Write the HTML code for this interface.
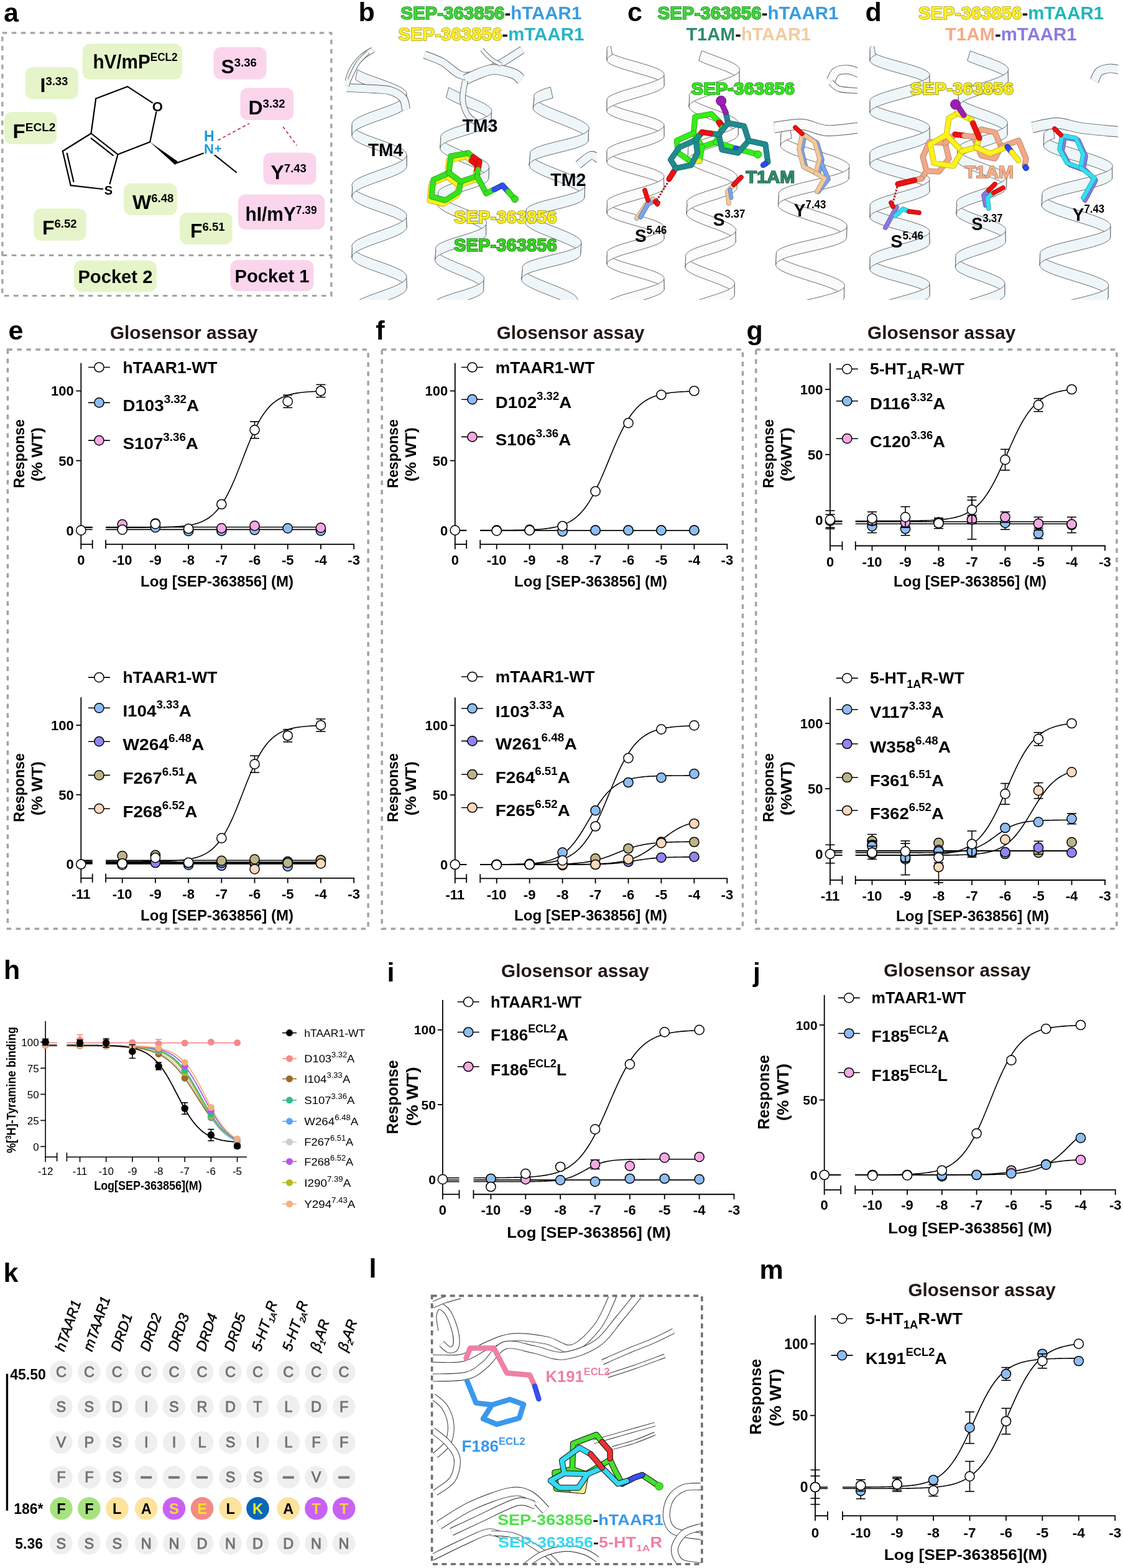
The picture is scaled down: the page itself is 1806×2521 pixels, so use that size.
<!DOCTYPE html>
<html><head><meta charset="utf-8"><title>Figure</title>
<style>html,body{margin:0;padding:0;background:#fff;} svg{display:block;} text{font-family:"Liberation Sans",Arial,Helvetica,sans-serif;}</style>
</head><body>
<svg width="1806" height="2521" viewBox="0 0 1806 2521">
<rect x="0" y="0" width="1806" height="2521" fill="#fff"/>
<defs><clipPath id="cb"><rect x="555" y="74" width="405" height="408"/></clipPath><clipPath id="cc"><rect x="975" y="74" width="404" height="408"/></clipPath><clipPath id="cd"><rect x="1393" y="74" width="405" height="408"/></clipPath><clipPath id="cl"><rect x="696" y="2085" width="431" height="428"/></clipPath></defs>
<path d="M857.3,174.4 L857.9,176.4 L859.4,178.4 L861.5,180.4 L864.4,182.5 L867.9,184.7 L872.0,186.9 L876.6,189.1 L881.6,191.3 L887.0,193.6 L892.6,195.9 L898.4,198.2 L904.2,200.5 L910.0,202.8 L915.6,205.1 L921.1,207.3 L926.1,209.6 L930.8,211.8 L934.9,214.0 L938.5,216.1 L941.5,218.2 L943.7,220.3 L945.2,222.3 L946.0,224.3 L946.0,226.2 L946.6,209.0 L947.3,207.2 L947.2,205.3 L946.4,203.3 L944.8,201.3 L942.5,199.2 L939.5,197.1 L935.9,195.0 L931.7,192.8 L927.0,190.5 L921.9,188.3 L916.4,186.0 L910.8,183.7 L905.0,181.4 L899.1,179.1 L893.4,176.8 L887.7,174.5 L882.4,172.3 L877.4,170.0 L872.9,167.8 L868.8,165.6 L865.4,163.5 L862.6,161.4 L860.5,159.4 L859.1,157.4Z" fill="#eef6fa" stroke="#5a5a5a" stroke-width="0.9" stroke-linejoin="round" clip-path="url(#cb)"/>
<path d="M851.0,265.5 L851.4,267.4 L852.5,269.4 L854.4,271.5 L857.0,273.5 L860.3,275.7 L864.2,277.8 L868.6,280.0 L873.4,282.3 L878.7,284.5 L884.2,286.8 L890.0,289.1 L895.8,291.4 L901.6,293.7 L907.3,296.0 L912.9,298.3 L918.1,300.5 L922.9,302.8 L927.2,305.0 L931.0,307.1 L934.2,309.2 L936.7,311.3 L938.5,313.3 L939.6,315.3 L939.9,317.3 L940.7,300.1 L941.2,298.2 L940.8,296.3 L939.7,294.3 L937.8,292.3 L935.2,290.2 L932.0,288.1 L928.2,285.9 L923.8,283.7 L918.9,281.5 L913.7,279.2 L908.1,276.9 L902.4,274.7 L896.6,272.4 L890.7,270.1 L885.0,267.8 L879.5,265.5 L874.3,263.2 L869.4,261.0 L865.1,258.8 L861.3,256.6 L858.0,254.5 L855.5,252.4 L853.7,250.4 L852.6,248.4Z" fill="#eef6fa" stroke="#5a5a5a" stroke-width="0.9" stroke-linejoin="round" clip-path="url(#cb)"/>
<path d="M844.9,356.6 L845.0,358.5 L845.8,360.5 L847.4,362.5 L849.8,364.5 L852.8,366.6 L856.4,368.8 L860.6,371.0 L865.4,373.2 L870.5,375.5 L875.9,377.7 L881.6,380.0 L887.4,382.3 L893.2,384.6 L899.0,386.9 L904.6,389.2 L909.9,391.5 L914.9,393.7 L919.5,395.9 L923.5,398.1 L926.9,400.2 L929.7,402.3 L931.8,404.4 L933.1,406.4 L933.7,408.3 L934.8,391.2 L934.9,389.3 L934.3,387.4 L932.9,385.4 L930.7,383.3 L927.9,381.2 L924.4,379.1 L920.4,376.9 L915.8,374.7 L910.8,372.4 L905.4,370.2 L899.8,367.9 L894.0,365.6 L888.2,363.3 L882.4,361.0 L876.7,358.7 L871.3,356.4 L866.2,354.2 L861.5,352.0 L857.4,349.8 L853.8,347.6 L850.8,345.5 L848.5,343.4 L847.0,341.4 L846.2,339.5Z" fill="#eef6fa" stroke="#5a5a5a" stroke-width="0.9" stroke-linejoin="round" clip-path="url(#cb)"/>
<path d="M838.6,449.6 L839.2,451.5 L840.5,453.5 L842.6,455.5 L845.4,457.6 L848.8,459.8 L852.8,462.0 L857.3,464.2 L862.3,466.4 L867.6,468.7 L873.2,471.0 L879.0,473.3 L884.8,475.6 L890.6,477.9 L896.3,480.1 L901.8,482.4 L906.9,484.7 L911.6,486.9 L915.8,489.1 L919.5,491.2 L922.5,493.3 L924.9,495.4 L926.5,497.4 L927.3,499.4 L927.4,501.3 L928.1,484.2 L928.7,482.3 L928.6,480.4 L927.6,478.4 L926.0,476.4 L923.5,474.3 L920.5,472.2 L916.8,470.0 L912.5,467.9 L907.7,465.6 L902.6,463.4 L897.1,461.1 L891.4,458.8 L885.6,456.5 L879.8,454.2 L874.0,451.9 L868.4,449.6 L863.1,447.4 L858.2,445.1 L853.7,442.9 L849.7,440.7 L846.4,438.6 L843.7,436.5 L841.7,434.5 L840.4,432.5Z" fill="#eef6fa" stroke="#5a5a5a" stroke-width="0.9" stroke-linejoin="round" clip-path="url(#cb)"/>
<path d="M889.1,157.5 L883.4,159.0 L878.2,160.6 L873.4,162.2 L869.1,163.8 L865.3,165.4 L862.3,167.1 L859.9,168.9 L858.3,170.7 L857.4,172.5 L857.3,174.4 L859.1,157.4 L858.5,155.4 L858.7,153.5 L859.6,151.7 L861.3,149.9 L863.8,148.2 L866.9,146.5 L870.7,144.8 L875.0,143.2 L879.9,141.6 L885.2,140.1Z" fill="#eef6fa" stroke="#5a5a5a" stroke-width="0.9" stroke-linejoin="round" clip-path="url(#cb)"/>
<path d="M946.0,226.2 L945.2,228.0 L943.7,229.8 L941.4,231.6 L938.4,233.3 L934.8,234.9 L930.5,236.6 L925.8,238.1 L920.6,239.7 L915.0,241.2 L909.2,242.7 L903.1,244.2 L897.0,245.7 L891.0,247.2 L885.0,248.7 L879.3,250.3 L873.9,251.8 L868.9,253.4 L864.4,255.0 L860.5,256.6 L857.1,258.3 L854.5,260.0 L852.6,261.8 L851.4,263.6 L851.0,265.5 L852.6,248.4 L852.3,246.5 L852.8,244.6 L854.0,242.8 L856.0,241.0 L858.7,239.3 L862.1,237.6 L866.1,236.0 L870.6,234.4 L875.6,232.8 L881.1,231.3 L886.8,229.8 L892.8,228.3 L898.9,226.8 L904.9,225.3 L910.9,223.8 L916.8,222.3 L922.3,220.7 L927.5,219.2 L932.2,217.6 L936.4,216.0 L940.0,214.3 L942.9,212.6 L945.1,210.8 L946.6,209.0Z" fill="#eef6fa" stroke="#5a5a5a" stroke-width="0.9" stroke-linejoin="round" clip-path="url(#cb)"/>
<path d="M939.9,317.3 L939.4,319.1 L938.1,320.9 L936.1,322.7 L933.4,324.4 L930.0,326.1 L926.0,327.8 L921.4,329.3 L916.4,330.9 L910.9,332.5 L905.2,334.0 L899.2,335.5 L893.1,337.0 L887.1,338.5 L881.1,340.0 L875.2,341.5 L869.7,343.0 L864.5,344.6 L859.8,346.2 L855.7,347.8 L852.1,349.4 L849.2,351.2 L847.0,352.9 L845.6,354.7 L844.9,356.6 L846.2,339.5 L846.2,337.6 L846.9,335.7 L848.5,333.9 L850.7,332.2 L853.7,330.5 L857.3,328.8 L861.5,327.2 L866.3,325.6 L871.4,324.0 L877.0,322.5 L882.8,321.0 L888.9,319.5 L894.9,318.0 L901.0,316.5 L907.0,315.0 L912.7,313.5 L918.1,311.9 L923.1,310.4 L927.6,308.8 L931.6,307.1 L934.9,305.4 L937.6,303.7 L939.6,301.9 L940.7,300.1Z" fill="#eef6fa" stroke="#5a5a5a" stroke-width="0.9" stroke-linejoin="round" clip-path="url(#cb)"/>
<path d="M933.7,408.3 L933.5,410.2 L932.5,412.1 L930.8,413.8 L928.3,415.6 L925.2,417.3 L921.4,418.9 L917.0,420.5 L912.1,422.1 L906.8,423.7 L901.2,425.2 L895.3,426.7 L889.2,428.2 L883.1,429.7 L877.1,431.2 L871.2,432.7 L865.5,434.2 L860.2,435.8 L855.4,437.3 L851.0,439.0 L847.2,440.6 L844.0,442.3 L841.6,444.0 L839.8,445.8 L838.8,447.7 L838.6,449.6 L840.4,432.5 L839.9,430.5 L840.2,428.7 L841.2,426.8 L843.0,425.0 L845.5,423.3 L848.8,421.6 L852.6,420.0 L857.0,418.4 L862.0,416.8 L867.3,415.2 L873.0,413.7 L878.9,412.2 L884.9,410.7 L891.0,409.2 L897.1,407.7 L902.9,406.2 L908.6,404.7 L913.8,403.1 L918.7,401.6 L923.0,399.9 L926.7,398.3 L929.8,396.6 L932.2,394.8 L933.9,393.1 L934.8,391.2Z" fill="#eef6fa" stroke="#5a5a5a" stroke-width="0.9" stroke-linejoin="round" clip-path="url(#cb)"/>
<path d="M927.4,501.3 L926.8,503.2 L925.3,505.0 L923.1,506.7 L920.2,508.4 L916.7,510.1 L912.5,511.7 L907.8,513.3 L902.7,514.9 L897.1,516.4 L891.3,517.9 L885.3,519.4 L879.2,520.9 L873.2,522.4 L867.2,523.9 L861.4,525.4 L856.0,527.0 L852.6,509.6 L857.7,508.0 L863.2,506.5 L869.0,504.9 L875.0,503.4 L881.0,501.9 L887.1,500.4 L893.1,498.9 L898.9,497.4 L904.4,495.9 L909.5,494.3 L914.2,492.7 L918.3,491.1 L921.8,489.4 L924.6,487.7 L926.7,486.0 L928.1,484.2Z" fill="#eef6fa" stroke="#5a5a5a" stroke-width="0.9" stroke-linejoin="round" clip-path="url(#cb)"/>
<path d="M717.6,156.4 L720.6,158.4 L724.1,160.5 L728.0,162.5 L732.3,164.6 L737.0,166.6 L741.9,168.7 L746.9,170.8 L752.0,172.9 L757.1,175.0 L762.1,177.1 L766.9,179.2 L771.4,181.3 L775.6,183.3 L779.3,185.4 L782.6,187.4 L785.3,189.4 L787.5,191.3 L789.0,193.2 L789.8,195.1 L790.0,197.0 L790.2,181.0 L790.8,179.2 L790.7,177.3 L789.9,175.4 L788.5,173.5 L786.4,171.5 L783.7,169.5 L780.5,167.5 L776.8,165.5 L772.7,163.4 L768.2,161.4 L763.4,159.3 L758.4,157.2 L753.4,155.1 L748.2,153.0 L743.2,150.9 L738.3,148.8 L733.6,146.7 L729.2,144.7 L725.3,142.6 L721.7,140.6Z" fill="#eef6fa" stroke="#5a5a5a" stroke-width="0.9" stroke-linejoin="round" clip-path="url(#cb)"/>
<path d="M707.8,238.0 L708.0,239.8 L708.9,241.7 L710.4,243.7 L712.6,245.6 L715.4,247.6 L718.6,249.6 L722.4,251.7 L726.6,253.7 L731.2,255.8 L736.0,257.9 L741.0,260.0 L746.1,262.1 L751.2,264.2 L756.2,266.3 L761.1,268.4 L765.7,270.4 L770.0,272.5 L773.9,274.5 L777.4,276.6 L780.3,278.6 L782.6,280.5 L784.4,282.5 L785.5,284.4 L785.9,286.3 L786.4,270.3 L786.7,268.4 L786.4,266.5 L785.3,264.6 L783.7,262.7 L781.4,260.7 L778.5,258.7 L775.1,256.7 L771.3,254.7 L767.0,252.6 L762.4,250.5 L757.5,248.4 L752.5,246.4 L747.4,244.3 L742.3,242.2 L737.3,240.1 L732.5,238.0 L727.9,235.9 L723.7,233.8 L719.8,231.8 L716.5,229.8 L713.7,227.8 L711.5,225.8 L709.9,223.9 L708.9,222.0Z" fill="#eef6fa" stroke="#5a5a5a" stroke-width="0.9" stroke-linejoin="round" clip-path="url(#cb)"/>
<path d="M703.8,327.2 L703.7,329.1 L704.4,331.0 L705.7,332.9 L707.6,334.8 L710.2,336.8 L713.3,338.8 L716.9,340.9 L721.0,342.9 L725.4,345.0 L730.1,347.1 L735.0,349.1 L740.1,351.2 L745.2,353.3 L750.3,355.4 L755.3,357.5 L760.0,359.6 L764.4,361.7 L768.5,363.7 L772.1,365.8 L775.2,367.8 L777.7,369.7 L779.7,371.7 L781.0,373.6 L781.7,375.5 L781.6,377.4 L781.7,361.3 L782.4,359.5 L782.5,357.7 L781.9,355.8 L780.7,353.9 L778.8,351.9 L776.3,349.9 L773.3,347.9 L769.7,345.9 L765.7,343.8 L761.3,341.8 L756.6,339.7 L751.6,337.6 L746.6,335.5 L741.5,333.4 L736.4,331.3 L731.4,329.2 L726.7,327.1 L722.2,325.1 L718.1,323.0 L714.5,321.0 L711.3,319.0 L708.7,317.0 L706.7,315.1 L705.3,313.1 L704.6,311.2Z" fill="#eef6fa" stroke="#5a5a5a" stroke-width="0.9" stroke-linejoin="round" clip-path="url(#cb)"/>
<path d="M699.5,418.3 L700.0,420.2 L701.0,422.1 L702.7,424.1 L705.1,426.0 L708.0,428.0 L711.4,430.0 L715.3,432.1 L719.6,434.1 L724.3,436.2 L729.1,438.3 L734.2,440.4 L739.3,442.5 L744.4,444.6 L749.4,446.7 L754.2,448.8 L758.7,450.8 L762.9,452.9 L766.7,454.9 L770.0,457.0 L772.8,458.9 L774.9,460.9 L776.5,462.8 L777.4,464.7 L777.6,466.6 L777.9,450.6 L778.4,448.8 L778.3,446.9 L777.4,445.0 L776.0,443.1 L773.9,441.1 L771.2,439.1 L767.9,437.1 L764.2,435.1 L760.0,433.0 L755.5,430.9 L750.7,428.9 L745.7,426.8 L740.6,424.7 L735.5,422.6 L730.5,420.5 L725.6,418.4 L720.9,416.3 L716.6,414.3 L712.6,412.2 L709.1,410.2 L706.2,408.2 L703.8,406.2 L702.0,404.3 L700.9,402.4Z" fill="#eef6fa" stroke="#5a5a5a" stroke-width="0.9" stroke-linejoin="round" clip-path="url(#cb)"/>
<path d="M695.4,507.6 L695.6,509.4 L696.4,511.3 L697.9,513.3 L700.1,515.2 L702.8,517.2 L706.0,519.2 L709.8,521.3 L713.9,523.3 L718.5,525.4 L723.3,527.5 L729.6,511.7 L724.6,509.6 L719.8,507.6 L715.2,505.5 L711.0,503.4 L707.2,501.4 L703.9,499.4 L701.1,497.4 L698.9,495.4 L697.4,493.5 L696.5,491.6Z" fill="#eef6fa" stroke="#5a5a5a" stroke-width="0.9" stroke-linejoin="round" clip-path="url(#cb)"/>
<path d="M790.0,197.0 L789.5,198.9 L788.3,200.7 L786.5,202.4 L784.1,204.2 L781.0,205.9 L777.5,207.6 L773.5,209.3 L769.0,211.0 L764.3,212.6 L759.2,214.2 L754.0,215.9 L748.8,217.5 L743.5,219.1 L738.3,220.7 L733.3,222.4 L728.5,224.0 L724.1,225.7 L720.1,227.3 L716.6,229.0 L713.6,230.8 L711.2,232.5 L709.4,234.3 L708.3,236.1 L707.8,238.0 L708.9,222.0 L708.6,220.1 L709.0,218.3 L710.1,216.5 L711.8,214.7 L714.2,212.9 L717.1,211.2 L720.6,209.5 L724.5,207.8 L728.9,206.1 L733.6,204.5 L738.6,202.9 L743.8,201.2 L749.1,199.6 L754.3,198.0 L759.5,196.4 L764.6,194.7 L769.4,193.1 L773.9,191.4 L777.9,189.8 L781.5,188.1 L784.6,186.3 L787.1,184.6 L789.0,182.8 L790.2,181.0Z" fill="#eef6fa" stroke="#5a5a5a" stroke-width="0.9" stroke-linejoin="round" clip-path="url(#cb)"/>
<path d="M785.9,286.3 L785.6,288.1 L784.7,289.9 L783.1,291.7 L780.9,293.5 L778.0,295.2 L774.7,296.9 L770.8,298.6 L766.5,300.3 L761.8,301.9 L756.9,303.6 L751.8,305.2 L746.5,306.8 L741.2,308.4 L736.0,310.1 L730.9,311.7 L726.1,313.3 L721.5,315.0 L717.4,316.7 L713.7,318.3 L710.5,320.1 L707.9,321.8 L705.8,323.6 L704.5,325.4 L703.8,327.2 L704.6,311.2 L704.6,309.4 L705.2,307.5 L706.5,305.7 L708.5,304.0 L711.0,302.2 L714.1,300.5 L717.8,298.8 L721.9,297.1 L726.4,295.5 L731.2,293.8 L736.3,292.2 L741.5,290.6 L746.8,288.9 L752.1,287.3 L757.2,285.7 L762.2,284.1 L766.9,282.4 L771.2,280.8 L775.1,279.1 L778.5,277.4 L781.4,275.6 L783.7,273.9 L785.4,272.1 L786.4,270.3Z" fill="#eef6fa" stroke="#5a5a5a" stroke-width="0.9" stroke-linejoin="round" clip-path="url(#cb)"/>
<path d="M781.6,377.4 L780.9,379.2 L779.6,381.0 L777.6,382.8 L775.0,384.5 L771.8,386.2 L768.1,387.9 L763.9,389.6 L759.4,391.3 L754.6,392.9 L749.5,394.5 L744.2,396.1 L739.0,397.8 L733.7,399.4 L728.6,401.0 L723.6,402.7 L719.0,404.3 L714.7,406.0 L710.8,407.7 L707.4,409.4 L704.6,411.1 L702.4,412.9 L700.8,414.6 L699.8,416.5 L699.5,418.3 L700.9,402.4 L700.4,400.5 L700.6,398.6 L701.5,396.8 L703.0,395.0 L705.2,393.2 L707.9,391.5 L711.3,389.8 L715.1,388.1 L719.3,386.4 L724.0,384.8 L728.9,383.1 L734.0,381.5 L739.3,379.9 L744.5,378.3 L749.8,376.7 L754.9,375.0 L759.8,373.4 L764.3,371.7 L768.5,370.1 L772.3,368.4 L775.5,366.7 L778.2,364.9 L780.2,363.1 L781.7,361.3Z" fill="#eef6fa" stroke="#5a5a5a" stroke-width="0.9" stroke-linejoin="round" clip-path="url(#cb)"/>
<path d="M777.6,466.6 L777.1,468.5 L776.0,470.3 L774.2,472.1 L771.8,473.8 L768.8,475.5 L765.3,477.2 L761.3,478.9 L756.9,480.6 L752.2,482.2 L747.2,483.9 L742.0,485.5 L736.7,487.1 L731.4,488.7 L726.2,490.3 L721.2,492.0 L716.4,493.6 L712.0,495.3 L708.0,497.0 L704.4,498.7 L701.4,500.4 L698.9,502.1 L697.1,503.9 L695.9,505.7 L695.4,507.6 L696.5,491.6 L696.2,489.7 L696.7,487.9 L697.8,486.1 L699.6,484.3 L701.9,482.5 L704.9,480.8 L708.4,479.1 L712.4,477.4 L716.8,475.8 L721.5,474.1 L726.5,472.5 L731.7,470.8 L737.0,469.2 L742.3,467.6 L747.5,466.0 L752.5,464.3 L757.3,462.7 L761.7,461.0 L765.8,459.4 L769.3,457.7 L772.4,455.9 L774.8,454.2 L776.7,452.4 L777.9,450.6Z" fill="#eef6fa" stroke="#5a5a5a" stroke-width="0.9" stroke-linejoin="round" clip-path="url(#cb)"/>
<path d="M571.6,128.0 L574.8,130.0 L578.5,132.1 L582.8,134.1 L587.5,136.1 L592.6,138.2 L598.0,140.2 L603.6,142.2 L609.4,144.3 L615.1,146.3 L620.7,148.3 L626.2,150.3 L631.4,152.4 L636.2,154.4 L640.6,156.4 L644.4,158.5 L647.7,160.5 L650.4,162.5 L652.3,164.6 L653.6,166.6 L654.1,168.6 L653.8,152.6 L654.1,150.6 L653.6,148.5 L652.3,146.5 L650.3,144.5 L647.7,142.4 L644.4,140.4 L640.5,138.4 L636.2,136.4 L631.3,134.3 L626.1,132.3 L620.7,130.3 L615.0,128.2 L609.3,126.2 L603.6,124.2 L598.0,122.1 L592.6,120.1 L587.5,118.1 L582.7,116.0 L578.5,114.0 L574.7,112.0Z" fill="#eef6fa" stroke="#5a5a5a" stroke-width="0.9" stroke-linejoin="round" clip-path="url(#cb)"/>
<path d="M565.9,217.4 L566.1,219.4 L567.0,221.4 L568.6,223.4 L570.9,225.5 L573.9,227.5 L577.5,229.5 L581.6,231.6 L586.2,233.6 L591.2,235.6 L596.6,237.7 L602.1,239.7 L607.8,241.7 L613.6,243.7 L619.2,245.8 L624.8,247.8 L630.0,249.8 L635.0,251.9 L639.5,253.9 L643.5,255.9 L646.9,258.0 L649.7,260.0 L651.9,262.0 L653.3,264.1 L654.0,266.1 L654.0,250.1 L654.0,248.0 L653.3,246.0 L651.9,244.0 L649.7,241.9 L646.9,239.9 L643.4,237.9 L639.4,235.8 L634.9,233.8 L630.0,231.8 L624.7,229.8 L619.2,227.7 L613.5,225.7 L607.8,223.7 L602.1,221.6 L596.5,219.6 L591.2,217.6 L586.2,215.5 L581.6,213.5 L577.4,211.5 L573.8,209.5 L570.9,207.4 L568.6,205.4 L567.0,203.4 L566.1,201.3Z" fill="#eef6fa" stroke="#5a5a5a" stroke-width="0.9" stroke-linejoin="round" clip-path="url(#cb)"/>
<path d="M566.0,316.8 L566.7,318.9 L568.1,320.9 L570.2,322.9 L573.0,325.0 L576.5,327.0 L580.4,329.0 L584.9,331.1 L589.9,333.1 L595.1,335.1 L600.6,337.1 L606.3,339.2 L612.1,341.2 L617.8,343.2 L623.3,345.3 L628.7,347.3 L633.7,349.3 L638.3,351.4 L642.5,353.4 L646.1,355.4 L649.1,357.5 L651.4,359.5 L653.0,361.5 L653.9,363.5 L654.1,365.6 L653.5,349.6 L654.1,347.5 L653.9,345.5 L653.0,343.5 L651.4,341.4 L649.0,339.4 L646.0,337.4 L642.4,335.3 L638.3,333.3 L633.6,331.3 L628.6,329.2 L623.3,327.2 L617.7,325.2 L612.0,323.2 L606.3,321.1 L600.6,319.1 L595.1,317.1 L589.8,315.0 L584.9,313.0 L580.4,311.0 L576.4,308.9 L573.0,306.9 L570.2,304.9 L568.1,302.9 L566.7,300.8Z" fill="#eef6fa" stroke="#5a5a5a" stroke-width="0.9" stroke-linejoin="round" clip-path="url(#cb)"/>
<path d="M565.9,414.3 L566.4,416.3 L567.6,418.4 L569.6,420.4 L572.2,422.4 L575.5,424.5 L579.3,426.5 L583.7,428.5 L588.5,430.5 L593.7,432.6 L599.2,434.6 L604.8,436.6 L610.5,438.7 L616.3,440.7 L621.9,442.7 L627.3,444.8 L632.4,446.8 L637.1,448.8 L641.4,450.9 L645.2,452.9 L648.3,454.9 L650.8,456.9 L652.6,459.0 L653.7,461.0 L654.1,463.0 L653.7,447.0 L654.1,445.0 L653.7,443.0 L652.6,440.9 L650.8,438.9 L648.3,436.9 L645.1,434.8 L641.4,432.8 L637.1,430.8 L632.3,428.7 L627.2,426.7 L621.8,424.7 L616.2,422.6 L610.5,420.6 L604.7,418.6 L599.1,416.6 L593.7,414.5 L588.5,412.5 L583.7,410.5 L579.3,408.4 L575.4,406.4 L572.2,404.4 L569.6,402.3 L567.6,400.3 L566.4,398.3Z" fill="#eef6fa" stroke="#5a5a5a" stroke-width="0.9" stroke-linejoin="round" clip-path="url(#cb)"/>
<path d="M565.9,511.8 L566.2,513.8 L567.2,515.8 L569.0,517.9 L571.5,519.9 L574.6,521.9 L578.3,524.0 L582.5,526.0 L587.2,528.0 L592.3,512.0 L587.2,510.0 L582.5,507.9 L578.2,505.9 L574.5,503.9 L571.4,501.8 L569.0,499.8 L567.2,497.8 L566.2,495.7Z" fill="#eef6fa" stroke="#5a5a5a" stroke-width="0.9" stroke-linejoin="round" clip-path="url(#cb)"/>
<path d="M654.1,168.6 L653.8,170.7 L652.9,172.7 L651.2,174.7 L648.7,176.7 L645.7,178.8 L642.0,180.8 L637.8,182.8 L633.1,184.9 L628.1,186.9 L622.7,188.9 L617.1,191.0 L611.4,193.0 L605.7,195.0 L600.0,197.0 L594.5,199.1 L589.3,201.1 L584.4,203.1 L580.0,205.2 L576.0,207.2 L572.7,209.2 L569.9,211.3 L567.9,213.3 L566.5,215.3 L565.9,217.4 L566.1,201.3 L565.9,199.3 L566.6,197.3 L567.9,195.2 L570.0,193.2 L572.7,191.2 L576.1,189.1 L580.0,187.1 L584.5,185.1 L589.3,183.1 L594.6,181.0 L600.1,179.0 L605.7,177.0 L611.5,174.9 L617.2,172.9 L622.8,170.9 L628.1,168.8 L633.2,166.8 L637.9,164.8 L642.1,162.7 L645.7,160.7 L648.8,158.7 L651.2,156.7 L652.9,154.6 L653.8,152.6Z" fill="#eef6fa" stroke="#5a5a5a" stroke-width="0.9" stroke-linejoin="round" clip-path="url(#cb)"/>
<path d="M654.0,266.1 L654.0,268.1 L653.2,270.1 L651.7,272.2 L649.4,274.2 L646.6,276.2 L643.1,278.3 L639.0,280.3 L634.4,282.3 L629.5,284.4 L624.2,286.4 L618.6,288.4 L612.9,290.4 L607.2,292.5 L601.5,294.5 L596.0,296.5 L590.6,298.6 L585.7,300.6 L581.1,302.6 L577.0,304.7 L573.5,306.7 L570.6,308.7 L568.4,310.8 L566.8,312.8 L566.0,314.8 L566.0,316.8 L566.7,300.8 L566.0,298.8 L566.0,296.8 L566.8,294.7 L568.4,292.7 L570.6,290.7 L573.5,288.6 L577.1,286.6 L581.1,284.6 L585.7,282.5 L590.7,280.5 L596.0,278.5 L601.6,276.5 L607.2,274.4 L613.0,272.4 L618.7,270.4 L624.2,268.3 L629.5,266.3 L634.5,264.3 L639.0,262.2 L643.1,260.2 L646.6,258.2 L649.5,256.2 L651.7,254.1 L653.2,252.1 L654.0,250.1Z" fill="#eef6fa" stroke="#5a5a5a" stroke-width="0.9" stroke-linejoin="round" clip-path="url(#cb)"/>
<path d="M654.1,365.6 L653.5,367.6 L652.1,369.6 L650.1,371.7 L647.4,373.7 L644.0,375.7 L640.1,377.8 L635.7,379.8 L630.8,381.8 L625.6,383.8 L620.1,385.9 L614.4,387.9 L608.7,389.9 L603.0,392.0 L597.4,394.0 L592.0,396.0 L587.0,398.1 L582.3,400.1 L578.1,402.1 L574.4,404.2 L571.3,406.2 L568.9,408.2 L567.2,410.2 L566.2,412.3 L565.9,414.3 L566.4,398.3 L565.9,396.3 L566.2,394.2 L567.2,392.2 L568.9,390.2 L571.3,388.1 L574.4,386.1 L578.1,384.1 L582.3,382.0 L587.0,380.0 L592.1,378.0 L597.5,375.9 L603.1,373.9 L608.8,371.9 L614.5,369.9 L620.2,367.8 L625.6,365.8 L630.9,363.8 L635.7,361.7 L640.2,359.7 L644.1,357.7 L647.4,355.6 L650.1,353.6 L652.2,351.6 L653.5,349.6Z" fill="#eef6fa" stroke="#5a5a5a" stroke-width="0.9" stroke-linejoin="round" clip-path="url(#cb)"/>
<path d="M654.1,463.0 L653.7,465.1 L652.6,467.1 L650.7,469.1 L648.2,471.2 L645.0,473.2 L641.2,475.2 L636.9,477.3 L632.1,479.3 L627.0,481.3 L621.6,483.3 L615.9,485.4 L610.2,487.4 L604.5,489.4 L598.9,491.5 L593.4,493.5 L588.3,495.5 L583.5,497.6 L579.1,499.6 L575.3,501.6 L572.1,503.6 L569.5,505.7 L567.6,507.7 L566.4,509.7 L565.9,511.8 L566.2,495.7 L565.9,493.7 L566.4,491.7 L567.6,489.7 L569.5,487.6 L572.1,485.6 L575.3,483.6 L579.2,481.5 L583.5,479.5 L588.3,477.5 L593.5,475.4 L598.9,473.4 L604.6,471.4 L610.3,469.3 L616.0,467.3 L621.6,465.3 L627.0,463.3 L632.2,461.2 L636.9,459.2 L641.2,457.2 L645.0,455.1 L648.2,453.1 L650.7,451.1 L652.6,449.0 L653.7,447.0Z" fill="#eef6fa" stroke="#5a5a5a" stroke-width="0.9" stroke-linejoin="round" clip-path="url(#cb)"/>
<path d="M558.0,141.0 C565.0,141.3 588.3,142.2 600.0,143.0 C611.7,143.8 620.0,143.5 628.0,146.0 C636.0,148.5 643.8,153.0 648.0,158.0 C652.2,163.0 652.2,173.0 653.0,176.0" fill="none" stroke="#5a5a5a" stroke-width="13.8" stroke-linecap="butt" stroke-linejoin="round" clip-path="url(#cb)"/>
<path d="M558.0,141.0 C565.0,141.3 588.3,142.2 600.0,143.0 C611.7,143.8 620.0,143.5 628.0,146.0 C636.0,148.5 643.8,153.0 648.0,158.0 C652.2,163.0 652.2,173.0 653.0,176.0" fill="none" stroke="#eef6fa" stroke-width="12.0" stroke-linecap="butt" stroke-linejoin="round" clip-path="url(#cb)"/>
<path d="M557.0,138.0 C558.5,133.7 561.8,119.7 566.0,112.0 C570.2,104.3 576.3,97.3 582.0,92.0 C587.7,86.7 597.0,82.0 600.0,80.0" fill="none" stroke="#5a5a5a" stroke-width="9.8" stroke-linecap="butt" stroke-linejoin="round" clip-path="url(#cb)"/>
<path d="M557.0,138.0 C558.5,133.7 561.8,119.7 566.0,112.0 C570.2,104.3 576.3,97.3 582.0,92.0 C587.7,86.7 597.0,82.0 600.0,80.0" fill="none" stroke="#eef6fa" stroke-width="8.0" stroke-linecap="butt" stroke-linejoin="round" clip-path="url(#cb)"/>
<path d="M562.0,128.0 C564.2,123.7 570.0,109.3 575.0,102.0 C580.0,94.7 589.2,87.0 592.0,84.0" fill="none" stroke="#5a5a5a" stroke-width="6.8" stroke-linecap="butt" stroke-linejoin="round" clip-path="url(#cb)"/>
<path d="M562.0,128.0 C564.2,123.7 570.0,109.3 575.0,102.0 C580.0,94.7 589.2,87.0 592.0,84.0" fill="none" stroke="#eef6fa" stroke-width="5.0" stroke-linecap="butt" stroke-linejoin="round" clip-path="url(#cb)"/>
<path d="M683.0,88.0 C687.8,90.0 701.5,94.3 712.0,100.0 C722.5,105.7 733.0,120.3 746.0,122.0 C759.0,123.7 774.3,117.0 790.0,110.0 C805.7,103.0 831.7,85.0 840.0,80.0" fill="none" stroke="#5a5a5a" stroke-width="12.8" stroke-linecap="butt" stroke-linejoin="round" clip-path="url(#cb)"/>
<path d="M683.0,88.0 C687.8,90.0 701.5,94.3 712.0,100.0 C722.5,105.7 733.0,120.3 746.0,122.0 C759.0,123.7 774.3,117.0 790.0,110.0 C805.7,103.0 831.7,85.0 840.0,80.0" fill="none" stroke="#eef6fa" stroke-width="11.0" stroke-linecap="butt" stroke-linejoin="round" clip-path="url(#cb)"/>
<path d="M748.0,128.0 C755.0,125.3 777.2,113.7 790.0,112.0 C802.8,110.3 817.0,115.3 825.0,118.0 C833.0,120.7 835.8,126.3 838.0,128.0" fill="none" stroke="#5a5a5a" stroke-width="16.8" stroke-linecap="butt" stroke-linejoin="round" clip-path="url(#cb)"/>
<path d="M748.0,128.0 C755.0,125.3 777.2,113.7 790.0,112.0 C802.8,110.3 817.0,115.3 825.0,118.0 C833.0,120.7 835.8,126.3 838.0,128.0" fill="none" stroke="#eef6fa" stroke-width="15.0" stroke-linecap="butt" stroke-linejoin="round" clip-path="url(#cb)"/>
<path d="M775.0,80.0 C777.5,82.5 784.8,91.0 790.0,95.0 C795.2,99.0 803.3,102.5 806.0,104.0" fill="none" stroke="#5a5a5a" stroke-width="6.8" stroke-linecap="butt" stroke-linejoin="round" clip-path="url(#cb)"/>
<path d="M775.0,80.0 C777.5,82.5 784.8,91.0 790.0,95.0 C795.2,99.0 803.3,102.5 806.0,104.0" fill="none" stroke="#eef6fa" stroke-width="5.0" stroke-linecap="butt" stroke-linejoin="round" clip-path="url(#cb)"/>
<path d="M748.0,130.0 C747.3,135.0 743.3,150.8 744.0,160.0 C744.7,169.2 748.5,179.0 752.0,185.0 C755.5,191.0 762.8,194.2 765.0,196.0" fill="none" stroke="#5a5a5a" stroke-width="9.8" stroke-linecap="butt" stroke-linejoin="round" clip-path="url(#cb)"/>
<path d="M748.0,130.0 C747.3,135.0 743.3,150.8 744.0,160.0 C744.7,169.2 748.5,179.0 752.0,185.0 C755.5,191.0 762.8,194.2 765.0,196.0" fill="none" stroke="#eef6fa" stroke-width="8.0" stroke-linecap="butt" stroke-linejoin="round" clip-path="url(#cb)"/>
<path d="M930.0,265.0 C933.3,262.5 944.7,251.7 950.0,250.0 C955.3,248.3 960.0,254.2 962.0,255.0" fill="none" stroke="#5a5a5a" stroke-width="13.8" stroke-linecap="butt" stroke-linejoin="round" clip-path="url(#cb)"/>
<path d="M930.0,265.0 C933.3,262.5 944.7,251.7 950.0,250.0 C955.3,248.3 960.0,254.2 962.0,255.0" fill="none" stroke="#eef6fa" stroke-width="12.0" stroke-linecap="butt" stroke-linejoin="round" clip-path="url(#cb)"/>
<text x="592.00" y="250.70" font-size="29" fill="#000" font-weight="bold" textLength="56.0" lengthAdjust="spacingAndGlyphs" >TM4</text>
<text x="743.40" y="211.90" font-size="29" fill="#000" font-weight="bold" textLength="57.0" lengthAdjust="spacingAndGlyphs" >TM3</text>
<text x="885.30" y="298.60" font-size="29" fill="#000" font-weight="bold" textLength="57.0" lengthAdjust="spacingAndGlyphs" >TM2</text>
<path d="M719.0,284.0 L694.0,295.0 L691.0,322.0 L713.0,328.0 L735.0,314.0 L738.0,298.0" fill="none" stroke="#b7ac15" stroke-width="9.1" stroke-linecap="round" stroke-linejoin="round"/>
<path d="M719.0,284.0 L694.0,295.0 L691.0,322.0 L713.0,328.0 L735.0,314.0 L738.0,298.0" fill="none" stroke="#fff01e" stroke-width="7.5" stroke-linecap="round" stroke-linejoin="round"/>
<path d="M719.0,284.0 L722.0,257.0 L750.0,252.0" fill="none" stroke="#b7ac15" stroke-width="9.1" stroke-linecap="round" stroke-linejoin="round"/>
<path d="M719.0,284.0 L722.0,257.0 L750.0,252.0" fill="none" stroke="#fff01e" stroke-width="7.5" stroke-linecap="round" stroke-linejoin="round"/>
<path d="M764.0,289.0 L738.0,298.0 L719.0,284.0" fill="none" stroke="#b7ac15" stroke-width="9.1" stroke-linecap="round" stroke-linejoin="round"/>
<path d="M764.0,289.0 L738.0,298.0 L719.0,284.0" fill="none" stroke="#fff01e" stroke-width="7.5" stroke-linecap="round" stroke-linejoin="round"/>
<path d="M750.0,252.0 L758.1,258.3" fill="none" stroke="#b7ac15" stroke-width="9.1" stroke-linecap="round" stroke-linejoin="round"/>
<path d="M750.0,252.0 L758.1,258.3" fill="none" stroke="#fff01e" stroke-width="7.5" stroke-linecap="round" stroke-linejoin="round"/>
<path d="M758.1,258.3 L768.0,266.0" fill="none" stroke="#ac0b0b" stroke-width="9.1" stroke-linecap="round" stroke-linejoin="round"/>
<path d="M758.1,258.3 L768.0,266.0" fill="none" stroke="#f01010" stroke-width="7.5" stroke-linecap="round" stroke-linejoin="round"/>
<path d="M768.0,266.0 L765.8,278.6" fill="none" stroke="#ac0b0b" stroke-width="9.1" stroke-linecap="round" stroke-linejoin="round"/>
<path d="M768.0,266.0 L765.8,278.6" fill="none" stroke="#f01010" stroke-width="7.5" stroke-linecap="round" stroke-linejoin="round"/>
<path d="M765.8,278.6 L764.0,289.0" fill="none" stroke="#b7ac15" stroke-width="9.1" stroke-linecap="round" stroke-linejoin="round"/>
<path d="M765.8,278.6 L764.0,289.0" fill="none" stroke="#fff01e" stroke-width="7.5" stroke-linecap="round" stroke-linejoin="round"/>
<path d="M722.0,278.0 L697.0,289.0 L694.0,316.0 L716.0,322.0 L738.0,308.0 L741.0,292.0" fill="none" stroke="#26a214" stroke-width="9.1" stroke-linecap="round" stroke-linejoin="round"/>
<path d="M722.0,278.0 L697.0,289.0 L694.0,316.0 L716.0,322.0 L738.0,308.0 L741.0,292.0" fill="none" stroke="#35e21c" stroke-width="7.5" stroke-linecap="round" stroke-linejoin="round"/>
<path d="M722.0,278.0 L725.0,251.0 L753.0,246.0" fill="none" stroke="#26a214" stroke-width="9.1" stroke-linecap="round" stroke-linejoin="round"/>
<path d="M722.0,278.0 L725.0,251.0 L753.0,246.0" fill="none" stroke="#35e21c" stroke-width="7.5" stroke-linecap="round" stroke-linejoin="round"/>
<path d="M767.0,283.0 L741.0,292.0 L722.0,278.0" fill="none" stroke="#26a214" stroke-width="9.1" stroke-linecap="round" stroke-linejoin="round"/>
<path d="M767.0,283.0 L741.0,292.0 L722.0,278.0" fill="none" stroke="#35e21c" stroke-width="7.5" stroke-linecap="round" stroke-linejoin="round"/>
<path d="M753.0,246.0 L761.1,252.3" fill="none" stroke="#26a214" stroke-width="9.1" stroke-linecap="round" stroke-linejoin="round"/>
<path d="M753.0,246.0 L761.1,252.3" fill="none" stroke="#35e21c" stroke-width="7.5" stroke-linecap="round" stroke-linejoin="round"/>
<path d="M761.1,252.3 L771.0,260.0" fill="none" stroke="#ac0b0b" stroke-width="9.1" stroke-linecap="round" stroke-linejoin="round"/>
<path d="M761.1,252.3 L771.0,260.0" fill="none" stroke="#f01010" stroke-width="7.5" stroke-linecap="round" stroke-linejoin="round"/>
<path d="M771.0,260.0 L768.8,272.6" fill="none" stroke="#ac0b0b" stroke-width="9.1" stroke-linecap="round" stroke-linejoin="round"/>
<path d="M771.0,260.0 L768.8,272.6" fill="none" stroke="#f01010" stroke-width="7.5" stroke-linecap="round" stroke-linejoin="round"/>
<path d="M768.8,272.6 L767.0,283.0" fill="none" stroke="#26a214" stroke-width="9.1" stroke-linecap="round" stroke-linejoin="round"/>
<path d="M768.8,272.6 L767.0,283.0" fill="none" stroke="#35e21c" stroke-width="7.5" stroke-linecap="round" stroke-linejoin="round"/>
<path d="M767.0,283.0 L782.0,311.0" fill="none" stroke="#26a214" stroke-width="9.1" stroke-linecap="round" stroke-linejoin="round"/>
<path d="M767.0,283.0 L782.0,311.0" fill="none" stroke="#35e21c" stroke-width="7.5" stroke-linecap="round" stroke-linejoin="round"/>
<path d="M782.0,311.0 L795.0,304.5" fill="none" stroke="#26a214" stroke-width="9.1" stroke-linecap="round" stroke-linejoin="round"/>
<path d="M782.0,311.0 L795.0,304.5" fill="none" stroke="#35e21c" stroke-width="7.5" stroke-linecap="round" stroke-linejoin="round"/>
<path d="M795.0,304.5 L808.0,298.0" fill="none" stroke="#2239ac" stroke-width="9.1" stroke-linecap="round" stroke-linejoin="round"/>
<path d="M795.0,304.5 L808.0,298.0" fill="none" stroke="#3050f0" stroke-width="7.5" stroke-linecap="round" stroke-linejoin="round"/>
<path d="M808.0,298.0 L817.0,307.9" fill="none" stroke="#2239ac" stroke-width="9.1" stroke-linecap="round" stroke-linejoin="round"/>
<path d="M808.0,298.0 L817.0,307.9" fill="none" stroke="#3050f0" stroke-width="7.5" stroke-linecap="round" stroke-linejoin="round"/>
<path d="M817.0,307.9 L828.0,320.0" fill="none" stroke="#26a214" stroke-width="9.1" stroke-linecap="round" stroke-linejoin="round"/>
<path d="M817.0,307.9 L828.0,320.0" fill="none" stroke="#35e21c" stroke-width="7.5" stroke-linecap="round" stroke-linejoin="round"/>
<circle cx="828.0" cy="320.0" r="5.5" fill="#35e21c" stroke="#26a214" stroke-width="1"/>
<text x="812.9" y="359.0" font-size="30" font-weight="bold" fill="#fff11a" stroke="#8f8a10" stroke-width="1.7" paint-order="stroke" text-anchor="middle" textLength="166" lengthAdjust="spacingAndGlyphs">SEP-363856</text>
<text x="812.9" y="404.0" font-size="30" font-weight="bold" fill="#33d61c" stroke="#187a12" stroke-width="1.7" paint-order="stroke" text-anchor="middle" textLength="166" lengthAdjust="spacingAndGlyphs">SEP-363856</text>
<path d="M1255.2,233.4 L1255.4,235.3 L1256.4,237.4 L1258.4,239.4 L1261.3,241.5 L1265.0,243.7 L1269.5,245.8 L1274.7,248.0 L1280.5,250.2 L1286.7,252.4 L1293.4,254.7 L1300.4,257.0 L1307.5,259.2 L1314.7,261.5 L1321.8,263.7 L1328.7,266.0 L1335.3,268.2 L1341.5,270.5 L1347.1,272.7 L1352.1,274.9 L1356.4,277.0 L1359.9,279.1 L1362.6,281.2 L1364.4,283.3 L1365.2,285.3 L1365.1,287.3 L1365.3,269.9 L1366.0,267.9 L1365.8,265.9 L1364.6,263.9 L1362.5,261.9 L1359.5,259.8 L1355.7,257.6 L1351.2,255.5 L1346.0,253.3 L1340.1,251.1 L1333.8,248.8 L1327.1,246.6 L1320.1,244.3 L1312.9,242.1 L1305.8,239.8 L1298.7,237.5 L1291.8,235.3 L1285.2,233.0 L1279.1,230.8 L1273.5,228.6 L1268.6,226.4 L1264.4,224.3 L1260.9,222.2 L1258.4,220.1 L1256.7,218.0 L1255.9,216.0Z" fill="#fbfbfb" stroke="#5a5a5a" stroke-width="0.9" stroke-linejoin="round" clip-path="url(#cc)"/>
<path d="M1251.4,330.4 L1252.1,332.4 L1253.7,334.5 L1256.2,336.5 L1259.5,338.7 L1263.7,340.8 L1268.6,343.0 L1274.1,345.2 L1280.2,347.4 L1286.7,349.6 L1293.6,351.9 L1300.6,354.2 L1307.8,356.4 L1315.0,358.7 L1322.0,360.9 L1328.7,363.2 L1335.1,365.4 L1341.0,367.6 L1346.3,369.8 L1350.9,372.0 L1354.7,374.1 L1357.8,376.2 L1359.9,378.3 L1361.2,380.3 L1361.5,382.3 L1361.9,365.0 L1362.2,363.0 L1361.6,361.0 L1360.0,359.0 L1357.5,356.9 L1354.2,354.8 L1350.1,352.6 L1345.2,350.4 L1339.7,348.2 L1333.7,346.0 L1327.1,343.8 L1320.3,341.5 L1313.2,339.3 L1306.0,337.0 L1298.9,334.7 L1291.9,332.5 L1285.1,330.2 L1278.7,328.0 L1272.8,325.8 L1267.5,323.6 L1262.9,321.4 L1259.0,319.3 L1255.9,317.2 L1253.8,315.1 L1252.5,313.1Z" fill="#fbfbfb" stroke="#5a5a5a" stroke-width="0.9" stroke-linejoin="round" clip-path="url(#cc)"/>
<path d="M1247.6,425.5 L1247.9,427.5 L1249.1,429.5 L1251.2,431.6 L1254.2,433.7 L1258.0,435.8 L1262.6,438.0 L1267.8,440.1 L1273.7,442.4 L1280.0,444.6 L1286.8,446.8 L1293.8,449.1 L1300.9,451.4 L1308.1,453.6 L1315.2,455.9 L1322.1,458.1 L1328.6,460.4 L1334.7,462.6 L1340.3,464.8 L1345.2,467.0 L1349.4,469.1 L1352.8,471.3 L1355.3,473.3 L1357.0,475.4 L1357.7,477.4 L1357.5,479.4 L1357.6,462.0 L1358.4,460.1 L1358.3,458.1 L1357.2,456.0 L1355.3,454.0 L1352.4,451.9 L1348.7,449.8 L1344.3,447.6 L1339.1,445.4 L1333.4,443.2 L1327.1,441.0 L1320.4,438.7 L1313.5,436.5 L1306.3,434.2 L1299.1,431.9 L1292.0,429.7 L1285.1,427.4 L1278.5,425.2 L1272.3,422.9 L1266.7,420.7 L1261.7,418.6 L1257.3,416.4 L1253.8,414.3 L1251.1,412.2 L1249.3,410.1 L1248.4,408.1Z" fill="#fbfbfb" stroke="#5a5a5a" stroke-width="0.9" stroke-linejoin="round" clip-path="url(#cc)"/>
<path d="M1243.9,522.5 L1244.7,524.5 L1246.4,526.6 L1248.7,509.3 L1246.4,507.2 L1245.0,505.2Z" fill="#fbfbfb" stroke="#5a5a5a" stroke-width="0.9" stroke-linejoin="round" clip-path="url(#cc)"/>
<path d="M1273.2,222.2 L1268.1,223.9 L1263.9,225.8 L1260.4,227.6 L1257.7,229.5 L1256.0,231.4 L1255.2,233.4 L1255.9,216.0 L1256.1,214.0 L1257.2,212.1 L1259.3,210.2 L1262.2,208.3 L1266.0,206.5 L1270.6,204.7Z" fill="#fbfbfb" stroke="#5a5a5a" stroke-width="0.9" stroke-linejoin="round" clip-path="url(#cc)"/>
<path d="M1365.1,287.3 L1364.1,289.2 L1362.1,291.1 L1359.3,293.0 L1355.6,294.8 L1351.1,296.6 L1345.9,298.4 L1340.1,300.2 L1333.8,301.9 L1327.0,303.6 L1320.0,305.3 L1312.7,307.0 L1305.4,308.7 L1298.1,310.4 L1291.0,312.1 L1284.1,313.8 L1277.7,315.6 L1271.8,317.3 L1266.5,319.1 L1261.9,320.9 L1258.0,322.7 L1255.0,324.6 L1252.9,326.5 L1251.7,328.4 L1251.4,330.4 L1252.5,313.1 L1252.1,311.1 L1252.7,309.1 L1254.3,307.2 L1256.7,305.3 L1260.0,303.4 L1264.1,301.6 L1269.0,299.8 L1274.5,298.1 L1280.6,296.3 L1287.2,294.6 L1294.1,292.9 L1301.3,291.2 L1308.6,289.5 L1316.0,287.8 L1323.2,286.1 L1330.2,284.4 L1336.8,282.7 L1343.0,280.9 L1348.6,279.2 L1353.5,277.4 L1357.7,275.6 L1361.1,273.7 L1363.7,271.8 L1365.3,269.9Z" fill="#fbfbfb" stroke="#5a5a5a" stroke-width="0.9" stroke-linejoin="round" clip-path="url(#cc)"/>
<path d="M1361.5,382.3 L1360.9,384.3 L1359.3,386.2 L1356.9,388.1 L1353.5,390.0 L1349.4,391.8 L1344.5,393.6 L1339.0,395.3 L1332.8,397.1 L1326.2,398.8 L1319.3,400.5 L1312.1,402.2 L1304.8,403.9 L1297.4,405.6 L1290.2,407.3 L1283.3,409.0 L1276.7,410.7 L1270.5,412.5 L1264.9,414.2 L1260.0,416.0 L1255.8,417.9 L1252.4,419.7 L1249.9,421.6 L1248.3,423.5 L1247.6,425.5 L1248.4,408.1 L1248.5,406.1 L1249.5,404.2 L1251.4,402.3 L1254.2,400.4 L1257.9,398.6 L1262.4,396.8 L1267.5,395.0 L1273.3,393.2 L1279.6,391.5 L1286.4,389.8 L1293.5,388.1 L1300.7,386.4 L1308.1,384.7 L1315.4,383.0 L1322.5,381.3 L1329.3,379.6 L1335.8,377.8 L1341.7,376.1 L1347.0,374.3 L1351.7,372.5 L1355.5,370.7 L1358.6,368.8 L1360.7,366.9 L1361.9,365.0Z" fill="#fbfbfb" stroke="#5a5a5a" stroke-width="0.9" stroke-linejoin="round" clip-path="url(#cc)"/>
<path d="M1357.5,479.4 L1356.3,481.3 L1354.3,483.2 L1351.3,485.1 L1347.5,486.9 L1342.9,488.7 L1337.7,490.5 L1331.8,492.3 L1325.4,494.0 L1318.6,495.7 L1311.5,497.4 L1304.2,499.1 L1296.9,500.8 L1289.6,502.5 L1282.5,504.2 L1275.7,505.9 L1269.3,507.6 L1263.5,509.4 L1258.3,511.2 L1253.8,513.0 L1250.0,514.8 L1247.1,516.7 L1245.1,518.6 L1244.0,520.5 L1243.9,522.5 L1245.0,505.2 L1244.6,503.2 L1245.0,501.2 L1246.5,499.3 L1248.8,497.4 L1252.0,495.5 L1256.0,493.7 L1260.8,491.9 L1266.2,490.1 L1272.2,488.4 L1278.8,486.7 L1285.7,485.0 L1292.8,483.3 L1300.1,481.6 L1307.5,479.9 L1314.7,478.2 L1321.7,476.5 L1328.4,474.7 L1334.6,473.0 L1340.3,471.2 L1345.3,469.5 L1349.7,467.6 L1353.2,465.8 L1355.8,463.9 L1357.6,462.0Z" fill="#fbfbfb" stroke="#5a5a5a" stroke-width="0.9" stroke-linejoin="round" clip-path="url(#cc)"/>
<path d="M1336.0,130.0 C1337.5,127.5 1340.2,118.0 1345.0,115.0 C1349.8,112.0 1358.8,111.5 1365.0,112.0 C1371.2,112.5 1379.2,117.0 1382.0,118.0" fill="none" stroke="#5a5a5a" stroke-width="14.8" stroke-linecap="butt" stroke-linejoin="round" clip-path="url(#cc)"/>
<path d="M1336.0,130.0 C1337.5,127.5 1340.2,118.0 1345.0,115.0 C1349.8,112.0 1358.8,111.5 1365.0,112.0 C1371.2,112.5 1379.2,117.0 1382.0,118.0" fill="none" stroke="#fbfbfb" stroke-width="13.0" stroke-linecap="butt" stroke-linejoin="round" clip-path="url(#cc)"/>
<path d="M1336.0,132.0 C1338.3,133.8 1342.3,140.7 1350.0,143.0 C1357.7,145.3 1376.7,145.5 1382.0,146.0" fill="none" stroke="#5a5a5a" stroke-width="9.8" stroke-linecap="butt" stroke-linejoin="round" clip-path="url(#cc)"/>
<path d="M1336.0,132.0 C1338.3,133.8 1342.3,140.7 1350.0,143.0 C1357.7,145.3 1376.7,145.5 1382.0,146.0" fill="none" stroke="#fbfbfb" stroke-width="8.0" stroke-linecap="butt" stroke-linejoin="round" clip-path="url(#cc)"/>
<path d="M1123.7,97.4 L1127.8,99.3 L1132.3,101.2 L1137.1,103.1 L1142.0,105.0 L1147.2,106.9 L1152.3,108.8 L1157.4,110.7 L1162.4,112.6 L1167.2,114.4 L1171.6,116.3 L1175.7,118.2 L1179.4,120.1 L1182.5,121.9 L1185.1,123.8 L1187.1,125.6 L1188.4,127.4 L1189.1,129.2 L1189.1,131.0 L1188.8,114.9 L1189.5,113.1 L1189.5,111.3 L1188.9,109.5 L1187.6,107.7 L1185.6,105.9 L1183.1,104.1 L1180.0,102.2 L1176.4,100.3 L1172.3,98.5 L1167.9,96.6 L1163.1,94.7 L1158.1,92.8 L1153.0,90.9 L1147.9,89.0 L1142.8,87.1 L1137.8,85.2 L1133.0,83.3 L1128.5,81.5Z" fill="#fbfbfb" stroke="#5a5a5a" stroke-width="0.9" stroke-linejoin="round" clip-path="url(#cc)"/>
<path d="M1108.0,171.7 L1108.5,173.5 L1109.6,175.3 L1111.4,177.1 L1113.8,179.0 L1116.7,180.8 L1120.2,182.7 L1124.2,184.6 L1128.5,186.4 L1133.2,188.3 L1138.1,190.2 L1143.2,192.1 L1148.3,194.0 L1153.5,195.9 L1158.5,197.8 L1163.4,199.7 L1168.0,201.6 L1172.2,203.5 L1176.0,205.3 L1179.4,207.2 L1182.2,209.0 L1184.4,210.8 L1186.0,212.7 L1186.9,214.5 L1187.2,216.2 L1187.1,200.2 L1187.6,198.4 L1187.4,196.6 L1186.5,194.8 L1184.9,193.0 L1182.7,191.2 L1180.0,189.3 L1176.6,187.5 L1172.9,185.6 L1168.6,183.7 L1164.1,181.8 L1159.2,180.0 L1154.2,178.1 L1149.0,176.2 L1143.9,174.3 L1138.8,172.4 L1133.9,170.5 L1129.2,168.6 L1124.8,166.7 L1120.8,164.8 L1117.3,163.0 L1114.3,161.1 L1111.9,159.3 L1110.1,157.5 L1108.9,155.7Z" fill="#fbfbfb" stroke="#5a5a5a" stroke-width="0.9" stroke-linejoin="round" clip-path="url(#cc)"/>
<path d="M1106.0,257.0 L1106.2,258.8 L1107.1,260.6 L1108.6,262.4 L1110.8,264.2 L1113.5,266.1 L1116.8,267.9 L1120.6,269.8 L1124.8,271.7 L1129.3,273.6 L1134.2,275.5 L1139.2,277.4 L1144.3,279.3 L1149.5,281.1 L1154.6,283.0 L1159.5,284.9 L1164.2,286.8 L1168.6,288.7 L1172.6,290.6 L1176.1,292.4 L1179.2,294.3 L1181.6,296.1 L1183.4,297.9 L1184.6,299.7 L1185.1,301.5 L1185.4,285.5 L1185.6,283.7 L1185.1,281.9 L1183.9,280.1 L1182.1,278.3 L1179.7,276.4 L1176.7,274.6 L1173.2,272.7 L1169.3,270.9 L1164.9,269.0 L1160.2,267.1 L1155.3,265.2 L1150.2,263.3 L1145.0,261.4 L1139.9,259.5 L1134.9,257.6 L1130.0,255.7 L1125.4,253.8 L1121.2,252.0 L1117.4,250.1 L1114.1,248.2 L1111.3,246.4 L1109.1,244.6 L1107.6,242.8 L1106.7,241.0Z" fill="#fbfbfb" stroke="#5a5a5a" stroke-width="0.9" stroke-linejoin="round" clip-path="url(#cc)"/>
<path d="M1104.1,344.1 L1104.7,345.9 L1105.9,347.7 L1107.9,349.5 L1110.4,351.4 L1113.5,353.2 L1117.1,355.1 L1121.1,356.9 L1125.5,358.8 L1130.3,360.7 L1135.2,362.6 L1140.3,364.5 L1145.5,366.4 L1150.6,368.3 L1155.6,370.2 L1160.4,372.1 L1164.9,374.0 L1169.1,375.8 L1172.8,377.7 L1176.0,379.5 L1178.7,381.4 L1180.8,383.2 L1182.2,385.0 L1183.0,386.8 L1183.1,388.6 L1182.9,372.5 L1183.5,370.7 L1183.5,369.0 L1182.7,367.2 L1181.3,365.4 L1179.3,363.5 L1176.6,361.7 L1173.4,359.8 L1169.8,358.0 L1165.6,356.1 L1161.1,354.2 L1156.3,352.3 L1151.3,350.4 L1146.2,348.5 L1141.1,346.6 L1135.9,344.7 L1131.0,342.9 L1126.2,341.0 L1121.8,339.1 L1117.7,337.2 L1114.1,335.3 L1111.0,333.5 L1108.4,331.7 L1106.5,329.8 L1105.1,328.0Z" fill="#fbfbfb" stroke="#5a5a5a" stroke-width="0.9" stroke-linejoin="round" clip-path="url(#cc)"/>
<path d="M1102.0,429.4 L1102.4,431.2 L1103.4,433.0 L1105.0,434.8 L1107.3,436.6 L1110.2,438.5 L1113.6,440.3 L1117.5,442.2 L1121.8,444.1 L1126.4,445.9 L1131.3,447.8 L1136.4,449.7 L1141.5,451.6 L1146.6,453.5 L1151.7,455.4 L1156.6,457.3 L1161.2,459.2 L1165.5,461.1 L1169.4,462.9 L1172.9,464.8 L1175.8,466.7 L1178.1,468.5 L1179.8,470.3 L1180.8,472.1 L1181.2,473.9 L1181.3,457.8 L1181.6,456.0 L1181.3,454.2 L1180.3,452.4 L1178.6,450.6 L1176.3,448.8 L1173.5,447.0 L1170.1,445.1 L1166.2,443.2 L1161.9,441.4 L1157.3,439.5 L1152.4,437.6 L1147.4,435.7 L1142.2,433.8 L1137.1,431.9 L1132.0,430.0 L1127.1,428.1 L1122.5,426.2 L1118.1,424.3 L1114.2,422.5 L1110.8,420.6 L1107.9,418.8 L1105.6,416.9 L1103.9,415.1 L1102.8,413.3Z" fill="#fbfbfb" stroke="#5a5a5a" stroke-width="0.9" stroke-linejoin="round" clip-path="url(#cc)"/>
<path d="M1100.1,514.7 L1100.1,516.5 L1100.9,518.2 L1102.3,520.1 L1104.4,521.9 L1107.0,523.7 L1110.2,525.6 L1113.9,527.4 L1118.7,511.5 L1114.6,509.6 L1110.9,507.7 L1107.6,505.9 L1104.9,504.0 L1102.8,502.2 L1101.4,500.4 L1100.6,498.6Z" fill="#fbfbfb" stroke="#5a5a5a" stroke-width="0.9" stroke-linejoin="round" clip-path="url(#cc)"/>
<path d="M1189.1,131.0 L1188.4,132.7 L1187.1,134.5 L1185.1,136.2 L1182.5,137.9 L1179.4,139.6 L1175.7,141.3 L1171.6,143.0 L1167.1,144.7 L1162.3,146.3 L1157.2,148.0 L1152.1,149.6 L1146.8,151.3 L1141.6,153.0 L1136.5,154.6 L1131.6,156.3 L1127.0,158.0 L1122.8,159.6 L1118.9,161.3 L1115.6,163.0 L1112.8,164.7 L1110.7,166.5 L1109.1,168.2 L1108.2,170.0 L1108.0,171.7 L1108.9,155.7 L1108.4,153.9 L1108.6,152.1 L1109.5,150.3 L1111.0,148.6 L1113.1,146.9 L1115.9,145.2 L1119.2,143.5 L1122.9,141.8 L1127.2,140.1 L1131.8,138.4 L1136.6,136.8 L1141.7,135.1 L1146.9,133.4 L1152.2,131.8 L1157.4,130.1 L1162.4,128.5 L1167.2,126.8 L1171.8,125.1 L1175.9,123.4 L1179.6,121.8 L1182.8,120.1 L1185.4,118.3 L1187.4,116.6 L1188.8,114.9Z" fill="#fbfbfb" stroke="#5a5a5a" stroke-width="0.9" stroke-linejoin="round" clip-path="url(#cc)"/>
<path d="M1187.2,216.2 L1186.8,218.0 L1185.7,219.8 L1183.9,221.5 L1181.6,223.2 L1178.7,224.9 L1175.2,226.6 L1171.2,228.3 L1166.9,230.0 L1162.2,231.7 L1157.2,233.3 L1152.1,235.0 L1146.9,236.6 L1141.6,238.3 L1136.5,240.0 L1131.5,241.6 L1126.8,243.3 L1122.4,245.0 L1118.4,246.6 L1114.8,248.3 L1111.8,250.0 L1109.4,251.8 L1107.6,253.5 L1106.5,255.3 L1106.0,257.0 L1106.7,241.0 L1106.4,239.2 L1106.9,237.4 L1108.0,235.6 L1109.7,233.9 L1112.1,232.2 L1115.1,230.5 L1118.6,228.8 L1122.5,227.1 L1126.9,225.4 L1131.6,223.8 L1136.6,222.1 L1141.7,220.4 L1147.0,218.8 L1152.2,217.1 L1157.3,215.5 L1162.3,213.8 L1167.0,212.1 L1171.4,210.5 L1175.4,208.8 L1178.9,207.1 L1181.9,205.4 L1184.2,203.6 L1186.0,201.9 L1187.1,200.2Z" fill="#fbfbfb" stroke="#5a5a5a" stroke-width="0.9" stroke-linejoin="round" clip-path="url(#cc)"/>
<path d="M1185.1,301.5 L1185.0,303.3 L1184.2,305.1 L1182.7,306.8 L1180.6,308.5 L1177.9,310.3 L1174.6,312.0 L1170.8,313.6 L1166.6,315.3 L1162.0,317.0 L1157.2,318.7 L1152.1,320.3 L1146.9,322.0 L1141.6,323.6 L1136.4,325.3 L1131.4,327.0 L1126.6,328.6 L1122.0,330.3 L1117.9,332.0 L1114.1,333.7 L1110.9,335.4 L1108.3,337.1 L1106.3,338.8 L1104.9,340.6 L1104.1,342.3 L1104.1,344.1 L1105.1,328.0 L1104.5,326.2 L1104.5,324.5 L1105.2,322.7 L1106.6,321.0 L1108.6,319.2 L1111.2,317.5 L1114.4,315.8 L1118.0,314.1 L1122.2,312.4 L1126.7,310.8 L1131.5,309.1 L1136.6,307.4 L1141.8,305.8 L1147.0,304.1 L1152.2,302.5 L1157.3,300.8 L1162.2,299.1 L1166.8,297.5 L1171.0,295.8 L1174.8,294.1 L1178.1,292.4 L1180.9,290.7 L1183.0,289.0 L1184.5,287.2 L1185.4,285.5Z" fill="#fbfbfb" stroke="#5a5a5a" stroke-width="0.9" stroke-linejoin="round" clip-path="url(#cc)"/>
<path d="M1183.1,388.6 L1182.6,390.4 L1181.3,392.1 L1179.5,393.8 L1177.0,395.6 L1173.9,397.3 L1170.3,399.0 L1166.3,400.7 L1161.8,402.3 L1157.1,404.0 L1152.1,405.7 L1146.9,407.3 L1141.7,409.0 L1136.4,410.6 L1131.3,412.3 L1126.4,413.9 L1121.7,415.6 L1117.4,417.3 L1113.5,419.0 L1110.1,420.7 L1107.3,422.4 L1105.0,424.1 L1103.3,425.9 L1102.3,427.6 L1102.0,429.4 L1102.8,413.3 L1102.4,411.5 L1102.7,409.8 L1103.7,408.0 L1105.3,406.3 L1107.5,404.5 L1110.4,402.8 L1113.7,401.1 L1117.6,399.4 L1121.9,397.8 L1126.5,396.1 L1131.4,394.4 L1136.6,392.8 L1141.8,391.1 L1147.0,389.4 L1152.2,387.8 L1157.2,386.1 L1162.0,384.5 L1166.5,382.8 L1170.5,381.1 L1174.1,379.4 L1177.2,377.7 L1179.8,376.0 L1181.7,374.3 L1182.9,372.5Z" fill="#fbfbfb" stroke="#5a5a5a" stroke-width="0.9" stroke-linejoin="round" clip-path="url(#cc)"/>
<path d="M1181.2,473.9 L1180.9,475.7 L1179.9,477.4 L1178.3,479.2 L1176.0,480.9 L1173.2,482.6 L1169.8,484.3 L1165.9,486.0 L1161.6,487.7 L1157.0,489.3 L1152.0,491.0 L1146.9,492.6 L1141.7,494.3 L1136.5,496.0 L1131.3,497.6 L1126.3,499.3 L1121.5,500.9 L1117.0,502.6 L1113.0,504.3 L1109.4,506.0 L1106.3,507.7 L1103.8,509.4 L1101.9,511.2 L1100.6,512.9 L1100.1,514.7 L1100.6,498.6 L1100.5,496.8 L1101.0,495.0 L1102.2,493.3 L1104.1,491.6 L1106.5,489.8 L1109.6,488.1 L1113.2,486.4 L1117.2,484.8 L1121.6,483.1 L1126.4,481.4 L1131.4,479.8 L1136.6,478.1 L1141.8,476.4 L1147.0,474.8 L1152.2,473.1 L1157.1,471.5 L1161.8,469.8 L1166.1,468.1 L1170.0,466.4 L1173.4,464.7 L1176.3,463.0 L1178.6,461.3 L1180.2,459.6 L1181.3,457.8Z" fill="#fbfbfb" stroke="#5a5a5a" stroke-width="0.9" stroke-linejoin="round" clip-path="url(#cc)"/>
<path d="M976.0,96.7 L976.5,98.4 L977.9,100.1 L979.9,101.8 L982.7,103.5 L986.2,105.2 L990.3,106.9 L994.9,108.6 L999.9,110.3 L1005.4,112.0 L1011.1,113.7 L1017.0,115.4 L1023.0,117.1 L1028.9,118.8 L1034.8,120.5 L1040.4,122.2 L1045.7,123.9 L1050.7,125.6 L1055.1,127.3 L1059.0,128.9 L1062.2,130.6 L1064.8,132.3 L1066.6,134.0 L1067.7,135.7 L1068.1,137.4 L1067.8,121.1 L1068.1,119.4 L1067.6,117.7 L1066.3,116.0 L1064.3,114.3 L1061.6,112.6 L1058.2,110.9 L1054.1,109.2 L1049.6,107.5 L1044.6,105.8 L1039.2,104.1 L1033.5,102.4 L1027.6,100.7 L1021.6,99.0 L1015.6,97.3 L1009.8,95.6 L1004.1,93.9 L998.8,92.2 L993.8,90.5 L989.3,88.8 L985.4,87.1 L982.1,85.4 L979.4,83.7 L977.5,82.0 L976.3,80.3Z" fill="#fbfbfb" stroke="#5a5a5a" stroke-width="0.9" stroke-linejoin="round" clip-path="url(#cc)"/>
<path d="M975.9,178.2 L976.3,179.9 L977.4,181.6 L979.3,183.3 L981.9,185.0 L985.2,186.7 L989.1,188.4 L993.6,190.1 L998.5,191.8 L1003.9,193.5 L1009.5,195.2 L1015.4,196.9 L1021.4,198.6 L1027.3,200.3 L1033.2,202.0 L1038.9,203.7 L1044.4,205.4 L1049.4,207.1 L1054.0,208.8 L1058.0,210.5 L1061.4,212.2 L1064.2,213.9 L1066.2,215.6 L1067.5,217.3 L1068.0,219.0 L1067.9,202.6 L1068.0,200.9 L1067.3,199.2 L1065.8,197.5 L1063.6,195.8 L1060.7,194.1 L1057.1,192.4 L1053.0,190.7 L1048.3,189.0 L1043.2,187.3 L1037.7,185.6 L1031.9,183.9 L1026.0,182.2 L1020.0,180.5 L1014.0,178.8 L1008.2,177.2 L1002.6,175.5 L997.4,173.8 L992.5,172.1 L988.2,170.4 L984.4,168.7 L981.3,167.0 L978.8,165.3 L977.1,163.6 L976.2,161.9Z" fill="#fbfbfb" stroke="#5a5a5a" stroke-width="0.9" stroke-linejoin="round" clip-path="url(#cc)"/>
<path d="M976.0,259.8 L976.1,261.5 L977.1,263.2 L978.7,264.9 L981.2,266.6 L984.3,268.3 L988.0,270.0 L992.3,271.7 L997.2,273.4 L1002.4,275.0 L1008.0,276.7 L1013.8,278.4 L1019.7,280.1 L1025.7,281.8 L1031.7,283.5 L1037.4,285.2 L1042.9,286.9 L1048.1,288.6 L1052.8,290.3 L1057.0,292.0 L1060.6,293.7 L1063.5,295.4 L1065.8,297.1 L1067.2,298.8 L1068.0,300.5 L1067.9,302.2 L1067.4,285.9 L1068.0,284.2 L1067.9,282.5 L1067.0,280.8 L1065.3,279.1 L1062.9,277.4 L1059.8,275.7 L1056.1,274.0 L1051.8,272.3 L1047.0,270.6 L1041.7,268.9 L1036.1,267.2 L1030.3,265.5 L1024.4,263.8 L1018.4,262.1 L1012.5,260.4 L1006.7,258.7 L1001.2,257.0 L996.0,255.3 L991.3,253.6 L987.1,251.9 L983.5,250.2 L980.5,248.5 L978.3,246.8 L976.8,245.1 L976.0,243.4Z" fill="#fbfbfb" stroke="#5a5a5a" stroke-width="0.9" stroke-linejoin="round" clip-path="url(#cc)"/>
<path d="M976.0,343.0 L976.7,344.7 L978.2,346.4 L980.4,348.1 L983.4,349.8 L987.0,351.5 L991.1,353.2 L995.8,354.9 L1001.0,356.6 L1006.5,358.3 L1012.2,360.0 L1018.1,361.7 L1024.1,363.4 L1030.1,365.1 L1035.9,366.8 L1041.5,368.5 L1046.7,370.2 L1051.6,371.9 L1055.9,373.6 L1059.7,375.3 L1062.8,377.0 L1065.2,378.7 L1066.9,380.4 L1067.9,382.1 L1068.0,383.8 L1067.6,367.4 L1068.1,365.7 L1067.7,364.0 L1066.6,362.3 L1064.7,360.6 L1062.1,358.9 L1058.9,357.2 L1055.0,355.5 L1050.5,353.8 L1045.6,352.1 L1040.3,350.4 L1034.6,348.7 L1028.8,347.0 L1022.8,345.3 L1016.8,343.6 L1010.9,341.9 L1005.2,340.2 L999.8,338.5 L994.7,336.8 L990.1,335.1 L986.1,333.4 L982.6,331.7 L979.9,330.0 L977.8,328.3 L976.5,326.6Z" fill="#fbfbfb" stroke="#5a5a5a" stroke-width="0.9" stroke-linejoin="round" clip-path="url(#cc)"/>
<path d="M976.0,424.5 L976.5,426.2 L977.7,427.9 L979.8,429.6 L982.5,431.3 L985.9,433.0 L990.0,434.7 L994.5,436.4 L999.5,438.1 L1005.0,439.8 L1010.7,441.5 L1016.5,443.2 L1022.5,444.9 L1028.5,446.6 L1034.4,448.3 L1040.0,450.0 L1045.4,451.7 L1050.3,453.4 L1054.8,455.1 L1058.7,456.8 L1062.0,458.5 L1064.6,460.2 L1066.5,461.9 L1067.7,463.6 L1068.1,465.3 L1067.8,449.0 L1068.0,447.3 L1067.5,445.6 L1066.2,443.9 L1064.1,442.2 L1061.3,440.5 L1057.9,438.8 L1053.8,437.1 L1049.2,435.4 L1044.2,433.7 L1038.8,432.0 L1033.1,430.3 L1027.2,428.6 L1021.2,426.9 L1015.2,425.2 L1009.3,423.5 L1003.7,421.8 L998.4,420.1 L993.4,418.4 L989.0,416.7 L985.1,415.0 L981.8,413.3 L979.2,411.6 L977.4,409.9 L976.3,408.2Z" fill="#fbfbfb" stroke="#5a5a5a" stroke-width="0.9" stroke-linejoin="round" clip-path="url(#cc)"/>
<path d="M975.9,506.1 L976.2,507.8 L977.3,509.5 L979.2,511.2 L981.7,512.9 L985.0,514.6 L988.8,516.3 L993.2,518.0 L998.2,519.7 L1003.5,521.4 L1009.1,523.1 L1015.0,524.8 L1020.9,526.5 L1026.9,528.2 L1031.5,511.8 L1025.6,510.1 L1019.6,508.4 L1013.6,506.7 L1007.8,505.0 L1002.2,503.3 L997.0,501.6 L992.2,499.9 L987.9,498.2 L984.2,496.5 L981.1,494.8 L978.7,493.1 L977.0,491.4 L976.1,489.7Z" fill="#fbfbfb" stroke="#5a5a5a" stroke-width="0.9" stroke-linejoin="round" clip-path="url(#cc)"/>
<path d="M984.5,88.2 L981.4,89.9 L978.9,91.6 L977.2,93.3 L976.2,95.0 L976.0,96.7 L976.3,80.3 L975.9,78.6 L976.3,76.9 L977.5,75.2 L979.4,73.5 L982.0,71.8Z" fill="#fbfbfb" stroke="#5a5a5a" stroke-width="0.9" stroke-linejoin="round" clip-path="url(#cc)"/>
<path d="M1068.1,137.4 L1067.6,139.1 L1066.4,140.8 L1064.4,142.5 L1061.7,144.2 L1058.3,145.9 L1054.3,147.6 L1049.8,149.3 L1044.8,151.0 L1039.4,152.7 L1033.7,154.4 L1027.8,156.1 L1021.8,157.8 L1015.9,159.5 L1010.0,161.2 L1004.3,162.9 L998.9,164.6 L994.0,166.3 L989.5,168.0 L985.5,169.7 L982.2,171.4 L979.5,173.1 L977.6,174.8 L976.4,176.5 L975.9,178.2 L976.2,161.9 L976.0,160.2 L976.6,158.5 L977.9,156.8 L980.0,155.1 L982.9,153.4 L986.3,151.7 L990.4,150.0 L995.1,148.3 L1000.1,146.6 L1005.6,144.9 L1011.3,143.2 L1017.2,141.5 L1023.2,139.8 L1029.2,138.1 L1035.0,136.4 L1040.6,134.7 L1045.9,133.0 L1050.8,131.3 L1055.3,129.6 L1059.1,127.9 L1062.3,126.2 L1064.9,124.5 L1066.7,122.8 L1067.8,121.1Z" fill="#fbfbfb" stroke="#5a5a5a" stroke-width="0.9" stroke-linejoin="round" clip-path="url(#cc)"/>
<path d="M1068.0,219.0 L1067.8,220.7 L1066.8,222.4 L1065.0,224.1 L1062.5,225.8 L1059.3,227.5 L1055.4,229.2 L1051.0,230.9 L1046.2,232.6 L1040.9,234.3 L1035.2,236.0 L1029.4,237.7 L1023.4,239.4 L1017.5,241.1 L1011.5,242.8 L1005.8,244.5 L1000.4,246.2 L995.3,247.9 L990.6,249.6 L986.5,251.3 L983.0,253.0 L980.1,254.7 L978.0,256.4 L976.6,258.1 L976.0,259.8 L976.0,243.4 L976.1,241.7 L976.9,240.0 L978.4,238.3 L980.7,236.6 L983.7,234.9 L987.4,233.2 L991.6,231.5 L996.4,229.8 L1001.6,228.1 L1007.1,226.4 L1012.9,224.7 L1018.8,223.0 L1024.8,221.3 L1030.7,219.6 L1036.5,217.9 L1042.1,216.2 L1047.3,214.5 L1052.1,212.8 L1056.4,211.1 L1060.0,209.4 L1063.1,207.7 L1065.4,206.0 L1067.1,204.3 L1067.9,202.6Z" fill="#fbfbfb" stroke="#5a5a5a" stroke-width="0.9" stroke-linejoin="round" clip-path="url(#cc)"/>
<path d="M1067.9,302.2 L1067.1,303.9 L1065.5,305.6 L1063.2,307.3 L1060.2,309.0 L1056.5,310.7 L1052.3,312.4 L1047.5,314.1 L1042.3,315.8 L1036.8,317.5 L1031.0,319.2 L1025.1,320.9 L1019.1,322.6 L1013.1,324.3 L1007.3,326.0 L1001.8,327.7 L996.6,329.4 L991.8,331.1 L987.6,332.8 L983.9,334.5 L980.8,336.2 L978.5,337.9 L976.9,339.6 L976.1,341.3 L976.0,343.0 L976.5,326.6 L976.0,325.0 L976.2,323.3 L977.2,321.6 L979.0,319.9 L981.5,318.2 L984.7,316.5 L988.5,314.8 L992.8,313.1 L997.7,311.4 L1003.0,309.7 L1008.6,308.0 L1014.5,306.3 L1020.4,304.6 L1026.4,302.9 L1032.3,301.2 L1038.1,299.5 L1043.5,297.8 L1048.6,296.1 L1053.3,294.4 L1057.4,292.7 L1060.9,291.0 L1063.8,289.3 L1066.0,287.6 L1067.4,285.9Z" fill="#fbfbfb" stroke="#5a5a5a" stroke-width="0.9" stroke-linejoin="round" clip-path="url(#cc)"/>
<path d="M1068.0,383.8 L1067.4,385.5 L1066.0,387.2 L1063.9,388.9 L1061.1,390.6 L1057.6,392.3 L1053.5,394.0 L1048.8,395.7 L1043.7,397.4 L1038.3,399.1 L1032.6,400.8 L1026.7,402.5 L1020.7,404.2 L1014.7,405.9 L1008.9,407.6 L1003.2,409.3 L997.9,411.0 L993.0,412.7 L988.6,414.4 L984.8,416.1 L981.6,417.8 L979.1,419.5 L977.3,421.2 L976.2,422.8 L976.0,424.5 L976.3,408.2 L975.9,406.5 L976.4,404.8 L977.6,403.1 L979.6,401.4 L982.3,399.7 L985.6,398.0 L989.6,396.3 L994.1,394.6 L999.1,392.9 L1004.5,391.2 L1010.2,389.5 L1016.0,387.8 L1022.0,386.1 L1028.0,384.4 L1033.9,382.7 L1039.6,381.0 L1044.9,379.3 L1049.9,377.6 L1054.4,375.9 L1058.4,374.2 L1061.8,372.5 L1064.4,370.8 L1066.4,369.1 L1067.6,367.4Z" fill="#fbfbfb" stroke="#5a5a5a" stroke-width="0.9" stroke-linejoin="round" clip-path="url(#cc)"/>
<path d="M1068.1,465.3 L1067.7,467.0 L1066.5,468.7 L1064.5,470.4 L1061.9,472.1 L1058.6,473.8 L1054.6,475.5 L1050.1,477.2 L1045.2,478.9 L1039.8,480.6 L1034.1,482.3 L1028.3,484.0 L1022.3,485.7 L1016.3,487.4 L1010.4,489.1 L1004.7,490.8 L999.3,492.5 L994.3,494.2 L989.8,495.9 L985.8,497.6 L982.4,499.3 L979.7,501.0 L977.7,502.7 L976.4,504.4 L975.9,506.1 L976.1,489.7 L976.0,488.0 L976.6,486.3 L978.1,484.6 L980.2,482.9 L983.1,481.2 L986.6,479.5 L990.8,477.8 L995.4,476.1 L1000.5,474.4 L1006.0,472.7 L1011.7,471.1 L1017.6,469.4 L1023.6,467.7 L1029.6,466.0 L1035.4,464.3 L1041.0,462.6 L1046.3,460.9 L1051.2,459.2 L1055.6,457.5 L1059.4,455.8 L1062.6,454.1 L1065.0,452.4 L1066.8,450.7 L1067.8,449.0Z" fill="#fbfbfb" stroke="#5a5a5a" stroke-width="0.9" stroke-linejoin="round" clip-path="url(#cc)"/>
<path d="M1245.0,205.0 C1252.5,204.2 1275.8,199.2 1290.0,200.0 C1304.2,200.8 1314.2,209.2 1330.0,210.0 C1345.8,210.8 1375.8,205.8 1385.0,205.0" fill="none" stroke="#5a5a5a" stroke-width="17.8" stroke-linecap="butt" stroke-linejoin="round" clip-path="url(#cc)"/>
<path d="M1245.0,205.0 C1252.5,204.2 1275.8,199.2 1290.0,200.0 C1304.2,200.8 1314.2,209.2 1330.0,210.0 C1345.8,210.8 1375.8,205.8 1385.0,205.0" fill="none" stroke="#fbfbfb" stroke-width="16.0" stroke-linecap="butt" stroke-linejoin="round" clip-path="url(#cc)"/>
<path d="M1024.0,351.0 L1038.0,330.0 L1050.0,320.0" fill="none" stroke="#ae9070" stroke-width="7.6" stroke-linecap="round" stroke-linejoin="round"/>
<path d="M1024.0,351.0 L1038.0,330.0 L1050.0,320.0" fill="none" stroke="#f2c89c" stroke-width="6" stroke-linecap="round" stroke-linejoin="round"/>
<path d="M1030.0,349.0 L1042.0,328.0 L1055.0,322.0" fill="none" stroke="#5876ab" stroke-width="7.6" stroke-linecap="round" stroke-linejoin="round"/>
<path d="M1030.0,349.0 L1042.0,328.0 L1055.0,322.0" fill="none" stroke="#7ba4ee" stroke-width="6" stroke-linecap="round" stroke-linejoin="round"/>
<path d="M1050.0,320.0 L1053.5,324.0" fill="none" stroke="#ae9070" stroke-width="7.6" stroke-linecap="round" stroke-linejoin="round"/>
<path d="M1050.0,320.0 L1053.5,324.0" fill="none" stroke="#f2c89c" stroke-width="6" stroke-linecap="round" stroke-linejoin="round"/>
<path d="M1053.5,324.0 L1057.0,328.0" fill="none" stroke="#ac0b0b" stroke-width="7.6" stroke-linecap="round" stroke-linejoin="round"/>
<path d="M1053.5,324.0 L1057.0,328.0" fill="none" stroke="#f01010" stroke-width="6" stroke-linecap="round" stroke-linejoin="round"/>
<path d="M1057.0,328.0 L1058.0,326.0" fill="none" stroke="#ac0b0b" stroke-width="7.6" stroke-linecap="round" stroke-linejoin="round"/>
<path d="M1057.0,328.0 L1058.0,326.0" fill="none" stroke="#f01010" stroke-width="6" stroke-linecap="round" stroke-linejoin="round"/>
<path d="M1042.0,322.0 L1037.0,306.0" fill="none" stroke="#ac0b0b" stroke-width="7.6" stroke-linecap="round" stroke-linejoin="round"/>
<path d="M1042.0,322.0 L1037.0,306.0" fill="none" stroke="#f01010" stroke-width="6" stroke-linecap="round" stroke-linejoin="round"/>
<path d="M1172.0,327.0 L1170.0,308.0 L1180.0,297.0" fill="none" stroke="#ae9070" stroke-width="7.6" stroke-linecap="round" stroke-linejoin="round"/>
<path d="M1172.0,327.0 L1170.0,308.0 L1180.0,297.0" fill="none" stroke="#f2c89c" stroke-width="6" stroke-linecap="round" stroke-linejoin="round"/>
<path d="M1176.0,318.0 L1174.0,305.0" fill="none" stroke="#5876ab" stroke-width="6.6" stroke-linecap="round" stroke-linejoin="round"/>
<path d="M1176.0,318.0 L1174.0,305.0" fill="none" stroke="#7ba4ee" stroke-width="5" stroke-linecap="round" stroke-linejoin="round"/>
<path d="M1180.0,297.0 L1192.0,285.0" fill="none" stroke="#ac0b0b" stroke-width="7.6" stroke-linecap="round" stroke-linejoin="round"/>
<path d="M1180.0,297.0 L1192.0,285.0" fill="none" stroke="#f01010" stroke-width="6" stroke-linecap="round" stroke-linejoin="round"/>
<path d="M1294.0,217.0 L1314.0,230.0 L1322.0,257.0 L1316.0,280.0 L1296.0,270.0 L1289.0,242.0 L1294.0,217.0" fill="none" stroke="#5876ab" stroke-width="7.6" stroke-linecap="round" stroke-linejoin="round"/>
<path d="M1294.0,217.0 L1314.0,230.0 L1322.0,257.0 L1316.0,280.0 L1296.0,270.0 L1289.0,242.0 L1294.0,217.0" fill="none" stroke="#7ba4ee" stroke-width="6" stroke-linecap="round" stroke-linejoin="round"/>
<path d="M1320.0,260.0 L1332.0,288.0 L1316.0,308.0" fill="none" stroke="#5876ab" stroke-width="7.6" stroke-linecap="round" stroke-linejoin="round"/>
<path d="M1320.0,260.0 L1332.0,288.0 L1316.0,308.0" fill="none" stroke="#7ba4ee" stroke-width="6" stroke-linecap="round" stroke-linejoin="round"/>
<path d="M1290.0,215.0 L1310.0,228.0 L1318.0,255.0 L1312.0,278.0 L1292.0,268.0 L1285.0,240.0 L1290.0,215.0" fill="none" stroke="#ae9070" stroke-width="7.6" stroke-linecap="round" stroke-linejoin="round"/>
<path d="M1290.0,215.0 L1310.0,228.0 L1318.0,255.0 L1312.0,278.0 L1292.0,268.0 L1285.0,240.0 L1290.0,215.0" fill="none" stroke="#f2c89c" stroke-width="6" stroke-linecap="round" stroke-linejoin="round"/>
<path d="M1312.0,278.0 L1326.0,287.0 L1314.0,308.0" fill="none" stroke="#ae9070" stroke-width="7.6" stroke-linecap="round" stroke-linejoin="round"/>
<path d="M1312.0,278.0 L1326.0,287.0 L1314.0,308.0" fill="none" stroke="#f2c89c" stroke-width="6" stroke-linecap="round" stroke-linejoin="round"/>
<path d="M1279.0,205.0 L1290.0,215.0" fill="none" stroke="#ac0b0b" stroke-width="7.6" stroke-linecap="round" stroke-linejoin="round"/>
<path d="M1279.0,205.0 L1290.0,215.0" fill="none" stroke="#f01010" stroke-width="6" stroke-linecap="round" stroke-linejoin="round"/>
<path d="M1129.0,236.0 L1115.4,213.8 L1117.8,188.0 L1143.7,183.1 L1156.0,195.0" fill="none" stroke="#26ab11" stroke-width="9.1" stroke-linecap="round" stroke-linejoin="round"/>
<path d="M1129.0,236.0 L1115.4,213.8 L1117.8,188.0 L1143.7,183.1 L1156.0,195.0" fill="none" stroke="#35ee18" stroke-width="7.5" stroke-linecap="round" stroke-linejoin="round"/>
<path d="M1115.4,213.8 L1088.3,226.2 L1090.8,245.8 L1110.0,259.0" fill="none" stroke="#26ab11" stroke-width="9.1" stroke-linecap="round" stroke-linejoin="round"/>
<path d="M1115.4,213.8 L1088.3,226.2 L1090.8,245.8 L1110.0,259.0" fill="none" stroke="#35ee18" stroke-width="7.5" stroke-linecap="round" stroke-linejoin="round"/>
<path d="M1151.0,228.6 L1129.0,236.0" fill="none" stroke="#26ab11" stroke-width="9.1" stroke-linecap="round" stroke-linejoin="round"/>
<path d="M1151.0,228.6 L1129.0,236.0" fill="none" stroke="#35ee18" stroke-width="7.5" stroke-linecap="round" stroke-linejoin="round"/>
<path d="M1125.0,259.0 L1129.0,236.0" fill="none" stroke="#26ab11" stroke-width="9.1" stroke-linecap="round" stroke-linejoin="round"/>
<path d="M1125.0,259.0 L1129.0,236.0" fill="none" stroke="#35ee18" stroke-width="7.5" stroke-linecap="round" stroke-linejoin="round"/>
<path d="M1156.0,195.0 L1158.0,197.5" fill="none" stroke="#26ab11" stroke-width="9.1" stroke-linecap="round" stroke-linejoin="round"/>
<path d="M1156.0,195.0 L1158.0,197.5" fill="none" stroke="#35ee18" stroke-width="7.5" stroke-linecap="round" stroke-linejoin="round"/>
<path d="M1158.0,197.5 L1160.0,200.0" fill="none" stroke="#ac0b0b" stroke-width="9.1" stroke-linecap="round" stroke-linejoin="round"/>
<path d="M1158.0,197.5 L1160.0,200.0" fill="none" stroke="#f01010" stroke-width="7.5" stroke-linecap="round" stroke-linejoin="round"/>
<path d="M1156.0,197.0 L1162.0,205.0" fill="none" stroke="#ac0b0b" stroke-width="9.1" stroke-linecap="round" stroke-linejoin="round"/>
<path d="M1156.0,197.0 L1162.0,205.0" fill="none" stroke="#f01010" stroke-width="7.5" stroke-linecap="round" stroke-linejoin="round"/>
<path d="M1162.0,205.0 L1151.0,228.6" fill="none" stroke="#26ab11" stroke-width="9.1" stroke-linecap="round" stroke-linejoin="round"/>
<path d="M1162.0,205.0 L1151.0,228.6" fill="none" stroke="#35ee18" stroke-width="7.5" stroke-linecap="round" stroke-linejoin="round"/>
<path d="M1110.0,259.0 L1114.5,259.0" fill="none" stroke="#26ab11" stroke-width="9.1" stroke-linecap="round" stroke-linejoin="round"/>
<path d="M1110.0,259.0 L1114.5,259.0" fill="none" stroke="#35ee18" stroke-width="7.5" stroke-linecap="round" stroke-linejoin="round"/>
<path d="M1114.5,259.0 L1125.0,259.0" fill="none" stroke="#aeab17" stroke-width="9.1" stroke-linecap="round" stroke-linejoin="round"/>
<path d="M1114.5,259.0 L1125.0,259.0" fill="none" stroke="#f2ee20" stroke-width="7.5" stroke-linecap="round" stroke-linejoin="round"/>
<path d="M1151.0,228.6 L1183.0,238.5" fill="none" stroke="#26ab11" stroke-width="9.1" stroke-linecap="round" stroke-linejoin="round"/>
<path d="M1151.0,228.6 L1183.0,238.5" fill="none" stroke="#35ee18" stroke-width="7.5" stroke-linecap="round" stroke-linejoin="round"/>
<path d="M1183.0,238.5 L1195.5,241.9" fill="none" stroke="#1e35ac" stroke-width="9.1" stroke-linecap="round" stroke-linejoin="round"/>
<path d="M1183.0,238.5 L1195.5,241.9" fill="none" stroke="#2a4af0" stroke-width="7.5" stroke-linecap="round" stroke-linejoin="round"/>
<path d="M1195.5,241.9 L1218.8,248.3" fill="none" stroke="#26ab11" stroke-width="9.1" stroke-linecap="round" stroke-linejoin="round"/>
<path d="M1195.5,241.9 L1218.8,248.3" fill="none" stroke="#35ee18" stroke-width="7.5" stroke-linecap="round" stroke-linejoin="round"/>
<circle cx="1218.8" cy="248.3" r="6" fill="#35ee18" stroke="#26ab11" stroke-width="1"/>
<path d="M1167.0,180.6 L1170.8,197.8" fill="none" stroke="#166466" stroke-width="9.1" stroke-linecap="round" stroke-linejoin="round"/>
<path d="M1167.0,180.6 L1170.8,197.8" fill="none" stroke="#1f8b8f" stroke-width="7.5" stroke-linecap="round" stroke-linejoin="round"/>
<path d="M1170.8,197.8 L1196.6,202.8 L1204.0,226.2 L1186.8,245.8 L1161.0,240.9 L1156.0,216.3 L1170.8,197.8" fill="none" stroke="#166466" stroke-width="9.1" stroke-linecap="round" stroke-linejoin="round"/>
<path d="M1170.8,197.8 L1196.6,202.8 L1204.0,226.2 L1186.8,245.8 L1161.0,240.9 L1156.0,216.3 L1170.8,197.8" fill="none" stroke="#1f8b8f" stroke-width="7.5" stroke-linecap="round" stroke-linejoin="round"/>
<path d="M1119.0,225.0 L1092.0,237.2 L1078.5,256.9 L1087.0,270.5 L1111.7,265.5 L1121.5,245.8 L1119.0,225.0" fill="none" stroke="#166466" stroke-width="9.1" stroke-linecap="round" stroke-linejoin="round"/>
<path d="M1119.0,225.0 L1092.0,237.2 L1078.5,256.9 L1087.0,270.5 L1111.7,265.5 L1121.5,245.8 L1119.0,225.0" fill="none" stroke="#1f8b8f" stroke-width="7.5" stroke-linecap="round" stroke-linejoin="round"/>
<path d="M1204.0,226.2 L1231.0,232.3 L1234.8,260.6" fill="none" stroke="#166466" stroke-width="9.1" stroke-linecap="round" stroke-linejoin="round"/>
<path d="M1204.0,226.2 L1231.0,232.3 L1234.8,260.6" fill="none" stroke="#1f8b8f" stroke-width="7.5" stroke-linecap="round" stroke-linejoin="round"/>
<path d="M1160.0,165.0 L1167.0,180.6" fill="none" stroke="#6f1680" stroke-width="9.1" stroke-linecap="round" stroke-linejoin="round"/>
<path d="M1160.0,165.0 L1167.0,180.6" fill="none" stroke="#9b1fb2" stroke-width="7.5" stroke-linecap="round" stroke-linejoin="round"/>
<path d="M1156.0,216.3 L1142.5,214.4" fill="none" stroke="#166466" stroke-width="9.1" stroke-linecap="round" stroke-linejoin="round"/>
<path d="M1156.0,216.3 L1142.5,214.4" fill="none" stroke="#1f8b8f" stroke-width="7.5" stroke-linecap="round" stroke-linejoin="round"/>
<path d="M1142.5,214.4 L1129.0,212.6" fill="none" stroke="#ac0b0b" stroke-width="9.1" stroke-linecap="round" stroke-linejoin="round"/>
<path d="M1142.5,214.4 L1129.0,212.6" fill="none" stroke="#f01010" stroke-width="7.5" stroke-linecap="round" stroke-linejoin="round"/>
<path d="M1129.0,212.6 L1124.0,218.8" fill="none" stroke="#ac0b0b" stroke-width="9.1" stroke-linecap="round" stroke-linejoin="round"/>
<path d="M1129.0,212.6 L1124.0,218.8" fill="none" stroke="#f01010" stroke-width="7.5" stroke-linecap="round" stroke-linejoin="round"/>
<path d="M1124.0,218.8 L1119.0,225.0" fill="none" stroke="#166466" stroke-width="9.1" stroke-linecap="round" stroke-linejoin="round"/>
<path d="M1124.0,218.8 L1119.0,225.0" fill="none" stroke="#1f8b8f" stroke-width="7.5" stroke-linecap="round" stroke-linejoin="round"/>
<path d="M1087.0,270.5 L1082.6,277.4" fill="none" stroke="#166466" stroke-width="9.1" stroke-linecap="round" stroke-linejoin="round"/>
<path d="M1087.0,270.5 L1082.6,277.4" fill="none" stroke="#1f8b8f" stroke-width="7.5" stroke-linecap="round" stroke-linejoin="round"/>
<path d="M1082.6,277.4 L1076.0,287.7" fill="none" stroke="#ac0b0b" stroke-width="9.1" stroke-linecap="round" stroke-linejoin="round"/>
<path d="M1082.6,277.4 L1076.0,287.7" fill="none" stroke="#f01010" stroke-width="7.5" stroke-linecap="round" stroke-linejoin="round"/>
<path d="M1234.8,260.6 L1231.1,263.1" fill="none" stroke="#166466" stroke-width="9.1" stroke-linecap="round" stroke-linejoin="round"/>
<path d="M1234.8,260.6 L1231.1,263.1" fill="none" stroke="#1f8b8f" stroke-width="7.5" stroke-linecap="round" stroke-linejoin="round"/>
<path d="M1231.1,263.1 L1227.4,265.5" fill="none" stroke="#1e35ac" stroke-width="9.1" stroke-linecap="round" stroke-linejoin="round"/>
<path d="M1231.1,263.1 L1227.4,265.5" fill="none" stroke="#2a4af0" stroke-width="7.5" stroke-linecap="round" stroke-linejoin="round"/>
<circle cx="1159.7" cy="162.2" r="8" fill="#9b1fb2" stroke="#6f1680" stroke-width="1"/>
<line x1="1076" y1="290" x2="1055" y2="324" stroke="#b02020" stroke-width="3" stroke-dasharray="3 2"/>
<text x="1194.9" y="151.6" font-size="28" font-weight="bold" fill="#33ec1a" stroke="#199012" stroke-width="1.7" paint-order="stroke" text-anchor="middle" textLength="166.6" lengthAdjust="spacingAndGlyphs">SEP-363856</text>
<text x="1238.9" y="293.8" font-size="28" font-weight="bold" fill="#2e8b6b" stroke="#1d5f47" stroke-width="1.7" paint-order="stroke" text-anchor="middle" textLength="78.6" lengthAdjust="spacingAndGlyphs">T1AM</text>
<text x="1021.00" y="388.60" font-size="30" fill="#000" font-weight="bold" textLength="51.4" lengthAdjust="spacingAndGlyphs" >S<tspan font-size="18" dy="-13">5.46</tspan></text>
<text x="1146.80" y="362.80" font-size="30" fill="#000" font-weight="bold" textLength="51.5" lengthAdjust="spacingAndGlyphs" >S<tspan font-size="18" dy="-13">3.37</tspan></text>
<text x="1276.80" y="348.00" font-size="30" fill="#000" font-weight="bold" textLength="51.5" lengthAdjust="spacingAndGlyphs" >Y<tspan font-size="18" dy="-13">7.43</tspan></text>
<path d="M1678.3,233.7 L1678.5,235.7 L1679.6,237.7 L1681.6,239.8 L1684.5,241.9 L1688.2,244.0 L1692.7,246.1 L1697.9,248.2 L1703.7,250.4 L1710.0,252.6 L1716.7,254.8 L1723.6,257.0 L1730.8,259.2 L1738.0,261.5 L1745.1,263.7 L1752.0,265.9 L1758.6,268.1 L1764.8,270.3 L1770.5,272.4 L1775.5,274.6 L1779.8,276.7 L1783.3,278.8 L1786.0,280.9 L1787.8,282.9 L1788.7,284.9 L1788.6,286.9 L1788.7,269.5 L1789.3,267.6 L1789.1,265.6 L1787.9,263.6 L1785.8,261.5 L1782.8,259.4 L1779.0,257.3 L1774.4,255.2 L1769.2,253.0 L1763.3,250.9 L1757.0,248.7 L1750.3,246.5 L1743.2,244.3 L1736.1,242.0 L1728.9,239.8 L1721.8,237.6 L1714.9,235.4 L1708.3,233.2 L1702.2,231.0 L1696.6,228.8 L1691.7,226.7 L1687.4,224.6 L1684.0,222.5 L1681.4,220.4 L1679.7,218.4 L1678.9,216.4Z" fill="#eef6fa" stroke="#5a5a5a" stroke-width="0.9" stroke-linejoin="round" clip-path="url(#cd)"/>
<path d="M1675.2,330.8 L1675.8,332.8 L1677.4,334.8 L1679.9,336.9 L1683.3,339.0 L1687.5,341.1 L1692.3,343.2 L1697.9,345.4 L1703.9,347.6 L1710.5,349.8 L1717.3,352.0 L1724.4,354.2 L1731.6,356.4 L1738.8,358.6 L1745.8,360.8 L1752.6,363.0 L1759.0,365.2 L1764.9,367.4 L1770.2,369.6 L1774.8,371.7 L1778.7,373.8 L1781.8,375.9 L1784.0,378.0 L1785.3,380.0 L1785.6,382.0 L1785.9,364.6 L1786.2,362.6 L1785.5,360.6 L1783.9,358.6 L1781.4,356.5 L1778.1,354.4 L1773.9,352.3 L1769.0,350.2 L1763.5,348.0 L1757.4,345.8 L1750.9,343.6 L1744.0,341.4 L1736.9,339.2 L1729.7,337.0 L1722.6,334.8 L1715.5,332.6 L1708.8,330.4 L1702.4,328.2 L1696.5,326.0 L1691.2,323.8 L1686.5,321.7 L1682.6,319.6 L1679.6,317.5 L1677.4,315.5 L1676.1,313.4Z" fill="#eef6fa" stroke="#5a5a5a" stroke-width="0.9" stroke-linejoin="round" clip-path="url(#cd)"/>
<path d="M1672.0,425.8 L1672.3,427.8 L1673.5,429.8 L1675.6,431.9 L1678.5,434.0 L1682.4,436.1 L1686.9,438.2 L1692.2,440.4 L1698.0,442.5 L1704.4,444.7 L1711.1,446.9 L1718.1,449.2 L1725.3,451.4 L1732.5,453.6 L1739.6,455.8 L1746.5,458.0 L1753.0,460.2 L1759.2,462.4 L1764.7,464.6 L1769.7,466.7 L1773.9,468.8 L1777.4,470.9 L1780.0,473.0 L1781.7,475.0 L1782.4,477.0 L1782.2,479.0 L1782.2,461.6 L1783.0,459.7 L1782.9,457.7 L1781.8,455.7 L1779.8,453.6 L1776.9,451.6 L1773.2,449.4 L1768.7,447.3 L1763.5,445.2 L1757.7,443.0 L1751.4,440.8 L1744.7,438.6 L1737.7,436.4 L1730.6,434.2 L1723.4,432.0 L1716.3,429.7 L1709.3,427.5 L1702.7,425.3 L1696.5,423.1 L1690.9,421.0 L1685.9,418.8 L1681.6,416.7 L1678.0,414.6 L1675.3,412.5 L1673.6,410.5 L1672.7,408.5Z" fill="#eef6fa" stroke="#5a5a5a" stroke-width="0.9" stroke-linejoin="round" clip-path="url(#cd)"/>
<path d="M1668.9,522.9 L1669.7,524.9 L1671.4,526.9 L1673.6,509.6 L1671.3,507.6 L1669.9,505.5Z" fill="#eef6fa" stroke="#5a5a5a" stroke-width="0.9" stroke-linejoin="round" clip-path="url(#cd)"/>
<path d="M1696.2,222.4 L1691.2,224.2 L1686.9,226.1 L1683.5,227.9 L1680.8,229.8 L1679.1,231.8 L1678.3,233.7 L1678.9,216.4 L1679.1,214.4 L1680.2,212.4 L1682.3,210.5 L1685.2,208.6 L1688.9,206.8 L1693.5,205.0Z" fill="#eef6fa" stroke="#5a5a5a" stroke-width="0.9" stroke-linejoin="round" clip-path="url(#cd)"/>
<path d="M1788.6,286.9 L1787.6,288.9 L1785.7,290.8 L1782.8,292.7 L1779.2,294.5 L1774.7,296.4 L1769.5,298.2 L1763.7,300.0 L1757.4,301.7 L1750.7,303.5 L1743.6,305.3 L1736.4,307.0 L1729.0,308.7 L1721.8,310.5 L1714.7,312.2 L1707.8,314.0 L1701.4,315.8 L1695.5,317.6 L1690.2,319.4 L1685.6,321.2 L1681.8,323.1 L1678.8,324.9 L1676.6,326.9 L1675.4,328.8 L1675.2,330.8 L1676.1,313.4 L1675.8,311.4 L1676.4,309.5 L1677.9,307.5 L1680.3,305.6 L1683.6,303.8 L1687.7,301.9 L1692.6,300.1 L1698.1,298.3 L1704.2,296.5 L1710.8,294.7 L1717.7,293.0 L1724.9,291.2 L1732.2,289.5 L1739.5,287.7 L1746.7,286.0 L1753.7,284.2 L1760.3,282.5 L1766.4,280.7 L1772.0,278.9 L1776.9,277.1 L1781.1,275.2 L1784.5,273.4 L1787.0,271.5 L1788.7,269.5Z" fill="#eef6fa" stroke="#5a5a5a" stroke-width="0.9" stroke-linejoin="round" clip-path="url(#cd)"/>
<path d="M1785.6,382.0 L1785.0,383.9 L1783.5,385.9 L1781.1,387.8 L1777.8,389.6 L1773.6,391.5 L1768.8,393.3 L1763.3,395.1 L1757.2,396.9 L1750.6,398.7 L1743.7,400.4 L1736.5,402.2 L1729.2,403.9 L1721.9,405.7 L1714.7,407.4 L1707.7,409.2 L1701.1,410.9 L1694.9,412.7 L1689.4,414.5 L1684.4,416.3 L1680.2,418.2 L1676.8,420.0 L1674.3,421.9 L1672.7,423.9 L1672.0,425.8 L1672.7,408.5 L1672.8,406.5 L1673.8,404.6 L1675.7,402.6 L1678.5,400.7 L1682.2,398.9 L1686.7,397.0 L1691.8,395.2 L1697.6,393.4 L1704.0,391.7 L1710.7,389.9 L1717.8,388.2 L1725.0,386.4 L1732.3,384.7 L1739.6,382.9 L1746.7,381.2 L1753.5,379.4 L1759.9,377.6 L1765.9,375.8 L1771.2,374.0 L1775.8,372.2 L1779.6,370.4 L1782.6,368.5 L1784.7,366.6 L1785.9,364.6Z" fill="#eef6fa" stroke="#5a5a5a" stroke-width="0.9" stroke-linejoin="round" clip-path="url(#cd)"/>
<path d="M1782.2,479.0 L1781.1,481.0 L1779.1,482.9 L1776.2,484.8 L1772.4,486.6 L1767.9,488.5 L1762.6,490.3 L1756.8,492.1 L1750.4,493.8 L1743.6,495.6 L1736.6,497.3 L1729.3,499.1 L1722.0,500.8 L1714.7,502.6 L1707.6,504.3 L1700.8,506.1 L1694.5,507.9 L1688.6,509.7 L1683.4,511.5 L1678.9,513.3 L1675.1,515.2 L1672.2,517.0 L1670.2,519.0 L1669.1,520.9 L1668.9,522.9 L1669.9,505.5 L1669.5,503.5 L1670.0,501.6 L1671.4,499.6 L1673.7,497.7 L1676.9,495.9 L1681.0,494.0 L1685.7,492.2 L1691.2,490.4 L1697.2,488.6 L1703.8,486.8 L1710.7,485.1 L1717.8,483.3 L1725.1,481.6 L1732.4,479.8 L1739.7,478.1 L1746.7,476.3 L1753.3,474.6 L1759.5,472.8 L1765.2,471.0 L1770.2,469.2 L1774.4,467.3 L1777.9,465.5 L1780.5,463.6 L1782.2,461.6Z" fill="#eef6fa" stroke="#5a5a5a" stroke-width="0.9" stroke-linejoin="round" clip-path="url(#cd)"/>
<path d="M1760.0,130.0 C1761.3,127.5 1763.8,118.3 1768.0,115.0 C1772.2,111.7 1779.7,110.5 1785.0,110.0 C1790.3,109.5 1797.5,111.7 1800.0,112.0" fill="none" stroke="#5a5a5a" stroke-width="14.8" stroke-linecap="butt" stroke-linejoin="round" clip-path="url(#cd)"/>
<path d="M1760.0,130.0 C1761.3,127.5 1763.8,118.3 1768.0,115.0 C1772.2,111.7 1779.7,110.5 1785.0,110.0 C1790.3,109.5 1797.5,111.7 1800.0,112.0" fill="none" stroke="#eef6fa" stroke-width="13.0" stroke-linecap="butt" stroke-linejoin="round" clip-path="url(#cd)"/>
<path d="M1555.7,97.6 L1559.9,99.5 L1564.4,101.3 L1569.1,103.2 L1574.1,105.0 L1579.3,106.9 L1584.4,108.7 L1589.6,110.6 L1594.6,112.5 L1599.3,114.3 L1603.8,116.2 L1607.9,118.0 L1611.6,119.9 L1614.7,121.7 L1617.3,123.5 L1619.3,125.3 L1620.7,127.1 L1621.4,128.9 L1621.4,130.7 L1621.0,114.6 L1621.6,112.8 L1621.7,111.0 L1621.0,109.3 L1619.7,107.5 L1617.8,105.6 L1615.2,103.8 L1612.1,102.0 L1608.4,100.2 L1604.4,98.3 L1599.9,96.5 L1595.1,94.6 L1590.2,92.8 L1585.0,90.9 L1579.9,89.0 L1574.7,87.2 L1569.7,85.3 L1564.9,83.5 L1560.4,81.6Z" fill="#eef6fa" stroke="#5a5a5a" stroke-width="0.9" stroke-linejoin="round" clip-path="url(#cd)"/>
<path d="M1540.6,172.0 L1541.0,173.8 L1542.2,175.6 L1544.0,177.4 L1546.4,179.2 L1549.3,181.0 L1552.8,182.9 L1556.8,184.7 L1561.1,186.6 L1565.8,188.4 L1570.8,190.3 L1575.8,192.1 L1581.0,194.0 L1586.2,195.9 L1591.2,197.7 L1596.1,199.6 L1600.7,201.4 L1605.0,203.3 L1608.8,205.1 L1612.2,207.0 L1615.0,208.8 L1617.2,210.6 L1618.8,212.4 L1619.8,214.2 L1620.0,216.0 L1619.9,199.9 L1620.3,198.1 L1620.1,196.3 L1619.2,194.5 L1617.6,192.7 L1615.4,190.9 L1612.6,189.1 L1609.3,187.3 L1605.5,185.4 L1601.2,183.6 L1596.7,181.7 L1591.8,179.9 L1586.8,178.0 L1581.6,176.1 L1576.4,174.3 L1571.3,172.4 L1566.4,170.6 L1561.7,168.7 L1557.3,166.9 L1553.3,165.0 L1549.8,163.2 L1546.8,161.4 L1544.4,159.5 L1542.6,157.7 L1541.4,155.9Z" fill="#eef6fa" stroke="#5a5a5a" stroke-width="0.9" stroke-linejoin="round" clip-path="url(#cd)"/>
<path d="M1539.2,257.3 L1539.4,259.1 L1540.3,260.9 L1541.8,262.7 L1543.9,264.5 L1546.7,266.3 L1550.0,268.1 L1553.8,270.0 L1558.0,271.8 L1562.5,273.7 L1567.4,275.5 L1572.4,277.4 L1577.6,279.3 L1582.7,281.1 L1587.9,283.0 L1592.8,284.8 L1597.5,286.7 L1601.9,288.5 L1605.9,290.4 L1609.5,292.2 L1612.5,294.0 L1615.0,295.9 L1616.9,297.7 L1618.1,299.5 L1618.6,301.3 L1618.8,285.2 L1618.9,283.4 L1618.4,281.6 L1617.2,279.8 L1615.4,278.0 L1613.0,276.2 L1610.0,274.4 L1606.5,272.5 L1602.5,270.7 L1598.1,268.8 L1593.4,267.0 L1588.4,265.1 L1583.3,263.3 L1578.2,261.4 L1573.0,259.5 L1568.0,257.7 L1563.1,255.8 L1558.5,254.0 L1554.3,252.1 L1550.5,250.3 L1547.2,248.5 L1544.4,246.6 L1542.2,244.8 L1540.6,243.0 L1539.7,241.2Z" fill="#eef6fa" stroke="#5a5a5a" stroke-width="0.9" stroke-linejoin="round" clip-path="url(#cd)"/>
<path d="M1537.8,344.4 L1538.4,346.2 L1539.7,348.0 L1541.6,349.8 L1544.1,351.6 L1547.2,353.4 L1550.8,355.2 L1554.9,357.1 L1559.3,358.9 L1564.1,360.8 L1569.0,362.7 L1574.1,364.5 L1579.3,366.4 L1584.5,368.2 L1589.5,370.1 L1594.3,372.0 L1598.8,373.8 L1603.0,375.6 L1606.8,377.5 L1610.0,379.3 L1612.7,381.1 L1614.8,383.0 L1616.3,384.8 L1617.1,386.5 L1617.2,388.3 L1616.9,372.2 L1617.5,370.5 L1617.4,368.7 L1616.6,366.9 L1615.2,365.1 L1613.1,363.3 L1610.5,361.5 L1607.3,359.6 L1603.5,357.8 L1599.4,355.9 L1594.9,354.1 L1590.1,352.2 L1585.0,350.4 L1579.9,348.5 L1574.7,346.7 L1569.6,344.8 L1564.6,342.9 L1559.9,341.1 L1555.4,339.2 L1551.3,337.4 L1547.7,335.6 L1544.6,333.7 L1542.0,331.9 L1540.1,330.1 L1538.8,328.3Z" fill="#eef6fa" stroke="#5a5a5a" stroke-width="0.9" stroke-linejoin="round" clip-path="url(#cd)"/>
<path d="M1536.4,429.7 L1536.7,431.4 L1537.7,433.2 L1539.4,435.0 L1541.7,436.9 L1544.5,438.7 L1548.0,440.5 L1551.8,442.4 L1556.1,444.2 L1560.8,446.1 L1565.7,447.9 L1570.7,449.8 L1575.9,451.6 L1581.0,453.5 L1586.1,455.4 L1591.0,457.2 L1595.7,459.1 L1600.0,460.9 L1603.9,462.8 L1607.4,464.6 L1610.3,466.4 L1612.6,468.2 L1614.4,470.0 L1615.4,471.8 L1615.8,473.6 L1615.8,457.5 L1616.1,455.8 L1615.8,454.0 L1614.7,452.2 L1613.1,450.4 L1610.8,448.6 L1607.9,446.7 L1604.4,444.9 L1600.5,443.1 L1596.2,441.2 L1591.6,439.4 L1586.7,437.5 L1581.6,435.6 L1576.5,433.8 L1571.3,431.9 L1566.2,430.1 L1561.3,428.2 L1556.7,426.3 L1552.4,424.5 L1548.5,422.7 L1545.0,420.8 L1542.1,419.0 L1539.8,417.2 L1538.1,415.4 L1537.0,413.6Z" fill="#eef6fa" stroke="#5a5a5a" stroke-width="0.9" stroke-linejoin="round" clip-path="url(#cd)"/>
<path d="M1535.0,515.0 L1535.1,516.7 L1535.9,518.5 L1537.3,520.3 L1539.3,522.1 L1542.0,524.0 L1545.2,525.8 L1548.9,527.6 L1553.5,511.6 L1549.4,509.8 L1545.6,507.9 L1542.4,506.1 L1539.7,504.3 L1537.7,502.5 L1536.2,500.7 L1535.4,498.9Z" fill="#eef6fa" stroke="#5a5a5a" stroke-width="0.9" stroke-linejoin="round" clip-path="url(#cd)"/>
<path d="M1621.4,130.7 L1620.7,132.4 L1619.4,134.2 L1617.4,135.9 L1614.9,137.7 L1611.7,139.4 L1608.1,141.1 L1604.0,142.8 L1599.5,144.5 L1594.7,146.2 L1589.7,147.9 L1584.5,149.6 L1579.3,151.3 L1574.1,153.0 L1569.0,154.7 L1564.1,156.4 L1559.5,158.1 L1555.3,159.8 L1551.5,161.5 L1548.1,163.3 L1545.4,165.0 L1543.2,166.7 L1541.7,168.5 L1540.8,170.2 L1540.6,172.0 L1541.4,155.9 L1540.9,154.2 L1541.1,152.4 L1541.9,150.6 L1543.4,148.9 L1545.5,147.1 L1548.3,145.4 L1551.5,143.7 L1555.3,142.0 L1559.5,140.2 L1564.1,138.5 L1569.0,136.8 L1574.1,135.1 L1579.3,133.5 L1584.5,131.8 L1589.7,130.1 L1594.7,128.4 L1599.5,126.7 L1604.0,125.0 L1608.1,123.3 L1611.8,121.5 L1615.0,119.8 L1617.6,118.1 L1619.6,116.3 L1621.0,114.6Z" fill="#eef6fa" stroke="#5a5a5a" stroke-width="0.9" stroke-linejoin="round" clip-path="url(#cd)"/>
<path d="M1620.0,216.0 L1619.7,217.7 L1618.6,219.5 L1616.9,221.2 L1614.6,223.0 L1611.6,224.7 L1608.2,226.4 L1604.2,228.2 L1599.9,229.9 L1595.2,231.6 L1590.3,233.3 L1585.1,234.9 L1579.9,236.6 L1574.7,238.3 L1569.6,240.0 L1564.6,241.7 L1559.9,243.4 L1555.5,245.1 L1551.5,246.8 L1548.0,248.6 L1545.0,250.3 L1542.6,252.0 L1540.8,253.8 L1539.7,255.5 L1539.2,257.3 L1539.7,241.2 L1539.5,239.4 L1539.9,237.7 L1541.0,235.9 L1542.8,234.2 L1545.1,232.4 L1548.1,230.7 L1551.6,229.0 L1555.5,227.3 L1559.9,225.6 L1564.6,223.9 L1569.6,222.2 L1574.7,220.5 L1579.9,218.8 L1585.1,217.1 L1590.3,215.4 L1595.2,213.7 L1599.9,212.0 L1604.3,210.3 L1608.3,208.6 L1611.7,206.9 L1614.7,205.1 L1617.1,203.4 L1618.8,201.6 L1619.9,199.9Z" fill="#eef6fa" stroke="#5a5a5a" stroke-width="0.9" stroke-linejoin="round" clip-path="url(#cd)"/>
<path d="M1618.6,301.3 L1618.5,303.0 L1617.7,304.8 L1616.2,306.5 L1614.1,308.3 L1611.4,310.0 L1608.2,311.7 L1604.4,313.5 L1600.3,315.2 L1595.7,316.9 L1590.8,318.6 L1585.8,320.3 L1580.6,322.0 L1575.4,323.7 L1570.2,325.3 L1565.1,327.0 L1560.3,328.7 L1555.8,330.4 L1551.6,332.2 L1547.9,333.9 L1544.7,335.6 L1542.1,337.3 L1540.0,339.1 L1538.6,340.8 L1537.9,342.6 L1537.8,344.4 L1538.8,328.3 L1538.1,326.5 L1538.2,324.7 L1538.9,323.0 L1540.2,321.2 L1542.2,319.5 L1544.8,317.7 L1548.0,316.0 L1551.7,314.3 L1555.8,312.6 L1560.3,310.9 L1565.1,309.2 L1570.2,307.5 L1575.3,305.8 L1580.6,304.1 L1585.8,302.4 L1590.8,300.7 L1595.7,299.0 L1600.3,297.3 L1604.5,295.6 L1608.3,293.9 L1611.6,292.2 L1614.3,290.4 L1616.4,288.7 L1617.9,286.9 L1618.8,285.2Z" fill="#eef6fa" stroke="#5a5a5a" stroke-width="0.9" stroke-linejoin="round" clip-path="url(#cd)"/>
<path d="M1617.2,388.3 L1616.7,390.1 L1615.5,391.8 L1613.6,393.6 L1611.2,395.3 L1608.1,397.1 L1604.6,398.8 L1600.6,400.5 L1596.1,402.2 L1591.4,403.9 L1586.4,405.6 L1581.2,407.3 L1576.0,409.0 L1570.8,410.7 L1565.7,412.4 L1560.8,414.1 L1556.1,415.8 L1551.8,417.5 L1547.9,419.2 L1544.5,420.9 L1541.6,422.6 L1539.4,424.4 L1537.7,426.1 L1536.7,427.9 L1536.4,429.7 L1537.0,413.6 L1536.7,411.8 L1537.0,410.0 L1537.9,408.3 L1539.5,406.5 L1541.8,404.8 L1544.6,403.0 L1548.0,401.3 L1551.9,399.6 L1556.1,397.9 L1560.8,396.2 L1565.7,394.5 L1570.8,392.8 L1576.0,391.1 L1581.2,389.4 L1586.4,387.7 L1591.4,386.0 L1596.2,384.3 L1600.6,382.6 L1604.6,380.9 L1608.2,379.2 L1611.3,377.5 L1613.8,375.7 L1615.7,374.0 L1616.9,372.2Z" fill="#eef6fa" stroke="#5a5a5a" stroke-width="0.9" stroke-linejoin="round" clip-path="url(#cd)"/>
<path d="M1615.8,473.6 L1615.6,475.4 L1614.6,477.1 L1613.0,478.9 L1610.8,480.6 L1608.0,482.4 L1604.6,484.1 L1600.8,485.8 L1596.5,487.5 L1591.9,489.2 L1587.0,490.9 L1581.9,492.6 L1576.7,494.3 L1571.4,496.0 L1566.3,497.7 L1561.3,499.4 L1556.5,501.1 L1552.1,502.8 L1548.0,504.5 L1544.4,506.2 L1541.3,507.9 L1538.8,509.7 L1536.9,511.4 L1535.6,513.2 L1535.0,515.0 L1535.4,498.9 L1535.3,497.1 L1535.9,495.3 L1537.1,493.6 L1538.9,491.8 L1541.4,490.1 L1544.5,488.4 L1548.1,486.6 L1552.1,484.9 L1556.5,483.2 L1561.3,481.5 L1566.3,479.8 L1571.4,478.1 L1576.7,476.4 L1581.9,474.7 L1587.0,473.1 L1591.9,471.4 L1596.5,469.7 L1600.8,467.9 L1604.7,466.2 L1608.1,464.5 L1611.0,462.8 L1613.2,461.0 L1614.9,459.3 L1615.8,457.5Z" fill="#eef6fa" stroke="#5a5a5a" stroke-width="0.9" stroke-linejoin="round" clip-path="url(#cd)"/>
<path d="M1399.0,97.4 L1399.5,99.1 L1400.9,100.8 L1403.1,102.6 L1406.0,104.3 L1409.6,106.1 L1413.9,107.8 L1418.7,109.5 L1423.9,111.3 L1429.6,113.0 L1435.5,114.8 L1441.7,116.5 L1447.9,118.2 L1454.2,120.0 L1460.3,121.7 L1466.2,123.5 L1471.7,125.2 L1476.8,126.9 L1481.5,128.7 L1485.5,130.4 L1488.9,132.1 L1491.6,133.9 L1493.6,135.6 L1494.7,137.4 L1495.1,139.1 L1494.8,121.8 L1495.1,120.0 L1494.5,118.3 L1493.2,116.5 L1491.1,114.8 L1488.2,113.1 L1484.7,111.3 L1480.5,109.6 L1475.7,107.9 L1470.5,106.1 L1464.8,104.4 L1458.9,102.6 L1452.8,100.9 L1446.5,99.2 L1440.3,97.4 L1434.2,95.7 L1428.3,93.9 L1422.7,92.2 L1417.5,90.5 L1412.8,88.7 L1408.7,87.0 L1405.3,85.2 L1402.5,83.5 L1400.6,81.8 L1399.3,80.0Z" fill="#eef6fa" stroke="#5a5a5a" stroke-width="0.9" stroke-linejoin="round" clip-path="url(#cd)"/>
<path d="M1398.9,180.8 L1399.3,182.6 L1400.4,184.3 L1402.4,186.1 L1405.1,187.8 L1408.5,189.5 L1412.5,191.3 L1417.2,193.0 L1422.3,194.8 L1427.9,196.5 L1433.7,198.2 L1439.8,200.0 L1446.1,201.7 L1452.3,203.5 L1458.5,205.2 L1464.4,206.9 L1470.1,208.7 L1475.4,210.4 L1480.1,212.1 L1484.4,213.9 L1488.0,215.6 L1490.9,217.4 L1493.1,219.1 L1494.5,220.8 L1495.0,222.6 L1494.9,205.2 L1495.0,203.5 L1494.2,201.8 L1492.6,200.0 L1490.3,198.3 L1487.2,196.5 L1483.5,194.8 L1479.1,193.1 L1474.2,191.3 L1468.8,189.6 L1463.1,187.9 L1457.1,186.1 L1450.9,184.4 L1444.6,182.6 L1438.4,180.9 L1432.4,179.2 L1426.6,177.4 L1421.1,175.7 L1416.1,173.9 L1411.6,172.2 L1407.6,170.5 L1404.4,168.7 L1401.9,167.0 L1400.1,165.2 L1399.1,163.5Z" fill="#eef6fa" stroke="#5a5a5a" stroke-width="0.9" stroke-linejoin="round" clip-path="url(#cd)"/>
<path d="M1399.0,264.3 L1399.1,266.1 L1400.0,267.8 L1401.7,269.5 L1404.2,271.3 L1407.4,273.0 L1411.2,274.8 L1415.7,276.5 L1420.7,278.2 L1426.2,280.0 L1431.9,281.7 L1438.0,283.5 L1444.2,285.2 L1450.4,286.9 L1456.6,288.7 L1462.7,290.4 L1468.4,292.1 L1473.8,293.9 L1478.8,295.6 L1483.2,297.4 L1487.0,299.1 L1490.1,300.8 L1492.5,302.6 L1494.1,304.3 L1494.9,306.1 L1495.0,307.8 L1494.4,290.5 L1495.0,288.7 L1494.8,287.0 L1493.8,285.2 L1492.0,283.5 L1489.5,281.8 L1486.2,280.0 L1482.2,278.3 L1477.7,276.5 L1472.6,274.8 L1467.1,273.1 L1461.3,271.3 L1455.2,269.6 L1449.0,267.9 L1442.8,266.1 L1436.6,264.4 L1430.6,262.6 L1424.9,260.9 L1419.5,259.2 L1414.6,257.4 L1410.3,255.7 L1406.6,253.9 L1403.6,252.2 L1401.3,250.5 L1399.7,248.7 L1399.0,247.0Z" fill="#eef6fa" stroke="#5a5a5a" stroke-width="0.9" stroke-linejoin="round" clip-path="url(#cd)"/>
<path d="M1399.0,349.5 L1399.7,351.3 L1401.1,353.0 L1403.4,354.8 L1406.4,356.5 L1410.0,358.2 L1414.3,360.0 L1419.2,361.7 L1424.5,363.5 L1430.2,365.2 L1436.2,366.9 L1442.3,368.7 L1448.6,370.4 L1454.8,372.1 L1460.9,373.9 L1466.7,375.6 L1472.2,377.4 L1477.3,379.1 L1481.9,380.8 L1485.9,382.6 L1489.2,384.3 L1491.9,386.1 L1493.7,387.8 L1494.8,389.5 L1495.0,391.3 L1494.7,373.9 L1495.1,372.2 L1494.6,370.5 L1493.4,368.7 L1491.3,367.0 L1488.5,365.2 L1485.1,363.5 L1480.9,361.8 L1476.2,360.0 L1471.0,358.3 L1465.4,356.5 L1459.5,354.8 L1453.4,353.1 L1447.1,351.3 L1440.9,349.6 L1434.8,347.9 L1428.9,346.1 L1423.2,344.4 L1418.0,342.6 L1413.3,340.9 L1409.1,339.2 L1405.6,337.4 L1402.8,335.7 L1400.7,333.9 L1399.4,332.2Z" fill="#eef6fa" stroke="#5a5a5a" stroke-width="0.9" stroke-linejoin="round" clip-path="url(#cd)"/>
<path d="M1398.9,433.0 L1399.4,434.8 L1400.6,436.5 L1402.6,438.2 L1405.4,440.0 L1408.9,441.7 L1413.0,443.5 L1417.7,445.2 L1422.8,446.9 L1428.4,448.7 L1434.3,450.4 L1440.5,452.1 L1446.7,453.9 L1452.9,455.6 L1459.1,457.4 L1465.0,459.1 L1470.6,460.8 L1475.9,462.6 L1480.6,464.3 L1484.8,466.1 L1488.3,467.8 L1491.1,469.5 L1493.2,471.3 L1494.5,473.0 L1495.1,474.8 L1494.9,457.4 L1495.0,455.7 L1494.3,453.9 L1492.8,452.2 L1490.6,450.5 L1487.6,448.7 L1483.9,447.0 L1479.6,445.2 L1474.7,443.5 L1469.4,441.8 L1463.7,440.0 L1457.7,438.3 L1451.5,436.5 L1445.3,434.8 L1439.1,433.1 L1433.0,431.3 L1427.1,429.6 L1421.6,427.9 L1416.5,426.1 L1412.0,424.4 L1408.0,422.6 L1404.7,420.9 L1402.1,419.2 L1400.2,417.4 L1399.2,415.7Z" fill="#eef6fa" stroke="#5a5a5a" stroke-width="0.9" stroke-linejoin="round" clip-path="url(#cd)"/>
<path d="M1399.0,516.5 L1399.2,518.2 L1400.1,520.0 L1401.9,521.7 L1404.5,523.5 L1407.7,525.2 L1411.7,526.9 L1416.2,528.7 L1420.0,511.3 L1415.1,509.6 L1410.7,507.9 L1406.9,506.1 L1403.8,504.4 L1401.5,502.6 L1399.8,500.9 L1399.0,499.2Z" fill="#eef6fa" stroke="#5a5a5a" stroke-width="0.9" stroke-linejoin="round" clip-path="url(#cd)"/>
<path d="M1407.9,88.7 L1404.6,90.4 L1402.0,92.1 L1400.2,93.9 L1399.2,95.6 L1399.0,97.4 L1399.3,80.0 L1398.9,78.3 L1399.3,76.5 L1400.6,74.8 L1402.6,73.1 L1405.3,71.3Z" fill="#eef6fa" stroke="#5a5a5a" stroke-width="0.9" stroke-linejoin="round" clip-path="url(#cd)"/>
<path d="M1495.1,139.1 L1494.6,140.8 L1493.3,142.6 L1491.3,144.3 L1488.5,146.1 L1485.0,147.8 L1480.8,149.5 L1476.1,151.3 L1470.9,153.0 L1465.3,154.8 L1459.4,156.5 L1453.2,158.2 L1447.0,160.0 L1440.8,161.7 L1434.6,163.5 L1428.7,165.2 L1423.1,166.9 L1417.9,168.7 L1413.2,170.4 L1409.0,172.1 L1405.5,173.9 L1402.7,175.6 L1400.7,177.4 L1399.4,179.1 L1398.9,180.8 L1399.1,163.5 L1399.0,161.8 L1399.6,160.0 L1401.1,158.3 L1403.3,156.5 L1406.3,154.8 L1409.9,153.1 L1414.2,151.3 L1419.0,149.6 L1424.3,147.9 L1430.0,146.1 L1436.0,144.4 L1442.2,142.6 L1448.4,140.9 L1454.6,139.2 L1460.7,137.4 L1466.6,135.7 L1472.1,133.9 L1477.2,132.2 L1481.8,130.5 L1485.8,128.7 L1489.2,127.0 L1491.8,125.2 L1493.7,123.5 L1494.8,121.8Z" fill="#eef6fa" stroke="#5a5a5a" stroke-width="0.9" stroke-linejoin="round" clip-path="url(#cd)"/>
<path d="M1495.0,222.6 L1494.8,224.3 L1493.8,226.1 L1492.0,227.8 L1489.4,229.5 L1486.1,231.3 L1482.1,233.0 L1477.6,234.8 L1472.5,236.5 L1467.0,238.2 L1461.2,240.0 L1455.1,241.7 L1448.9,243.5 L1442.6,245.2 L1436.5,246.9 L1430.5,248.7 L1424.7,250.4 L1419.4,252.1 L1414.5,253.9 L1410.2,255.6 L1406.5,257.4 L1403.5,259.1 L1401.2,260.8 L1399.7,262.6 L1399.0,264.3 L1399.0,247.0 L1399.1,245.2 L1400.0,243.5 L1401.7,241.8 L1404.1,240.0 L1407.3,238.3 L1411.1,236.5 L1415.6,234.8 L1420.6,233.1 L1426.0,231.3 L1431.8,229.6 L1437.8,227.9 L1444.0,226.1 L1450.3,224.4 L1456.5,222.6 L1462.5,220.9 L1468.3,219.2 L1473.7,217.4 L1478.7,215.7 L1483.1,213.9 L1486.9,212.2 L1490.0,210.5 L1492.4,208.7 L1494.1,207.0 L1494.9,205.2Z" fill="#eef6fa" stroke="#5a5a5a" stroke-width="0.9" stroke-linejoin="round" clip-path="url(#cd)"/>
<path d="M1495.0,307.8 L1494.2,309.5 L1492.6,311.3 L1490.2,313.0 L1487.1,314.8 L1483.4,316.5 L1479.0,318.2 L1474.1,320.0 L1468.7,321.7 L1462.9,323.5 L1456.9,325.2 L1450.7,326.9 L1444.5,328.7 L1438.3,330.4 L1432.2,332.1 L1426.4,333.9 L1421.0,335.6 L1415.9,337.4 L1411.4,339.1 L1407.6,340.8 L1404.3,342.6 L1401.8,344.3 L1400.1,346.1 L1399.1,347.8 L1399.0,349.5 L1399.4,332.2 L1398.9,330.5 L1399.3,328.7 L1400.4,327.0 L1402.3,325.2 L1405.0,323.5 L1408.4,321.8 L1412.4,320.0 L1417.0,318.3 L1422.2,316.5 L1427.7,314.8 L1433.6,313.1 L1439.7,311.3 L1445.9,309.6 L1452.2,307.9 L1458.3,306.1 L1464.3,304.4 L1469.9,302.6 L1475.2,300.9 L1480.0,299.2 L1484.3,297.4 L1487.9,295.7 L1490.8,293.9 L1493.0,292.2 L1494.4,290.5Z" fill="#eef6fa" stroke="#5a5a5a" stroke-width="0.9" stroke-linejoin="round" clip-path="url(#cd)"/>
<path d="M1495.0,391.3 L1494.5,393.0 L1493.1,394.8 L1491.0,396.5 L1488.1,398.2 L1484.6,400.0 L1480.4,401.7 L1475.6,403.5 L1470.3,405.2 L1464.7,406.9 L1458.8,408.7 L1452.6,410.4 L1446.4,412.1 L1440.1,413.9 L1434.0,415.6 L1428.1,417.4 L1422.6,419.1 L1417.4,420.8 L1412.7,422.6 L1408.7,424.3 L1405.2,426.1 L1402.5,427.8 L1400.5,429.5 L1399.3,431.3 L1398.9,433.0 L1399.2,415.7 L1399.0,413.9 L1399.5,412.2 L1400.9,410.5 L1403.0,408.7 L1405.9,407.0 L1409.5,405.2 L1413.7,403.5 L1418.5,401.8 L1423.8,400.0 L1429.4,398.3 L1435.4,396.5 L1441.6,394.8 L1447.8,393.1 L1454.0,391.3 L1460.1,389.6 L1466.0,387.9 L1471.6,386.1 L1476.7,384.4 L1481.4,382.6 L1485.4,380.9 L1488.9,379.2 L1491.6,377.4 L1493.5,375.7 L1494.7,373.9Z" fill="#eef6fa" stroke="#5a5a5a" stroke-width="0.9" stroke-linejoin="round" clip-path="url(#cd)"/>
<path d="M1495.1,474.8 L1494.7,476.5 L1493.6,478.2 L1491.7,480.0 L1489.1,481.7 L1485.7,483.5 L1481.7,485.2 L1477.1,486.9 L1472.0,488.7 L1466.4,490.4 L1460.6,492.1 L1454.5,493.9 L1448.2,495.6 L1442.0,497.4 L1435.8,499.1 L1429.9,500.8 L1424.2,502.6 L1418.9,504.3 L1414.1,506.1 L1409.8,507.8 L1406.2,509.5 L1403.2,511.3 L1401.0,513.0 L1399.6,514.8 L1399.0,516.5 L1399.0,499.2 L1399.0,497.4 L1399.9,495.7 L1401.5,493.9 L1403.8,492.2 L1406.9,490.5 L1410.7,488.7 L1415.1,487.0 L1420.1,485.2 L1425.5,483.5 L1431.2,481.8 L1437.2,480.0 L1443.4,478.3 L1449.7,476.5 L1455.9,474.8 L1461.9,473.1 L1467.7,471.3 L1473.2,469.6 L1478.2,467.9 L1482.7,466.1 L1486.5,464.4 L1489.7,462.6 L1492.2,460.9 L1494.0,459.2 L1494.9,457.4Z" fill="#eef6fa" stroke="#5a5a5a" stroke-width="0.9" stroke-linejoin="round" clip-path="url(#cd)"/>
<path d="M1660.0,205.0 C1666.7,203.8 1686.7,197.8 1700.0,198.0 C1713.3,198.2 1723.3,203.7 1740.0,206.0 C1756.7,208.3 1790.0,211.0 1800.0,212.0" fill="none" stroke="#5a5a5a" stroke-width="17.8" stroke-linecap="butt" stroke-linejoin="round" clip-path="url(#cd)"/>
<path d="M1660.0,205.0 C1666.7,203.8 1686.7,197.8 1700.0,198.0 C1713.3,198.2 1723.3,203.7 1740.0,206.0 C1756.7,208.3 1790.0,211.0 1800.0,212.0" fill="none" stroke="#eef6fa" stroke-width="16.0" stroke-linecap="butt" stroke-linejoin="round" clip-path="url(#cd)"/>
<path d="M1424.0,366.0 L1438.0,340.0 L1442.0,333.0" fill="none" stroke="#6356a1" stroke-width="7.6" stroke-linecap="round" stroke-linejoin="round"/>
<path d="M1424.0,366.0 L1438.0,340.0 L1442.0,333.0" fill="none" stroke="#8a78e0" stroke-width="6" stroke-linecap="round" stroke-linejoin="round"/>
<path d="M1440.0,347.0 L1452.0,336.0 L1462.0,340.0" fill="none" stroke="#24a0ac" stroke-width="7.6" stroke-linecap="round" stroke-linejoin="round"/>
<path d="M1440.0,347.0 L1452.0,336.0 L1462.0,340.0" fill="none" stroke="#33dff0" stroke-width="6" stroke-linecap="round" stroke-linejoin="round"/>
<path d="M1462.0,340.0 L1478.0,342.0" fill="none" stroke="#ac0b0b" stroke-width="7.6" stroke-linecap="round" stroke-linejoin="round"/>
<path d="M1462.0,340.0 L1478.0,342.0" fill="none" stroke="#f01010" stroke-width="6" stroke-linecap="round" stroke-linejoin="round"/>
<path d="M1436.0,332.0 L1433.0,326.0" fill="none" stroke="#ac0b0b" stroke-width="7.6" stroke-linecap="round" stroke-linejoin="round"/>
<path d="M1436.0,332.0 L1433.0,326.0" fill="none" stroke="#f01010" stroke-width="6" stroke-linecap="round" stroke-linejoin="round"/>
<path d="M1585.0,330.0 L1582.0,314.0 L1590.0,306.0" fill="none" stroke="#6356a1" stroke-width="7.6" stroke-linecap="round" stroke-linejoin="round"/>
<path d="M1585.0,330.0 L1582.0,314.0 L1590.0,306.0" fill="none" stroke="#8a78e0" stroke-width="6" stroke-linecap="round" stroke-linejoin="round"/>
<path d="M1590.0,335.0 L1588.0,318.0 L1598.0,310.0" fill="none" stroke="#24a0ac" stroke-width="7.6" stroke-linecap="round" stroke-linejoin="round"/>
<path d="M1590.0,335.0 L1588.0,318.0 L1598.0,310.0" fill="none" stroke="#33dff0" stroke-width="6" stroke-linecap="round" stroke-linejoin="round"/>
<path d="M1590.0,306.0 L1600.0,296.0" fill="none" stroke="#ac0b0b" stroke-width="7.6" stroke-linecap="round" stroke-linejoin="round"/>
<path d="M1590.0,306.0 L1600.0,296.0" fill="none" stroke="#f01010" stroke-width="6" stroke-linecap="round" stroke-linejoin="round"/>
<path d="M1598.0,310.0 L1613.0,302.0" fill="none" stroke="#ac0b0b" stroke-width="7.6" stroke-linecap="round" stroke-linejoin="round"/>
<path d="M1598.0,310.0 L1613.0,302.0" fill="none" stroke="#f01010" stroke-width="6" stroke-linecap="round" stroke-linejoin="round"/>
<path d="M1712.0,221.0 L1734.0,225.0 L1746.0,251.0 L1742.0,273.0 L1720.0,265.0 L1708.0,243.0 L1712.0,221.0" fill="none" stroke="#6356a1" stroke-width="7.6" stroke-linecap="round" stroke-linejoin="round"/>
<path d="M1712.0,221.0 L1734.0,225.0 L1746.0,251.0 L1742.0,273.0 L1720.0,265.0 L1708.0,243.0 L1712.0,221.0" fill="none" stroke="#8a78e0" stroke-width="6" stroke-linecap="round" stroke-linejoin="round"/>
<path d="M1746.0,274.0 L1762.0,290.0 L1745.0,322.0" fill="none" stroke="#6356a1" stroke-width="7.6" stroke-linecap="round" stroke-linejoin="round"/>
<path d="M1746.0,274.0 L1762.0,290.0 L1745.0,322.0" fill="none" stroke="#8a78e0" stroke-width="6" stroke-linecap="round" stroke-linejoin="round"/>
<path d="M1708.0,218.0 L1730.0,222.0 L1742.0,248.0 L1738.0,270.0 L1716.0,262.0 L1704.0,240.0 L1708.0,218.0" fill="none" stroke="#24a0ac" stroke-width="7.6" stroke-linecap="round" stroke-linejoin="round"/>
<path d="M1708.0,218.0 L1730.0,222.0 L1742.0,248.0 L1738.0,270.0 L1716.0,262.0 L1704.0,240.0 L1708.0,218.0" fill="none" stroke="#33dff0" stroke-width="6" stroke-linecap="round" stroke-linejoin="round"/>
<path d="M1738.0,270.0 L1760.0,286.0 L1742.0,318.0" fill="none" stroke="#24a0ac" stroke-width="7.6" stroke-linecap="round" stroke-linejoin="round"/>
<path d="M1738.0,270.0 L1760.0,286.0 L1742.0,318.0" fill="none" stroke="#33dff0" stroke-width="6" stroke-linecap="round" stroke-linejoin="round"/>
<path d="M1696.0,207.0 L1706.0,217.0" fill="none" stroke="#ac0b0b" stroke-width="7.6" stroke-linecap="round" stroke-linejoin="round"/>
<path d="M1696.0,207.0 L1706.0,217.0" fill="none" stroke="#f01010" stroke-width="6" stroke-linecap="round" stroke-linejoin="round"/>
<path d="M1482.0,287.0 L1490.0,275.0 L1484.0,252.0 L1495.0,228.0 L1520.0,230.0 L1526.0,255.0 L1510.0,276.0 L1490.0,275.0" fill="none" stroke="#ae7860" stroke-width="9.1" stroke-linecap="round" stroke-linejoin="round"/>
<path d="M1482.0,287.0 L1490.0,275.0 L1484.0,252.0 L1495.0,228.0 L1520.0,230.0 L1526.0,255.0 L1510.0,276.0 L1490.0,275.0" fill="none" stroke="#f2a886" stroke-width="7.5" stroke-linecap="round" stroke-linejoin="round"/>
<path d="M1520.0,230.0 L1536.0,216.0" fill="none" stroke="#ae7860" stroke-width="9.1" stroke-linecap="round" stroke-linejoin="round"/>
<path d="M1520.0,230.0 L1536.0,216.0" fill="none" stroke="#f2a886" stroke-width="7.5" stroke-linecap="round" stroke-linejoin="round"/>
<path d="M1566.0,220.0 L1578.0,208.0 L1600.0,213.0 L1610.0,236.0 L1600.0,255.0 L1578.0,250.0 L1566.0,220.0" fill="none" stroke="#ae7860" stroke-width="9.1" stroke-linecap="round" stroke-linejoin="round"/>
<path d="M1566.0,220.0 L1578.0,208.0 L1600.0,213.0 L1610.0,236.0 L1600.0,255.0 L1578.0,250.0 L1566.0,220.0" fill="none" stroke="#f2a886" stroke-width="7.5" stroke-linecap="round" stroke-linejoin="round"/>
<path d="M1610.0,236.0 L1638.0,226.0 L1650.0,255.0 L1648.0,267.0" fill="none" stroke="#ae7860" stroke-width="9.1" stroke-linecap="round" stroke-linejoin="round"/>
<path d="M1610.0,236.0 L1638.0,226.0 L1650.0,255.0 L1648.0,267.0" fill="none" stroke="#f2a886" stroke-width="7.5" stroke-linecap="round" stroke-linejoin="round"/>
<path d="M1536.0,216.0 L1551.0,218.0" fill="none" stroke="#ac0b0b" stroke-width="9.1" stroke-linecap="round" stroke-linejoin="round"/>
<path d="M1536.0,216.0 L1551.0,218.0" fill="none" stroke="#f01010" stroke-width="7.5" stroke-linecap="round" stroke-linejoin="round"/>
<path d="M1551.0,218.0 L1566.0,220.0" fill="none" stroke="#ae7860" stroke-width="9.1" stroke-linecap="round" stroke-linejoin="round"/>
<path d="M1551.0,218.0 L1566.0,220.0" fill="none" stroke="#f2a886" stroke-width="7.5" stroke-linecap="round" stroke-linejoin="round"/>
<path d="M1482.0,287.0 L1470.6,289.7" fill="none" stroke="#ae7860" stroke-width="9.1" stroke-linecap="round" stroke-linejoin="round"/>
<path d="M1482.0,287.0 L1470.6,289.7" fill="none" stroke="#f2a886" stroke-width="7.5" stroke-linecap="round" stroke-linejoin="round"/>
<path d="M1470.6,289.7 L1444.0,296.0" fill="none" stroke="#ac0b0b" stroke-width="9.1" stroke-linecap="round" stroke-linejoin="round"/>
<path d="M1470.6,289.7 L1444.0,296.0" fill="none" stroke="#f01010" stroke-width="7.5" stroke-linecap="round" stroke-linejoin="round"/>
<path d="M1648.0,267.0 L1649.0,268.5" fill="none" stroke="#ae7860" stroke-width="9.1" stroke-linecap="round" stroke-linejoin="round"/>
<path d="M1648.0,267.0 L1649.0,268.5" fill="none" stroke="#f2a886" stroke-width="7.5" stroke-linecap="round" stroke-linejoin="round"/>
<path d="M1649.0,268.5 L1650.0,270.0" fill="none" stroke="#1e35ac" stroke-width="9.1" stroke-linecap="round" stroke-linejoin="round"/>
<path d="M1649.0,268.5 L1650.0,270.0" fill="none" stroke="#2a4af0" stroke-width="7.5" stroke-linecap="round" stroke-linejoin="round"/>
<circle cx="1650.0" cy="270.0" r="4.5" fill="#2a4af0" stroke="#1e35ac" stroke-width="1"/>
<line x1="1443" y1="300" x2="1436" y2="326" stroke="#b02020" stroke-width="3" stroke-dasharray="3 2"/>
<path d="M1540.0,182.0 L1526.0,190.0 L1522.0,217.0 L1496.0,232.0 L1502.0,262.0 L1533.0,267.0 L1547.0,243.0 L1522.0,217.0" fill="none" stroke="#b7ad12" stroke-width="9.1" stroke-linecap="round" stroke-linejoin="round"/>
<path d="M1540.0,182.0 L1526.0,190.0 L1522.0,217.0 L1496.0,232.0 L1502.0,262.0 L1533.0,267.0 L1547.0,243.0 L1522.0,217.0" fill="none" stroke="#fff11a" stroke-width="7.5" stroke-linecap="round" stroke-linejoin="round"/>
<path d="M1547.0,243.0 L1570.0,237.0" fill="none" stroke="#b7ad12" stroke-width="9.1" stroke-linecap="round" stroke-linejoin="round"/>
<path d="M1547.0,243.0 L1570.0,237.0" fill="none" stroke="#fff11a" stroke-width="7.5" stroke-linecap="round" stroke-linejoin="round"/>
<path d="M1570.0,237.0 L1575.0,222.0 L1562.0,192.0 L1540.0,182.0" fill="none" stroke="#b7ad12" stroke-width="9.1" stroke-linecap="round" stroke-linejoin="round"/>
<path d="M1570.0,237.0 L1575.0,222.0 L1562.0,192.0 L1540.0,182.0" fill="none" stroke="#fff11a" stroke-width="7.5" stroke-linecap="round" stroke-linejoin="round"/>
<path d="M1570.0,237.0 L1592.0,247.0 L1620.0,236.0" fill="none" stroke="#b7ad12" stroke-width="9.1" stroke-linecap="round" stroke-linejoin="round"/>
<path d="M1570.0,237.0 L1592.0,247.0 L1620.0,236.0" fill="none" stroke="#fff11a" stroke-width="7.5" stroke-linecap="round" stroke-linejoin="round"/>
<path d="M1562.0,192.0 L1564.6,198.0" fill="none" stroke="#b7ad12" stroke-width="9.1" stroke-linecap="round" stroke-linejoin="round"/>
<path d="M1562.0,192.0 L1564.6,198.0" fill="none" stroke="#fff11a" stroke-width="7.5" stroke-linecap="round" stroke-linejoin="round"/>
<path d="M1564.6,198.0 L1575.0,222.0" fill="none" stroke="#ac0b0b" stroke-width="9.1" stroke-linecap="round" stroke-linejoin="round"/>
<path d="M1564.6,198.0 L1575.0,222.0" fill="none" stroke="#f01010" stroke-width="7.5" stroke-linecap="round" stroke-linejoin="round"/>
<path d="M1620.0,236.0 L1627.2,244.8" fill="none" stroke="#1e35ac" stroke-width="9.1" stroke-linecap="round" stroke-linejoin="round"/>
<path d="M1620.0,236.0 L1627.2,244.8" fill="none" stroke="#2a4af0" stroke-width="7.5" stroke-linecap="round" stroke-linejoin="round"/>
<path d="M1627.2,244.8 L1638.0,258.0" fill="none" stroke="#b7ad12" stroke-width="9.1" stroke-linecap="round" stroke-linejoin="round"/>
<path d="M1627.2,244.8 L1638.0,258.0" fill="none" stroke="#fff11a" stroke-width="7.5" stroke-linecap="round" stroke-linejoin="round"/>
<path d="M1542.0,173.0 L1550.0,185.0" fill="none" stroke="#6f1680" stroke-width="9.1" stroke-linecap="round" stroke-linejoin="round"/>
<path d="M1542.0,173.0 L1550.0,185.0" fill="none" stroke="#9b1fb2" stroke-width="7.5" stroke-linecap="round" stroke-linejoin="round"/>
<circle cx="1536.6" cy="167.9" r="8" fill="#9b1fb2" stroke="#6f1680" stroke-width="1"/>
<text x="1546.7" y="151.6" font-size="28" font-weight="bold" fill="#fff11a" stroke="#8f8a10" stroke-width="1.7" paint-order="stroke" text-anchor="middle" textLength="166.6" lengthAdjust="spacingAndGlyphs">SEP-363856</text>
<text x="1590.7" y="285.7" font-size="28" font-weight="bold" fill="#f5b08c" stroke="#b87a5a" stroke-width="1.7" paint-order="stroke" text-anchor="middle" textLength="78.6" lengthAdjust="spacingAndGlyphs">T1AM</text>
<text x="1432.30" y="398.00" font-size="30" fill="#000" font-weight="bold" textLength="52.8" lengthAdjust="spacingAndGlyphs" >S<tspan font-size="18" dy="-13">5.46</tspan></text>
<text x="1562.30" y="369.60" font-size="30" fill="#000" font-weight="bold" textLength="50.0" lengthAdjust="spacingAndGlyphs" >S<tspan font-size="18" dy="-13">3.37</tspan></text>
<text x="1724.80" y="354.70" font-size="30" fill="#000" font-weight="bold" textLength="51.4" lengthAdjust="spacingAndGlyphs" >Y<tspan font-size="18" dy="-13">7.43</tspan></text>
<path d="M700.0,2140.0 C699.5,2135.8 696.2,2121.7 697.0,2115.0 C697.8,2108.3 701.2,2100.8 705.0,2100.0 C708.8,2099.2 715.5,2103.3 720.0,2110.0 C724.5,2116.7 729.8,2130.8 732.0,2140.0 C734.2,2149.2 734.7,2160.0 733.0,2165.0 C731.3,2170.0 725.8,2170.8 722.0,2170.0 C718.2,2169.2 712.0,2161.7 710.0,2160.0" fill="none" stroke="#222" stroke-width="10.8" stroke-linecap="butt" stroke-linejoin="round" clip-path="url(#cl)"/>
<path d="M700.0,2140.0 C699.5,2135.8 696.2,2121.7 697.0,2115.0 C697.8,2108.3 701.2,2100.8 705.0,2100.0 C708.8,2099.2 715.5,2103.3 720.0,2110.0 C724.5,2116.7 729.8,2130.8 732.0,2140.0 C734.2,2149.2 734.7,2160.0 733.0,2165.0 C731.3,2170.0 725.8,2170.8 722.0,2170.0 C718.2,2169.2 712.0,2161.7 710.0,2160.0" fill="none" stroke="#ffffff" stroke-width="9.0" stroke-linecap="butt" stroke-linejoin="round" clip-path="url(#cl)"/>
<path d="M696.0,2098.0 C699.2,2096.7 707.7,2092.5 715.0,2090.0 C722.3,2087.5 735.8,2084.2 740.0,2083.0" fill="none" stroke="#222" stroke-width="10.8" stroke-linecap="butt" stroke-linejoin="round" clip-path="url(#cl)"/>
<path d="M696.0,2098.0 C699.2,2096.7 707.7,2092.5 715.0,2090.0 C722.3,2087.5 735.8,2084.2 740.0,2083.0" fill="none" stroke="#ffffff" stroke-width="9.0" stroke-linecap="butt" stroke-linejoin="round" clip-path="url(#cl)"/>
<path d="M695.0,2184.0 C703.2,2183.8 729.2,2186.5 744.0,2183.0 C758.8,2179.5 770.5,2168.5 784.0,2163.0 C797.5,2157.5 809.2,2151.3 825.0,2150.0 C840.8,2148.7 863.2,2152.0 879.0,2155.0 C894.8,2158.0 906.5,2171.5 920.0,2168.0 C933.5,2164.5 949.7,2146.7 960.0,2134.0 C970.3,2121.3 977.7,2101.0 982.0,2092.0 C986.3,2083.0 985.3,2082.0 986.0,2080.0" fill="none" stroke="#222" stroke-width="12.8" stroke-linecap="butt" stroke-linejoin="round" clip-path="url(#cl)"/>
<path d="M695.0,2184.0 C703.2,2183.8 729.2,2186.5 744.0,2183.0 C758.8,2179.5 770.5,2168.5 784.0,2163.0 C797.5,2157.5 809.2,2151.3 825.0,2150.0 C840.8,2148.7 863.2,2152.0 879.0,2155.0 C894.8,2158.0 906.5,2171.5 920.0,2168.0 C933.5,2164.5 949.7,2146.7 960.0,2134.0 C970.3,2121.3 977.7,2101.0 982.0,2092.0 C986.3,2083.0 985.3,2082.0 986.0,2080.0" fill="none" stroke="#ffffff" stroke-width="11.0" stroke-linecap="butt" stroke-linejoin="round" clip-path="url(#cl)"/>
<path d="M695.0,2215.0 C704.2,2214.5 735.8,2215.5 750.0,2212.0 C764.2,2208.5 769.7,2202.2 780.0,2194.0 C790.3,2185.8 798.7,2167.0 812.0,2163.0 C825.3,2159.0 844.3,2167.2 860.0,2170.0 C875.7,2172.8 889.3,2181.7 906.0,2180.0 C922.7,2178.3 945.0,2170.0 960.0,2160.0 C975.0,2150.0 985.0,2132.8 996.0,2120.0 C1007.0,2107.2 1021.0,2089.2 1026.0,2083.0" fill="none" stroke="#222" stroke-width="12.8" stroke-linecap="butt" stroke-linejoin="round" clip-path="url(#cl)"/>
<path d="M695.0,2215.0 C704.2,2214.5 735.8,2215.5 750.0,2212.0 C764.2,2208.5 769.7,2202.2 780.0,2194.0 C790.3,2185.8 798.7,2167.0 812.0,2163.0 C825.3,2159.0 844.3,2167.2 860.0,2170.0 C875.7,2172.8 889.3,2181.7 906.0,2180.0 C922.7,2178.3 945.0,2170.0 960.0,2160.0 C975.0,2150.0 985.0,2132.8 996.0,2120.0 C1007.0,2107.2 1021.0,2089.2 1026.0,2083.0" fill="none" stroke="#ffffff" stroke-width="11.0" stroke-linecap="butt" stroke-linejoin="round" clip-path="url(#cl)"/>
<path d="M969.0,2190.0 C975.8,2187.0 996.5,2177.7 1010.0,2172.0 C1023.5,2166.3 1037.8,2161.3 1050.0,2156.0 C1062.2,2150.7 1077.5,2142.7 1083.0,2140.0" fill="none" stroke="#222" stroke-width="8.8" stroke-linecap="butt" stroke-linejoin="round" clip-path="url(#cl)"/>
<path d="M969.0,2190.0 C975.8,2187.0 996.5,2177.7 1010.0,2172.0 C1023.5,2166.3 1037.8,2161.3 1050.0,2156.0 C1062.2,2150.7 1077.5,2142.7 1083.0,2140.0" fill="none" stroke="#ffffff" stroke-width="7.0" stroke-linecap="butt" stroke-linejoin="round" clip-path="url(#cl)"/>
<path d="M977.0,2212.0 C984.2,2209.7 1004.7,2203.3 1020.0,2198.0 C1035.3,2192.7 1060.8,2183.0 1069.0,2180.0" fill="none" stroke="#222" stroke-width="6.8" stroke-linecap="butt" stroke-linejoin="round" clip-path="url(#cl)"/>
<path d="M977.0,2212.0 C984.2,2209.7 1004.7,2203.3 1020.0,2198.0 C1035.3,2192.7 1060.8,2183.0 1069.0,2180.0" fill="none" stroke="#ffffff" stroke-width="5.0" stroke-linecap="butt" stroke-linejoin="round" clip-path="url(#cl)"/>
<path d="M955.0,2318.0 C962.5,2315.8 983.7,2309.7 1000.0,2305.0 C1016.3,2300.3 1044.2,2292.5 1053.0,2290.0" fill="none" stroke="#222" stroke-width="6.8" stroke-linecap="butt" stroke-linejoin="round" clip-path="url(#cl)"/>
<path d="M955.0,2318.0 C962.5,2315.8 983.7,2309.7 1000.0,2305.0 C1016.3,2300.3 1044.2,2292.5 1053.0,2290.0" fill="none" stroke="#ffffff" stroke-width="5.0" stroke-linecap="butt" stroke-linejoin="round" clip-path="url(#cl)"/>
<path d="M985.0,2328.0 C990.8,2326.3 1008.7,2321.8 1020.0,2318.0 C1031.3,2314.2 1047.5,2307.2 1053.0,2305.0" fill="none" stroke="#222" stroke-width="5.8" stroke-linecap="butt" stroke-linejoin="round" clip-path="url(#cl)"/>
<path d="M985.0,2328.0 C990.8,2326.3 1008.7,2321.8 1020.0,2318.0 C1031.3,2314.2 1047.5,2307.2 1053.0,2305.0" fill="none" stroke="#ffffff" stroke-width="4.0" stroke-linecap="butt" stroke-linejoin="round" clip-path="url(#cl)"/>
<path d="M696.0,2245.0 C699.2,2247.8 710.2,2254.5 715.0,2262.0 C719.8,2269.5 724.2,2280.3 725.0,2290.0 C725.8,2299.7 724.2,2311.7 720.0,2320.0 C715.8,2328.3 703.3,2336.7 700.0,2340.0" fill="none" stroke="#222" stroke-width="10.8" stroke-linecap="butt" stroke-linejoin="round" clip-path="url(#cl)"/>
<path d="M696.0,2245.0 C699.2,2247.8 710.2,2254.5 715.0,2262.0 C719.8,2269.5 724.2,2280.3 725.0,2290.0 C725.8,2299.7 724.2,2311.7 720.0,2320.0 C715.8,2328.3 703.3,2336.7 700.0,2340.0" fill="none" stroke="#ffffff" stroke-width="9.0" stroke-linecap="butt" stroke-linejoin="round" clip-path="url(#cl)"/>
<path d="M696.0,2300.0 C700.0,2303.3 713.5,2312.5 720.0,2320.0 C726.5,2327.5 733.7,2335.3 735.0,2345.0 C736.3,2354.7 733.8,2368.8 728.0,2378.0 C722.2,2387.2 704.7,2396.3 700.0,2400.0" fill="none" stroke="#222" stroke-width="10.8" stroke-linecap="butt" stroke-linejoin="round" clip-path="url(#cl)"/>
<path d="M696.0,2300.0 C700.0,2303.3 713.5,2312.5 720.0,2320.0 C726.5,2327.5 733.7,2335.3 735.0,2345.0 C736.3,2354.7 733.8,2368.8 728.0,2378.0 C722.2,2387.2 704.7,2396.3 700.0,2400.0" fill="none" stroke="#ffffff" stroke-width="9.0" stroke-linecap="butt" stroke-linejoin="round" clip-path="url(#cl)"/>
<path d="M706.0,2452.0 C714.7,2446.8 739.0,2429.8 758.0,2421.0 C777.0,2412.2 804.3,2401.8 820.0,2399.0 C835.7,2396.2 842.3,2399.2 852.0,2404.0 C861.7,2408.8 873.7,2424.0 878.0,2428.0" fill="none" stroke="#222" stroke-width="14.8" stroke-linecap="butt" stroke-linejoin="round" clip-path="url(#cl)"/>
<path d="M706.0,2452.0 C714.7,2446.8 739.0,2429.8 758.0,2421.0 C777.0,2412.2 804.3,2401.8 820.0,2399.0 C835.7,2396.2 842.3,2399.2 852.0,2404.0 C861.7,2408.8 873.7,2424.0 878.0,2428.0" fill="none" stroke="#ffffff" stroke-width="13.0" stroke-linecap="butt" stroke-linejoin="round" clip-path="url(#cl)"/>
<path d="M726.0,2463.0 C733.5,2459.5 753.5,2450.0 771.0,2442.0 C788.5,2434.0 816.2,2418.7 831.0,2415.0 C845.8,2411.3 855.2,2419.2 860.0,2420.0" fill="none" stroke="#222" stroke-width="12.8" stroke-linecap="butt" stroke-linejoin="round" clip-path="url(#cl)"/>
<path d="M726.0,2463.0 C733.5,2459.5 753.5,2450.0 771.0,2442.0 C788.5,2434.0 816.2,2418.7 831.0,2415.0 C845.8,2411.3 855.2,2419.2 860.0,2420.0" fill="none" stroke="#ffffff" stroke-width="11.0" stroke-linecap="butt" stroke-linejoin="round" clip-path="url(#cl)"/>
<path d="M695.0,2504.0 C703.2,2500.0 729.0,2486.8 744.0,2480.0 C759.0,2473.2 774.0,2464.7 785.0,2463.0 C796.0,2461.3 805.8,2468.8 810.0,2470.0" fill="none" stroke="#222" stroke-width="10.8" stroke-linecap="butt" stroke-linejoin="round" clip-path="url(#cl)"/>
<path d="M695.0,2504.0 C703.2,2500.0 729.0,2486.8 744.0,2480.0 C759.0,2473.2 774.0,2464.7 785.0,2463.0 C796.0,2461.3 805.8,2468.8 810.0,2470.0" fill="none" stroke="#ffffff" stroke-width="9.0" stroke-linecap="butt" stroke-linejoin="round" clip-path="url(#cl)"/>
<path d="M790.0,2465.0 C796.7,2465.8 815.0,2464.2 830.0,2470.0 C845.0,2475.8 868.3,2491.7 880.0,2500.0 C891.7,2508.3 896.7,2516.7 900.0,2520.0" fill="none" stroke="#222" stroke-width="8.8" stroke-linecap="butt" stroke-linejoin="round" clip-path="url(#cl)"/>
<path d="M790.0,2465.0 C796.7,2465.8 815.0,2464.2 830.0,2470.0 C845.0,2475.8 868.3,2491.7 880.0,2500.0 C891.7,2508.3 896.7,2516.7 900.0,2520.0" fill="none" stroke="#ffffff" stroke-width="7.0" stroke-linecap="butt" stroke-linejoin="round" clip-path="url(#cl)"/>
<path d="M842.0,2520.0 C846.7,2516.7 859.2,2505.0 870.0,2500.0 C880.8,2495.0 895.3,2490.8 907.0,2490.0 C918.7,2489.2 931.0,2492.2 940.0,2495.0 C949.0,2497.8 957.5,2505.0 961.0,2507.0" fill="none" stroke="#222" stroke-width="9.8" stroke-linecap="butt" stroke-linejoin="round" clip-path="url(#cl)"/>
<path d="M842.0,2520.0 C846.7,2516.7 859.2,2505.0 870.0,2500.0 C880.8,2495.0 895.3,2490.8 907.0,2490.0 C918.7,2489.2 931.0,2492.2 940.0,2495.0 C949.0,2497.8 957.5,2505.0 961.0,2507.0" fill="none" stroke="#ffffff" stroke-width="8.0" stroke-linecap="butt" stroke-linejoin="round" clip-path="url(#cl)"/>
<path d="M1128.0,2390.0 C1123.3,2390.3 1108.3,2388.7 1100.0,2392.0 C1091.7,2395.3 1082.7,2402.0 1078.0,2410.0 C1073.3,2418.0 1070.8,2431.3 1072.0,2440.0 C1073.2,2448.7 1075.7,2457.0 1085.0,2462.0 C1094.3,2467.0 1120.8,2468.7 1128.0,2470.0" fill="none" stroke="#222" stroke-width="11.8" stroke-linecap="butt" stroke-linejoin="round" clip-path="url(#cl)"/>
<path d="M1128.0,2390.0 C1123.3,2390.3 1108.3,2388.7 1100.0,2392.0 C1091.7,2395.3 1082.7,2402.0 1078.0,2410.0 C1073.3,2418.0 1070.8,2431.3 1072.0,2440.0 C1073.2,2448.7 1075.7,2457.0 1085.0,2462.0 C1094.3,2467.0 1120.8,2468.7 1128.0,2470.0" fill="none" stroke="#ffffff" stroke-width="10.0" stroke-linecap="butt" stroke-linejoin="round" clip-path="url(#cl)"/>
<path d="M1128.0,2455.0 C1123.3,2456.7 1107.2,2459.2 1100.0,2465.0 C1092.8,2470.8 1085.8,2482.2 1085.0,2490.0 C1084.2,2497.8 1087.8,2507.3 1095.0,2512.0 C1102.2,2516.7 1122.5,2517.0 1128.0,2518.0" fill="none" stroke="#222" stroke-width="11.8" stroke-linecap="butt" stroke-linejoin="round" clip-path="url(#cl)"/>
<path d="M1128.0,2455.0 C1123.3,2456.7 1107.2,2459.2 1100.0,2465.0 C1092.8,2470.8 1085.8,2482.2 1085.0,2490.0 C1084.2,2497.8 1087.8,2507.3 1095.0,2512.0 C1102.2,2516.7 1122.5,2517.0 1128.0,2518.0" fill="none" stroke="#ffffff" stroke-width="10.0" stroke-linecap="butt" stroke-linejoin="round" clip-path="url(#cl)"/>
<path d="M749.6,2183.6 L756.0,2167.6 L794.4,2167.6 L815.2,2207.6 L852.0,2210.8 L860.0,2228.4" fill="none" stroke="#ef7fa6" stroke-width="8.5" stroke-linecap="round" stroke-linejoin="round"/>
<path d="M860.0,2228.4 L866.4,2249.2" fill="none" stroke="#3a4ef0" stroke-width="8.5" stroke-linecap="round" stroke-linejoin="round"/>
<path d="M751.2,2220.4 L765.6,2255.6 L791.2,2258.8" fill="none" stroke="#3a98ec" stroke-width="8.5" stroke-linecap="round" stroke-linejoin="round"/>
<path d="M791.2,2258.8 L820.0,2250.0 L842.0,2258.0 L835.0,2280.0 L799.0,2290.0 L777.0,2281.0 L791.2,2258.8" fill="none" stroke="#3a98ec" stroke-width="8.5" stroke-linecap="round" stroke-linejoin="round"/>
<text x="877.60" y="2222.00" font-size="25" fill="#ef7fa6" font-weight="bold" textLength="103.0" lengthAdjust="spacingAndGlyphs" >K191<tspan font-size="16" dy="-11">ECL2</tspan></text>
<text x="742.60" y="2334.00" font-size="25" fill="#3a98ec" font-weight="bold" textLength="102.0" lengthAdjust="spacingAndGlyphs" >F186<tspan font-size="16" dy="-11">ECL2</tspan></text>
<path d="M981.1,2347.0 L942.4,2370.1 L920.4,2362.4 L921.7,2321.0 L959.2,2306.8 L968.2,2318.4" fill="none" stroke="#111" stroke-width="9.5" stroke-linecap="round" stroke-linejoin="round"/>
<path d="M920.4,2362.4 L892.0,2367.5 L894.6,2393.4 L920.0,2395.5" fill="none" stroke="#111" stroke-width="9.5" stroke-linecap="round" stroke-linejoin="round"/>
<path d="M981.1,2347.0 L988.0,2362.0 L1000.5,2385.6" fill="none" stroke="#111" stroke-width="9.5" stroke-linecap="round" stroke-linejoin="round"/>
<path d="M1032.8,2371.4 L1060.0,2389.5" fill="none" stroke="#111" stroke-width="9.5" stroke-linecap="round" stroke-linejoin="round"/>
<path d="M981.1,2347.0 L942.4,2370.1 L920.4,2362.4 L921.7,2321.0 L959.2,2306.8 L968.2,2318.4" fill="none" stroke="#45e02c" stroke-width="7.5" stroke-linecap="round" stroke-linejoin="round"/>
<path d="M920.4,2362.4 L892.0,2367.5 L894.6,2393.4 L920.0,2395.5" fill="none" stroke="#45e02c" stroke-width="7.5" stroke-linecap="round" stroke-linejoin="round"/>
<path d="M981.1,2347.0 L988.0,2362.0 L1000.5,2385.6" fill="none" stroke="#45e02c" stroke-width="7.5" stroke-linecap="round" stroke-linejoin="round"/>
<path d="M1032.8,2371.4 L1060.0,2389.5" fill="none" stroke="#45e02c" stroke-width="7.5" stroke-linecap="round" stroke-linejoin="round"/>
<path d="M968.2,2318.4 L981.0,2333.0 L981.1,2345.0" fill="none" stroke="#111" stroke-width="9.5" stroke-linecap="round" stroke-linejoin="round"/>
<path d="M920.0,2395.5 L937.2,2397.3 L942.4,2370.1" fill="none" stroke="#111" stroke-width="9.5" stroke-linecap="round" stroke-linejoin="round"/>
<path d="M1000.5,2385.6 L1021.2,2375.3 L1032.8,2371.4" fill="none" stroke="#111" stroke-width="9.5" stroke-linecap="round" stroke-linejoin="round"/>
<path d="M968.2,2318.4 L981.0,2333.0 L981.1,2345.0" fill="none" stroke="#f03030" stroke-width="7.5" stroke-linecap="round" stroke-linejoin="round"/>
<path d="M920.0,2395.5 L937.2,2397.3 L942.4,2370.1" fill="none" stroke="#f5ef90" stroke-width="7.5" stroke-linecap="round" stroke-linejoin="round"/>
<path d="M1000.5,2385.6 L1021.2,2375.3 L1032.8,2371.4" fill="none" stroke="#3a4ef0" stroke-width="7.5" stroke-linecap="round" stroke-linejoin="round"/>
<circle cx="1060.0" cy="2389.5" r="6.5" fill="#45e02c" stroke="#31a11f" stroke-width="1"/>
<path d="M950.0,2338.0 L932.0,2327.5 L903.6,2348.2 L907.5,2368.8 L945.0,2370.0 L968.2,2359.8" fill="none" stroke="#111" stroke-width="9.5" stroke-linecap="round" stroke-linejoin="round"/>
<path d="M907.5,2368.8 L885.5,2380.5 L899.7,2392.0 L930.0,2392.1 L945.0,2370.0" fill="none" stroke="#111" stroke-width="9.5" stroke-linecap="round" stroke-linejoin="round"/>
<path d="M968.2,2359.8 L994.0,2385.6 L1008.0,2381.0" fill="none" stroke="#111" stroke-width="9.5" stroke-linecap="round" stroke-linejoin="round"/>
<path d="M950.0,2338.0 L932.0,2327.5 L903.6,2348.2 L907.5,2368.8 L945.0,2370.0 L968.2,2359.8" fill="none" stroke="#35d8f2" stroke-width="7.5" stroke-linecap="round" stroke-linejoin="round"/>
<path d="M907.5,2368.8 L885.5,2380.5 L899.7,2392.0 L930.0,2392.1 L945.0,2370.0" fill="none" stroke="#35d8f2" stroke-width="7.5" stroke-linecap="round" stroke-linejoin="round"/>
<path d="M968.2,2359.8 L994.0,2385.6 L1008.0,2381.0" fill="none" stroke="#35d8f2" stroke-width="7.5" stroke-linecap="round" stroke-linejoin="round"/>
<path d="M950.0,2338.0 L962.0,2352.0 L968.2,2359.8" fill="none" stroke="#111" stroke-width="9.5" stroke-linecap="round" stroke-linejoin="round"/>
<path d="M950.0,2338.0 L962.0,2352.0 L968.2,2359.8" fill="none" stroke="#f03030" stroke-width="7.5" stroke-linecap="round" stroke-linejoin="round"/>
<text x="800" y="2452.4" font-size="23" font-weight="bold" textLength="267" lengthAdjust="spacingAndGlyphs"><tspan fill="#4ee04a">SEP-363856</tspan><tspan fill="#000">-</tspan><tspan fill="#3a98e8">hTAAR1</tspan></text>
<text x="801" y="2487.6" font-size="23" font-weight="bold" textLength="264" lengthAdjust="spacingAndGlyphs"><tspan fill="#3ad8f0">SEP-363856</tspan><tspan fill="#000">-</tspan><tspan fill="#ef7fa6">5-HT<tspan font-size="15" dy="6">1A</tspan><tspan dy="-6">R</tspan></tspan></text>
<rect x="694.60" y="2083.40" width="434.20" height="431.40" fill="none" stroke="#6f6f6f" stroke-width="3.6" stroke-dasharray="8 6.5"/>
<rect x="12.40" y="561.90" width="579.70" height="931.30" fill="none" stroke="#a3a3a3" stroke-width="3.5" stroke-dasharray="7.5 7.5"/>
<rect x="614.20" y="561.90" width="580.30" height="931.30" fill="none" stroke="#a3a3a3" stroke-width="3.5" stroke-dasharray="7.5 7.5"/>
<rect x="1215.70" y="561.90" width="580.30" height="931.30" fill="none" stroke="#a3a3a3" stroke-width="3.5" stroke-dasharray="7.5 7.5"/>
<rect x="3.80" y="52.80" width="529.00" height="422.70" fill="none" stroke="#a3a3a3" stroke-width="3.2" stroke-dasharray="7.5 7.5"/>
<line x1="3.80" y1="410.50" x2="532.80" y2="410.50" stroke="#a3a3a3" stroke-width="3.2" stroke-dasharray="7.5 7.5"/>
<rect x="132.70" y="70.20" width="160.20" height="57.60" rx="12" fill="#e5f5c9" />
<rect x="40.80" y="107.70" width="85.00" height="51.70" rx="12" fill="#e5f5c9" />
<rect x="6.90" y="180.00" width="84.40" height="51.70" rx="12" fill="#e5f5c9" />
<rect x="199.00" y="294.70" width="85.70" height="51.30" rx="12" fill="#e5f5c9" />
<rect x="54.30" y="335.30" width="84.40" height="51.70" rx="12" fill="#e5f5c9" />
<rect x="289.00" y="341.80" width="84.60" height="51.20" rx="12" fill="#e5f5c9" />
<rect x="118.90" y="418.80" width="133.00" height="50.80" rx="12" fill="#e5f5c9" />
<rect x="343.40" y="75.70" width="85.00" height="51.70" rx="12" fill="#fad5ec" />
<rect x="386.50" y="141.20" width="85.80" height="51.80" rx="12" fill="#fad5ec" />
<rect x="423.40" y="245.50" width="85.20" height="51.30" rx="12" fill="#fad5ec" />
<rect x="383.00" y="312.50" width="139.20" height="56.50" rx="12" fill="#fad5ec" />
<rect x="370.50" y="418.00" width="133.90" height="50.30" rx="12" fill="#fad5ec" />
<text x="149.50" y="110.00" font-size="32" fill="#000" font-weight="bold" textLength="136.0" lengthAdjust="spacingAndGlyphs" >hV/mP<tspan font-size="18.5" dy="-12">ECL2</tspan></text>
<text x="64.50" y="148.30" font-size="32" fill="#000" font-weight="bold" >I<tspan font-size="18.5" dy="-11">3.33</tspan></text>
<text x="20.50" y="222.40" font-size="32" fill="#000" font-weight="bold" textLength="69.0" lengthAdjust="spacingAndGlyphs" >F<tspan font-size="18.5" dy="-11">ECL2</tspan></text>
<text x="355.50" y="118.20" font-size="32" fill="#000" font-weight="bold" >S<tspan font-size="18.5" dy="-11">3.36</tspan></text>
<text x="399.50" y="184.20" font-size="32" fill="#000" font-weight="bold" >D<tspan font-size="18.5" dy="-11">3.32</tspan></text>
<text x="435.50" y="287.80" font-size="32" fill="#000" font-weight="bold" >Y<tspan font-size="18.5" dy="-11">7.43</tspan></text>
<text x="394.50" y="354.50" font-size="32" fill="#000" font-weight="bold" textLength="115.0" lengthAdjust="spacingAndGlyphs" >hI/mY<tspan font-size="18.5" dy="-11">7.39</tspan></text>
<text x="213.00" y="335.50" font-size="32" fill="#000" font-weight="bold" >W<tspan font-size="18.5" dy="-11">6.48</tspan></text>
<text x="68.00" y="376.50" font-size="32" fill="#000" font-weight="bold" >F<tspan font-size="18.5" dy="-11">6.52</tspan></text>
<text x="306.00" y="381.80" font-size="32" fill="#000" font-weight="bold" >F<tspan font-size="18.5" dy="-11">6.51</tspan></text>
<text x="185.40" y="454.50" font-size="30" fill="#000" font-weight="bold" text-anchor="middle" textLength="120.0" lengthAdjust="spacingAndGlyphs" >Pocket 2</text>
<text x="437.50" y="454.30" font-size="30" fill="#000" font-weight="bold" text-anchor="middle" textLength="120.0" lengthAdjust="spacingAndGlyphs" >Pocket 1</text>
<line x1="146.50" y1="214.50" x2="154.20" y2="158.50" stroke="#000" stroke-width="2.2" stroke-linecap="round"/>
<line x1="154.20" y1="158.50" x2="205.00" y2="139.20" stroke="#000" stroke-width="2.2" stroke-linecap="round"/>
<line x1="205.00" y1="139.20" x2="244.92" y2="165.15" stroke="#000" stroke-width="2.2" stroke-linecap="round"/>
<line x1="251.25" y1="180.39" x2="241.20" y2="228.30" stroke="#000" stroke-width="2.2" stroke-linecap="round"/>
<line x1="241.20" y1="228.30" x2="189.50" y2="248.30" stroke="#000" stroke-width="2.2" stroke-linecap="round"/>
<line x1="189.50" y1="248.30" x2="146.50" y2="214.50" stroke="#000" stroke-width="2.2" stroke-linecap="round"/>
<line x1="181.86" y1="249.93" x2="146.72" y2="222.31" stroke="#000" stroke-width="2.2" stroke-linecap="round"/>
<line x1="189.50" y1="248.30" x2="176.64" y2="295.35" stroke="#000" stroke-width="2.2" stroke-linecap="round"/>
<line x1="165.06" y1="303.99" x2="113.70" y2="298.20" stroke="#000" stroke-width="2.2" stroke-linecap="round"/>
<line x1="113.70" y1="298.20" x2="100.80" y2="243.00" stroke="#000" stroke-width="2.2" stroke-linecap="round"/>
<line x1="118.40" y1="291.97" x2="107.78" y2="246.50" stroke="#000" stroke-width="2.2" stroke-linecap="round"/>
<line x1="100.80" y1="243.00" x2="146.50" y2="214.50" stroke="#000" stroke-width="2.2" stroke-linecap="round"/>
<polygon points="241.2,228.3 281.6,265.0 285.8,259.6" fill="#000"/>
<line x1="283.70" y1="262.30" x2="326.80" y2="246.50" stroke="#000" stroke-width="2.2" stroke-linecap="round"/>
<line x1="345.60" y1="249.60" x2="380.00" y2="277.00" stroke="#000" stroke-width="2.2" stroke-linecap="round"/>
<text x="253.30" y="178.50" font-size="22" fill="#000" font-weight="bold" text-anchor="middle" >O</text>
<text x="174.30" y="312.50" font-size="20" fill="#000" font-weight="bold" text-anchor="middle" >S</text>
<text x="336.00" y="246.70" font-size="22" fill="#1a9ad7" font-weight="bold" text-anchor="middle" >N</text>
<text x="336.30" y="226.60" font-size="23" fill="#1a9ad7" font-weight="bold" text-anchor="middle" >H</text>
<text x="350.50" y="246.00" font-size="20" fill="#1a9ad7" font-weight="bold" text-anchor="middle" >+</text>
<line x1="350.5" y1="225.6" x2="400.8" y2="198.5" stroke="#c8334d" stroke-width="1.8" stroke-dasharray="5 4"/>
<line x1="455.2" y1="203.7" x2="477.2" y2="234" stroke="#c8334d" stroke-width="1.8" stroke-dasharray="5 4"/>
<text x="789.8" y="31" font-size="30" font-weight="bold" text-anchor="middle" textLength="291" lengthAdjust="spacingAndGlyphs"><tspan fill="#3fd43a" stroke="#1f8a1f" stroke-width="1.6" paint-order="stroke">SEP-363856</tspan><tspan fill="#000">-</tspan><tspan fill="#3a9be0">hTAAR1</tspan></text>
<text x="789.8" y="65" font-size="30" font-weight="bold" text-anchor="middle" textLength="299" lengthAdjust="spacingAndGlyphs"><tspan fill="#fff12a" stroke="#a69a12" stroke-width="1.6" paint-order="stroke">SEP-363856</tspan><tspan fill="#000">-</tspan><tspan fill="#27b5c4">mTAAR1</tspan></text>
<text x="1203" y="31" font-size="30" font-weight="bold" text-anchor="middle" textLength="291" lengthAdjust="spacingAndGlyphs"><tspan fill="#3fd43a" stroke="#1f8a1f" stroke-width="1.6" paint-order="stroke">SEP-363856</tspan><tspan fill="#000">-</tspan><tspan fill="#3a9be0">hTAAR1</tspan></text>
<text x="1203.7" y="65" font-size="30" font-weight="bold" text-anchor="middle" textLength="200.5" lengthAdjust="spacingAndGlyphs"><tspan fill="#2e8b6b">T1AM</tspan><tspan fill="#000">-</tspan><tspan fill="#f2cba0">hTAAR1</tspan></text>
<text x="1626" y="31" font-size="30" font-weight="bold" text-anchor="middle" textLength="298" lengthAdjust="spacingAndGlyphs"><tspan fill="#fff12a" stroke="#a69a12" stroke-width="1.6" paint-order="stroke">SEP-363856</tspan><tspan fill="#000">-</tspan><tspan fill="#22b5b5">mTAAR1</tspan></text>
<text x="1625.8" y="65" font-size="30" font-weight="bold" text-anchor="middle" textLength="211.6" lengthAdjust="spacingAndGlyphs"><tspan fill="#f5aa85">T1AM</tspan><tspan fill="#000">-</tspan><tspan fill="#8a7be0">mTAAR1</tspan></text>
<text x="295.75" y="545.00" font-size="29.5" fill="#231815" font-weight="bold" text-anchor="middle" textLength="237.6" lengthAdjust="spacingAndGlyphs" >Glosensor assay</text>
<text x="917.55" y="545.00" font-size="29.5" fill="#231815" font-weight="bold" text-anchor="middle" textLength="237.8" lengthAdjust="spacingAndGlyphs" >Glosensor assay</text>
<text x="1514.20" y="545.00" font-size="29.5" fill="#231815" font-weight="bold" text-anchor="middle" textLength="238.3" lengthAdjust="spacingAndGlyphs" >Glosensor assay</text>
<text x="924.90" y="1570.50" font-size="29.5" fill="#231815" font-weight="bold" text-anchor="middle" textLength="237.7" lengthAdjust="spacingAndGlyphs" >Glosensor assay</text>
<text x="1539.40" y="1569.50" font-size="29.5" fill="#231815" font-weight="bold" text-anchor="middle" textLength="236.3" lengthAdjust="spacingAndGlyphs" >Glosensor assay</text>
<text x="1579.10" y="2083.50" font-size="29.5" fill="#231815" font-weight="bold" text-anchor="middle" textLength="237.3" lengthAdjust="spacingAndGlyphs" >Glosensor assay</text>
<text x="6.00" y="34.50" font-size="43" fill="#000" font-weight="bold" >a</text>
<text x="576.50" y="33.80" font-size="43" fill="#000" font-weight="bold" >b</text>
<text x="1009.00" y="33.80" font-size="43" fill="#000" font-weight="bold" >c</text>
<text x="1391.50" y="33.80" font-size="43" fill="#000" font-weight="bold" >d</text>
<text x="13.50" y="546.20" font-size="43" fill="#000" font-weight="bold" >e</text>
<text x="604.20" y="546.00" font-size="43" fill="#000" font-weight="bold" >f</text>
<text x="1200.50" y="546.30" font-size="43" fill="#000" font-weight="bold" >g</text>
<text x="6.00" y="1573.90" font-size="43" fill="#000" font-weight="bold" >h</text>
<text x="622.50" y="1577.50" font-size="43" fill="#000" font-weight="bold" >i</text>
<text x="1211.00" y="1578.00" font-size="43" fill="#000" font-weight="bold" >j</text>
<text x="5.50" y="2061.20" font-size="43" fill="#000" font-weight="bold" >k</text>
<text x="593.50" y="2054.00" font-size="43" fill="#000" font-weight="bold" >l</text>
<text x="1221.50" y="2055.90" font-size="43" fill="#000" font-weight="bold" >m</text>
<line x1="130.30" y1="583.66" x2="130.30" y2="883.12" stroke="#000" stroke-width="1.8" />
<line x1="122.30" y1="852.70" x2="130.30" y2="852.70" stroke="#000" stroke-width="1.8" />
<text x="118.80" y="860.62" font-size="22" fill="#000" font-weight="bold" text-anchor="end" >0</text>
<line x1="122.30" y1="740.60" x2="130.30" y2="740.60" stroke="#000" stroke-width="1.8" />
<text x="118.80" y="748.52" font-size="22" fill="#000" font-weight="bold" text-anchor="end" >50</text>
<line x1="122.30" y1="628.50" x2="130.30" y2="628.50" stroke="#000" stroke-width="1.8" />
<text x="118.80" y="636.42" font-size="22" fill="#000" font-weight="bold" text-anchor="end" >100</text>
<line x1="129.40" y1="875.12" x2="148.70" y2="875.12" stroke="#000" stroke-width="1.8" />
<line x1="148.70" y1="868.12" x2="148.70" y2="882.12" stroke="#000" stroke-width="1.8" />
<line x1="170.10" y1="875.12" x2="570.00" y2="875.12" stroke="#000" stroke-width="1.8" />
<line x1="170.10" y1="868.12" x2="170.10" y2="882.12" stroke="#000" stroke-width="1.8" />
<text x="130.30" y="908.32" font-size="22" fill="#000" font-weight="bold" text-anchor="middle" >0</text>
<line x1="196.70" y1="875.12" x2="196.70" y2="883.12" stroke="#000" stroke-width="1.8" />
<text x="196.70" y="908.32" font-size="22" fill="#000" font-weight="bold" text-anchor="middle" >-10</text>
<line x1="249.90" y1="875.12" x2="249.90" y2="883.12" stroke="#000" stroke-width="1.8" />
<text x="249.90" y="908.32" font-size="22" fill="#000" font-weight="bold" text-anchor="middle" >-9</text>
<line x1="303.10" y1="875.12" x2="303.10" y2="883.12" stroke="#000" stroke-width="1.8" />
<text x="303.10" y="908.32" font-size="22" fill="#000" font-weight="bold" text-anchor="middle" >-8</text>
<line x1="356.30" y1="875.12" x2="356.30" y2="883.12" stroke="#000" stroke-width="1.8" />
<text x="356.30" y="908.32" font-size="22" fill="#000" font-weight="bold" text-anchor="middle" >-7</text>
<line x1="409.50" y1="875.12" x2="409.50" y2="883.12" stroke="#000" stroke-width="1.8" />
<text x="409.50" y="908.32" font-size="22" fill="#000" font-weight="bold" text-anchor="middle" >-6</text>
<line x1="462.70" y1="875.12" x2="462.70" y2="883.12" stroke="#000" stroke-width="1.8" />
<text x="462.70" y="908.32" font-size="22" fill="#000" font-weight="bold" text-anchor="middle" >-5</text>
<line x1="515.90" y1="875.12" x2="515.90" y2="883.12" stroke="#000" stroke-width="1.8" />
<text x="515.90" y="908.32" font-size="22" fill="#000" font-weight="bold" text-anchor="middle" >-4</text>
<line x1="569.10" y1="875.12" x2="569.10" y2="883.12" stroke="#000" stroke-width="1.8" />
<text x="569.10" y="908.32" font-size="22" fill="#000" font-weight="bold" text-anchor="middle" >-3</text>
<text x="349.00" y="943.00" font-size="23" fill="#000" font-weight="bold" text-anchor="middle" textLength="246.0" lengthAdjust="spacingAndGlyphs" >Log [SEP-363856] (M)</text>
<text transform="translate(38.70,729.50) rotate(-90)" x="0" y="0" font-size="24" font-weight="bold" text-anchor="middle" textLength="110.5" lengthAdjust="spacingAndGlyphs">Response</text>
<text transform="translate(67.70,730.70) rotate(-90)" x="0" y="0" font-size="24" font-weight="bold" text-anchor="middle" textLength="87" lengthAdjust="spacingAndGlyphs">(% WT)</text>
<line x1="130.30" y1="851.35" x2="148.70" y2="851.35" stroke="#000" stroke-width="1.6" />
<polyline points="170.10,851.35 172.98,851.35 175.86,851.35 178.74,851.35 181.63,851.35 184.51,851.35 187.39,851.35 190.27,851.35 193.15,851.35 196.04,851.35 198.92,851.35 201.80,851.35 204.68,851.35 207.56,851.35 210.44,851.35 213.32,851.35 216.21,851.35 219.09,851.35 221.97,851.35 224.85,851.35 227.73,851.35 230.61,851.35 233.50,851.35 236.38,851.35 239.26,851.35 242.14,851.35 245.02,851.35 247.91,851.35 250.79,851.35 253.67,851.35 256.55,851.35 259.43,851.35 262.31,851.35 265.19,851.35 268.08,851.35 270.96,851.35 273.84,851.35 276.72,851.35 279.60,851.35 282.49,851.35 285.37,851.35 288.25,851.35 291.13,851.35 294.01,851.35 296.89,851.35 299.77,851.35 302.66,851.35 305.54,851.35 308.42,851.35 311.30,851.35 314.18,851.35 317.06,851.35 319.95,851.35 322.83,851.35 325.71,851.35 328.59,851.35 331.47,851.35 334.36,851.35 337.24,851.35 340.12,851.35 343.00,851.35 345.88,851.35 348.76,851.35 351.64,851.35 354.53,851.35 357.41,851.35 360.29,851.35 363.17,851.35 366.05,851.35 368.94,851.35 371.82,851.35 374.70,851.35 377.58,851.35 380.46,851.35 383.34,851.35 386.23,851.35 389.11,851.35 391.99,851.35 394.87,851.35 397.75,851.35 400.63,851.35 403.51,851.35 406.40,851.35 409.28,851.35 412.16,851.35 415.04,851.35 417.92,851.35 420.81,851.35 423.69,851.35 426.57,851.35 429.45,851.35 432.33,851.35 435.21,851.35 438.09,851.35 440.98,851.35 443.86,851.35 446.74,851.35 449.62,851.35 452.50,851.35 455.38,851.35 458.27,851.35 461.15,851.35 464.03,851.35 466.91,851.35 469.79,851.35 472.68,851.35 475.56,851.35 478.44,851.35 481.32,851.35 484.20,851.35 487.08,851.35 489.97,851.35 492.85,851.35 495.73,851.35 498.61,851.35 501.49,851.35 504.37,851.35 507.26,851.35 510.14,851.35 513.02,851.35 515.90,851.35" fill="none" stroke="#000" stroke-width="1.6"/>
<line x1="130.30" y1="847.54" x2="148.70" y2="847.54" stroke="#000" stroke-width="1.6" />
<polyline points="170.10,847.54 172.98,847.54 175.86,847.54 178.74,847.54 181.63,847.54 184.51,847.54 187.39,847.54 190.27,847.54 193.15,847.54 196.04,847.54 198.92,847.54 201.80,847.54 204.68,847.54 207.56,847.54 210.44,847.54 213.32,847.54 216.21,847.54 219.09,847.54 221.97,847.54 224.85,847.54 227.73,847.54 230.61,847.54 233.50,847.54 236.38,847.54 239.26,847.54 242.14,847.54 245.02,847.54 247.91,847.54 250.79,847.54 253.67,847.54 256.55,847.54 259.43,847.54 262.31,847.54 265.19,847.54 268.08,847.54 270.96,847.54 273.84,847.54 276.72,847.54 279.60,847.54 282.49,847.54 285.37,847.54 288.25,847.54 291.13,847.54 294.01,847.54 296.89,847.54 299.77,847.54 302.66,847.54 305.54,847.54 308.42,847.54 311.30,847.54 314.18,847.54 317.06,847.54 319.95,847.54 322.83,847.54 325.71,847.54 328.59,847.54 331.47,847.54 334.36,847.54 337.24,847.54 340.12,847.54 343.00,847.54 345.88,847.54 348.76,847.54 351.64,847.54 354.53,847.54 357.41,847.54 360.29,847.54 363.17,847.54 366.05,847.54 368.94,847.54 371.82,847.54 374.70,847.54 377.58,847.54 380.46,847.54 383.34,847.54 386.23,847.54 389.11,847.54 391.99,847.54 394.87,847.54 397.75,847.54 400.63,847.54 403.51,847.54 406.40,847.54 409.28,847.54 412.16,847.54 415.04,847.54 417.92,847.54 420.81,847.54 423.69,847.54 426.57,847.54 429.45,847.54 432.33,847.54 435.21,847.54 438.09,847.54 440.98,847.54 443.86,847.54 446.74,847.54 449.62,847.54 452.50,847.54 455.38,847.54 458.27,847.54 461.15,847.54 464.03,847.54 466.91,847.54 469.79,847.54 472.68,847.54 475.56,847.54 478.44,847.54 481.32,847.54 484.20,847.54 487.08,847.54 489.97,847.54 492.85,847.54 495.73,847.54 498.61,847.54 501.49,847.54 504.37,847.54 507.26,847.54 510.14,847.54 513.02,847.54 515.90,847.54" fill="none" stroke="#000" stroke-width="1.6"/>
<line x1="130.30" y1="848.22" x2="148.70" y2="848.22" stroke="#000" stroke-width="1.6" />
<polyline points="170.10,848.21 172.98,848.21 175.86,848.21 178.74,848.21 181.63,848.20 184.51,848.20 187.39,848.20 190.27,848.20 193.15,848.20 196.04,848.19 198.92,848.19 201.80,848.19 204.68,848.18 207.56,848.18 210.44,848.17 213.32,848.16 216.21,848.16 219.09,848.15 221.97,848.14 224.85,848.13 227.73,848.11 230.61,848.10 233.50,848.08 236.38,848.06 239.26,848.04 242.14,848.01 245.02,847.98 247.91,847.95 250.79,847.91 253.67,847.87 256.55,847.81 259.43,847.76 262.31,847.69 265.19,847.61 268.08,847.52 270.96,847.42 273.84,847.31 276.72,847.18 279.60,847.03 282.49,846.86 285.37,846.66 288.25,846.43 291.13,846.18 294.01,845.88 296.89,845.55 299.77,845.17 302.66,844.73 305.54,844.23 308.42,843.66 311.30,843.01 314.18,842.28 317.06,841.44 319.95,840.49 322.83,839.40 325.71,838.18 328.59,836.79 331.47,835.23 334.36,833.47 337.24,831.48 340.12,829.25 343.00,826.76 345.88,823.98 348.76,820.89 351.64,817.47 354.53,813.70 357.41,809.55 360.29,805.03 363.17,800.12 366.05,794.82 368.94,789.13 371.82,783.08 374.70,776.68 377.58,769.97 380.46,763.00 383.34,755.81 386.23,748.46 389.11,741.02 391.99,733.56 394.87,726.14 397.75,718.83 400.63,711.70 403.51,704.79 406.40,698.17 409.28,691.87 412.16,685.92 415.04,680.34 417.92,675.15 420.81,670.35 423.69,665.94 426.57,661.90 429.45,658.23 432.33,654.91 435.21,651.91 438.09,649.21 440.98,646.80 443.86,644.64 446.74,642.72 449.62,641.02 452.50,639.51 455.38,638.17 458.27,636.99 461.15,635.95 464.03,635.03 466.91,634.22 469.79,633.51 472.68,632.89 475.56,632.34 478.44,631.86 481.32,631.44 484.20,631.07 487.08,630.74 489.97,630.46 492.85,630.21 495.73,630.00 498.61,629.81 501.49,629.64 504.37,629.50 507.26,629.37 510.14,629.26 513.02,629.17 515.90,629.08" fill="none" stroke="#000" stroke-width="1.6"/>
<circle cx="196.70" cy="850.46" r="7.6" fill="#8dbdf3" stroke="#000" stroke-width="1.5" />
<circle cx="249.90" cy="848.22" r="7.6" fill="#8dbdf3" stroke="#000" stroke-width="1.5" />
<circle cx="303.10" cy="853.82" r="7.6" fill="#8dbdf3" stroke="#000" stroke-width="1.5" />
<circle cx="356.30" cy="853.60" r="7.6" fill="#8dbdf3" stroke="#000" stroke-width="1.5" />
<circle cx="409.50" cy="852.03" r="7.6" fill="#8dbdf3" stroke="#000" stroke-width="1.5" />
<circle cx="462.70" cy="849.34" r="7.6" fill="#8dbdf3" stroke="#000" stroke-width="1.5" />
<circle cx="515.90" cy="853.37" r="7.6" fill="#8dbdf3" stroke="#000" stroke-width="1.5" />
<circle cx="196.70" cy="843.06" r="7.6" fill="#f4a9e4" stroke="#000" stroke-width="1.5" />
<circle cx="249.90" cy="841.49" r="7.6" fill="#f4a9e4" stroke="#000" stroke-width="1.5" />
<circle cx="356.30" cy="849.34" r="7.6" fill="#f4a9e4" stroke="#000" stroke-width="1.5" />
<circle cx="409.50" cy="845.30" r="7.6" fill="#f4a9e4" stroke="#000" stroke-width="1.5" />
<circle cx="515.90" cy="848.66" r="7.6" fill="#f4a9e4" stroke="#000" stroke-width="1.5" />
<line x1="409.50" y1="704.73" x2="409.50" y2="677.82" stroke="#000" stroke-width="1.6" />
<line x1="402.00" y1="677.82" x2="417.00" y2="677.82" stroke="#000" stroke-width="1.6" />
<line x1="402.00" y1="704.73" x2="417.00" y2="704.73" stroke="#000" stroke-width="1.6" />
<line x1="462.70" y1="655.40" x2="462.70" y2="635.23" stroke="#000" stroke-width="1.6" />
<line x1="455.20" y1="635.23" x2="470.20" y2="635.23" stroke="#000" stroke-width="1.6" />
<line x1="455.20" y1="655.40" x2="470.20" y2="655.40" stroke="#000" stroke-width="1.6" />
<line x1="515.90" y1="638.59" x2="515.90" y2="618.41" stroke="#000" stroke-width="1.6" />
<line x1="508.40" y1="618.41" x2="523.40" y2="618.41" stroke="#000" stroke-width="1.6" />
<line x1="508.40" y1="638.59" x2="523.40" y2="638.59" stroke="#000" stroke-width="1.6" />
<circle cx="130.30" cy="852.70" r="7.6" fill="#ffffff" stroke="#000" stroke-width="1.5" />
<circle cx="196.70" cy="851.58" r="7.6" fill="#ffffff" stroke="#000" stroke-width="1.5" />
<circle cx="249.90" cy="842.39" r="7.6" fill="#ffffff" stroke="#000" stroke-width="1.5" />
<circle cx="303.10" cy="850.01" r="7.6" fill="#ffffff" stroke="#000" stroke-width="1.5" />
<circle cx="356.30" cy="810.77" r="7.6" fill="#ffffff" stroke="#000" stroke-width="1.5" />
<circle cx="409.50" cy="691.28" r="7.6" fill="#ffffff" stroke="#000" stroke-width="1.5" />
<circle cx="462.70" cy="645.32" r="7.6" fill="#ffffff" stroke="#000" stroke-width="1.5" />
<circle cx="515.90" cy="628.50" r="7.6" fill="#ffffff" stroke="#000" stroke-width="1.5" />
<line x1="141.90" y1="590.50" x2="176.90" y2="590.50" stroke="#000" stroke-width="1.6" />
<circle cx="159.40" cy="590.50" r="7.6" fill="#ffffff" stroke="#000" stroke-width="1.5" />
<text x="197.40" y="599.50" font-size="26" fill="#000" font-weight="bold" textLength="152.0" lengthAdjust="spacingAndGlyphs" >hTAAR1-WT</text>
<line x1="141.90" y1="647.40" x2="176.90" y2="647.40" stroke="#000" stroke-width="1.6" />
<circle cx="159.40" cy="647.40" r="7.6" fill="#8dbdf3" stroke="#000" stroke-width="1.5" />
<text x="197.40" y="660.90" font-size="26" fill="#000" font-weight="bold" textLength="122.6" lengthAdjust="spacingAndGlyphs" >D103<tspan font-size="17.5" dy="-13">3.32</tspan><tspan dy="13">A</tspan></text>
<line x1="141.90" y1="708.10" x2="176.90" y2="708.10" stroke="#000" stroke-width="1.6" />
<circle cx="159.40" cy="708.10" r="7.6" fill="#f4a9e4" stroke="#000" stroke-width="1.5" />
<text x="197.40" y="721.60" font-size="26" fill="#000" font-weight="bold" textLength="121.5" lengthAdjust="spacingAndGlyphs" >S107<tspan font-size="17.5" dy="-13">3.36</tspan><tspan dy="13">A</tspan></text>
<line x1="130.30" y1="1121.30" x2="130.30" y2="1419.85" stroke="#000" stroke-width="1.8" />
<line x1="122.30" y1="1389.50" x2="130.30" y2="1389.50" stroke="#000" stroke-width="1.8" />
<text x="118.80" y="1397.42" font-size="22" fill="#000" font-weight="bold" text-anchor="end" >0</text>
<line x1="122.30" y1="1277.75" x2="130.30" y2="1277.75" stroke="#000" stroke-width="1.8" />
<text x="118.80" y="1285.67" font-size="22" fill="#000" font-weight="bold" text-anchor="end" >50</text>
<line x1="122.30" y1="1166.00" x2="130.30" y2="1166.00" stroke="#000" stroke-width="1.8" />
<text x="118.80" y="1173.92" font-size="22" fill="#000" font-weight="bold" text-anchor="end" >100</text>
<line x1="129.40" y1="1411.85" x2="148.70" y2="1411.85" stroke="#000" stroke-width="1.8" />
<line x1="148.70" y1="1404.85" x2="148.70" y2="1418.85" stroke="#000" stroke-width="1.8" />
<line x1="170.10" y1="1411.85" x2="570.00" y2="1411.85" stroke="#000" stroke-width="1.8" />
<line x1="170.10" y1="1404.85" x2="170.10" y2="1418.85" stroke="#000" stroke-width="1.8" />
<text x="130.30" y="1445.05" font-size="22" fill="#000" font-weight="bold" text-anchor="middle" >-11</text>
<line x1="196.70" y1="1411.85" x2="196.70" y2="1419.85" stroke="#000" stroke-width="1.8" />
<text x="196.70" y="1445.05" font-size="22" fill="#000" font-weight="bold" text-anchor="middle" >-10</text>
<line x1="249.90" y1="1411.85" x2="249.90" y2="1419.85" stroke="#000" stroke-width="1.8" />
<text x="249.90" y="1445.05" font-size="22" fill="#000" font-weight="bold" text-anchor="middle" >-9</text>
<line x1="303.10" y1="1411.85" x2="303.10" y2="1419.85" stroke="#000" stroke-width="1.8" />
<text x="303.10" y="1445.05" font-size="22" fill="#000" font-weight="bold" text-anchor="middle" >-8</text>
<line x1="356.30" y1="1411.85" x2="356.30" y2="1419.85" stroke="#000" stroke-width="1.8" />
<text x="356.30" y="1445.05" font-size="22" fill="#000" font-weight="bold" text-anchor="middle" >-7</text>
<line x1="409.50" y1="1411.85" x2="409.50" y2="1419.85" stroke="#000" stroke-width="1.8" />
<text x="409.50" y="1445.05" font-size="22" fill="#000" font-weight="bold" text-anchor="middle" >-6</text>
<line x1="462.70" y1="1411.85" x2="462.70" y2="1419.85" stroke="#000" stroke-width="1.8" />
<text x="462.70" y="1445.05" font-size="22" fill="#000" font-weight="bold" text-anchor="middle" >-5</text>
<line x1="515.90" y1="1411.85" x2="515.90" y2="1419.85" stroke="#000" stroke-width="1.8" />
<text x="515.90" y="1445.05" font-size="22" fill="#000" font-weight="bold" text-anchor="middle" >-4</text>
<line x1="569.10" y1="1411.85" x2="569.10" y2="1419.85" stroke="#000" stroke-width="1.8" />
<text x="569.10" y="1445.05" font-size="22" fill="#000" font-weight="bold" text-anchor="middle" >-3</text>
<text x="349.00" y="1480.00" font-size="23" fill="#000" font-weight="bold" text-anchor="middle" textLength="246.0" lengthAdjust="spacingAndGlyphs" >Log [SEP-363856] (M)</text>
<text transform="translate(38.70,1266.50) rotate(-90)" x="0" y="0" font-size="24" font-weight="bold" text-anchor="middle" textLength="110.5" lengthAdjust="spacingAndGlyphs">Response</text>
<text transform="translate(67.70,1267.70) rotate(-90)" x="0" y="0" font-size="24" font-weight="bold" text-anchor="middle" textLength="87" lengthAdjust="spacingAndGlyphs">(% WT)</text>
<line x1="130.30" y1="1387.71" x2="148.70" y2="1387.71" stroke="#000" stroke-width="1.6" />
<polyline points="170.10,1387.71 172.98,1387.71 175.86,1387.71 178.74,1387.71 181.63,1387.71 184.51,1387.71 187.39,1387.71 190.27,1387.71 193.15,1387.71 196.04,1387.71 198.92,1387.71 201.80,1387.71 204.68,1387.71 207.56,1387.71 210.44,1387.71 213.32,1387.71 216.21,1387.71 219.09,1387.71 221.97,1387.71 224.85,1387.71 227.73,1387.71 230.61,1387.71 233.50,1387.71 236.38,1387.71 239.26,1387.71 242.14,1387.71 245.02,1387.71 247.91,1387.71 250.79,1387.71 253.67,1387.71 256.55,1387.71 259.43,1387.71 262.31,1387.71 265.19,1387.71 268.08,1387.71 270.96,1387.71 273.84,1387.71 276.72,1387.71 279.60,1387.71 282.49,1387.71 285.37,1387.71 288.25,1387.71 291.13,1387.71 294.01,1387.71 296.89,1387.71 299.77,1387.71 302.66,1387.71 305.54,1387.71 308.42,1387.71 311.30,1387.71 314.18,1387.71 317.06,1387.71 319.95,1387.71 322.83,1387.71 325.71,1387.71 328.59,1387.71 331.47,1387.71 334.36,1387.71 337.24,1387.71 340.12,1387.71 343.00,1387.71 345.88,1387.71 348.76,1387.71 351.64,1387.71 354.53,1387.71 357.41,1387.71 360.29,1387.71 363.17,1387.71 366.05,1387.71 368.94,1387.71 371.82,1387.71 374.70,1387.71 377.58,1387.71 380.46,1387.71 383.34,1387.71 386.23,1387.71 389.11,1387.71 391.99,1387.71 394.87,1387.71 397.75,1387.71 400.63,1387.71 403.51,1387.71 406.40,1387.71 409.28,1387.71 412.16,1387.71 415.04,1387.71 417.92,1387.71 420.81,1387.71 423.69,1387.71 426.57,1387.71 429.45,1387.71 432.33,1387.71 435.21,1387.71 438.09,1387.71 440.98,1387.71 443.86,1387.71 446.74,1387.71 449.62,1387.71 452.50,1387.71 455.38,1387.71 458.27,1387.71 461.15,1387.71 464.03,1387.71 466.91,1387.71 469.79,1387.71 472.68,1387.71 475.56,1387.71 478.44,1387.71 481.32,1387.71 484.20,1387.71 487.08,1387.71 489.97,1387.71 492.85,1387.71 495.73,1387.71 498.61,1387.71 501.49,1387.71 504.37,1387.71 507.26,1387.71 510.14,1387.71 513.02,1387.71 515.90,1387.71" fill="none" stroke="#000" stroke-width="1.6"/>
<line x1="130.30" y1="1386.15" x2="148.70" y2="1386.15" stroke="#000" stroke-width="1.6" />
<polyline points="170.10,1386.15 172.98,1386.15 175.86,1386.15 178.74,1386.15 181.63,1386.15 184.51,1386.15 187.39,1386.15 190.27,1386.15 193.15,1386.15 196.04,1386.15 198.92,1386.15 201.80,1386.15 204.68,1386.15 207.56,1386.15 210.44,1386.15 213.32,1386.15 216.21,1386.15 219.09,1386.15 221.97,1386.15 224.85,1386.15 227.73,1386.15 230.61,1386.15 233.50,1386.15 236.38,1386.15 239.26,1386.15 242.14,1386.15 245.02,1386.15 247.91,1386.15 250.79,1386.15 253.67,1386.15 256.55,1386.15 259.43,1386.15 262.31,1386.15 265.19,1386.15 268.08,1386.15 270.96,1386.15 273.84,1386.15 276.72,1386.15 279.60,1386.15 282.49,1386.15 285.37,1386.15 288.25,1386.15 291.13,1386.15 294.01,1386.15 296.89,1386.15 299.77,1386.15 302.66,1386.15 305.54,1386.15 308.42,1386.15 311.30,1386.15 314.18,1386.15 317.06,1386.15 319.95,1386.15 322.83,1386.15 325.71,1386.15 328.59,1386.15 331.47,1386.15 334.36,1386.15 337.24,1386.15 340.12,1386.15 343.00,1386.15 345.88,1386.15 348.76,1386.15 351.64,1386.15 354.53,1386.15 357.41,1386.15 360.29,1386.15 363.17,1386.15 366.05,1386.15 368.94,1386.15 371.82,1386.15 374.70,1386.15 377.58,1386.15 380.46,1386.15 383.34,1386.15 386.23,1386.15 389.11,1386.15 391.99,1386.15 394.87,1386.15 397.75,1386.15 400.63,1386.15 403.51,1386.15 406.40,1386.15 409.28,1386.15 412.16,1386.15 415.04,1386.15 417.92,1386.15 420.81,1386.15 423.69,1386.15 426.57,1386.15 429.45,1386.15 432.33,1386.15 435.21,1386.15 438.09,1386.15 440.98,1386.15 443.86,1386.15 446.74,1386.15 449.62,1386.15 452.50,1386.15 455.38,1386.15 458.27,1386.15 461.15,1386.15 464.03,1386.15 466.91,1386.15 469.79,1386.15 472.68,1386.15 475.56,1386.15 478.44,1386.15 481.32,1386.15 484.20,1386.15 487.08,1386.15 489.97,1386.15 492.85,1386.15 495.73,1386.15 498.61,1386.15 501.49,1386.15 504.37,1386.15 507.26,1386.15 510.14,1386.15 513.02,1386.15 515.90,1386.15" fill="none" stroke="#000" stroke-width="1.6"/>
<line x1="130.30" y1="1383.24" x2="148.70" y2="1383.24" stroke="#000" stroke-width="1.6" />
<polyline points="170.10,1383.24 172.98,1383.24 175.86,1383.24 178.74,1383.24 181.63,1383.24 184.51,1383.24 187.39,1383.24 190.27,1383.24 193.15,1383.24 196.04,1383.24 198.92,1383.24 201.80,1383.24 204.68,1383.24 207.56,1383.24 210.44,1383.24 213.32,1383.24 216.21,1383.24 219.09,1383.24 221.97,1383.24 224.85,1383.24 227.73,1383.24 230.61,1383.24 233.50,1383.24 236.38,1383.24 239.26,1383.24 242.14,1383.24 245.02,1383.24 247.91,1383.24 250.79,1383.24 253.67,1383.24 256.55,1383.24 259.43,1383.24 262.31,1383.24 265.19,1383.24 268.08,1383.24 270.96,1383.24 273.84,1383.24 276.72,1383.24 279.60,1383.24 282.49,1383.24 285.37,1383.24 288.25,1383.24 291.13,1383.24 294.01,1383.24 296.89,1383.24 299.77,1383.24 302.66,1383.24 305.54,1383.24 308.42,1383.24 311.30,1383.24 314.18,1383.24 317.06,1383.24 319.95,1383.24 322.83,1383.24 325.71,1383.24 328.59,1383.24 331.47,1383.24 334.36,1383.24 337.24,1383.24 340.12,1383.24 343.00,1383.24 345.88,1383.24 348.76,1383.24 351.64,1383.24 354.53,1383.24 357.41,1383.24 360.29,1383.24 363.17,1383.24 366.05,1383.24 368.94,1383.24 371.82,1383.24 374.70,1383.24 377.58,1383.24 380.46,1383.24 383.34,1383.24 386.23,1383.24 389.11,1383.24 391.99,1383.24 394.87,1383.24 397.75,1383.24 400.63,1383.24 403.51,1383.24 406.40,1383.24 409.28,1383.24 412.16,1383.24 415.04,1383.24 417.92,1383.24 420.81,1383.24 423.69,1383.24 426.57,1383.24 429.45,1383.24 432.33,1383.24 435.21,1383.24 438.09,1383.24 440.98,1383.24 443.86,1383.24 446.74,1383.24 449.62,1383.24 452.50,1383.24 455.38,1383.24 458.27,1383.24 461.15,1383.24 464.03,1383.24 466.91,1383.24 469.79,1383.24 472.68,1383.24 475.56,1383.24 478.44,1383.24 481.32,1383.24 484.20,1383.24 487.08,1383.24 489.97,1383.24 492.85,1383.24 495.73,1383.24 498.61,1383.24 501.49,1383.24 504.37,1383.24 507.26,1383.24 510.14,1383.24 513.02,1383.24 515.90,1383.24" fill="none" stroke="#000" stroke-width="1.6"/>
<line x1="130.30" y1="1388.83" x2="148.70" y2="1388.83" stroke="#000" stroke-width="1.6" />
<polyline points="170.10,1388.83 172.98,1388.83 175.86,1388.83 178.74,1388.83 181.63,1388.83 184.51,1388.83 187.39,1388.83 190.27,1388.83 193.15,1388.83 196.04,1388.83 198.92,1388.83 201.80,1388.83 204.68,1388.83 207.56,1388.83 210.44,1388.83 213.32,1388.83 216.21,1388.83 219.09,1388.83 221.97,1388.83 224.85,1388.83 227.73,1388.83 230.61,1388.83 233.50,1388.83 236.38,1388.83 239.26,1388.83 242.14,1388.83 245.02,1388.83 247.91,1388.83 250.79,1388.83 253.67,1388.83 256.55,1388.83 259.43,1388.83 262.31,1388.83 265.19,1388.83 268.08,1388.83 270.96,1388.83 273.84,1388.83 276.72,1388.83 279.60,1388.83 282.49,1388.83 285.37,1388.83 288.25,1388.83 291.13,1388.83 294.01,1388.83 296.89,1388.83 299.77,1388.83 302.66,1388.83 305.54,1388.83 308.42,1388.83 311.30,1388.83 314.18,1388.83 317.06,1388.83 319.95,1388.83 322.83,1388.83 325.71,1388.83 328.59,1388.83 331.47,1388.83 334.36,1388.83 337.24,1388.83 340.12,1388.83 343.00,1388.83 345.88,1388.83 348.76,1388.83 351.64,1388.83 354.53,1388.83 357.41,1388.83 360.29,1388.83 363.17,1388.83 366.05,1388.83 368.94,1388.83 371.82,1388.83 374.70,1388.83 377.58,1388.83 380.46,1388.83 383.34,1388.83 386.23,1388.83 389.11,1388.83 391.99,1388.83 394.87,1388.83 397.75,1388.83 400.63,1388.83 403.51,1388.83 406.40,1388.83 409.28,1388.83 412.16,1388.83 415.04,1388.83 417.92,1388.83 420.81,1388.83 423.69,1388.83 426.57,1388.83 429.45,1388.83 432.33,1388.83 435.21,1388.83 438.09,1388.83 440.98,1388.83 443.86,1388.83 446.74,1388.83 449.62,1388.83 452.50,1388.83 455.38,1388.83 458.27,1388.83 461.15,1388.83 464.03,1388.83 466.91,1388.83 469.79,1388.83 472.68,1388.83 475.56,1388.83 478.44,1388.83 481.32,1388.83 484.20,1388.83 487.08,1388.83 489.97,1388.83 492.85,1388.83 495.73,1388.83 498.61,1388.83 501.49,1388.83 504.37,1388.83 507.26,1388.83 510.14,1388.83 513.02,1388.83 515.90,1388.83" fill="none" stroke="#000" stroke-width="1.6"/>
<line x1="130.30" y1="1385.03" x2="148.70" y2="1385.03" stroke="#000" stroke-width="1.6" />
<polyline points="170.10,1385.02 172.98,1385.02 175.86,1385.02 178.74,1385.02 181.63,1385.02 184.51,1385.02 187.39,1385.01 190.27,1385.01 193.15,1385.01 196.04,1385.01 198.92,1385.00 201.80,1385.00 204.68,1385.00 207.56,1384.99 210.44,1384.98 213.32,1384.98 216.21,1384.97 219.09,1384.96 221.97,1384.95 224.85,1384.94 227.73,1384.93 230.61,1384.91 233.50,1384.89 236.38,1384.88 239.26,1384.85 242.14,1384.83 245.02,1384.80 247.91,1384.76 250.79,1384.72 253.67,1384.68 256.55,1384.63 259.43,1384.57 262.31,1384.50 265.19,1384.43 268.08,1384.34 270.96,1384.24 273.84,1384.13 276.72,1384.00 279.60,1383.85 282.49,1383.67 285.37,1383.48 288.25,1383.25 291.13,1383.00 294.01,1382.71 296.89,1382.37 299.77,1381.99 302.66,1381.55 305.54,1381.06 308.42,1380.49 311.30,1379.84 314.18,1379.11 317.06,1378.27 319.95,1377.32 322.83,1376.25 325.71,1375.03 328.59,1373.64 331.47,1372.08 334.36,1370.33 337.24,1368.35 340.12,1366.13 343.00,1363.64 345.88,1360.87 348.76,1357.79 351.64,1354.38 354.53,1350.62 357.41,1346.49 360.29,1341.98 363.17,1337.08 366.05,1331.80 368.94,1326.13 371.82,1320.10 374.70,1313.72 377.58,1307.03 380.46,1300.08 383.34,1292.91 386.23,1285.59 389.11,1278.17 391.99,1270.73 394.87,1263.33 397.75,1256.05 400.63,1248.94 403.51,1242.05 406.40,1235.45 409.28,1229.17 412.16,1223.24 415.04,1217.68 417.92,1212.51 420.81,1207.72 423.69,1203.32 426.57,1199.30 429.45,1195.64 432.33,1192.32 435.21,1189.33 438.09,1186.65 440.98,1184.24 443.86,1182.09 446.74,1180.18 449.62,1178.48 452.50,1176.97 455.38,1175.64 458.27,1174.46 461.15,1173.42 464.03,1172.51 466.91,1171.70 469.79,1170.99 472.68,1170.37 475.56,1169.83 478.44,1169.35 481.32,1168.93 484.20,1168.56 487.08,1168.24 489.97,1167.96 492.85,1167.71 495.73,1167.49 498.61,1167.30 501.49,1167.14 504.37,1167.00 507.26,1166.87 510.14,1166.76 513.02,1166.66 515.90,1166.58" fill="none" stroke="#000" stroke-width="1.6"/>
<circle cx="196.70" cy="1389.50" r="7.6" fill="#8dbdf3" stroke="#000" stroke-width="1.5" />
<circle cx="249.90" cy="1386.15" r="7.6" fill="#8dbdf3" stroke="#000" stroke-width="1.5" />
<circle cx="303.10" cy="1390.62" r="7.6" fill="#8dbdf3" stroke="#000" stroke-width="1.5" />
<circle cx="356.30" cy="1391.73" r="7.6" fill="#8dbdf3" stroke="#000" stroke-width="1.5" />
<circle cx="409.50" cy="1388.38" r="7.6" fill="#8dbdf3" stroke="#000" stroke-width="1.5" />
<circle cx="462.70" cy="1392.85" r="7.6" fill="#8dbdf3" stroke="#000" stroke-width="1.5" />
<circle cx="515.90" cy="1386.15" r="7.6" fill="#8dbdf3" stroke="#000" stroke-width="1.5" />
<circle cx="196.70" cy="1387.27" r="7.6" fill="#8e86f2" stroke="#000" stroke-width="1.5" />
<circle cx="249.90" cy="1387.27" r="7.6" fill="#8e86f2" stroke="#000" stroke-width="1.5" />
<circle cx="303.10" cy="1387.27" r="7.6" fill="#8e86f2" stroke="#000" stroke-width="1.5" />
<circle cx="356.30" cy="1387.27" r="7.6" fill="#8e86f2" stroke="#000" stroke-width="1.5" />
<circle cx="409.50" cy="1386.15" r="7.6" fill="#8e86f2" stroke="#000" stroke-width="1.5" />
<circle cx="462.70" cy="1385.03" r="7.6" fill="#8e86f2" stroke="#000" stroke-width="1.5" />
<circle cx="515.90" cy="1382.80" r="7.6" fill="#8e86f2" stroke="#000" stroke-width="1.5" />
<circle cx="196.70" cy="1376.09" r="7.6" fill="#bdb385" stroke="#000" stroke-width="1.5" />
<circle cx="249.90" cy="1374.97" r="7.6" fill="#bdb385" stroke="#000" stroke-width="1.5" />
<circle cx="303.10" cy="1387.27" r="7.6" fill="#bdb385" stroke="#000" stroke-width="1.5" />
<circle cx="356.30" cy="1383.91" r="7.6" fill="#bdb385" stroke="#000" stroke-width="1.5" />
<circle cx="409.50" cy="1381.68" r="7.6" fill="#bdb385" stroke="#000" stroke-width="1.5" />
<circle cx="462.70" cy="1387.27" r="7.6" fill="#bdb385" stroke="#000" stroke-width="1.5" />
<circle cx="515.90" cy="1382.80" r="7.6" fill="#bdb385" stroke="#000" stroke-width="1.5" />
<circle cx="196.70" cy="1390.62" r="7.6" fill="#fdd9bd" stroke="#000" stroke-width="1.5" />
<circle cx="409.50" cy="1397.32" r="7.6" fill="#fdd9bd" stroke="#000" stroke-width="1.5" />
<circle cx="515.90" cy="1388.38" r="7.6" fill="#fdd9bd" stroke="#000" stroke-width="1.5" />
<line x1="409.50" y1="1241.99" x2="409.50" y2="1215.17" stroke="#000" stroke-width="1.6" />
<line x1="402.00" y1="1215.17" x2="417.00" y2="1215.17" stroke="#000" stroke-width="1.6" />
<line x1="402.00" y1="1241.99" x2="417.00" y2="1241.99" stroke="#000" stroke-width="1.6" />
<line x1="462.70" y1="1192.82" x2="462.70" y2="1172.70" stroke="#000" stroke-width="1.6" />
<line x1="455.20" y1="1172.70" x2="470.20" y2="1172.70" stroke="#000" stroke-width="1.6" />
<line x1="455.20" y1="1192.82" x2="470.20" y2="1192.82" stroke="#000" stroke-width="1.6" />
<line x1="515.90" y1="1176.06" x2="515.90" y2="1155.94" stroke="#000" stroke-width="1.6" />
<line x1="508.40" y1="1155.94" x2="523.40" y2="1155.94" stroke="#000" stroke-width="1.6" />
<line x1="508.40" y1="1176.06" x2="523.40" y2="1176.06" stroke="#000" stroke-width="1.6" />
<circle cx="130.30" cy="1389.50" r="7.6" fill="#ffffff" stroke="#000" stroke-width="1.5" />
<circle cx="196.70" cy="1388.38" r="7.6" fill="#ffffff" stroke="#000" stroke-width="1.5" />
<circle cx="249.90" cy="1379.22" r="7.6" fill="#ffffff" stroke="#000" stroke-width="1.5" />
<circle cx="303.10" cy="1386.82" r="7.6" fill="#ffffff" stroke="#000" stroke-width="1.5" />
<circle cx="356.30" cy="1347.71" r="7.6" fill="#ffffff" stroke="#000" stroke-width="1.5" />
<circle cx="409.50" cy="1228.58" r="7.6" fill="#ffffff" stroke="#000" stroke-width="1.5" />
<circle cx="462.70" cy="1182.76" r="7.6" fill="#ffffff" stroke="#000" stroke-width="1.5" />
<circle cx="515.90" cy="1166.00" r="7.6" fill="#ffffff" stroke="#000" stroke-width="1.5" />
<line x1="141.90" y1="1089.10" x2="176.90" y2="1089.10" stroke="#000" stroke-width="1.6" />
<circle cx="159.40" cy="1089.10" r="7.6" fill="#ffffff" stroke="#000" stroke-width="1.5" />
<text x="197.40" y="1098.10" font-size="26" fill="#000" font-weight="bold" textLength="152.0" lengthAdjust="spacingAndGlyphs" >hTAAR1-WT</text>
<line x1="141.90" y1="1138.30" x2="176.90" y2="1138.30" stroke="#000" stroke-width="1.6" />
<circle cx="159.40" cy="1138.30" r="7.6" fill="#8dbdf3" stroke="#000" stroke-width="1.5" />
<text x="197.40" y="1151.80" font-size="26" fill="#000" font-weight="bold" textLength="110.5" lengthAdjust="spacingAndGlyphs" >I104<tspan font-size="17.5" dy="-13">3.33</tspan><tspan dy="13">A</tspan></text>
<line x1="141.90" y1="1192.20" x2="176.90" y2="1192.20" stroke="#000" stroke-width="1.6" />
<circle cx="159.40" cy="1192.20" r="7.6" fill="#8e86f2" stroke="#000" stroke-width="1.5" />
<text x="197.40" y="1205.70" font-size="26" fill="#000" font-weight="bold" textLength="131.0" lengthAdjust="spacingAndGlyphs" >W264<tspan font-size="17.5" dy="-13">6.48</tspan><tspan dy="13">A</tspan></text>
<line x1="141.90" y1="1246.40" x2="176.90" y2="1246.40" stroke="#000" stroke-width="1.6" />
<circle cx="159.40" cy="1246.40" r="7.6" fill="#bdb385" stroke="#000" stroke-width="1.5" />
<text x="197.40" y="1259.90" font-size="26" fill="#000" font-weight="bold" textLength="120.0" lengthAdjust="spacingAndGlyphs" >F267<tspan font-size="17.5" dy="-13">6.51</tspan><tspan dy="13">A</tspan></text>
<line x1="141.90" y1="1300.20" x2="176.90" y2="1300.20" stroke="#000" stroke-width="1.6" />
<circle cx="159.40" cy="1300.20" r="7.6" fill="#fdd9bd" stroke="#000" stroke-width="1.5" />
<text x="197.40" y="1313.70" font-size="26" fill="#000" font-weight="bold" textLength="120.0" lengthAdjust="spacingAndGlyphs" >F268<tspan font-size="17.5" dy="-13">6.52</tspan><tspan dy="13">A</tspan></text>
<line x1="731.80" y1="583.66" x2="731.80" y2="883.12" stroke="#000" stroke-width="1.8" />
<line x1="723.80" y1="852.70" x2="731.80" y2="852.70" stroke="#000" stroke-width="1.8" />
<text x="720.30" y="860.62" font-size="22" fill="#000" font-weight="bold" text-anchor="end" >0</text>
<line x1="723.80" y1="740.60" x2="731.80" y2="740.60" stroke="#000" stroke-width="1.8" />
<text x="720.30" y="748.52" font-size="22" fill="#000" font-weight="bold" text-anchor="end" >50</text>
<line x1="723.80" y1="628.50" x2="731.80" y2="628.50" stroke="#000" stroke-width="1.8" />
<text x="720.30" y="636.42" font-size="22" fill="#000" font-weight="bold" text-anchor="end" >100</text>
<line x1="730.90" y1="875.12" x2="750.20" y2="875.12" stroke="#000" stroke-width="1.8" />
<line x1="750.20" y1="868.12" x2="750.20" y2="882.12" stroke="#000" stroke-width="1.8" />
<line x1="772.23" y1="875.12" x2="1170.25" y2="875.12" stroke="#000" stroke-width="1.8" />
<line x1="772.23" y1="868.12" x2="772.23" y2="882.12" stroke="#000" stroke-width="1.8" />
<text x="731.80" y="908.32" font-size="22" fill="#000" font-weight="bold" text-anchor="middle" >0</text>
<line x1="798.70" y1="875.12" x2="798.70" y2="883.12" stroke="#000" stroke-width="1.8" />
<text x="798.70" y="908.32" font-size="22" fill="#000" font-weight="bold" text-anchor="middle" >-10</text>
<line x1="851.65" y1="875.12" x2="851.65" y2="883.12" stroke="#000" stroke-width="1.8" />
<text x="851.65" y="908.32" font-size="22" fill="#000" font-weight="bold" text-anchor="middle" >-9</text>
<line x1="904.60" y1="875.12" x2="904.60" y2="883.12" stroke="#000" stroke-width="1.8" />
<text x="904.60" y="908.32" font-size="22" fill="#000" font-weight="bold" text-anchor="middle" >-8</text>
<line x1="957.55" y1="875.12" x2="957.55" y2="883.12" stroke="#000" stroke-width="1.8" />
<text x="957.55" y="908.32" font-size="22" fill="#000" font-weight="bold" text-anchor="middle" >-7</text>
<line x1="1010.50" y1="875.12" x2="1010.50" y2="883.12" stroke="#000" stroke-width="1.8" />
<text x="1010.50" y="908.32" font-size="22" fill="#000" font-weight="bold" text-anchor="middle" >-6</text>
<line x1="1063.45" y1="875.12" x2="1063.45" y2="883.12" stroke="#000" stroke-width="1.8" />
<text x="1063.45" y="908.32" font-size="22" fill="#000" font-weight="bold" text-anchor="middle" >-5</text>
<line x1="1116.40" y1="875.12" x2="1116.40" y2="883.12" stroke="#000" stroke-width="1.8" />
<text x="1116.40" y="908.32" font-size="22" fill="#000" font-weight="bold" text-anchor="middle" >-4</text>
<line x1="1169.35" y1="875.12" x2="1169.35" y2="883.12" stroke="#000" stroke-width="1.8" />
<text x="1169.35" y="908.32" font-size="22" fill="#000" font-weight="bold" text-anchor="middle" >-3</text>
<text x="950.00" y="943.00" font-size="23" fill="#000" font-weight="bold" text-anchor="middle" textLength="246.0" lengthAdjust="spacingAndGlyphs" >Log [SEP-363856] (M)</text>
<text transform="translate(640.20,729.50) rotate(-90)" x="0" y="0" font-size="24" font-weight="bold" text-anchor="middle" textLength="110.5" lengthAdjust="spacingAndGlyphs">Response</text>
<text transform="translate(669.20,730.70) rotate(-90)" x="0" y="0" font-size="24" font-weight="bold" text-anchor="middle" textLength="87" lengthAdjust="spacingAndGlyphs">(% WT)</text>
<line x1="731.80" y1="852.70" x2="750.20" y2="852.70" stroke="#000" stroke-width="1.6" />
<polyline points="772.23,852.70 775.09,852.70 777.96,852.70 780.83,852.70 783.70,852.70 786.57,852.70 789.43,852.70 792.30,852.70 795.17,852.70 798.04,852.70 800.91,852.70 803.77,852.70 806.64,852.70 809.51,852.70 812.38,852.70 815.25,852.70 818.12,852.70 820.98,852.70 823.85,852.70 826.72,852.70 829.59,852.70 832.46,852.70 835.32,852.70 838.19,852.70 841.06,852.70 843.93,852.70 846.80,852.70 849.66,852.70 852.53,852.70 855.40,852.70 858.27,852.70 861.14,852.70 864.01,852.70 866.87,852.70 869.74,852.70 872.61,852.70 875.48,852.70 878.35,852.70 881.21,852.70 884.08,852.70 886.95,852.70 889.82,852.70 892.69,852.70 895.55,852.70 898.42,852.70 901.29,852.70 904.16,852.70 907.03,852.70 909.89,852.70 912.76,852.70 915.63,852.70 918.50,852.70 921.37,852.70 924.24,852.70 927.10,852.70 929.97,852.70 932.84,852.70 935.71,852.70 938.58,852.70 941.44,852.70 944.31,852.70 947.18,852.70 950.05,852.70 952.92,852.70 955.79,852.70 958.65,852.70 961.52,852.70 964.39,852.70 967.26,852.70 970.13,852.70 972.99,852.70 975.86,852.70 978.73,852.70 981.60,852.70 984.47,852.70 987.33,852.70 990.20,852.70 993.07,852.70 995.94,852.70 998.81,852.70 1001.68,852.70 1004.54,852.70 1007.41,852.70 1010.28,852.70 1013.15,852.70 1016.02,852.70 1018.88,852.70 1021.75,852.70 1024.62,852.70 1027.49,852.70 1030.36,852.70 1033.22,852.70 1036.09,852.70 1038.96,852.70 1041.83,852.70 1044.70,852.70 1047.57,852.70 1050.43,852.70 1053.30,852.70 1056.17,852.70 1059.04,852.70 1061.91,852.70 1064.77,852.70 1067.64,852.70 1070.51,852.70 1073.38,852.70 1076.25,852.70 1079.11,852.70 1081.98,852.70 1084.85,852.70 1087.72,852.70 1090.59,852.70 1093.45,852.70 1096.32,852.70 1099.19,852.70 1102.06,852.70 1104.93,852.70 1107.80,852.70 1110.66,852.70 1113.53,852.70 1116.40,852.70" fill="none" stroke="#000" stroke-width="1.6"/>
<line x1="731.80" y1="852.70" x2="750.20" y2="852.70" stroke="#000" stroke-width="1.6" />
<polyline points="772.23,852.70 775.09,852.70 777.96,852.70 780.83,852.70 783.70,852.70 786.57,852.70 789.43,852.70 792.30,852.70 795.17,852.70 798.04,852.70 800.91,852.70 803.77,852.70 806.64,852.70 809.51,852.70 812.38,852.70 815.25,852.70 818.12,852.70 820.98,852.70 823.85,852.70 826.72,852.70 829.59,852.70 832.46,852.70 835.32,852.70 838.19,852.70 841.06,852.70 843.93,852.70 846.80,852.70 849.66,852.70 852.53,852.70 855.40,852.70 858.27,852.70 861.14,852.70 864.01,852.70 866.87,852.70 869.74,852.70 872.61,852.70 875.48,852.70 878.35,852.70 881.21,852.70 884.08,852.70 886.95,852.70 889.82,852.70 892.69,852.70 895.55,852.70 898.42,852.70 901.29,852.70 904.16,852.70 907.03,852.70 909.89,852.70 912.76,852.70 915.63,852.70 918.50,852.70 921.37,852.70 924.24,852.70 927.10,852.70 929.97,852.70 932.84,852.70 935.71,852.70 938.58,852.70 941.44,852.70 944.31,852.70 947.18,852.70 950.05,852.70 952.92,852.70 955.79,852.70 958.65,852.70 961.52,852.70 964.39,852.70 967.26,852.70 970.13,852.70 972.99,852.70 975.86,852.70 978.73,852.70 981.60,852.70 984.47,852.70 987.33,852.70 990.20,852.70 993.07,852.70 995.94,852.70 998.81,852.70 1001.68,852.70 1004.54,852.70 1007.41,852.70 1010.28,852.70 1013.15,852.70 1016.02,852.70 1018.88,852.70 1021.75,852.70 1024.62,852.70 1027.49,852.70 1030.36,852.70 1033.22,852.70 1036.09,852.70 1038.96,852.70 1041.83,852.70 1044.70,852.70 1047.57,852.70 1050.43,852.70 1053.30,852.70 1056.17,852.70 1059.04,852.70 1061.91,852.70 1064.77,852.70 1067.64,852.70 1070.51,852.70 1073.38,852.70 1076.25,852.70 1079.11,852.70 1081.98,852.70 1084.85,852.70 1087.72,852.70 1090.59,852.70 1093.45,852.70 1096.32,852.70 1099.19,852.70 1102.06,852.70 1104.93,852.70 1107.80,852.70 1110.66,852.70 1113.53,852.70 1116.40,852.70" fill="none" stroke="#000" stroke-width="1.6"/>
<line x1="731.80" y1="852.70" x2="750.20" y2="852.70" stroke="#000" stroke-width="1.6" />
<polyline points="772.23,852.67 775.09,852.67 777.96,852.66 780.83,852.66 783.70,852.65 786.57,852.65 789.43,852.64 792.30,852.63 795.17,852.62 798.04,852.61 800.91,852.60 803.77,852.59 806.64,852.57 809.51,852.56 812.38,852.54 815.25,852.52 818.12,852.49 820.98,852.47 823.85,852.43 826.72,852.40 829.59,852.36 832.46,852.31 835.32,852.26 838.19,852.20 841.06,852.14 843.93,852.06 846.80,851.98 849.66,851.88 852.53,851.78 855.40,851.65 858.27,851.52 861.14,851.36 864.01,851.18 866.87,850.98 869.74,850.76 872.61,850.50 875.48,850.21 878.35,849.89 881.21,849.52 884.08,849.10 886.95,848.63 889.82,848.10 892.69,847.51 895.55,846.83 898.42,846.08 901.29,845.23 904.16,844.27 907.03,843.20 909.89,842.00 912.76,840.65 915.63,839.15 918.50,837.47 921.37,835.61 924.24,833.53 927.10,831.23 929.97,828.68 932.84,825.87 935.71,822.78 938.58,819.40 941.44,815.70 944.31,811.69 947.18,807.34 950.05,802.66 952.92,797.65 955.79,792.31 958.65,786.65 961.52,780.69 964.39,774.46 967.26,768.00 970.13,761.33 972.99,754.51 975.86,747.58 978.73,740.60 981.60,733.62 984.47,726.69 987.33,719.87 990.20,713.20 993.07,706.74 995.94,700.51 998.81,694.55 1001.68,688.89 1004.54,683.55 1007.41,678.54 1010.28,673.86 1013.15,669.51 1016.02,665.50 1018.88,661.80 1021.75,658.42 1024.62,655.33 1027.49,652.52 1030.36,649.97 1033.22,647.67 1036.09,645.59 1038.96,643.73 1041.83,642.05 1044.70,640.55 1047.57,639.20 1050.43,638.00 1053.30,636.93 1056.17,635.97 1059.04,635.12 1061.91,634.37 1064.77,633.69 1067.64,633.10 1070.51,632.57 1073.38,632.10 1076.25,631.68 1079.11,631.31 1081.98,630.99 1084.85,630.70 1087.72,630.44 1090.59,630.22 1093.45,630.02 1096.32,629.84 1099.19,629.68 1102.06,629.55 1104.93,629.42 1107.80,629.32 1110.66,629.22 1113.53,629.14 1116.40,629.06" fill="none" stroke="#000" stroke-width="1.6"/>
<circle cx="798.70" cy="852.70" r="7.6" fill="#f4a9e4" stroke="#000" stroke-width="1.5" />
<circle cx="851.65" cy="851.58" r="7.6" fill="#f4a9e4" stroke="#000" stroke-width="1.5" />
<circle cx="904.60" cy="852.70" r="7.6" fill="#f4a9e4" stroke="#000" stroke-width="1.5" />
<circle cx="957.55" cy="852.70" r="7.6" fill="#f4a9e4" stroke="#000" stroke-width="1.5" />
<circle cx="1010.50" cy="852.70" r="7.6" fill="#f4a9e4" stroke="#000" stroke-width="1.5" />
<circle cx="1063.45" cy="852.70" r="7.6" fill="#f4a9e4" stroke="#000" stroke-width="1.5" />
<circle cx="1116.40" cy="852.70" r="7.6" fill="#f4a9e4" stroke="#000" stroke-width="1.5" />
<circle cx="798.70" cy="852.70" r="7.6" fill="#8dbdf3" stroke="#000" stroke-width="1.5" />
<circle cx="851.65" cy="852.70" r="7.6" fill="#8dbdf3" stroke="#000" stroke-width="1.5" />
<circle cx="904.60" cy="854.49" r="7.6" fill="#8dbdf3" stroke="#000" stroke-width="1.5" />
<circle cx="957.55" cy="852.70" r="7.6" fill="#8dbdf3" stroke="#000" stroke-width="1.5" />
<circle cx="1010.50" cy="852.70" r="7.6" fill="#8dbdf3" stroke="#000" stroke-width="1.5" />
<circle cx="1063.45" cy="852.70" r="7.6" fill="#8dbdf3" stroke="#000" stroke-width="1.5" />
<circle cx="1116.40" cy="852.70" r="7.6" fill="#8dbdf3" stroke="#000" stroke-width="1.5" />
<circle cx="731.80" cy="852.70" r="7.6" fill="#ffffff" stroke="#000" stroke-width="1.5" />
<circle cx="798.70" cy="853.37" r="7.6" fill="#ffffff" stroke="#000" stroke-width="1.5" />
<circle cx="851.65" cy="852.70" r="7.6" fill="#ffffff" stroke="#000" stroke-width="1.5" />
<circle cx="904.60" cy="845.97" r="7.6" fill="#ffffff" stroke="#000" stroke-width="1.5" />
<circle cx="957.55" cy="789.92" r="7.6" fill="#ffffff" stroke="#000" stroke-width="1.5" />
<circle cx="1010.50" cy="680.07" r="7.6" fill="#ffffff" stroke="#000" stroke-width="1.5" />
<circle cx="1063.45" cy="634.78" r="7.6" fill="#ffffff" stroke="#000" stroke-width="1.5" />
<circle cx="1116.40" cy="628.50" r="7.6" fill="#ffffff" stroke="#000" stroke-width="1.5" />
<line x1="742.00" y1="590.50" x2="777.00" y2="590.50" stroke="#000" stroke-width="1.6" />
<circle cx="759.50" cy="590.50" r="7.6" fill="#ffffff" stroke="#000" stroke-width="1.5" />
<text x="796.80" y="599.50" font-size="26" fill="#000" font-weight="bold" textLength="159.6" lengthAdjust="spacingAndGlyphs" >mTAAR1-WT</text>
<line x1="742.00" y1="642.20" x2="777.00" y2="642.20" stroke="#000" stroke-width="1.6" />
<circle cx="759.50" cy="642.20" r="7.6" fill="#8dbdf3" stroke="#000" stroke-width="1.5" />
<text x="796.80" y="655.70" font-size="26" fill="#000" font-weight="bold" textLength="122.6" lengthAdjust="spacingAndGlyphs" >D102<tspan font-size="17.5" dy="-13">3.32</tspan><tspan dy="13">A</tspan></text>
<line x1="742.00" y1="702.40" x2="777.00" y2="702.40" stroke="#000" stroke-width="1.6" />
<circle cx="759.50" cy="702.40" r="7.6" fill="#f4a9e4" stroke="#000" stroke-width="1.5" />
<text x="796.80" y="715.90" font-size="26" fill="#000" font-weight="bold" textLength="121.5" lengthAdjust="spacingAndGlyphs" >S106<tspan font-size="17.5" dy="-13">3.36</tspan><tspan dy="13">A</tspan></text>
<line x1="731.80" y1="1121.56" x2="731.80" y2="1420.37" stroke="#000" stroke-width="1.8" />
<line x1="723.80" y1="1390.00" x2="731.80" y2="1390.00" stroke="#000" stroke-width="1.8" />
<text x="720.30" y="1397.92" font-size="22" fill="#000" font-weight="bold" text-anchor="end" >0</text>
<line x1="723.80" y1="1278.15" x2="731.80" y2="1278.15" stroke="#000" stroke-width="1.8" />
<text x="720.30" y="1286.07" font-size="22" fill="#000" font-weight="bold" text-anchor="end" >50</text>
<line x1="723.80" y1="1166.30" x2="731.80" y2="1166.30" stroke="#000" stroke-width="1.8" />
<text x="720.30" y="1174.22" font-size="22" fill="#000" font-weight="bold" text-anchor="end" >100</text>
<line x1="730.90" y1="1412.37" x2="750.20" y2="1412.37" stroke="#000" stroke-width="1.8" />
<line x1="750.20" y1="1405.37" x2="750.20" y2="1419.37" stroke="#000" stroke-width="1.8" />
<line x1="772.23" y1="1412.37" x2="1170.25" y2="1412.37" stroke="#000" stroke-width="1.8" />
<line x1="772.23" y1="1405.37" x2="772.23" y2="1419.37" stroke="#000" stroke-width="1.8" />
<text x="731.80" y="1445.57" font-size="22" fill="#000" font-weight="bold" text-anchor="middle" >-11</text>
<line x1="798.70" y1="1412.37" x2="798.70" y2="1420.37" stroke="#000" stroke-width="1.8" />
<text x="798.70" y="1445.57" font-size="22" fill="#000" font-weight="bold" text-anchor="middle" >-10</text>
<line x1="851.65" y1="1412.37" x2="851.65" y2="1420.37" stroke="#000" stroke-width="1.8" />
<text x="851.65" y="1445.57" font-size="22" fill="#000" font-weight="bold" text-anchor="middle" >-9</text>
<line x1="904.60" y1="1412.37" x2="904.60" y2="1420.37" stroke="#000" stroke-width="1.8" />
<text x="904.60" y="1445.57" font-size="22" fill="#000" font-weight="bold" text-anchor="middle" >-8</text>
<line x1="957.55" y1="1412.37" x2="957.55" y2="1420.37" stroke="#000" stroke-width="1.8" />
<text x="957.55" y="1445.57" font-size="22" fill="#000" font-weight="bold" text-anchor="middle" >-7</text>
<line x1="1010.50" y1="1412.37" x2="1010.50" y2="1420.37" stroke="#000" stroke-width="1.8" />
<text x="1010.50" y="1445.57" font-size="22" fill="#000" font-weight="bold" text-anchor="middle" >-6</text>
<line x1="1063.45" y1="1412.37" x2="1063.45" y2="1420.37" stroke="#000" stroke-width="1.8" />
<text x="1063.45" y="1445.57" font-size="22" fill="#000" font-weight="bold" text-anchor="middle" >-5</text>
<line x1="1116.40" y1="1412.37" x2="1116.40" y2="1420.37" stroke="#000" stroke-width="1.8" />
<text x="1116.40" y="1445.57" font-size="22" fill="#000" font-weight="bold" text-anchor="middle" >-4</text>
<line x1="1169.35" y1="1412.37" x2="1169.35" y2="1420.37" stroke="#000" stroke-width="1.8" />
<text x="1169.35" y="1445.57" font-size="22" fill="#000" font-weight="bold" text-anchor="middle" >-3</text>
<text x="950.00" y="1480.00" font-size="23" fill="#000" font-weight="bold" text-anchor="middle" textLength="246.0" lengthAdjust="spacingAndGlyphs" >Log [SEP-363856] (M)</text>
<text transform="translate(640.20,1266.50) rotate(-90)" x="0" y="0" font-size="24" font-weight="bold" text-anchor="middle" textLength="110.5" lengthAdjust="spacingAndGlyphs">Response</text>
<text transform="translate(669.20,1267.70) rotate(-90)" x="0" y="0" font-size="24" font-weight="bold" text-anchor="middle" textLength="87" lengthAdjust="spacingAndGlyphs">(% WT)</text>
<line x1="731.80" y1="1390.00" x2="750.20" y2="1390.00" stroke="#000" stroke-width="1.6" />
<polyline points="772.23,1390.00 775.09,1390.00 777.96,1390.00 780.83,1390.00 783.70,1390.00 786.57,1390.00 789.43,1390.00 792.30,1390.00 795.17,1390.00 798.04,1390.00 800.91,1390.00 803.77,1390.00 806.64,1390.00 809.51,1390.00 812.38,1390.00 815.25,1390.00 818.12,1390.00 820.98,1390.00 823.85,1390.00 826.72,1390.00 829.59,1390.00 832.46,1390.00 835.32,1390.00 838.19,1390.00 841.06,1390.00 843.93,1390.00 846.80,1390.00 849.66,1390.00 852.53,1390.00 855.40,1390.00 858.27,1390.00 861.14,1390.00 864.01,1390.00 866.87,1390.00 869.74,1390.00 872.61,1389.99 875.48,1389.99 878.35,1389.99 881.21,1389.99 884.08,1389.99 886.95,1389.99 889.82,1389.99 892.69,1389.98 895.55,1389.98 898.42,1389.98 901.29,1389.98 904.16,1389.97 907.03,1389.97 909.89,1389.96 912.76,1389.96 915.63,1389.95 918.50,1389.94 921.37,1389.93 924.24,1389.92 927.10,1389.91 929.97,1389.89 932.84,1389.88 935.71,1389.86 938.58,1389.84 941.44,1389.81 944.31,1389.78 947.18,1389.75 950.05,1389.71 952.92,1389.66 955.79,1389.61 958.65,1389.54 961.52,1389.47 964.39,1389.39 967.26,1389.30 970.13,1389.20 972.99,1389.08 975.86,1388.94 978.73,1388.78 981.60,1388.61 984.47,1388.41 987.33,1388.20 990.20,1387.95 993.07,1387.69 995.94,1387.39 998.81,1387.07 1001.68,1386.72 1004.54,1386.35 1007.41,1385.96 1010.28,1385.54 1013.15,1385.11 1016.02,1384.66 1018.88,1384.20 1021.75,1383.74 1024.62,1383.28 1027.49,1382.83 1030.36,1382.39 1033.22,1381.96 1036.09,1381.56 1038.96,1381.17 1041.83,1380.81 1044.70,1380.48 1047.57,1380.17 1050.43,1379.88 1053.30,1379.63 1056.17,1379.40 1059.04,1379.19 1061.91,1379.00 1064.77,1378.84 1067.64,1378.69 1070.51,1378.56 1073.38,1378.45 1076.25,1378.35 1079.11,1378.26 1081.98,1378.19 1084.85,1378.12 1087.72,1378.07 1090.59,1378.02 1093.45,1377.97 1096.32,1377.93 1099.19,1377.90 1102.06,1377.87 1104.93,1377.85 1107.80,1377.83 1110.66,1377.81 1113.53,1377.79 1116.40,1377.78" fill="none" stroke="#000" stroke-width="1.6"/>
<line x1="731.80" y1="1390.00" x2="750.20" y2="1390.00" stroke="#000" stroke-width="1.6" />
<polyline points="772.23,1390.00 775.09,1390.00 777.96,1390.00 780.83,1390.00 783.70,1390.00 786.57,1390.00 789.43,1389.99 792.30,1389.99 795.17,1389.99 798.04,1389.99 800.91,1389.99 803.77,1389.99 806.64,1389.99 809.51,1389.99 812.38,1389.99 815.25,1389.98 818.12,1389.98 820.98,1389.98 823.85,1389.98 826.72,1389.97 829.59,1389.97 832.46,1389.96 835.32,1389.96 838.19,1389.95 841.06,1389.95 843.93,1389.94 846.80,1389.93 849.66,1389.92 852.53,1389.91 855.40,1389.90 858.27,1389.89 861.14,1389.88 864.01,1389.86 866.87,1389.84 869.74,1389.82 872.61,1389.80 875.48,1389.77 878.35,1389.74 881.21,1389.70 884.08,1389.66 886.95,1389.62 889.82,1389.57 892.69,1389.51 895.55,1389.45 898.42,1389.38 901.29,1389.30 904.16,1389.21 907.03,1389.10 909.89,1388.99 912.76,1388.86 915.63,1388.71 918.50,1388.55 921.37,1388.36 924.24,1388.16 927.10,1387.92 929.97,1387.67 932.84,1387.38 935.71,1387.06 938.58,1386.70 941.44,1386.31 944.31,1385.87 947.18,1385.39 950.05,1384.87 952.92,1384.29 955.79,1383.66 958.65,1382.98 961.52,1382.24 964.39,1381.45 967.26,1380.60 970.13,1379.70 972.99,1378.75 975.86,1377.76 978.73,1376.71 981.60,1375.64 984.47,1374.53 987.33,1373.40 990.20,1372.25 993.07,1371.10 995.94,1369.96 998.81,1368.82 1001.68,1367.71 1004.54,1366.62 1007.41,1365.57 1010.28,1364.56 1013.15,1363.60 1016.02,1362.69 1018.88,1361.83 1021.75,1361.02 1024.62,1360.27 1027.49,1359.58 1030.36,1358.94 1033.22,1358.35 1036.09,1357.81 1038.96,1357.32 1041.83,1356.88 1044.70,1356.47 1047.57,1356.11 1050.43,1355.78 1053.30,1355.49 1056.17,1355.22 1059.04,1354.98 1061.91,1354.77 1064.77,1354.58 1067.64,1354.41 1070.51,1354.26 1073.38,1354.13 1076.25,1354.01 1079.11,1353.91 1081.98,1353.81 1084.85,1353.73 1087.72,1353.65 1090.59,1353.59 1093.45,1353.53 1096.32,1353.48 1099.19,1353.43 1102.06,1353.39 1104.93,1353.36 1107.80,1353.33 1110.66,1353.30 1113.53,1353.28 1116.40,1353.25" fill="none" stroke="#000" stroke-width="1.6"/>
<line x1="731.80" y1="1390.00" x2="750.20" y2="1390.00" stroke="#000" stroke-width="1.6" />
<polyline points="772.23,1390.00 775.09,1390.00 777.96,1390.00 780.83,1390.00 783.70,1390.00 786.57,1390.00 789.43,1390.00 792.30,1390.00 795.17,1390.00 798.04,1390.00 800.91,1390.00 803.77,1390.00 806.64,1390.00 809.51,1390.00 812.38,1390.00 815.25,1390.00 818.12,1390.00 820.98,1390.00 823.85,1390.00 826.72,1390.00 829.59,1390.00 832.46,1390.00 835.32,1390.00 838.19,1390.00 841.06,1389.99 843.93,1389.99 846.80,1389.99 849.66,1389.99 852.53,1389.99 855.40,1389.99 858.27,1389.99 861.14,1389.99 864.01,1389.99 866.87,1389.98 869.74,1389.98 872.61,1389.98 875.48,1389.98 878.35,1389.97 881.21,1389.97 884.08,1389.97 886.95,1389.96 889.82,1389.96 892.69,1389.95 895.55,1389.94 898.42,1389.94 901.29,1389.93 904.16,1389.92 907.03,1389.91 909.89,1389.90 912.76,1389.88 915.63,1389.87 918.50,1389.85 921.37,1389.83 924.24,1389.81 927.10,1389.78 929.97,1389.75 932.84,1389.72 935.71,1389.68 938.58,1389.64 941.44,1389.59 944.31,1389.54 947.18,1389.48 950.05,1389.41 952.92,1389.33 955.79,1389.24 958.65,1389.14 961.52,1389.03 964.39,1388.90 967.26,1388.76 970.13,1388.60 972.99,1388.41 975.86,1388.21 978.73,1387.98 981.60,1387.72 984.47,1387.42 987.33,1387.09 990.20,1386.73 993.07,1386.31 995.94,1385.85 998.81,1385.33 1001.68,1384.76 1004.54,1384.12 1007.41,1383.41 1010.28,1382.62 1013.15,1381.75 1016.02,1380.79 1018.88,1379.73 1021.75,1378.58 1024.62,1377.32 1027.49,1375.96 1030.36,1374.49 1033.22,1372.90 1036.09,1371.21 1038.96,1369.41 1041.83,1367.51 1044.70,1365.51 1047.57,1363.43 1050.43,1361.27 1053.30,1359.06 1056.17,1356.80 1059.04,1354.51 1061.91,1352.20 1064.77,1349.91 1067.64,1347.64 1070.51,1345.41 1073.38,1343.24 1076.25,1341.14 1079.11,1339.12 1081.98,1337.20 1084.85,1335.38 1087.72,1333.66 1090.59,1332.05 1093.45,1330.55 1096.32,1329.16 1099.19,1327.88 1102.06,1326.70 1104.93,1325.63 1107.80,1324.65 1110.66,1323.76 1113.53,1322.95 1116.40,1322.22" fill="none" stroke="#000" stroke-width="1.6"/>
<line x1="731.80" y1="1390.00" x2="750.20" y2="1390.00" stroke="#000" stroke-width="1.6" />
<polyline points="772.23,1389.97 775.09,1389.96 777.96,1389.96 780.83,1389.95 783.70,1389.94 786.57,1389.93 789.43,1389.92 792.30,1389.91 795.17,1389.90 798.04,1389.88 800.91,1389.87 803.77,1389.85 806.64,1389.83 809.51,1389.80 812.38,1389.77 815.25,1389.74 818.12,1389.70 820.98,1389.66 823.85,1389.60 826.72,1389.55 829.59,1389.48 832.46,1389.40 835.32,1389.32 838.19,1389.22 841.06,1389.10 843.93,1388.97 846.80,1388.82 849.66,1388.65 852.53,1388.45 855.40,1388.23 858.27,1387.97 861.14,1387.68 864.01,1387.34 866.87,1386.96 869.74,1386.52 872.61,1386.03 875.48,1385.46 878.35,1384.82 881.21,1384.09 884.08,1383.26 886.95,1382.32 889.82,1381.26 892.69,1380.07 895.55,1378.72 898.42,1377.21 901.29,1375.52 904.16,1373.63 907.03,1371.54 909.89,1369.22 912.76,1366.66 915.63,1363.85 918.50,1360.79 921.37,1357.47 924.24,1353.90 927.10,1350.07 929.97,1346.00 932.84,1341.71 935.71,1337.23 938.58,1332.58 941.44,1327.80 944.31,1322.94 947.18,1318.04 950.05,1313.14 952.92,1308.29 955.79,1303.53 958.65,1298.90 961.52,1294.45 964.39,1290.19 967.26,1286.16 970.13,1282.37 972.99,1278.83 975.86,1275.55 978.73,1272.53 981.60,1269.76 984.47,1267.24 987.33,1264.96 990.20,1262.90 993.07,1261.04 995.94,1259.38 998.81,1257.89 1001.68,1256.57 1004.54,1255.40 1007.41,1254.36 1010.28,1253.44 1013.15,1252.63 1016.02,1251.91 1018.88,1251.28 1021.75,1250.72 1024.62,1250.24 1027.49,1249.81 1030.36,1249.43 1033.22,1249.11 1036.09,1248.82 1038.96,1248.57 1041.83,1248.35 1044.70,1248.15 1047.57,1247.99 1050.43,1247.84 1053.30,1247.71 1056.17,1247.60 1059.04,1247.50 1061.91,1247.42 1064.77,1247.34 1067.64,1247.28 1070.51,1247.22 1073.38,1247.17 1076.25,1247.13 1079.11,1247.09 1081.98,1247.06 1084.85,1247.03 1087.72,1247.00 1090.59,1246.98 1093.45,1246.96 1096.32,1246.94 1099.19,1246.93 1102.06,1246.92 1104.93,1246.91 1107.80,1246.90 1110.66,1246.89 1113.53,1246.88 1116.40,1246.88" fill="none" stroke="#000" stroke-width="1.6"/>
<line x1="731.80" y1="1390.00" x2="750.20" y2="1390.00" stroke="#000" stroke-width="1.6" />
<polyline points="772.23,1389.97 775.09,1389.97 777.96,1389.96 780.83,1389.96 783.70,1389.95 786.57,1389.95 789.43,1389.94 792.30,1389.93 795.17,1389.92 798.04,1389.91 800.91,1389.90 803.77,1389.89 806.64,1389.87 809.51,1389.86 812.38,1389.84 815.25,1389.82 818.12,1389.79 820.98,1389.77 823.85,1389.73 826.72,1389.70 829.59,1389.66 832.46,1389.61 835.32,1389.56 838.19,1389.51 841.06,1389.44 843.93,1389.37 846.80,1389.28 849.66,1389.19 852.53,1389.08 855.40,1388.96 858.27,1388.82 861.14,1388.66 864.01,1388.49 866.87,1388.29 869.74,1388.06 872.61,1387.81 875.48,1387.52 878.35,1387.19 881.21,1386.82 884.08,1386.41 886.95,1385.94 889.82,1385.41 892.69,1384.82 895.55,1384.15 898.42,1383.39 901.29,1382.55 904.16,1381.59 907.03,1380.52 909.89,1379.32 912.76,1377.98 915.63,1376.48 918.50,1374.81 921.37,1372.94 924.24,1370.87 927.10,1368.57 929.97,1366.03 932.84,1363.23 935.71,1360.15 938.58,1356.77 941.44,1353.09 944.31,1349.08 947.18,1344.74 950.05,1340.07 952.92,1335.07 955.79,1329.74 958.65,1324.09 961.52,1318.15 964.39,1311.94 967.26,1305.49 970.13,1298.83 972.99,1292.03 975.86,1285.12 978.73,1278.15 981.60,1271.18 984.47,1264.27 987.33,1257.47 990.20,1250.81 993.07,1244.36 995.94,1238.15 998.81,1232.21 1001.68,1226.56 1004.54,1221.23 1007.41,1216.23 1010.28,1211.56 1013.15,1207.22 1016.02,1203.21 1018.88,1199.53 1021.75,1196.15 1024.62,1193.07 1027.49,1190.27 1030.36,1187.73 1033.22,1185.43 1036.09,1183.36 1038.96,1181.49 1041.83,1179.82 1044.70,1178.32 1047.57,1176.98 1050.43,1175.78 1053.30,1174.71 1056.17,1173.75 1059.04,1172.91 1061.91,1172.15 1064.77,1171.48 1067.64,1170.89 1070.51,1170.36 1073.38,1169.89 1076.25,1169.48 1079.11,1169.11 1081.98,1168.78 1084.85,1168.49 1087.72,1168.24 1090.59,1168.01 1093.45,1167.81 1096.32,1167.64 1099.19,1167.48 1102.06,1167.34 1104.93,1167.22 1107.80,1167.11 1110.66,1167.02 1113.53,1166.93 1116.40,1166.86" fill="none" stroke="#000" stroke-width="1.6"/>
<circle cx="798.70" cy="1390.00" r="7.6" fill="#8e86f2" stroke="#000" stroke-width="1.5" />
<circle cx="851.65" cy="1390.00" r="7.6" fill="#8e86f2" stroke="#000" stroke-width="1.5" />
<circle cx="904.60" cy="1391.12" r="7.6" fill="#8e86f2" stroke="#000" stroke-width="1.5" />
<circle cx="957.55" cy="1390.00" r="7.6" fill="#8e86f2" stroke="#000" stroke-width="1.5" />
<circle cx="1010.50" cy="1385.53" r="7.6" fill="#8e86f2" stroke="#000" stroke-width="1.5" />
<circle cx="1063.45" cy="1378.82" r="7.6" fill="#8e86f2" stroke="#000" stroke-width="1.5" />
<circle cx="1116.40" cy="1377.70" r="7.6" fill="#8e86f2" stroke="#000" stroke-width="1.5" />
<circle cx="798.70" cy="1390.00" r="7.6" fill="#bdb385" stroke="#000" stroke-width="1.5" />
<circle cx="851.65" cy="1390.00" r="7.6" fill="#bdb385" stroke="#000" stroke-width="1.5" />
<circle cx="904.60" cy="1390.00" r="7.6" fill="#bdb385" stroke="#000" stroke-width="1.5" />
<circle cx="957.55" cy="1380.38" r="7.6" fill="#bdb385" stroke="#000" stroke-width="1.5" />
<circle cx="1010.50" cy="1364.27" r="7.6" fill="#bdb385" stroke="#000" stroke-width="1.5" />
<circle cx="1063.45" cy="1353.54" r="7.6" fill="#bdb385" stroke="#000" stroke-width="1.5" />
<circle cx="1116.40" cy="1353.76" r="7.6" fill="#bdb385" stroke="#000" stroke-width="1.5" />
<circle cx="798.70" cy="1390.00" r="7.6" fill="#fdd9bd" stroke="#000" stroke-width="1.5" />
<circle cx="851.65" cy="1390.00" r="7.6" fill="#fdd9bd" stroke="#000" stroke-width="1.5" />
<circle cx="904.60" cy="1390.00" r="7.6" fill="#fdd9bd" stroke="#000" stroke-width="1.5" />
<circle cx="957.55" cy="1390.00" r="7.6" fill="#fdd9bd" stroke="#000" stroke-width="1.5" />
<circle cx="1010.50" cy="1381.50" r="7.6" fill="#fdd9bd" stroke="#000" stroke-width="1.5" />
<circle cx="1063.45" cy="1355.33" r="7.6" fill="#fdd9bd" stroke="#000" stroke-width="1.5" />
<circle cx="1116.40" cy="1324.23" r="7.6" fill="#fdd9bd" stroke="#000" stroke-width="1.5" />
<circle cx="798.70" cy="1390.00" r="7.6" fill="#8dbdf3" stroke="#000" stroke-width="1.5" />
<circle cx="851.65" cy="1388.88" r="7.6" fill="#8dbdf3" stroke="#000" stroke-width="1.5" />
<circle cx="904.60" cy="1370.54" r="7.6" fill="#8dbdf3" stroke="#000" stroke-width="1.5" />
<circle cx="957.55" cy="1303.20" r="7.6" fill="#8dbdf3" stroke="#000" stroke-width="1.5" />
<circle cx="1010.50" cy="1258.02" r="7.6" fill="#8dbdf3" stroke="#000" stroke-width="1.5" />
<circle cx="1063.45" cy="1250.41" r="7.6" fill="#8dbdf3" stroke="#000" stroke-width="1.5" />
<circle cx="1116.40" cy="1244.15" r="7.6" fill="#8dbdf3" stroke="#000" stroke-width="1.5" />
<circle cx="731.80" cy="1390.00" r="7.6" fill="#ffffff" stroke="#000" stroke-width="1.5" />
<circle cx="798.70" cy="1390.67" r="7.6" fill="#ffffff" stroke="#000" stroke-width="1.5" />
<circle cx="851.65" cy="1390.00" r="7.6" fill="#ffffff" stroke="#000" stroke-width="1.5" />
<circle cx="904.60" cy="1383.29" r="7.6" fill="#ffffff" stroke="#000" stroke-width="1.5" />
<circle cx="957.55" cy="1328.48" r="7.6" fill="#ffffff" stroke="#000" stroke-width="1.5" />
<circle cx="1010.50" cy="1218.87" r="7.6" fill="#ffffff" stroke="#000" stroke-width="1.5" />
<circle cx="1063.45" cy="1172.56" r="7.6" fill="#ffffff" stroke="#000" stroke-width="1.5" />
<circle cx="1116.40" cy="1166.30" r="7.6" fill="#ffffff" stroke="#000" stroke-width="1.5" />
<line x1="742.00" y1="1088.00" x2="777.00" y2="1088.00" stroke="#000" stroke-width="1.6" />
<circle cx="759.50" cy="1088.00" r="7.6" fill="#ffffff" stroke="#000" stroke-width="1.5" />
<text x="796.80" y="1097.00" font-size="26" fill="#000" font-weight="bold" textLength="159.6" lengthAdjust="spacingAndGlyphs" >mTAAR1-WT</text>
<line x1="742.00" y1="1139.00" x2="777.00" y2="1139.00" stroke="#000" stroke-width="1.6" />
<circle cx="759.50" cy="1139.00" r="7.6" fill="#8dbdf3" stroke="#000" stroke-width="1.5" />
<text x="796.80" y="1152.50" font-size="26" fill="#000" font-weight="bold" textLength="111.5" lengthAdjust="spacingAndGlyphs" >I103<tspan font-size="17.5" dy="-13">3.33</tspan><tspan dy="13">A</tspan></text>
<line x1="742.00" y1="1191.40" x2="777.00" y2="1191.40" stroke="#000" stroke-width="1.6" />
<circle cx="759.50" cy="1191.40" r="7.6" fill="#8e86f2" stroke="#000" stroke-width="1.5" />
<text x="796.80" y="1204.90" font-size="26" fill="#000" font-weight="bold" textLength="131.0" lengthAdjust="spacingAndGlyphs" >W261<tspan font-size="17.5" dy="-13">6.48</tspan><tspan dy="13">A</tspan></text>
<line x1="742.00" y1="1245.00" x2="777.00" y2="1245.00" stroke="#000" stroke-width="1.6" />
<circle cx="759.50" cy="1245.00" r="7.6" fill="#bdb385" stroke="#000" stroke-width="1.5" />
<text x="796.80" y="1258.50" font-size="26" fill="#000" font-weight="bold" textLength="120.0" lengthAdjust="spacingAndGlyphs" >F264<tspan font-size="17.5" dy="-13">6.51</tspan><tspan dy="13">A</tspan></text>
<line x1="742.00" y1="1298.50" x2="777.00" y2="1298.50" stroke="#000" stroke-width="1.6" />
<circle cx="759.50" cy="1298.50" r="7.6" fill="#fdd9bd" stroke="#000" stroke-width="1.5" />
<text x="796.80" y="1312.00" font-size="26" fill="#000" font-weight="bold" textLength="120.0" lengthAdjust="spacingAndGlyphs" >F265<tspan font-size="17.5" dy="-13">6.52</tspan><tspan dy="13">A</tspan></text>
<line x1="1335.00" y1="584.08" x2="1335.00" y2="885.52" stroke="#000" stroke-width="1.8" />
<line x1="1327.00" y1="835.60" x2="1335.00" y2="835.60" stroke="#000" stroke-width="1.8" />
<text x="1323.50" y="843.52" font-size="22" fill="#000" font-weight="bold" text-anchor="end" >0</text>
<line x1="1327.00" y1="730.80" x2="1335.00" y2="730.80" stroke="#000" stroke-width="1.8" />
<text x="1323.50" y="738.72" font-size="22" fill="#000" font-weight="bold" text-anchor="end" >50</text>
<line x1="1327.00" y1="626.00" x2="1335.00" y2="626.00" stroke="#000" stroke-width="1.8" />
<text x="1323.50" y="633.92" font-size="22" fill="#000" font-weight="bold" text-anchor="end" >100</text>
<line x1="1334.10" y1="877.52" x2="1354.50" y2="877.52" stroke="#000" stroke-width="1.8" />
<line x1="1354.50" y1="870.52" x2="1354.50" y2="884.52" stroke="#000" stroke-width="1.8" />
<line x1="1375.75" y1="877.52" x2="1777.90" y2="877.52" stroke="#000" stroke-width="1.8" />
<line x1="1375.75" y1="870.52" x2="1375.75" y2="884.52" stroke="#000" stroke-width="1.8" />
<text x="1335.00" y="910.72" font-size="22" fill="#000" font-weight="bold" text-anchor="middle" >0</text>
<line x1="1402.50" y1="877.52" x2="1402.50" y2="885.52" stroke="#000" stroke-width="1.8" />
<text x="1402.50" y="910.72" font-size="22" fill="#000" font-weight="bold" text-anchor="middle" >-10</text>
<line x1="1456.00" y1="877.52" x2="1456.00" y2="885.52" stroke="#000" stroke-width="1.8" />
<text x="1456.00" y="910.72" font-size="22" fill="#000" font-weight="bold" text-anchor="middle" >-9</text>
<line x1="1509.50" y1="877.52" x2="1509.50" y2="885.52" stroke="#000" stroke-width="1.8" />
<text x="1509.50" y="910.72" font-size="22" fill="#000" font-weight="bold" text-anchor="middle" >-8</text>
<line x1="1563.00" y1="877.52" x2="1563.00" y2="885.52" stroke="#000" stroke-width="1.8" />
<text x="1563.00" y="910.72" font-size="22" fill="#000" font-weight="bold" text-anchor="middle" >-7</text>
<line x1="1616.50" y1="877.52" x2="1616.50" y2="885.52" stroke="#000" stroke-width="1.8" />
<text x="1616.50" y="910.72" font-size="22" fill="#000" font-weight="bold" text-anchor="middle" >-6</text>
<line x1="1670.00" y1="877.52" x2="1670.00" y2="885.52" stroke="#000" stroke-width="1.8" />
<text x="1670.00" y="910.72" font-size="22" fill="#000" font-weight="bold" text-anchor="middle" >-5</text>
<line x1="1723.50" y1="877.52" x2="1723.50" y2="885.52" stroke="#000" stroke-width="1.8" />
<text x="1723.50" y="910.72" font-size="22" fill="#000" font-weight="bold" text-anchor="middle" >-4</text>
<line x1="1777.00" y1="877.52" x2="1777.00" y2="885.52" stroke="#000" stroke-width="1.8" />
<text x="1777.00" y="910.72" font-size="22" fill="#000" font-weight="bold" text-anchor="middle" >-3</text>
<text x="1560.00" y="943.00" font-size="23" fill="#000" font-weight="bold" text-anchor="middle" textLength="246.0" lengthAdjust="spacingAndGlyphs" >Log [SEP-363856] (M)</text>
<text transform="translate(1243.50,729.50) rotate(-90)" x="0" y="0" font-size="24" font-weight="bold" text-anchor="middle" textLength="110.5" lengthAdjust="spacingAndGlyphs">Response</text>
<text transform="translate(1273.00,730.70) rotate(-90)" x="0" y="0" font-size="24" font-weight="bold" text-anchor="middle" textLength="87" lengthAdjust="spacingAndGlyphs">(%WT)</text>
<line x1="1335.00" y1="842.31" x2="1354.50" y2="842.31" stroke="#000" stroke-width="1.6" />
<polyline points="1375.75,842.31 1378.65,842.31 1381.55,842.31 1384.44,842.31 1387.34,842.31 1390.24,842.31 1393.14,842.31 1396.04,842.31 1398.93,842.31 1401.83,842.31 1404.73,842.31 1407.63,842.31 1410.53,842.31 1413.42,842.31 1416.32,842.31 1419.22,842.31 1422.12,842.31 1425.01,842.31 1427.91,842.31 1430.81,842.31 1433.71,842.31 1436.61,842.31 1439.50,842.31 1442.40,842.31 1445.30,842.31 1448.20,842.31 1451.10,842.31 1453.99,842.31 1456.89,842.31 1459.79,842.31 1462.69,842.31 1465.59,842.31 1468.48,842.31 1471.38,842.31 1474.28,842.31 1477.18,842.31 1480.08,842.31 1482.97,842.31 1485.87,842.31 1488.77,842.31 1491.67,842.31 1494.56,842.31 1497.46,842.31 1500.36,842.31 1503.26,842.31 1506.16,842.31 1509.05,842.31 1511.95,842.31 1514.85,842.31 1517.75,842.31 1520.65,842.31 1523.54,842.31 1526.44,842.31 1529.34,842.31 1532.24,842.31 1535.14,842.31 1538.03,842.31 1540.93,842.31 1543.83,842.31 1546.73,842.31 1549.62,842.31 1552.52,842.31 1555.42,842.31 1558.32,842.31 1561.22,842.31 1564.11,842.31 1567.01,842.31 1569.91,842.31 1572.81,842.31 1575.71,842.31 1578.60,842.31 1581.50,842.31 1584.40,842.31 1587.30,842.31 1590.20,842.31 1593.09,842.31 1595.99,842.31 1598.89,842.31 1601.79,842.31 1604.69,842.31 1607.58,842.31 1610.48,842.31 1613.38,842.31 1616.28,842.31 1619.17,842.31 1622.07,842.31 1624.97,842.31 1627.87,842.31 1630.77,842.31 1633.66,842.31 1636.56,842.31 1639.46,842.31 1642.36,842.31 1645.26,842.31 1648.15,842.31 1651.05,842.31 1653.95,842.31 1656.85,842.31 1659.75,842.31 1662.64,842.31 1665.54,842.31 1668.44,842.31 1671.34,842.31 1674.24,842.31 1677.13,842.31 1680.03,842.31 1682.93,842.31 1685.83,842.31 1688.72,842.31 1691.62,842.31 1694.52,842.31 1697.42,842.31 1700.32,842.31 1703.21,842.31 1706.11,842.31 1709.01,842.31 1711.91,842.31 1714.81,842.31 1717.70,842.31 1720.60,842.31 1723.50,842.31" fill="none" stroke="#000" stroke-width="1.6"/>
<line x1="1335.00" y1="838.74" x2="1354.50" y2="838.74" stroke="#000" stroke-width="1.6" />
<polyline points="1375.75,838.74 1378.65,838.74 1381.55,838.74 1384.44,838.74 1387.34,838.74 1390.24,838.74 1393.14,838.74 1396.04,838.74 1398.93,838.74 1401.83,838.74 1404.73,838.74 1407.63,838.74 1410.53,838.74 1413.42,838.74 1416.32,838.74 1419.22,838.74 1422.12,838.74 1425.01,838.74 1427.91,838.74 1430.81,838.74 1433.71,838.74 1436.61,838.74 1439.50,838.74 1442.40,838.74 1445.30,838.74 1448.20,838.74 1451.10,838.74 1453.99,838.74 1456.89,838.74 1459.79,838.74 1462.69,838.74 1465.59,838.74 1468.48,838.74 1471.38,838.74 1474.28,838.74 1477.18,838.74 1480.08,838.74 1482.97,838.74 1485.87,838.74 1488.77,838.74 1491.67,838.74 1494.56,838.74 1497.46,838.74 1500.36,838.74 1503.26,838.74 1506.16,838.74 1509.05,838.74 1511.95,838.74 1514.85,838.74 1517.75,838.74 1520.65,838.74 1523.54,838.74 1526.44,838.74 1529.34,838.74 1532.24,838.74 1535.14,838.74 1538.03,838.74 1540.93,838.74 1543.83,838.74 1546.73,838.74 1549.62,838.74 1552.52,838.74 1555.42,838.74 1558.32,838.74 1561.22,838.74 1564.11,838.74 1567.01,838.74 1569.91,838.74 1572.81,838.74 1575.71,838.74 1578.60,838.74 1581.50,838.74 1584.40,838.74 1587.30,838.74 1590.20,838.74 1593.09,838.74 1595.99,838.74 1598.89,838.74 1601.79,838.74 1604.69,838.74 1607.58,838.74 1610.48,838.74 1613.38,838.74 1616.28,838.74 1619.17,838.74 1622.07,838.74 1624.97,838.74 1627.87,838.74 1630.77,838.74 1633.66,838.74 1636.56,838.74 1639.46,838.74 1642.36,838.74 1645.26,838.74 1648.15,838.74 1651.05,838.74 1653.95,838.74 1656.85,838.74 1659.75,838.74 1662.64,838.74 1665.54,838.74 1668.44,838.74 1671.34,838.74 1674.24,838.74 1677.13,838.74 1680.03,838.74 1682.93,838.74 1685.83,838.74 1688.72,838.74 1691.62,838.74 1694.52,838.74 1697.42,838.74 1700.32,838.74 1703.21,838.74 1706.11,838.74 1709.01,838.74 1711.91,838.74 1714.81,838.74 1717.70,838.74 1720.60,838.74 1723.50,838.74" fill="none" stroke="#000" stroke-width="1.6"/>
<line x1="1335.00" y1="837.70" x2="1354.50" y2="837.70" stroke="#000" stroke-width="1.6" />
<polyline points="1375.75,837.69 1378.65,837.69 1381.55,837.69 1384.44,837.69 1387.34,837.69 1390.24,837.68 1393.14,837.68 1396.04,837.68 1398.93,837.68 1401.83,837.68 1404.73,837.68 1407.63,837.67 1410.53,837.67 1413.42,837.67 1416.32,837.66 1419.22,837.66 1422.12,837.65 1425.01,837.65 1427.91,837.64 1430.81,837.63 1433.71,837.62 1436.61,837.61 1439.50,837.60 1442.40,837.59 1445.30,837.58 1448.20,837.56 1451.10,837.54 1453.99,837.52 1456.89,837.50 1459.79,837.47 1462.69,837.44 1465.59,837.41 1468.48,837.37 1471.38,837.33 1474.28,837.28 1477.18,837.22 1480.08,837.16 1482.97,837.09 1485.87,837.01 1488.77,836.92 1491.67,836.82 1494.56,836.70 1497.46,836.57 1500.36,836.42 1503.26,836.25 1506.16,836.06 1509.05,835.84 1511.95,835.60 1514.85,835.32 1517.75,835.01 1520.65,834.66 1523.54,834.26 1526.44,833.82 1529.34,833.31 1532.24,832.74 1535.14,832.10 1538.03,831.38 1540.93,830.57 1543.83,829.66 1546.73,828.64 1549.62,827.49 1552.52,826.21 1555.42,824.78 1558.32,823.18 1561.22,821.40 1564.11,819.41 1567.01,817.22 1569.91,814.79 1572.81,812.11 1575.71,809.17 1578.60,805.94 1581.50,802.42 1584.40,798.59 1587.30,794.45 1590.20,789.98 1593.09,785.20 1595.99,780.11 1598.89,774.71 1601.79,769.03 1604.69,763.09 1607.58,756.93 1610.48,750.57 1613.38,744.06 1616.28,737.46 1619.17,730.80 1622.07,724.14 1624.97,717.54 1627.87,711.03 1630.77,704.67 1633.66,698.51 1636.56,692.57 1639.46,686.89 1642.36,681.49 1645.26,676.40 1648.15,671.62 1651.05,667.15 1653.95,663.01 1656.85,659.18 1659.75,655.66 1662.64,652.43 1665.54,649.49 1668.44,646.81 1671.34,644.38 1674.24,642.19 1677.13,640.20 1680.03,638.42 1682.93,636.82 1685.83,635.39 1688.72,634.11 1691.62,632.96 1694.52,631.94 1697.42,631.03 1700.32,630.22 1703.21,629.50 1706.11,628.86 1709.01,628.29 1711.91,627.78 1714.81,627.34 1717.70,626.94 1720.60,626.59 1723.50,626.28" fill="none" stroke="#000" stroke-width="1.6"/>
<line x1="1335.00" y1="848.18" x2="1335.00" y2="827.22" stroke="#000" stroke-width="1.6" />
<line x1="1327.50" y1="827.22" x2="1342.50" y2="827.22" stroke="#000" stroke-width="1.6" />
<line x1="1327.50" y1="848.18" x2="1342.50" y2="848.18" stroke="#000" stroke-width="1.6" />
<line x1="1402.50" y1="856.56" x2="1402.50" y2="835.60" stroke="#000" stroke-width="1.6" />
<line x1="1395.00" y1="835.60" x2="1410.00" y2="835.60" stroke="#000" stroke-width="1.6" />
<line x1="1395.00" y1="856.56" x2="1410.00" y2="856.56" stroke="#000" stroke-width="1.6" />
<line x1="1456.00" y1="860.75" x2="1456.00" y2="839.79" stroke="#000" stroke-width="1.6" />
<line x1="1448.50" y1="839.79" x2="1463.50" y2="839.79" stroke="#000" stroke-width="1.6" />
<line x1="1448.50" y1="860.75" x2="1463.50" y2="860.75" stroke="#000" stroke-width="1.6" />
<line x1="1509.50" y1="846.08" x2="1509.50" y2="833.50" stroke="#000" stroke-width="1.6" />
<line x1="1502.00" y1="833.50" x2="1517.00" y2="833.50" stroke="#000" stroke-width="1.6" />
<line x1="1502.00" y1="846.08" x2="1517.00" y2="846.08" stroke="#000" stroke-width="1.6" />
<line x1="1563.00" y1="840.84" x2="1563.00" y2="828.26" stroke="#000" stroke-width="1.6" />
<line x1="1555.50" y1="828.26" x2="1570.50" y2="828.26" stroke="#000" stroke-width="1.6" />
<line x1="1555.50" y1="840.84" x2="1570.50" y2="840.84" stroke="#000" stroke-width="1.6" />
<line x1="1616.50" y1="851.32" x2="1616.50" y2="830.36" stroke="#000" stroke-width="1.6" />
<line x1="1609.00" y1="830.36" x2="1624.00" y2="830.36" stroke="#000" stroke-width="1.6" />
<line x1="1609.00" y1="851.32" x2="1624.00" y2="851.32" stroke="#000" stroke-width="1.6" />
<line x1="1670.00" y1="865.99" x2="1670.00" y2="849.22" stroke="#000" stroke-width="1.6" />
<line x1="1662.50" y1="849.22" x2="1677.50" y2="849.22" stroke="#000" stroke-width="1.6" />
<line x1="1662.50" y1="865.99" x2="1677.50" y2="865.99" stroke="#000" stroke-width="1.6" />
<line x1="1723.50" y1="856.56" x2="1723.50" y2="831.41" stroke="#000" stroke-width="1.6" />
<line x1="1716.00" y1="831.41" x2="1731.00" y2="831.41" stroke="#000" stroke-width="1.6" />
<line x1="1716.00" y1="856.56" x2="1731.00" y2="856.56" stroke="#000" stroke-width="1.6" />
<circle cx="1335.00" cy="837.70" r="7.6" fill="#8dbdf3" stroke="#000" stroke-width="1.5" />
<circle cx="1402.50" cy="846.08" r="7.6" fill="#8dbdf3" stroke="#000" stroke-width="1.5" />
<circle cx="1456.00" cy="850.27" r="7.6" fill="#8dbdf3" stroke="#000" stroke-width="1.5" />
<circle cx="1509.50" cy="839.79" r="7.6" fill="#8dbdf3" stroke="#000" stroke-width="1.5" />
<circle cx="1563.00" cy="834.55" r="7.6" fill="#8dbdf3" stroke="#000" stroke-width="1.5" />
<circle cx="1616.50" cy="840.84" r="7.6" fill="#8dbdf3" stroke="#000" stroke-width="1.5" />
<circle cx="1670.00" cy="857.61" r="7.6" fill="#8dbdf3" stroke="#000" stroke-width="1.5" />
<circle cx="1723.50" cy="843.98" r="7.6" fill="#8dbdf3" stroke="#000" stroke-width="1.5" />
<line x1="1456.00" y1="848.18" x2="1456.00" y2="831.41" stroke="#000" stroke-width="1.6" />
<line x1="1448.50" y1="831.41" x2="1463.50" y2="831.41" stroke="#000" stroke-width="1.6" />
<line x1="1448.50" y1="848.18" x2="1463.50" y2="848.18" stroke="#000" stroke-width="1.6" />
<line x1="1563.00" y1="867.04" x2="1563.00" y2="804.16" stroke="#000" stroke-width="1.6" />
<line x1="1555.50" y1="804.16" x2="1570.50" y2="804.16" stroke="#000" stroke-width="1.6" />
<line x1="1555.50" y1="867.04" x2="1570.50" y2="867.04" stroke="#000" stroke-width="1.6" />
<line x1="1616.50" y1="839.79" x2="1616.50" y2="823.02" stroke="#000" stroke-width="1.6" />
<line x1="1609.00" y1="823.02" x2="1624.00" y2="823.02" stroke="#000" stroke-width="1.6" />
<line x1="1609.00" y1="839.79" x2="1624.00" y2="839.79" stroke="#000" stroke-width="1.6" />
<line x1="1670.00" y1="852.37" x2="1670.00" y2="831.41" stroke="#000" stroke-width="1.6" />
<line x1="1662.50" y1="831.41" x2="1677.50" y2="831.41" stroke="#000" stroke-width="1.6" />
<line x1="1662.50" y1="852.37" x2="1677.50" y2="852.37" stroke="#000" stroke-width="1.6" />
<circle cx="1402.50" cy="837.70" r="7.6" fill="#f4a9e4" stroke="#000" stroke-width="1.5" />
<circle cx="1456.00" cy="839.79" r="7.6" fill="#f4a9e4" stroke="#000" stroke-width="1.5" />
<circle cx="1509.50" cy="839.79" r="7.6" fill="#f4a9e4" stroke="#000" stroke-width="1.5" />
<circle cx="1563.00" cy="835.60" r="7.6" fill="#f4a9e4" stroke="#000" stroke-width="1.5" />
<circle cx="1616.50" cy="831.41" r="7.6" fill="#f4a9e4" stroke="#000" stroke-width="1.5" />
<circle cx="1670.00" cy="841.89" r="7.6" fill="#f4a9e4" stroke="#000" stroke-width="1.5" />
<circle cx="1723.50" cy="842.94" r="7.6" fill="#f4a9e4" stroke="#000" stroke-width="1.5" />
<line x1="1335.00" y1="850.27" x2="1335.00" y2="820.93" stroke="#000" stroke-width="1.6" />
<line x1="1327.50" y1="820.93" x2="1342.50" y2="820.93" stroke="#000" stroke-width="1.6" />
<line x1="1327.50" y1="850.27" x2="1342.50" y2="850.27" stroke="#000" stroke-width="1.6" />
<line x1="1402.50" y1="843.98" x2="1402.50" y2="823.02" stroke="#000" stroke-width="1.6" />
<line x1="1395.00" y1="823.02" x2="1410.00" y2="823.02" stroke="#000" stroke-width="1.6" />
<line x1="1395.00" y1="843.98" x2="1410.00" y2="843.98" stroke="#000" stroke-width="1.6" />
<line x1="1456.00" y1="848.18" x2="1456.00" y2="814.64" stroke="#000" stroke-width="1.6" />
<line x1="1448.50" y1="814.64" x2="1463.50" y2="814.64" stroke="#000" stroke-width="1.6" />
<line x1="1448.50" y1="848.18" x2="1463.50" y2="848.18" stroke="#000" stroke-width="1.6" />
<line x1="1509.50" y1="849.64" x2="1509.50" y2="832.88" stroke="#000" stroke-width="1.6" />
<line x1="1502.00" y1="832.88" x2="1517.00" y2="832.88" stroke="#000" stroke-width="1.6" />
<line x1="1502.00" y1="849.64" x2="1517.00" y2="849.64" stroke="#000" stroke-width="1.6" />
<line x1="1563.00" y1="840.63" x2="1563.00" y2="798.71" stroke="#000" stroke-width="1.6" />
<line x1="1555.50" y1="798.71" x2="1570.50" y2="798.71" stroke="#000" stroke-width="1.6" />
<line x1="1555.50" y1="840.63" x2="1570.50" y2="840.63" stroke="#000" stroke-width="1.6" />
<line x1="1616.50" y1="755.95" x2="1616.50" y2="722.42" stroke="#000" stroke-width="1.6" />
<line x1="1609.00" y1="722.42" x2="1624.00" y2="722.42" stroke="#000" stroke-width="1.6" />
<line x1="1609.00" y1="755.95" x2="1624.00" y2="755.95" stroke="#000" stroke-width="1.6" />
<line x1="1670.00" y1="661.63" x2="1670.00" y2="640.67" stroke="#000" stroke-width="1.6" />
<line x1="1662.50" y1="640.67" x2="1677.50" y2="640.67" stroke="#000" stroke-width="1.6" />
<line x1="1662.50" y1="661.63" x2="1677.50" y2="661.63" stroke="#000" stroke-width="1.6" />
<circle cx="1335.00" cy="835.60" r="7.6" fill="#ffffff" stroke="#000" stroke-width="1.5" />
<circle cx="1402.50" cy="833.50" r="7.6" fill="#ffffff" stroke="#000" stroke-width="1.5" />
<circle cx="1456.00" cy="831.41" r="7.6" fill="#ffffff" stroke="#000" stroke-width="1.5" />
<circle cx="1509.50" cy="841.26" r="7.6" fill="#ffffff" stroke="#000" stroke-width="1.5" />
<circle cx="1563.00" cy="819.67" r="7.6" fill="#ffffff" stroke="#000" stroke-width="1.5" />
<circle cx="1616.50" cy="739.18" r="7.6" fill="#ffffff" stroke="#000" stroke-width="1.5" />
<circle cx="1670.00" cy="651.15" r="7.6" fill="#ffffff" stroke="#000" stroke-width="1.5" />
<circle cx="1723.50" cy="626.00" r="7.6" fill="#ffffff" stroke="#000" stroke-width="1.5" />
<line x1="1344.80" y1="593.30" x2="1379.80" y2="593.30" stroke="#000" stroke-width="1.6" />
<circle cx="1362.30" cy="593.30" r="7.6" fill="#ffffff" stroke="#000" stroke-width="1.5" />
<text x="1398.90" y="602.30" font-size="26" fill="#000" font-weight="bold" textLength="151.8" lengthAdjust="spacingAndGlyphs" >5-HT<tspan font-size="17.5" dy="7">1A</tspan><tspan dy="-7">R-WT</tspan></text>
<line x1="1344.80" y1="644.80" x2="1379.80" y2="644.80" stroke="#000" stroke-width="1.6" />
<circle cx="1362.30" cy="644.80" r="7.6" fill="#8dbdf3" stroke="#000" stroke-width="1.5" />
<text x="1398.90" y="658.30" font-size="26" fill="#000" font-weight="bold" textLength="121.3" lengthAdjust="spacingAndGlyphs" >D116<tspan font-size="17.5" dy="-13">3.32</tspan><tspan dy="13">A</tspan></text>
<line x1="1344.80" y1="705.20" x2="1379.80" y2="705.20" stroke="#000" stroke-width="1.6" />
<circle cx="1362.30" cy="705.20" r="7.6" fill="#f4a9e4" stroke="#000" stroke-width="1.5" />
<text x="1398.90" y="718.70" font-size="26" fill="#000" font-weight="bold" textLength="121.3" lengthAdjust="spacingAndGlyphs" >C120<tspan font-size="17.5" dy="-13">3.36</tspan><tspan dy="13">A</tspan></text>
<line x1="1335.00" y1="1121.00" x2="1335.00" y2="1423.00" stroke="#000" stroke-width="1.8" />
<line x1="1327.00" y1="1373.00" x2="1335.00" y2="1373.00" stroke="#000" stroke-width="1.8" />
<text x="1323.50" y="1380.92" font-size="22" fill="#000" font-weight="bold" text-anchor="end" >0</text>
<line x1="1327.00" y1="1268.00" x2="1335.00" y2="1268.00" stroke="#000" stroke-width="1.8" />
<text x="1323.50" y="1275.92" font-size="22" fill="#000" font-weight="bold" text-anchor="end" >50</text>
<line x1="1327.00" y1="1163.00" x2="1335.00" y2="1163.00" stroke="#000" stroke-width="1.8" />
<text x="1323.50" y="1170.92" font-size="22" fill="#000" font-weight="bold" text-anchor="end" >100</text>
<line x1="1334.10" y1="1415.00" x2="1354.50" y2="1415.00" stroke="#000" stroke-width="1.8" />
<line x1="1354.50" y1="1408.00" x2="1354.50" y2="1422.00" stroke="#000" stroke-width="1.8" />
<line x1="1375.75" y1="1415.00" x2="1777.90" y2="1415.00" stroke="#000" stroke-width="1.8" />
<line x1="1375.75" y1="1408.00" x2="1375.75" y2="1422.00" stroke="#000" stroke-width="1.8" />
<text x="1335.00" y="1448.20" font-size="22" fill="#000" font-weight="bold" text-anchor="middle" >-11</text>
<line x1="1402.50" y1="1415.00" x2="1402.50" y2="1423.00" stroke="#000" stroke-width="1.8" />
<text x="1402.50" y="1448.20" font-size="22" fill="#000" font-weight="bold" text-anchor="middle" >-10</text>
<line x1="1456.00" y1="1415.00" x2="1456.00" y2="1423.00" stroke="#000" stroke-width="1.8" />
<text x="1456.00" y="1448.20" font-size="22" fill="#000" font-weight="bold" text-anchor="middle" >-9</text>
<line x1="1509.50" y1="1415.00" x2="1509.50" y2="1423.00" stroke="#000" stroke-width="1.8" />
<text x="1509.50" y="1448.20" font-size="22" fill="#000" font-weight="bold" text-anchor="middle" >-8</text>
<line x1="1563.00" y1="1415.00" x2="1563.00" y2="1423.00" stroke="#000" stroke-width="1.8" />
<text x="1563.00" y="1448.20" font-size="22" fill="#000" font-weight="bold" text-anchor="middle" >-7</text>
<line x1="1616.50" y1="1415.00" x2="1616.50" y2="1423.00" stroke="#000" stroke-width="1.8" />
<text x="1616.50" y="1448.20" font-size="22" fill="#000" font-weight="bold" text-anchor="middle" >-6</text>
<line x1="1670.00" y1="1415.00" x2="1670.00" y2="1423.00" stroke="#000" stroke-width="1.8" />
<text x="1670.00" y="1448.20" font-size="22" fill="#000" font-weight="bold" text-anchor="middle" >-5</text>
<line x1="1723.50" y1="1415.00" x2="1723.50" y2="1423.00" stroke="#000" stroke-width="1.8" />
<text x="1723.50" y="1448.20" font-size="22" fill="#000" font-weight="bold" text-anchor="middle" >-4</text>
<line x1="1777.00" y1="1415.00" x2="1777.00" y2="1423.00" stroke="#000" stroke-width="1.8" />
<text x="1777.00" y="1448.20" font-size="22" fill="#000" font-weight="bold" text-anchor="middle" >-3</text>
<text x="1564.00" y="1481.00" font-size="23" fill="#000" font-weight="bold" text-anchor="middle" textLength="246.0" lengthAdjust="spacingAndGlyphs" >Log [SEP-363856] (M)</text>
<text transform="translate(1243.50,1266.50) rotate(-90)" x="0" y="0" font-size="24" font-weight="bold" text-anchor="middle" textLength="110.5" lengthAdjust="spacingAndGlyphs">Response</text>
<text transform="translate(1273.00,1267.70) rotate(-90)" x="0" y="0" font-size="24" font-weight="bold" text-anchor="middle" textLength="87" lengthAdjust="spacingAndGlyphs">(%WT)</text>
<line x1="1335.00" y1="1367.75" x2="1354.50" y2="1367.75" stroke="#000" stroke-width="1.6" />
<polyline points="1375.75,1367.75 1378.65,1367.75 1381.55,1367.75 1384.44,1367.75 1387.34,1367.75 1390.24,1367.75 1393.14,1367.75 1396.04,1367.75 1398.93,1367.75 1401.83,1367.75 1404.73,1367.75 1407.63,1367.75 1410.53,1367.75 1413.42,1367.75 1416.32,1367.75 1419.22,1367.75 1422.12,1367.75 1425.01,1367.75 1427.91,1367.75 1430.81,1367.75 1433.71,1367.75 1436.61,1367.75 1439.50,1367.75 1442.40,1367.75 1445.30,1367.75 1448.20,1367.75 1451.10,1367.75 1453.99,1367.75 1456.89,1367.75 1459.79,1367.75 1462.69,1367.75 1465.59,1367.75 1468.48,1367.75 1471.38,1367.75 1474.28,1367.75 1477.18,1367.75 1480.08,1367.75 1482.97,1367.75 1485.87,1367.75 1488.77,1367.75 1491.67,1367.75 1494.56,1367.75 1497.46,1367.75 1500.36,1367.75 1503.26,1367.75 1506.16,1367.75 1509.05,1367.75 1511.95,1367.75 1514.85,1367.75 1517.75,1367.75 1520.65,1367.75 1523.54,1367.75 1526.44,1367.75 1529.34,1367.75 1532.24,1367.75 1535.14,1367.75 1538.03,1367.75 1540.93,1367.75 1543.83,1367.75 1546.73,1367.75 1549.62,1367.75 1552.52,1367.75 1555.42,1367.75 1558.32,1367.75 1561.22,1367.75 1564.11,1367.75 1567.01,1367.75 1569.91,1367.75 1572.81,1367.75 1575.71,1367.75 1578.60,1367.75 1581.50,1367.75 1584.40,1367.75 1587.30,1367.75 1590.20,1367.75 1593.09,1367.75 1595.99,1367.75 1598.89,1367.75 1601.79,1367.75 1604.69,1367.75 1607.58,1367.75 1610.48,1367.75 1613.38,1367.75 1616.28,1367.75 1619.17,1367.75 1622.07,1367.75 1624.97,1367.75 1627.87,1367.75 1630.77,1367.75 1633.66,1367.75 1636.56,1367.75 1639.46,1367.75 1642.36,1367.75 1645.26,1367.75 1648.15,1367.75 1651.05,1367.75 1653.95,1367.75 1656.85,1367.75 1659.75,1367.75 1662.64,1367.75 1665.54,1367.75 1668.44,1367.75 1671.34,1367.75 1674.24,1367.75 1677.13,1367.75 1680.03,1367.75 1682.93,1367.75 1685.83,1367.75 1688.72,1367.75 1691.62,1367.75 1694.52,1367.75 1697.42,1367.75 1700.32,1367.75 1703.21,1367.75 1706.11,1367.75 1709.01,1367.75 1711.91,1367.75 1714.81,1367.75 1717.70,1367.75 1720.60,1367.75 1723.50,1367.75" fill="none" stroke="#000" stroke-width="1.6"/>
<line x1="1335.00" y1="1368.17" x2="1354.50" y2="1368.17" stroke="#000" stroke-width="1.6" />
<polyline points="1375.75,1368.17 1378.65,1368.17 1381.55,1368.17 1384.44,1368.17 1387.34,1368.17 1390.24,1368.17 1393.14,1368.17 1396.04,1368.17 1398.93,1368.17 1401.83,1368.17 1404.73,1368.17 1407.63,1368.17 1410.53,1368.17 1413.42,1368.17 1416.32,1368.17 1419.22,1368.17 1422.12,1368.17 1425.01,1368.17 1427.91,1368.17 1430.81,1368.17 1433.71,1368.17 1436.61,1368.17 1439.50,1368.17 1442.40,1368.17 1445.30,1368.17 1448.20,1368.17 1451.10,1368.17 1453.99,1368.17 1456.89,1368.17 1459.79,1368.17 1462.69,1368.17 1465.59,1368.17 1468.48,1368.17 1471.38,1368.17 1474.28,1368.17 1477.18,1368.17 1480.08,1368.17 1482.97,1368.17 1485.87,1368.17 1488.77,1368.17 1491.67,1368.17 1494.56,1368.17 1497.46,1368.17 1500.36,1368.17 1503.26,1368.17 1506.16,1368.17 1509.05,1368.17 1511.95,1368.17 1514.85,1368.17 1517.75,1368.17 1520.65,1368.17 1523.54,1368.17 1526.44,1368.17 1529.34,1368.17 1532.24,1368.17 1535.14,1368.17 1538.03,1368.17 1540.93,1368.17 1543.83,1368.17 1546.73,1368.17 1549.62,1368.17 1552.52,1368.17 1555.42,1368.17 1558.32,1368.17 1561.22,1368.17 1564.11,1368.17 1567.01,1368.17 1569.91,1368.17 1572.81,1368.17 1575.71,1368.17 1578.60,1368.17 1581.50,1368.17 1584.40,1368.17 1587.30,1368.17 1590.20,1368.17 1593.09,1368.17 1595.99,1368.17 1598.89,1368.17 1601.79,1368.17 1604.69,1368.17 1607.58,1368.17 1610.48,1368.17 1613.38,1368.17 1616.28,1368.17 1619.17,1368.17 1622.07,1368.17 1624.97,1368.17 1627.87,1368.17 1630.77,1368.17 1633.66,1368.17 1636.56,1368.17 1639.46,1368.17 1642.36,1368.17 1645.26,1368.17 1648.15,1368.17 1651.05,1368.17 1653.95,1368.17 1656.85,1368.17 1659.75,1368.17 1662.64,1368.17 1665.54,1368.17 1668.44,1368.17 1671.34,1368.17 1674.24,1368.17 1677.13,1368.17 1680.03,1368.17 1682.93,1368.17 1685.83,1368.17 1688.72,1368.17 1691.62,1368.17 1694.52,1368.17 1697.42,1368.17 1700.32,1368.17 1703.21,1368.17 1706.11,1368.17 1709.01,1368.17 1711.91,1368.17 1714.81,1368.17 1717.70,1368.17 1720.60,1368.17 1723.50,1368.17" fill="none" stroke="#000" stroke-width="1.6"/>
<line x1="1335.00" y1="1375.10" x2="1354.50" y2="1375.10" stroke="#000" stroke-width="1.6" />
<polyline points="1375.75,1375.10 1378.65,1375.10 1381.55,1375.10 1384.44,1375.10 1387.34,1375.10 1390.24,1375.10 1393.14,1375.10 1396.04,1375.10 1398.93,1375.10 1401.83,1375.10 1404.73,1375.10 1407.63,1375.10 1410.53,1375.10 1413.42,1375.10 1416.32,1375.10 1419.22,1375.10 1422.12,1375.10 1425.01,1375.10 1427.91,1375.10 1430.81,1375.10 1433.71,1375.10 1436.61,1375.10 1439.50,1375.10 1442.40,1375.10 1445.30,1375.09 1448.20,1375.09 1451.10,1375.09 1453.99,1375.09 1456.89,1375.09 1459.79,1375.09 1462.69,1375.09 1465.59,1375.09 1468.48,1375.08 1471.38,1375.08 1474.28,1375.08 1477.18,1375.07 1480.08,1375.07 1482.97,1375.07 1485.87,1375.06 1488.77,1375.06 1491.67,1375.05 1494.56,1375.04 1497.46,1375.03 1500.36,1375.02 1503.26,1375.01 1506.16,1375.00 1509.05,1374.99 1511.95,1374.97 1514.85,1374.95 1517.75,1374.93 1520.65,1374.90 1523.54,1374.87 1526.44,1374.84 1529.34,1374.80 1532.24,1374.76 1535.14,1374.71 1538.03,1374.65 1540.93,1374.58 1543.83,1374.51 1546.73,1374.42 1549.62,1374.32 1552.52,1374.21 1555.42,1374.08 1558.32,1373.93 1561.22,1373.76 1564.11,1373.56 1567.01,1373.34 1569.91,1373.09 1572.81,1372.79 1575.71,1372.46 1578.60,1372.08 1581.50,1371.65 1584.40,1371.16 1587.30,1370.59 1590.20,1369.96 1593.09,1369.23 1595.99,1368.41 1598.89,1367.48 1601.79,1366.43 1604.69,1365.24 1607.58,1363.91 1610.48,1362.41 1613.38,1360.73 1616.28,1358.86 1619.17,1356.79 1622.07,1354.49 1624.97,1351.96 1627.87,1349.18 1630.77,1346.15 1633.66,1342.87 1636.56,1339.34 1639.46,1335.56 1642.36,1331.54 1645.26,1327.31 1648.15,1322.89 1651.05,1318.31 1653.95,1313.61 1656.85,1308.83 1659.75,1304.01 1662.64,1299.19 1665.54,1294.43 1668.44,1289.76 1671.34,1285.23 1674.24,1280.87 1677.13,1276.70 1680.03,1272.75 1682.93,1269.05 1685.83,1265.59 1688.72,1262.39 1691.62,1259.44 1694.52,1256.74 1697.42,1254.28 1700.32,1252.05 1703.21,1250.04 1706.11,1248.23 1709.01,1246.61 1711.91,1245.17 1714.81,1243.88 1717.70,1242.74 1720.60,1241.72 1723.50,1240.83" fill="none" stroke="#000" stroke-width="1.6"/>
<line x1="1335.00" y1="1370.90" x2="1354.50" y2="1370.90" stroke="#000" stroke-width="1.6" />
<polyline points="1375.75,1370.90 1378.65,1370.90 1381.55,1370.90 1384.44,1370.90 1387.34,1370.90 1390.24,1370.90 1393.14,1370.90 1396.04,1370.90 1398.93,1370.90 1401.83,1370.90 1404.73,1370.90 1407.63,1370.90 1410.53,1370.90 1413.42,1370.90 1416.32,1370.90 1419.22,1370.90 1422.12,1370.90 1425.01,1370.90 1427.91,1370.90 1430.81,1370.90 1433.71,1370.90 1436.61,1370.89 1439.50,1370.89 1442.40,1370.89 1445.30,1370.89 1448.20,1370.89 1451.10,1370.89 1453.99,1370.89 1456.89,1370.88 1459.79,1370.88 1462.69,1370.88 1465.59,1370.87 1468.48,1370.87 1471.38,1370.86 1474.28,1370.85 1477.18,1370.85 1480.08,1370.84 1482.97,1370.83 1485.87,1370.81 1488.77,1370.80 1491.67,1370.78 1494.56,1370.76 1497.46,1370.74 1500.36,1370.71 1503.26,1370.67 1506.16,1370.63 1509.05,1370.59 1511.95,1370.53 1514.85,1370.47 1517.75,1370.39 1520.65,1370.30 1523.54,1370.20 1526.44,1370.08 1529.34,1369.94 1532.24,1369.77 1535.14,1369.58 1538.03,1369.35 1540.93,1369.09 1543.83,1368.78 1546.73,1368.42 1549.62,1368.01 1552.52,1367.54 1555.42,1366.99 1558.32,1366.36 1561.22,1365.64 1564.11,1364.82 1567.01,1363.89 1569.91,1362.85 1572.81,1361.68 1575.71,1360.38 1578.60,1358.95 1581.50,1357.39 1584.40,1355.70 1587.30,1353.89 1590.20,1351.98 1593.09,1349.98 1595.99,1347.91 1598.89,1345.80 1601.79,1343.67 1604.69,1341.55 1607.58,1339.48 1610.48,1337.47 1613.38,1335.55 1616.28,1333.73 1619.17,1332.03 1622.07,1330.46 1624.97,1329.02 1627.87,1327.71 1630.77,1326.54 1633.66,1325.48 1636.56,1324.55 1639.46,1323.72 1642.36,1322.99 1645.26,1322.36 1648.15,1321.80 1651.05,1321.32 1653.95,1320.91 1656.85,1320.55 1659.75,1320.24 1662.64,1319.97 1665.54,1319.74 1668.44,1319.54 1671.34,1319.38 1674.24,1319.23 1677.13,1319.11 1680.03,1319.00 1682.93,1318.91 1685.83,1318.84 1688.72,1318.77 1691.62,1318.72 1694.52,1318.67 1697.42,1318.63 1700.32,1318.60 1703.21,1318.57 1706.11,1318.54 1709.01,1318.52 1711.91,1318.50 1714.81,1318.49 1717.70,1318.47 1720.60,1318.46 1723.50,1318.45" fill="none" stroke="#000" stroke-width="1.6"/>
<line x1="1335.00" y1="1375.10" x2="1354.50" y2="1375.10" stroke="#000" stroke-width="1.6" />
<polyline points="1375.75,1375.09 1378.65,1375.09 1381.55,1375.09 1384.44,1375.09 1387.34,1375.09 1390.24,1375.09 1393.14,1375.09 1396.04,1375.09 1398.93,1375.08 1401.83,1375.08 1404.73,1375.08 1407.63,1375.08 1410.53,1375.07 1413.42,1375.07 1416.32,1375.07 1419.22,1375.06 1422.12,1375.06 1425.01,1375.05 1427.91,1375.04 1430.81,1375.04 1433.71,1375.03 1436.61,1375.02 1439.50,1375.01 1442.40,1374.99 1445.30,1374.98 1448.20,1374.96 1451.10,1374.95 1453.99,1374.93 1456.89,1374.90 1459.79,1374.88 1462.69,1374.85 1465.59,1374.81 1468.48,1374.77 1471.38,1374.73 1474.28,1374.68 1477.18,1374.63 1480.08,1374.56 1482.97,1374.49 1485.87,1374.41 1488.77,1374.32 1491.67,1374.22 1494.56,1374.10 1497.46,1373.97 1500.36,1373.82 1503.26,1373.65 1506.16,1373.46 1509.05,1373.24 1511.95,1373.00 1514.85,1372.72 1517.75,1372.41 1520.65,1372.06 1523.54,1371.66 1526.44,1371.21 1529.34,1370.71 1532.24,1370.14 1535.14,1369.50 1538.03,1368.77 1540.93,1367.96 1543.83,1367.05 1546.73,1366.02 1549.62,1364.88 1552.52,1363.59 1555.42,1362.16 1558.32,1360.55 1561.22,1358.77 1564.11,1356.78 1567.01,1354.58 1569.91,1352.15 1572.81,1349.47 1575.71,1346.52 1578.60,1343.28 1581.50,1339.75 1584.40,1335.92 1587.30,1331.77 1590.20,1327.29 1593.09,1322.50 1595.99,1317.40 1598.89,1311.99 1601.79,1306.30 1604.69,1300.35 1607.58,1294.18 1610.48,1287.81 1613.38,1281.29 1616.28,1274.67 1619.17,1268.00 1622.07,1261.33 1624.97,1254.71 1627.87,1248.19 1630.77,1241.82 1633.66,1235.65 1636.56,1229.70 1639.46,1224.01 1642.36,1218.60 1645.26,1213.50 1648.15,1208.71 1651.05,1204.23 1653.95,1200.08 1656.85,1196.25 1659.75,1192.72 1662.64,1189.48 1665.54,1186.53 1668.44,1183.85 1671.34,1181.42 1674.24,1179.22 1677.13,1177.23 1680.03,1175.45 1682.93,1173.84 1685.83,1172.41 1688.72,1171.12 1691.62,1169.98 1694.52,1168.95 1697.42,1168.04 1700.32,1167.23 1703.21,1166.50 1706.11,1165.86 1709.01,1165.29 1711.91,1164.79 1714.81,1164.34 1717.70,1163.94 1720.60,1163.59 1723.50,1163.28" fill="none" stroke="#000" stroke-width="1.6"/>
<line x1="1402.50" y1="1362.50" x2="1402.50" y2="1341.50" stroke="#000" stroke-width="1.6" />
<line x1="1395.00" y1="1341.50" x2="1410.00" y2="1341.50" stroke="#000" stroke-width="1.6" />
<line x1="1395.00" y1="1362.50" x2="1410.00" y2="1362.50" stroke="#000" stroke-width="1.6" />
<circle cx="1402.50" cy="1352.00" r="7.6" fill="#bdb385" stroke="#000" stroke-width="1.5" />
<circle cx="1456.00" cy="1377.20" r="7.6" fill="#bdb385" stroke="#000" stroke-width="1.5" />
<circle cx="1509.50" cy="1355.15" r="7.6" fill="#bdb385" stroke="#000" stroke-width="1.5" />
<circle cx="1563.00" cy="1366.70" r="7.6" fill="#bdb385" stroke="#000" stroke-width="1.5" />
<circle cx="1616.50" cy="1373.00" r="7.6" fill="#bdb385" stroke="#000" stroke-width="1.5" />
<circle cx="1670.00" cy="1370.90" r="7.6" fill="#bdb385" stroke="#000" stroke-width="1.5" />
<circle cx="1723.50" cy="1354.10" r="7.6" fill="#bdb385" stroke="#000" stroke-width="1.5" />
<line x1="1670.00" y1="1373.42" x2="1670.00" y2="1352.42" stroke="#000" stroke-width="1.6" />
<line x1="1662.50" y1="1352.42" x2="1677.50" y2="1352.42" stroke="#000" stroke-width="1.6" />
<line x1="1662.50" y1="1373.42" x2="1677.50" y2="1373.42" stroke="#000" stroke-width="1.6" />
<circle cx="1402.50" cy="1358.30" r="7.6" fill="#8e86f2" stroke="#000" stroke-width="1.5" />
<circle cx="1456.00" cy="1377.20" r="7.6" fill="#8e86f2" stroke="#000" stroke-width="1.5" />
<circle cx="1509.50" cy="1366.70" r="7.6" fill="#8e86f2" stroke="#000" stroke-width="1.5" />
<circle cx="1563.00" cy="1368.80" r="7.6" fill="#8e86f2" stroke="#000" stroke-width="1.5" />
<circle cx="1616.50" cy="1370.06" r="7.6" fill="#8e86f2" stroke="#000" stroke-width="1.5" />
<circle cx="1670.00" cy="1362.92" r="7.6" fill="#8e86f2" stroke="#000" stroke-width="1.5" />
<circle cx="1723.50" cy="1370.90" r="7.6" fill="#8e86f2" stroke="#000" stroke-width="1.5" />
<line x1="1456.00" y1="1406.60" x2="1456.00" y2="1356.20" stroke="#000" stroke-width="1.6" />
<line x1="1448.50" y1="1356.20" x2="1463.50" y2="1356.20" stroke="#000" stroke-width="1.6" />
<line x1="1448.50" y1="1406.60" x2="1463.50" y2="1406.60" stroke="#000" stroke-width="1.6" />
<line x1="1509.50" y1="1419.20" x2="1509.50" y2="1368.80" stroke="#000" stroke-width="1.6" />
<line x1="1502.00" y1="1368.80" x2="1517.00" y2="1368.80" stroke="#000" stroke-width="1.6" />
<line x1="1502.00" y1="1419.20" x2="1517.00" y2="1419.20" stroke="#000" stroke-width="1.6" />
<line x1="1670.00" y1="1283.75" x2="1670.00" y2="1258.55" stroke="#000" stroke-width="1.6" />
<line x1="1662.50" y1="1258.55" x2="1677.50" y2="1258.55" stroke="#000" stroke-width="1.6" />
<line x1="1662.50" y1="1283.75" x2="1677.50" y2="1283.75" stroke="#000" stroke-width="1.6" />
<circle cx="1402.50" cy="1373.00" r="7.6" fill="#fdd9bd" stroke="#000" stroke-width="1.5" />
<circle cx="1456.00" cy="1381.40" r="7.6" fill="#fdd9bd" stroke="#000" stroke-width="1.5" />
<circle cx="1509.50" cy="1394.00" r="7.6" fill="#fdd9bd" stroke="#000" stroke-width="1.5" />
<circle cx="1563.00" cy="1370.90" r="7.6" fill="#fdd9bd" stroke="#000" stroke-width="1.5" />
<circle cx="1616.50" cy="1349.90" r="7.6" fill="#fdd9bd" stroke="#000" stroke-width="1.5" />
<circle cx="1670.00" cy="1271.15" r="7.6" fill="#fdd9bd" stroke="#000" stroke-width="1.5" />
<circle cx="1723.50" cy="1241.33" r="7.6" fill="#fdd9bd" stroke="#000" stroke-width="1.5" />
<line x1="1402.50" y1="1368.80" x2="1402.50" y2="1352.00" stroke="#000" stroke-width="1.6" />
<line x1="1395.00" y1="1352.00" x2="1410.00" y2="1352.00" stroke="#000" stroke-width="1.6" />
<line x1="1395.00" y1="1368.80" x2="1410.00" y2="1368.80" stroke="#000" stroke-width="1.6" />
<line x1="1563.00" y1="1375.10" x2="1563.00" y2="1362.50" stroke="#000" stroke-width="1.6" />
<line x1="1555.50" y1="1362.50" x2="1570.50" y2="1362.50" stroke="#000" stroke-width="1.6" />
<line x1="1555.50" y1="1375.10" x2="1570.50" y2="1375.10" stroke="#000" stroke-width="1.6" />
<line x1="1723.50" y1="1324.70" x2="1723.50" y2="1307.90" stroke="#000" stroke-width="1.6" />
<line x1="1716.00" y1="1307.90" x2="1731.00" y2="1307.90" stroke="#000" stroke-width="1.6" />
<line x1="1716.00" y1="1324.70" x2="1731.00" y2="1324.70" stroke="#000" stroke-width="1.6" />
<circle cx="1402.50" cy="1360.40" r="7.6" fill="#8dbdf3" stroke="#000" stroke-width="1.5" />
<circle cx="1456.00" cy="1379.30" r="7.6" fill="#8dbdf3" stroke="#000" stroke-width="1.5" />
<circle cx="1509.50" cy="1368.80" r="7.6" fill="#8dbdf3" stroke="#000" stroke-width="1.5" />
<circle cx="1563.00" cy="1368.80" r="7.6" fill="#8dbdf3" stroke="#000" stroke-width="1.5" />
<circle cx="1616.50" cy="1331.00" r="7.6" fill="#8dbdf3" stroke="#000" stroke-width="1.5" />
<circle cx="1670.00" cy="1321.55" r="7.6" fill="#8dbdf3" stroke="#000" stroke-width="1.5" />
<circle cx="1723.50" cy="1316.30" r="7.6" fill="#8dbdf3" stroke="#000" stroke-width="1.5" />
<line x1="1335.00" y1="1387.70" x2="1335.00" y2="1358.30" stroke="#000" stroke-width="1.6" />
<line x1="1327.50" y1="1358.30" x2="1342.50" y2="1358.30" stroke="#000" stroke-width="1.6" />
<line x1="1327.50" y1="1387.70" x2="1342.50" y2="1387.70" stroke="#000" stroke-width="1.6" />
<line x1="1402.50" y1="1381.40" x2="1402.50" y2="1360.40" stroke="#000" stroke-width="1.6" />
<line x1="1395.00" y1="1360.40" x2="1410.00" y2="1360.40" stroke="#000" stroke-width="1.6" />
<line x1="1395.00" y1="1381.40" x2="1410.00" y2="1381.40" stroke="#000" stroke-width="1.6" />
<line x1="1456.00" y1="1385.60" x2="1456.00" y2="1352.00" stroke="#000" stroke-width="1.6" />
<line x1="1448.50" y1="1352.00" x2="1463.50" y2="1352.00" stroke="#000" stroke-width="1.6" />
<line x1="1448.50" y1="1385.60" x2="1463.50" y2="1385.60" stroke="#000" stroke-width="1.6" />
<line x1="1509.50" y1="1387.07" x2="1509.50" y2="1370.27" stroke="#000" stroke-width="1.6" />
<line x1="1502.00" y1="1370.27" x2="1517.00" y2="1370.27" stroke="#000" stroke-width="1.6" />
<line x1="1502.00" y1="1387.07" x2="1517.00" y2="1387.07" stroke="#000" stroke-width="1.6" />
<line x1="1563.00" y1="1378.04" x2="1563.00" y2="1336.04" stroke="#000" stroke-width="1.6" />
<line x1="1555.50" y1="1336.04" x2="1570.50" y2="1336.04" stroke="#000" stroke-width="1.6" />
<line x1="1555.50" y1="1378.04" x2="1570.50" y2="1378.04" stroke="#000" stroke-width="1.6" />
<line x1="1616.50" y1="1293.20" x2="1616.50" y2="1259.60" stroke="#000" stroke-width="1.6" />
<line x1="1609.00" y1="1259.60" x2="1624.00" y2="1259.60" stroke="#000" stroke-width="1.6" />
<line x1="1609.00" y1="1293.20" x2="1624.00" y2="1293.20" stroke="#000" stroke-width="1.6" />
<line x1="1670.00" y1="1198.70" x2="1670.00" y2="1177.70" stroke="#000" stroke-width="1.6" />
<line x1="1662.50" y1="1177.70" x2="1677.50" y2="1177.70" stroke="#000" stroke-width="1.6" />
<line x1="1662.50" y1="1198.70" x2="1677.50" y2="1198.70" stroke="#000" stroke-width="1.6" />
<circle cx="1335.00" cy="1373.00" r="7.6" fill="#ffffff" stroke="#000" stroke-width="1.5" />
<circle cx="1402.50" cy="1370.90" r="7.6" fill="#ffffff" stroke="#000" stroke-width="1.5" />
<circle cx="1456.00" cy="1368.80" r="7.6" fill="#ffffff" stroke="#000" stroke-width="1.5" />
<circle cx="1509.50" cy="1378.67" r="7.6" fill="#ffffff" stroke="#000" stroke-width="1.5" />
<circle cx="1563.00" cy="1357.04" r="7.6" fill="#ffffff" stroke="#000" stroke-width="1.5" />
<circle cx="1616.50" cy="1276.40" r="7.6" fill="#ffffff" stroke="#000" stroke-width="1.5" />
<circle cx="1670.00" cy="1188.20" r="7.6" fill="#ffffff" stroke="#000" stroke-width="1.5" />
<circle cx="1723.50" cy="1163.00" r="7.6" fill="#ffffff" stroke="#000" stroke-width="1.5" />
<line x1="1344.80" y1="1090.40" x2="1379.80" y2="1090.40" stroke="#000" stroke-width="1.6" />
<circle cx="1362.30" cy="1090.40" r="7.6" fill="#ffffff" stroke="#000" stroke-width="1.5" />
<text x="1398.90" y="1099.40" font-size="26" fill="#000" font-weight="bold" textLength="151.8" lengthAdjust="spacingAndGlyphs" >5-HT<tspan font-size="17.5" dy="7">1A</tspan><tspan dy="-7">R-WT</tspan></text>
<line x1="1344.80" y1="1140.70" x2="1379.80" y2="1140.70" stroke="#000" stroke-width="1.6" />
<circle cx="1362.30" cy="1140.70" r="7.6" fill="#8dbdf3" stroke="#000" stroke-width="1.5" />
<text x="1398.90" y="1154.20" font-size="26" fill="#000" font-weight="bold" textLength="119.0" lengthAdjust="spacingAndGlyphs" >V117<tspan font-size="17.5" dy="-13">3.33</tspan><tspan dy="13">A</tspan></text>
<line x1="1344.80" y1="1196.00" x2="1379.80" y2="1196.00" stroke="#000" stroke-width="1.6" />
<circle cx="1362.30" cy="1196.00" r="7.6" fill="#8e86f2" stroke="#000" stroke-width="1.5" />
<text x="1398.90" y="1209.50" font-size="26" fill="#000" font-weight="bold" textLength="130.2" lengthAdjust="spacingAndGlyphs" >W358<tspan font-size="17.5" dy="-13">6.48</tspan><tspan dy="13">A</tspan></text>
<line x1="1344.80" y1="1250.00" x2="1379.80" y2="1250.00" stroke="#000" stroke-width="1.6" />
<circle cx="1362.30" cy="1250.00" r="7.6" fill="#bdb385" stroke="#000" stroke-width="1.5" />
<text x="1398.90" y="1263.50" font-size="26" fill="#000" font-weight="bold" textLength="119.0" lengthAdjust="spacingAndGlyphs" >F361<tspan font-size="17.5" dy="-13">6.51</tspan><tspan dy="13">A</tspan></text>
<line x1="1344.80" y1="1303.00" x2="1379.80" y2="1303.00" stroke="#000" stroke-width="1.6" />
<circle cx="1362.30" cy="1303.00" r="7.6" fill="#fdd9bd" stroke="#000" stroke-width="1.5" />
<text x="1398.90" y="1316.50" font-size="26" fill="#000" font-weight="bold" textLength="119.0" lengthAdjust="spacingAndGlyphs" >F362<tspan font-size="17.5" dy="-13">6.52</tspan><tspan dy="13">A</tspan></text>
<line x1="711.90" y1="1607.72" x2="711.90" y2="1928.24" stroke="#000" stroke-width="1.8" />
<line x1="703.90" y1="1896.20" x2="711.90" y2="1896.20" stroke="#000" stroke-width="1.8" />
<text x="700.90" y="1903.76" font-size="21" fill="#000" font-weight="bold" text-anchor="end" >0</text>
<line x1="703.90" y1="1776.00" x2="711.90" y2="1776.00" stroke="#000" stroke-width="1.8" />
<text x="700.90" y="1783.56" font-size="21" fill="#000" font-weight="bold" text-anchor="end" >50</text>
<line x1="703.90" y1="1655.80" x2="711.90" y2="1655.80" stroke="#000" stroke-width="1.8" />
<text x="700.90" y="1663.36" font-size="21" fill="#000" font-weight="bold" text-anchor="end" >100</text>
<line x1="711.00" y1="1920.24" x2="738.50" y2="1920.24" stroke="#000" stroke-width="1.8" />
<line x1="738.50" y1="1913.24" x2="738.50" y2="1927.24" stroke="#000" stroke-width="1.8" />
<line x1="761.47" y1="1920.24" x2="1181.39" y2="1920.24" stroke="#000" stroke-width="1.8" />
<line x1="761.47" y1="1913.24" x2="761.47" y2="1927.24" stroke="#000" stroke-width="1.8" />
<text x="711.90" y="1953.24" font-size="22" fill="#000" font-weight="bold" text-anchor="middle" >0</text>
<line x1="789.40" y1="1920.24" x2="789.40" y2="1928.24" stroke="#000" stroke-width="1.8" />
<text x="789.40" y="1953.24" font-size="22" fill="#000" font-weight="bold" text-anchor="middle" >-10</text>
<line x1="845.27" y1="1920.24" x2="845.27" y2="1928.24" stroke="#000" stroke-width="1.8" />
<text x="845.27" y="1953.24" font-size="22" fill="#000" font-weight="bold" text-anchor="middle" >-9</text>
<line x1="901.14" y1="1920.24" x2="901.14" y2="1928.24" stroke="#000" stroke-width="1.8" />
<text x="901.14" y="1953.24" font-size="22" fill="#000" font-weight="bold" text-anchor="middle" >-8</text>
<line x1="957.01" y1="1920.24" x2="957.01" y2="1928.24" stroke="#000" stroke-width="1.8" />
<text x="957.01" y="1953.24" font-size="22" fill="#000" font-weight="bold" text-anchor="middle" >-7</text>
<line x1="1012.88" y1="1920.24" x2="1012.88" y2="1928.24" stroke="#000" stroke-width="1.8" />
<text x="1012.88" y="1953.24" font-size="22" fill="#000" font-weight="bold" text-anchor="middle" >-6</text>
<line x1="1068.75" y1="1920.24" x2="1068.75" y2="1928.24" stroke="#000" stroke-width="1.8" />
<text x="1068.75" y="1953.24" font-size="22" fill="#000" font-weight="bold" text-anchor="middle" >-5</text>
<line x1="1124.62" y1="1920.24" x2="1124.62" y2="1928.24" stroke="#000" stroke-width="1.8" />
<text x="1124.62" y="1953.24" font-size="22" fill="#000" font-weight="bold" text-anchor="middle" >-4</text>
<line x1="1180.49" y1="1920.24" x2="1180.49" y2="1928.24" stroke="#000" stroke-width="1.8" />
<text x="1180.49" y="1953.24" font-size="22" fill="#000" font-weight="bold" text-anchor="middle" >-3</text>
<text x="947.00" y="1990.00" font-size="23" fill="#000" font-weight="bold" text-anchor="middle" textLength="263.5" lengthAdjust="spacingAndGlyphs" >Log [SEP-363856] (M)</text>
<text transform="translate(639.70,1764.00) rotate(-90)" x="0" y="0" font-size="25" font-weight="bold" text-anchor="middle" textLength="119" lengthAdjust="spacingAndGlyphs">Response</text>
<text transform="translate(671.50,1763.00) rotate(-90)" x="0" y="0" font-size="25" font-weight="bold" text-anchor="middle" textLength="95" lengthAdjust="spacingAndGlyphs">(% WT)</text>
<line x1="711.90" y1="1897.16" x2="738.50" y2="1897.16" stroke="#000" stroke-width="1.6" />
<polyline points="761.47,1897.16 764.49,1897.16 767.52,1897.16 770.54,1897.16 773.57,1897.16 776.60,1897.16 779.62,1897.16 782.65,1897.16 785.68,1897.16 788.70,1897.16 791.73,1897.16 794.75,1897.16 797.78,1897.16 800.81,1897.16 803.83,1897.16 806.86,1897.16 809.89,1897.16 812.91,1897.16 815.94,1897.16 818.96,1897.16 821.99,1897.16 825.02,1897.16 828.04,1897.16 831.07,1897.16 834.10,1897.16 837.12,1897.16 840.15,1897.16 843.17,1897.16 846.20,1897.16 849.23,1897.16 852.25,1897.16 855.28,1897.16 858.31,1897.16 861.33,1897.16 864.36,1897.16 867.39,1897.16 870.41,1897.16 873.44,1897.16 876.46,1897.16 879.49,1897.16 882.52,1897.16 885.54,1897.16 888.57,1897.16 891.60,1897.16 894.62,1897.16 897.65,1897.16 900.67,1897.16 903.70,1897.16 906.73,1897.16 909.75,1897.16 912.78,1897.16 915.81,1897.16 918.83,1897.16 921.86,1897.16 924.88,1897.16 927.91,1897.16 930.94,1897.16 933.96,1897.16 936.99,1897.16 940.02,1897.16 943.04,1897.16 946.07,1897.16 949.10,1897.16 952.12,1897.16 955.15,1897.16 958.17,1897.16 961.20,1897.16 964.23,1897.16 967.25,1897.16 970.28,1897.16 973.31,1897.16 976.33,1897.16 979.36,1897.16 982.38,1897.16 985.41,1897.16 988.44,1897.16 991.46,1897.16 994.49,1897.16 997.52,1897.16 1000.54,1897.16 1003.57,1897.16 1006.59,1897.16 1009.62,1897.16 1012.65,1897.16 1015.67,1897.16 1018.70,1897.16 1021.73,1897.16 1024.75,1897.16 1027.78,1897.16 1030.80,1897.16 1033.83,1897.16 1036.86,1897.16 1039.88,1897.16 1042.91,1897.16 1045.94,1897.16 1048.96,1897.16 1051.99,1897.16 1055.02,1897.16 1058.04,1897.16 1061.07,1897.16 1064.09,1897.16 1067.12,1897.16 1070.15,1897.16 1073.17,1897.16 1076.20,1897.16 1079.23,1897.16 1082.25,1897.16 1085.28,1897.16 1088.30,1897.16 1091.33,1897.16 1094.36,1897.16 1097.38,1897.16 1100.41,1897.16 1103.44,1897.16 1106.46,1897.16 1109.49,1897.16 1112.51,1897.16 1115.54,1897.16 1118.57,1897.16 1121.59,1897.16 1124.62,1897.16" fill="none" stroke="#000" stroke-width="1.6"/>
<line x1="711.90" y1="1899.81" x2="738.50" y2="1899.81" stroke="#000" stroke-width="1.6" />
<polyline points="761.47,1899.81 764.49,1899.81 767.52,1899.81 770.54,1899.80 773.57,1899.80 776.60,1899.80 779.62,1899.80 782.65,1899.80 785.68,1899.80 788.70,1899.80 791.73,1899.80 794.75,1899.80 797.78,1899.80 800.81,1899.80 803.83,1899.80 806.86,1899.80 809.89,1899.79 812.91,1899.79 815.94,1899.79 818.96,1899.79 821.99,1899.78 825.02,1899.78 828.04,1899.77 831.07,1899.76 834.10,1899.76 837.12,1899.74 840.15,1899.73 843.17,1899.72 846.20,1899.70 849.23,1899.68 852.25,1899.65 855.28,1899.62 858.31,1899.58 861.33,1899.53 864.36,1899.48 867.39,1899.41 870.41,1899.33 873.44,1899.24 876.46,1899.12 879.49,1898.98 882.52,1898.82 885.54,1898.62 888.57,1898.39 891.60,1898.11 894.62,1897.78 897.65,1897.39 900.67,1896.93 903.70,1896.40 906.73,1895.77 909.75,1895.05 912.78,1894.23 915.81,1893.29 918.83,1892.23 921.86,1891.05 924.88,1889.75 927.91,1888.34 930.94,1886.83 933.96,1885.24 936.99,1883.59 940.02,1881.91 943.04,1880.22 946.07,1878.57 949.10,1876.97 952.12,1875.44 955.15,1874.01 958.17,1872.70 961.20,1871.50 964.23,1870.42 967.25,1869.46 970.28,1868.62 973.31,1867.88 976.33,1867.25 979.36,1866.70 982.38,1866.23 985.41,1865.83 988.44,1865.49 991.46,1865.21 994.49,1864.96 997.52,1864.76 1000.54,1864.59 1003.57,1864.45 1006.59,1864.33 1009.62,1864.23 1012.65,1864.15 1015.67,1864.08 1018.70,1864.03 1021.73,1863.98 1024.75,1863.94 1027.78,1863.91 1030.80,1863.88 1033.83,1863.86 1036.86,1863.84 1039.88,1863.82 1042.91,1863.81 1045.94,1863.80 1048.96,1863.79 1051.99,1863.78 1055.02,1863.78 1058.04,1863.77 1061.07,1863.77 1064.09,1863.76 1067.12,1863.76 1070.15,1863.76 1073.17,1863.76 1076.20,1863.75 1079.23,1863.75 1082.25,1863.75 1085.28,1863.75 1088.30,1863.75 1091.33,1863.75 1094.36,1863.75 1097.38,1863.75 1100.41,1863.75 1103.44,1863.75 1106.46,1863.75 1109.49,1863.75 1112.51,1863.75 1115.54,1863.75 1118.57,1863.75 1121.59,1863.75 1124.62,1863.75" fill="none" stroke="#000" stroke-width="1.6"/>
<line x1="711.90" y1="1893.80" x2="738.50" y2="1893.80" stroke="#000" stroke-width="1.6" />
<polyline points="761.47,1893.75 764.49,1893.74 767.52,1893.74 770.54,1893.73 773.57,1893.72 776.60,1893.71 779.62,1893.70 782.65,1893.69 785.68,1893.67 788.70,1893.66 791.73,1893.64 794.75,1893.62 797.78,1893.60 800.81,1893.58 803.83,1893.55 806.86,1893.52 809.89,1893.48 812.91,1893.44 815.94,1893.40 818.96,1893.35 821.99,1893.30 825.02,1893.23 828.04,1893.16 831.07,1893.08 834.10,1892.99 837.12,1892.89 840.15,1892.78 843.17,1892.65 846.20,1892.51 849.23,1892.35 852.25,1892.17 855.28,1891.96 858.31,1891.73 861.33,1891.48 864.36,1891.19 867.39,1890.86 870.41,1890.50 873.44,1890.09 876.46,1889.63 879.49,1889.12 882.52,1888.55 885.54,1887.90 888.57,1887.18 891.60,1886.37 894.62,1885.47 897.65,1884.47 900.67,1883.35 903.70,1882.10 906.73,1880.70 909.75,1879.16 912.78,1877.44 915.81,1875.54 918.83,1873.45 921.86,1871.13 924.88,1868.58 927.91,1865.78 930.94,1862.72 933.96,1859.37 936.99,1855.74 940.02,1851.79 943.04,1847.54 946.07,1842.96 949.10,1838.06 952.12,1832.85 955.15,1827.32 958.17,1821.50 961.20,1815.40 964.23,1809.05 967.25,1802.48 970.28,1795.73 973.31,1788.83 976.33,1781.84 979.36,1774.80 982.38,1767.76 985.41,1760.76 988.44,1753.87 991.46,1747.11 994.49,1740.54 997.52,1734.19 1000.54,1728.10 1003.57,1722.27 1006.59,1716.75 1009.62,1711.53 1012.65,1706.64 1015.67,1702.06 1018.70,1697.80 1021.73,1693.86 1024.75,1690.22 1027.78,1686.88 1030.80,1683.81 1033.83,1681.02 1036.86,1678.47 1039.88,1676.15 1042.91,1674.05 1045.94,1672.15 1048.96,1670.44 1051.99,1668.89 1055.02,1667.50 1058.04,1666.25 1061.07,1665.13 1064.09,1664.12 1067.12,1663.22 1070.15,1662.42 1073.17,1661.69 1076.20,1661.05 1079.23,1660.48 1082.25,1659.96 1085.28,1659.50 1088.30,1659.10 1091.33,1658.73 1094.36,1658.41 1097.38,1658.12 1100.41,1657.86 1103.44,1657.63 1106.46,1657.43 1109.49,1657.25 1112.51,1657.09 1115.54,1656.95 1118.57,1656.82 1121.59,1656.70 1124.62,1656.60" fill="none" stroke="#000" stroke-width="1.6"/>
<circle cx="789.40" cy="1895.00" r="7.6" fill="#8dbdf3" stroke="#000" stroke-width="1.5" />
<circle cx="901.14" cy="1897.40" r="7.6" fill="#8dbdf3" stroke="#000" stroke-width="1.5" />
<circle cx="957.01" cy="1899.81" r="7.6" fill="#8dbdf3" stroke="#000" stroke-width="1.5" />
<circle cx="1012.88" cy="1895.00" r="7.6" fill="#8dbdf3" stroke="#000" stroke-width="1.5" />
<circle cx="1068.75" cy="1895.00" r="7.6" fill="#8dbdf3" stroke="#000" stroke-width="1.5" />
<circle cx="1124.62" cy="1896.20" r="7.6" fill="#8dbdf3" stroke="#000" stroke-width="1.5" />
<line x1="957.01" y1="1879.37" x2="957.01" y2="1864.95" stroke="#000" stroke-width="1.6" />
<line x1="949.51" y1="1864.95" x2="964.51" y2="1864.95" stroke="#000" stroke-width="1.6" />
<line x1="949.51" y1="1879.37" x2="964.51" y2="1879.37" stroke="#000" stroke-width="1.6" />
<circle cx="845.27" cy="1896.20" r="7.6" fill="#f4a9e4" stroke="#000" stroke-width="1.5" />
<circle cx="957.01" cy="1872.16" r="7.6" fill="#f4a9e4" stroke="#000" stroke-width="1.5" />
<circle cx="1012.88" cy="1874.56" r="7.6" fill="#f4a9e4" stroke="#000" stroke-width="1.5" />
<circle cx="1068.75" cy="1861.34" r="7.6" fill="#f4a9e4" stroke="#000" stroke-width="1.5" />
<circle cx="1124.62" cy="1860.14" r="7.6" fill="#f4a9e4" stroke="#000" stroke-width="1.5" />
<circle cx="711.90" cy="1896.20" r="7.6" fill="#ffffff" stroke="#000" stroke-width="1.5" />
<circle cx="789.40" cy="1907.98" r="7.6" fill="#ffffff" stroke="#000" stroke-width="1.5" />
<circle cx="845.27" cy="1887.06" r="7.6" fill="#ffffff" stroke="#000" stroke-width="1.5" />
<circle cx="901.14" cy="1876.01" r="7.6" fill="#ffffff" stroke="#000" stroke-width="1.5" />
<circle cx="957.01" cy="1815.67" r="7.6" fill="#ffffff" stroke="#000" stroke-width="1.5" />
<circle cx="1012.88" cy="1711.09" r="7.6" fill="#ffffff" stroke="#000" stroke-width="1.5" />
<circle cx="1068.75" cy="1659.41" r="7.6" fill="#ffffff" stroke="#000" stroke-width="1.5" />
<circle cx="1124.62" cy="1655.80" r="7.6" fill="#ffffff" stroke="#000" stroke-width="1.5" />
<line x1="735.70" y1="1610.80" x2="770.70" y2="1610.80" stroke="#000" stroke-width="1.6" />
<circle cx="753.20" cy="1610.80" r="7.6" fill="#ffffff" stroke="#000" stroke-width="1.5" />
<text x="789.00" y="1619.80" font-size="26" fill="#000" font-weight="bold" textLength="146.3" lengthAdjust="spacingAndGlyphs" >hTAAR1-WT</text>
<line x1="735.70" y1="1659.50" x2="770.70" y2="1659.50" stroke="#000" stroke-width="1.6" />
<circle cx="753.20" cy="1659.50" r="7.6" fill="#8dbdf3" stroke="#000" stroke-width="1.5" />
<text x="789.00" y="1673.00" font-size="26" fill="#000" font-weight="bold" textLength="124.8" lengthAdjust="spacingAndGlyphs" >F186<tspan font-size="17.5" dy="-13">ECL2</tspan><tspan dy="13">A</tspan></text>
<line x1="735.70" y1="1715.00" x2="770.70" y2="1715.00" stroke="#000" stroke-width="1.6" />
<circle cx="753.20" cy="1715.00" r="7.6" fill="#f4a9e4" stroke="#000" stroke-width="1.5" />
<text x="789.00" y="1728.50" font-size="26" fill="#000" font-weight="bold" textLength="122.2" lengthAdjust="spacingAndGlyphs" >F186<tspan font-size="17.5" dy="-13">ECL2</tspan><tspan dy="13">L</tspan></text>
<line x1="1325.70" y1="1599.80" x2="1325.70" y2="1921.10" stroke="#000" stroke-width="1.8" />
<line x1="1317.70" y1="1889.00" x2="1325.70" y2="1889.00" stroke="#000" stroke-width="1.8" />
<text x="1314.70" y="1896.56" font-size="21" fill="#000" font-weight="bold" text-anchor="end" >0</text>
<line x1="1317.70" y1="1768.50" x2="1325.70" y2="1768.50" stroke="#000" stroke-width="1.8" />
<text x="1314.70" y="1776.06" font-size="21" fill="#000" font-weight="bold" text-anchor="end" >50</text>
<line x1="1317.70" y1="1648.00" x2="1325.70" y2="1648.00" stroke="#000" stroke-width="1.8" />
<text x="1314.70" y="1655.56" font-size="21" fill="#000" font-weight="bold" text-anchor="end" >100</text>
<line x1="1324.80" y1="1913.10" x2="1352.20" y2="1913.10" stroke="#000" stroke-width="1.8" />
<line x1="1352.20" y1="1906.10" x2="1352.20" y2="1920.10" stroke="#000" stroke-width="1.8" />
<line x1="1375.31" y1="1913.10" x2="1794.63" y2="1913.10" stroke="#000" stroke-width="1.8" />
<line x1="1375.31" y1="1906.10" x2="1375.31" y2="1920.10" stroke="#000" stroke-width="1.8" />
<text x="1325.70" y="1945.10" font-size="22" fill="#000" font-weight="bold" text-anchor="middle" >0</text>
<line x1="1403.20" y1="1913.10" x2="1403.20" y2="1921.10" stroke="#000" stroke-width="1.8" />
<text x="1403.20" y="1945.10" font-size="22" fill="#000" font-weight="bold" text-anchor="middle" >-10</text>
<line x1="1458.99" y1="1913.10" x2="1458.99" y2="1921.10" stroke="#000" stroke-width="1.8" />
<text x="1458.99" y="1945.10" font-size="22" fill="#000" font-weight="bold" text-anchor="middle" >-9</text>
<line x1="1514.78" y1="1913.10" x2="1514.78" y2="1921.10" stroke="#000" stroke-width="1.8" />
<text x="1514.78" y="1945.10" font-size="22" fill="#000" font-weight="bold" text-anchor="middle" >-8</text>
<line x1="1570.57" y1="1913.10" x2="1570.57" y2="1921.10" stroke="#000" stroke-width="1.8" />
<text x="1570.57" y="1945.10" font-size="22" fill="#000" font-weight="bold" text-anchor="middle" >-7</text>
<line x1="1626.36" y1="1913.10" x2="1626.36" y2="1921.10" stroke="#000" stroke-width="1.8" />
<text x="1626.36" y="1945.10" font-size="22" fill="#000" font-weight="bold" text-anchor="middle" >-6</text>
<line x1="1682.15" y1="1913.10" x2="1682.15" y2="1921.10" stroke="#000" stroke-width="1.8" />
<text x="1682.15" y="1945.10" font-size="22" fill="#000" font-weight="bold" text-anchor="middle" >-5</text>
<line x1="1737.94" y1="1913.10" x2="1737.94" y2="1921.10" stroke="#000" stroke-width="1.8" />
<text x="1737.94" y="1945.10" font-size="22" fill="#000" font-weight="bold" text-anchor="middle" >-4</text>
<line x1="1793.73" y1="1913.10" x2="1793.73" y2="1921.10" stroke="#000" stroke-width="1.8" />
<text x="1793.73" y="1945.10" font-size="22" fill="#000" font-weight="bold" text-anchor="middle" >-3</text>
<text x="1560.00" y="1983.00" font-size="23" fill="#000" font-weight="bold" text-anchor="middle" textLength="263.5" lengthAdjust="spacingAndGlyphs" >Log [SEP-363856] (M)</text>
<text transform="translate(1237.00,1756.00) rotate(-90)" x="0" y="0" font-size="25" font-weight="bold" text-anchor="middle" textLength="120" lengthAdjust="spacingAndGlyphs">Response</text>
<text transform="translate(1267.50,1756.00) rotate(-90)" x="0" y="0" font-size="25" font-weight="bold" text-anchor="middle" textLength="92" lengthAdjust="spacingAndGlyphs">(% WT)</text>
<line x1="1325.70" y1="1889.00" x2="1352.20" y2="1889.00" stroke="#000" stroke-width="1.6" />
<polyline points="1375.31,1889.00 1378.33,1889.00 1381.35,1889.00 1384.37,1889.00 1387.39,1889.00 1390.41,1889.00 1393.44,1889.00 1396.46,1889.00 1399.48,1889.00 1402.50,1889.00 1405.52,1889.00 1408.55,1889.00 1411.57,1889.00 1414.59,1889.00 1417.61,1889.00 1420.63,1889.00 1423.66,1889.00 1426.68,1889.00 1429.70,1889.00 1432.72,1889.00 1435.74,1889.00 1438.77,1889.00 1441.79,1889.00 1444.81,1889.00 1447.83,1889.00 1450.85,1889.00 1453.88,1888.99 1456.90,1888.99 1459.92,1888.99 1462.94,1888.99 1465.96,1888.99 1468.99,1888.99 1472.01,1888.99 1475.03,1888.99 1478.05,1888.99 1481.07,1888.98 1484.10,1888.98 1487.12,1888.98 1490.14,1888.98 1493.16,1888.97 1496.18,1888.97 1499.21,1888.97 1502.23,1888.96 1505.25,1888.96 1508.27,1888.95 1511.29,1888.95 1514.32,1888.94 1517.34,1888.93 1520.36,1888.92 1523.38,1888.91 1526.40,1888.90 1529.42,1888.88 1532.45,1888.87 1535.47,1888.85 1538.49,1888.83 1541.51,1888.81 1544.53,1888.78 1547.56,1888.76 1550.58,1888.72 1553.60,1888.69 1556.62,1888.65 1559.64,1888.60 1562.67,1888.55 1565.69,1888.49 1568.71,1888.42 1571.73,1888.35 1574.75,1888.27 1577.78,1888.17 1580.80,1888.07 1583.82,1887.95 1586.84,1887.81 1589.86,1887.66 1592.89,1887.50 1595.91,1887.31 1598.93,1887.10 1601.95,1886.87 1604.97,1886.62 1608.00,1886.33 1611.02,1886.02 1614.04,1885.68 1617.06,1885.30 1620.08,1884.89 1623.11,1884.44 1626.13,1883.96 1629.15,1883.44 1632.17,1882.88 1635.19,1882.28 1638.22,1881.65 1641.24,1880.98 1644.26,1880.28 1647.28,1879.55 1650.30,1878.80 1653.33,1878.04 1656.35,1877.26 1659.37,1876.47 1662.39,1875.68 1665.41,1874.90 1668.43,1874.13 1671.46,1873.37 1674.48,1872.64 1677.50,1871.93 1680.52,1871.25 1683.54,1870.61 1686.57,1870.00 1689.59,1869.43 1692.61,1868.89 1695.63,1868.40 1698.65,1867.94 1701.68,1867.52 1704.70,1867.13 1707.72,1866.77 1710.74,1866.45 1713.76,1866.16 1716.79,1865.90 1719.81,1865.66 1722.83,1865.44 1725.85,1865.25 1728.87,1865.08 1731.90,1864.92 1734.92,1864.79 1737.94,1864.66" fill="none" stroke="#000" stroke-width="1.6"/>
<line x1="1325.70" y1="1889.00" x2="1352.20" y2="1889.00" stroke="#000" stroke-width="1.6" />
<polyline points="1375.31,1889.00 1378.33,1889.00 1381.35,1889.00 1384.37,1889.00 1387.39,1889.00 1390.41,1889.00 1393.44,1889.00 1396.46,1889.00 1399.48,1889.00 1402.50,1889.00 1405.52,1889.00 1408.55,1889.00 1411.57,1889.00 1414.59,1889.00 1417.61,1889.00 1420.63,1889.00 1423.66,1889.00 1426.68,1889.00 1429.70,1889.00 1432.72,1889.00 1435.74,1889.00 1438.77,1889.00 1441.79,1889.00 1444.81,1889.00 1447.83,1889.00 1450.85,1889.00 1453.88,1889.00 1456.90,1889.00 1459.92,1889.00 1462.94,1889.00 1465.96,1889.00 1468.99,1889.00 1472.01,1889.00 1475.03,1889.00 1478.05,1889.00 1481.07,1889.00 1484.10,1888.99 1487.12,1888.99 1490.14,1888.99 1493.16,1888.99 1496.18,1888.99 1499.21,1888.99 1502.23,1888.99 1505.25,1888.99 1508.27,1888.99 1511.29,1888.98 1514.32,1888.98 1517.34,1888.98 1520.36,1888.98 1523.38,1888.97 1526.40,1888.97 1529.42,1888.96 1532.45,1888.96 1535.47,1888.95 1538.49,1888.95 1541.51,1888.94 1544.53,1888.93 1547.56,1888.93 1550.58,1888.92 1553.60,1888.90 1556.62,1888.89 1559.64,1888.88 1562.67,1888.86 1565.69,1888.84 1568.71,1888.82 1571.73,1888.80 1574.75,1888.77 1577.78,1888.74 1580.80,1888.71 1583.82,1888.67 1586.84,1888.62 1589.86,1888.58 1592.89,1888.52 1595.91,1888.46 1598.93,1888.38 1601.95,1888.30 1604.97,1888.21 1608.00,1888.11 1611.02,1887.99 1614.04,1887.86 1617.06,1887.71 1620.08,1887.54 1623.11,1887.35 1626.13,1887.13 1629.15,1886.89 1632.17,1886.62 1635.19,1886.31 1638.22,1885.96 1641.24,1885.57 1644.26,1885.14 1647.28,1884.64 1650.30,1884.10 1653.33,1883.48 1656.35,1882.80 1659.37,1882.03 1662.39,1881.18 1665.41,1880.24 1668.43,1879.19 1671.46,1878.04 1674.48,1876.76 1677.50,1875.37 1680.52,1873.84 1683.54,1872.18 1686.57,1870.38 1689.59,1868.43 1692.61,1866.34 1695.63,1864.11 1698.65,1861.74 1701.68,1859.24 1704.70,1856.61 1707.72,1853.87 1710.74,1851.05 1713.76,1848.14 1716.79,1845.18 1719.81,1842.19 1722.83,1839.18 1725.85,1836.19 1728.87,1833.23 1731.90,1830.33 1734.92,1827.51 1737.94,1824.78" fill="none" stroke="#000" stroke-width="1.6"/>
<line x1="1325.70" y1="1889.00" x2="1352.20" y2="1889.00" stroke="#000" stroke-width="1.6" />
<polyline points="1375.31,1888.97 1378.33,1888.97 1381.35,1888.96 1384.37,1888.96 1387.39,1888.95 1390.41,1888.94 1393.44,1888.94 1396.46,1888.93 1399.48,1888.92 1402.50,1888.91 1405.52,1888.89 1408.55,1888.88 1411.57,1888.86 1414.59,1888.85 1417.61,1888.83 1420.63,1888.80 1423.66,1888.78 1426.68,1888.75 1429.70,1888.71 1432.72,1888.68 1435.74,1888.63 1438.77,1888.58 1441.79,1888.53 1444.81,1888.47 1447.83,1888.40 1450.85,1888.32 1453.88,1888.23 1456.90,1888.12 1459.92,1888.01 1462.94,1887.88 1465.96,1887.73 1468.99,1887.56 1472.01,1887.37 1475.03,1887.15 1478.05,1886.91 1481.07,1886.64 1484.10,1886.33 1487.12,1885.98 1490.14,1885.58 1493.16,1885.13 1496.18,1884.63 1499.21,1884.06 1502.23,1883.42 1505.25,1882.70 1508.27,1881.88 1511.29,1880.97 1514.32,1879.94 1517.34,1878.79 1520.36,1877.50 1523.38,1876.05 1526.40,1874.44 1529.42,1872.63 1532.45,1870.62 1535.47,1868.39 1538.49,1865.92 1541.51,1863.18 1544.53,1860.16 1547.56,1856.84 1550.58,1853.20 1553.60,1849.23 1556.62,1844.92 1559.64,1840.24 1562.67,1835.21 1565.69,1829.82 1568.71,1824.08 1571.73,1818.00 1574.75,1811.59 1577.78,1804.90 1580.80,1797.95 1583.82,1790.78 1586.84,1783.45 1589.86,1776.00 1592.89,1768.50 1595.91,1761.00 1598.93,1753.55 1601.95,1746.22 1604.97,1739.05 1608.00,1732.10 1611.02,1725.41 1614.04,1719.00 1617.06,1712.92 1620.08,1707.18 1623.11,1701.79 1626.13,1696.76 1629.15,1692.08 1632.17,1687.77 1635.19,1683.80 1638.22,1680.16 1641.24,1676.84 1644.26,1673.82 1647.28,1671.08 1650.30,1668.61 1653.33,1666.38 1656.35,1664.37 1659.37,1662.56 1662.39,1660.95 1665.41,1659.50 1668.43,1658.21 1671.46,1657.06 1674.48,1656.03 1677.50,1655.12 1680.52,1654.30 1683.54,1653.58 1686.57,1652.94 1689.59,1652.37 1692.61,1651.87 1695.63,1651.42 1698.65,1651.02 1701.68,1650.67 1704.70,1650.36 1707.72,1650.09 1710.74,1649.85 1713.76,1649.63 1716.79,1649.44 1719.81,1649.27 1722.83,1649.12 1725.85,1648.99 1728.87,1648.88 1731.90,1648.77 1734.92,1648.68 1737.94,1648.60" fill="none" stroke="#000" stroke-width="1.6"/>
<circle cx="1403.20" cy="1889.00" r="7.6" fill="#f4a9e4" stroke="#000" stroke-width="1.5" />
<circle cx="1458.99" cy="1889.00" r="7.6" fill="#f4a9e4" stroke="#000" stroke-width="1.5" />
<circle cx="1514.78" cy="1891.41" r="7.6" fill="#f4a9e4" stroke="#000" stroke-width="1.5" />
<circle cx="1570.57" cy="1889.00" r="7.6" fill="#f4a9e4" stroke="#000" stroke-width="1.5" />
<circle cx="1626.36" cy="1881.77" r="7.6" fill="#f4a9e4" stroke="#000" stroke-width="1.5" />
<circle cx="1682.15" cy="1872.13" r="7.6" fill="#f4a9e4" stroke="#000" stroke-width="1.5" />
<circle cx="1737.94" cy="1864.90" r="7.6" fill="#f4a9e4" stroke="#000" stroke-width="1.5" />
<circle cx="1403.20" cy="1889.00" r="7.6" fill="#8dbdf3" stroke="#000" stroke-width="1.5" />
<circle cx="1458.99" cy="1889.00" r="7.6" fill="#8dbdf3" stroke="#000" stroke-width="1.5" />
<circle cx="1514.78" cy="1889.72" r="7.6" fill="#8dbdf3" stroke="#000" stroke-width="1.5" />
<circle cx="1570.57" cy="1889.00" r="7.6" fill="#8dbdf3" stroke="#000" stroke-width="1.5" />
<circle cx="1626.36" cy="1886.59" r="7.6" fill="#8dbdf3" stroke="#000" stroke-width="1.5" />
<circle cx="1682.15" cy="1872.61" r="7.6" fill="#8dbdf3" stroke="#000" stroke-width="1.5" />
<circle cx="1737.94" cy="1829.71" r="7.6" fill="#8dbdf3" stroke="#000" stroke-width="1.5" />
<circle cx="1325.70" cy="1889.00" r="7.6" fill="#ffffff" stroke="#000" stroke-width="1.5" />
<circle cx="1403.20" cy="1890.20" r="7.6" fill="#ffffff" stroke="#000" stroke-width="1.5" />
<circle cx="1458.99" cy="1889.72" r="7.6" fill="#ffffff" stroke="#000" stroke-width="1.5" />
<circle cx="1514.78" cy="1881.77" r="7.6" fill="#ffffff" stroke="#000" stroke-width="1.5" />
<circle cx="1570.57" cy="1822.24" r="7.6" fill="#ffffff" stroke="#000" stroke-width="1.5" />
<circle cx="1626.36" cy="1704.63" r="7.6" fill="#ffffff" stroke="#000" stroke-width="1.5" />
<circle cx="1682.15" cy="1654.03" r="7.6" fill="#ffffff" stroke="#000" stroke-width="1.5" />
<circle cx="1737.94" cy="1648.00" r="7.6" fill="#ffffff" stroke="#000" stroke-width="1.5" />
<line x1="1347.80" y1="1604.40" x2="1382.80" y2="1604.40" stroke="#000" stroke-width="1.6" />
<circle cx="1365.30" cy="1604.40" r="7.6" fill="#ffffff" stroke="#000" stroke-width="1.5" />
<text x="1401.50" y="1613.40" font-size="26" fill="#000" font-weight="bold" textLength="152.2" lengthAdjust="spacingAndGlyphs" >mTAAR1-WT</text>
<line x1="1347.80" y1="1661.50" x2="1382.80" y2="1661.50" stroke="#000" stroke-width="1.6" />
<circle cx="1365.30" cy="1661.50" r="7.6" fill="#8dbdf3" stroke="#000" stroke-width="1.5" />
<text x="1401.50" y="1675.00" font-size="26" fill="#000" font-weight="bold" textLength="125.0" lengthAdjust="spacingAndGlyphs" >F185<tspan font-size="17.5" dy="-13">ECL2</tspan><tspan dy="13">A</tspan></text>
<line x1="1347.80" y1="1724.50" x2="1382.80" y2="1724.50" stroke="#000" stroke-width="1.6" />
<circle cx="1365.30" cy="1724.50" r="7.6" fill="#f4a9e4" stroke="#000" stroke-width="1.5" />
<text x="1401.50" y="1738.00" font-size="26" fill="#000" font-weight="bold" textLength="122.4" lengthAdjust="spacingAndGlyphs" >F185<tspan font-size="17.5" dy="-13">ECL2</tspan><tspan dy="13">L</tspan></text>
<line x1="1311.00" y1="2114.52" x2="1311.00" y2="2445.08" stroke="#000" stroke-width="1.8" />
<line x1="1303.00" y1="2391.00" x2="1311.00" y2="2391.00" stroke="#000" stroke-width="1.8" />
<text x="1299.50" y="2399.28" font-size="23" fill="#000" font-weight="bold" text-anchor="end" >0</text>
<line x1="1303.00" y1="2275.80" x2="1311.00" y2="2275.80" stroke="#000" stroke-width="1.8" />
<text x="1299.50" y="2284.08" font-size="23" fill="#000" font-weight="bold" text-anchor="end" >50</text>
<line x1="1303.00" y1="2160.60" x2="1311.00" y2="2160.60" stroke="#000" stroke-width="1.8" />
<text x="1299.50" y="2168.88" font-size="23" fill="#000" font-weight="bold" text-anchor="end" >100</text>
<line x1="1310.10" y1="2437.08" x2="1331.00" y2="2437.08" stroke="#000" stroke-width="1.8" />
<line x1="1331.00" y1="2430.08" x2="1331.00" y2="2444.08" stroke="#000" stroke-width="1.8" />
<line x1="1354.99" y1="2437.08" x2="1794.11" y2="2437.08" stroke="#000" stroke-width="1.8" />
<line x1="1354.99" y1="2430.08" x2="1354.99" y2="2444.08" stroke="#000" stroke-width="1.8" />
<text x="1311.00" y="2472.08" font-size="22.5" fill="#000" font-weight="bold" text-anchor="middle" >0</text>
<line x1="1384.20" y1="2437.08" x2="1384.20" y2="2445.08" stroke="#000" stroke-width="1.8" />
<text x="1384.20" y="2472.08" font-size="22.5" fill="#000" font-weight="bold" text-anchor="middle" >-10</text>
<line x1="1442.63" y1="2437.08" x2="1442.63" y2="2445.08" stroke="#000" stroke-width="1.8" />
<text x="1442.63" y="2472.08" font-size="22.5" fill="#000" font-weight="bold" text-anchor="middle" >-9</text>
<line x1="1501.06" y1="2437.08" x2="1501.06" y2="2445.08" stroke="#000" stroke-width="1.8" />
<text x="1501.06" y="2472.08" font-size="22.5" fill="#000" font-weight="bold" text-anchor="middle" >-8</text>
<line x1="1559.49" y1="2437.08" x2="1559.49" y2="2445.08" stroke="#000" stroke-width="1.8" />
<text x="1559.49" y="2472.08" font-size="22.5" fill="#000" font-weight="bold" text-anchor="middle" >-7</text>
<line x1="1617.92" y1="2437.08" x2="1617.92" y2="2445.08" stroke="#000" stroke-width="1.8" />
<text x="1617.92" y="2472.08" font-size="22.5" fill="#000" font-weight="bold" text-anchor="middle" >-6</text>
<line x1="1676.35" y1="2437.08" x2="1676.35" y2="2445.08" stroke="#000" stroke-width="1.8" />
<text x="1676.35" y="2472.08" font-size="22.5" fill="#000" font-weight="bold" text-anchor="middle" >-5</text>
<line x1="1734.78" y1="2437.08" x2="1734.78" y2="2445.08" stroke="#000" stroke-width="1.8" />
<text x="1734.78" y="2472.08" font-size="22.5" fill="#000" font-weight="bold" text-anchor="middle" >-4</text>
<line x1="1793.21" y1="2437.08" x2="1793.21" y2="2445.08" stroke="#000" stroke-width="1.8" />
<text x="1793.21" y="2472.08" font-size="22.5" fill="#000" font-weight="bold" text-anchor="middle" >-3</text>
<text x="1553.00" y="2508.00" font-size="24" fill="#000" font-weight="bold" text-anchor="middle" textLength="262.7" lengthAdjust="spacingAndGlyphs" >Log [SEP-363856](M)</text>
<text transform="translate(1224.20,2245.70) rotate(-90)" x="0" y="0" font-size="25" font-weight="bold" text-anchor="middle" textLength="122" lengthAdjust="spacingAndGlyphs">Response</text>
<text transform="translate(1256.20,2247.00) rotate(-90)" x="0" y="0" font-size="25" font-weight="bold" text-anchor="middle" textLength="93" lengthAdjust="spacingAndGlyphs">(% WT)</text>
<line x1="1311.00" y1="2391.00" x2="1331.00" y2="2391.00" stroke="#000" stroke-width="1.6" />
<polyline points="1354.99,2390.98 1358.15,2390.97 1361.31,2390.97 1364.48,2390.97 1367.64,2390.96 1370.81,2390.95 1373.97,2390.95 1377.14,2390.94 1380.30,2390.93 1383.47,2390.92 1386.63,2390.91 1389.80,2390.90 1392.96,2390.88 1396.13,2390.86 1399.29,2390.84 1402.46,2390.82 1405.62,2390.80 1408.79,2390.77 1411.95,2390.73 1415.12,2390.69 1418.28,2390.65 1421.45,2390.60 1424.61,2390.54 1427.78,2390.47 1430.94,2390.39 1434.11,2390.30 1437.27,2390.20 1440.44,2390.08 1443.60,2389.95 1446.77,2389.79 1449.93,2389.62 1453.10,2389.41 1456.26,2389.18 1459.43,2388.92 1462.59,2388.61 1465.76,2388.27 1468.92,2387.87 1472.09,2387.42 1475.25,2386.91 1478.42,2386.32 1481.58,2385.65 1484.75,2384.88 1487.91,2384.01 1491.08,2383.02 1494.24,2381.90 1497.41,2380.63 1500.57,2379.19 1503.74,2377.57 1506.90,2375.74 1510.07,2373.68 1513.23,2371.38 1516.40,2368.80 1519.56,2365.93 1522.73,2362.75 1525.89,2359.23 1529.06,2355.36 1532.22,2351.13 1535.39,2346.52 1538.55,2341.54 1541.72,2336.19 1544.88,2330.49 1548.05,2324.44 1551.21,2318.10 1554.38,2311.49 1557.54,2304.66 1560.71,2297.68 1563.87,2290.60 1567.04,2283.49 1570.20,2276.42 1573.37,2269.45 1576.53,2262.64 1579.70,2256.05 1582.86,2249.72 1586.03,2243.70 1589.19,2238.02 1592.36,2232.70 1595.52,2227.75 1598.69,2223.17 1601.85,2218.97 1605.02,2215.13 1608.18,2211.63 1611.35,2208.48 1614.51,2205.63 1617.68,2203.07 1620.84,2200.79 1624.01,2198.75 1627.17,2196.94 1630.34,2195.33 1633.50,2193.90 1636.67,2192.65 1639.83,2191.54 1643.00,2190.56 1646.16,2189.70 1649.33,2188.94 1652.49,2188.28 1655.66,2187.69 1658.82,2187.18 1661.99,2186.73 1665.15,2186.34 1668.32,2186.00 1671.48,2185.70 1674.65,2185.44 1677.81,2185.21 1680.98,2185.01 1684.14,2184.84 1687.31,2184.68 1690.47,2184.55 1693.64,2184.43 1696.80,2184.33 1699.97,2184.24 1703.13,2184.17 1706.30,2184.10 1709.46,2184.04 1712.63,2183.99 1715.79,2183.94 1718.96,2183.91 1722.12,2183.87 1725.29,2183.84 1728.45,2183.82 1731.62,2183.79 1734.78,2183.77" fill="none" stroke="#000" stroke-width="1.6"/>
<line x1="1311.00" y1="2393.30" x2="1331.00" y2="2393.30" stroke="#000" stroke-width="1.6" />
<polyline points="1354.99,2393.30 1358.15,2393.30 1361.31,2393.30 1364.48,2393.29 1367.64,2393.29 1370.81,2393.29 1373.97,2393.29 1377.14,2393.29 1380.30,2393.29 1383.47,2393.28 1386.63,2393.28 1389.80,2393.28 1392.96,2393.27 1396.13,2393.27 1399.29,2393.27 1402.46,2393.26 1405.62,2393.26 1408.79,2393.25 1411.95,2393.24 1415.12,2393.23 1418.28,2393.22 1421.45,2393.21 1424.61,2393.20 1427.78,2393.19 1430.94,2393.17 1434.11,2393.15 1437.27,2393.13 1440.44,2393.11 1443.60,2393.09 1446.77,2393.06 1449.93,2393.03 1453.10,2392.99 1456.26,2392.95 1459.43,2392.90 1462.59,2392.84 1465.76,2392.78 1468.92,2392.72 1472.09,2392.64 1475.25,2392.55 1478.42,2392.45 1481.58,2392.34 1484.75,2392.21 1487.91,2392.06 1491.08,2391.90 1494.24,2391.71 1497.41,2391.50 1500.57,2391.27 1503.74,2391.00 1506.90,2390.70 1510.07,2390.35 1513.23,2389.97 1516.40,2389.53 1519.56,2389.04 1522.73,2388.49 1525.89,2387.86 1529.06,2387.16 1532.22,2386.36 1535.39,2385.47 1538.55,2384.47 1541.72,2383.35 1544.88,2382.09 1548.05,2380.68 1551.21,2379.10 1554.38,2377.34 1557.54,2375.39 1560.71,2373.21 1563.87,2370.79 1567.04,2368.13 1570.20,2365.18 1573.37,2361.94 1576.53,2358.40 1579.70,2354.53 1582.86,2350.32 1586.03,2345.76 1589.19,2340.86 1592.36,2335.60 1595.52,2330.00 1598.69,2324.07 1601.85,2317.82 1605.02,2311.30 1608.18,2304.52 1611.35,2297.53 1614.51,2290.38 1617.68,2283.12 1620.84,2275.80 1624.01,2268.48 1627.17,2261.22 1630.34,2254.07 1633.50,2247.08 1636.67,2240.30 1639.83,2233.78 1643.00,2227.53 1646.16,2221.60 1649.33,2216.00 1652.49,2210.74 1655.66,2205.84 1658.82,2201.28 1661.99,2197.07 1665.15,2193.20 1668.32,2189.66 1671.48,2186.42 1674.65,2183.47 1677.81,2180.81 1680.98,2178.39 1684.14,2176.21 1687.31,2174.26 1690.47,2172.50 1693.64,2170.92 1696.80,2169.51 1699.97,2168.25 1703.13,2167.13 1706.30,2166.13 1709.46,2165.24 1712.63,2164.44 1715.79,2163.74 1718.96,2163.11 1722.12,2162.56 1725.29,2162.07 1728.45,2161.63 1731.62,2161.25 1734.78,2160.90" fill="none" stroke="#000" stroke-width="1.6"/>
<line x1="1311.00" y1="2408.97" x2="1311.00" y2="2373.03" stroke="#000" stroke-width="1.6" />
<line x1="1303.50" y1="2373.03" x2="1318.50" y2="2373.03" stroke="#000" stroke-width="1.6" />
<line x1="1303.50" y1="2408.97" x2="1318.50" y2="2408.97" stroke="#000" stroke-width="1.6" />
<line x1="1384.20" y1="2409.66" x2="1384.20" y2="2384.32" stroke="#000" stroke-width="1.6" />
<line x1="1376.70" y1="2384.32" x2="1391.70" y2="2384.32" stroke="#000" stroke-width="1.6" />
<line x1="1376.70" y1="2409.66" x2="1391.70" y2="2409.66" stroke="#000" stroke-width="1.6" />
<line x1="1442.63" y1="2395.61" x2="1442.63" y2="2377.18" stroke="#000" stroke-width="1.6" />
<line x1="1435.13" y1="2377.18" x2="1450.13" y2="2377.18" stroke="#000" stroke-width="1.6" />
<line x1="1435.13" y1="2395.61" x2="1450.13" y2="2395.61" stroke="#000" stroke-width="1.6" />
<line x1="1559.49" y1="2320.73" x2="1559.49" y2="2270.04" stroke="#000" stroke-width="1.6" />
<line x1="1551.99" y1="2270.04" x2="1566.99" y2="2270.04" stroke="#000" stroke-width="1.6" />
<line x1="1551.99" y1="2320.73" x2="1566.99" y2="2320.73" stroke="#000" stroke-width="1.6" />
<line x1="1617.92" y1="2219.35" x2="1617.92" y2="2198.62" stroke="#000" stroke-width="1.6" />
<line x1="1610.42" y1="2198.62" x2="1625.42" y2="2198.62" stroke="#000" stroke-width="1.6" />
<line x1="1610.42" y1="2219.35" x2="1625.42" y2="2219.35" stroke="#000" stroke-width="1.6" />
<circle cx="1311.00" cy="2391.00" r="7.6" fill="#8dbdf3" stroke="#000" stroke-width="1.5" />
<circle cx="1384.20" cy="2396.99" r="7.6" fill="#8dbdf3" stroke="#000" stroke-width="1.5" />
<circle cx="1442.63" cy="2386.39" r="7.6" fill="#8dbdf3" stroke="#000" stroke-width="1.5" />
<circle cx="1501.06" cy="2379.48" r="7.6" fill="#8dbdf3" stroke="#000" stroke-width="1.5" />
<circle cx="1559.49" cy="2295.38" r="7.6" fill="#8dbdf3" stroke="#000" stroke-width="1.5" />
<circle cx="1617.92" cy="2208.98" r="7.6" fill="#8dbdf3" stroke="#000" stroke-width="1.5" />
<circle cx="1676.35" cy="2176.73" r="7.6" fill="#8dbdf3" stroke="#000" stroke-width="1.5" />
<circle cx="1734.78" cy="2188.25" r="7.6" fill="#8dbdf3" stroke="#000" stroke-width="1.5" />
<line x1="1311.00" y1="2418.65" x2="1311.00" y2="2363.35" stroke="#000" stroke-width="1.6" />
<line x1="1303.50" y1="2363.35" x2="1318.50" y2="2363.35" stroke="#000" stroke-width="1.6" />
<line x1="1303.50" y1="2418.65" x2="1318.50" y2="2418.65" stroke="#000" stroke-width="1.6" />
<line x1="1384.20" y1="2397.45" x2="1384.20" y2="2379.02" stroke="#000" stroke-width="1.6" />
<line x1="1376.70" y1="2379.02" x2="1391.70" y2="2379.02" stroke="#000" stroke-width="1.6" />
<line x1="1376.70" y1="2397.45" x2="1391.70" y2="2397.45" stroke="#000" stroke-width="1.6" />
<line x1="1442.63" y1="2397.91" x2="1442.63" y2="2374.87" stroke="#000" stroke-width="1.6" />
<line x1="1435.13" y1="2374.87" x2="1450.13" y2="2374.87" stroke="#000" stroke-width="1.6" />
<line x1="1435.13" y1="2397.91" x2="1450.13" y2="2397.91" stroke="#000" stroke-width="1.6" />
<line x1="1501.06" y1="2405.52" x2="1501.06" y2="2387.08" stroke="#000" stroke-width="1.6" />
<line x1="1493.56" y1="2387.08" x2="1508.56" y2="2387.08" stroke="#000" stroke-width="1.6" />
<line x1="1493.56" y1="2405.52" x2="1508.56" y2="2405.52" stroke="#000" stroke-width="1.6" />
<line x1="1559.49" y1="2397.91" x2="1559.49" y2="2349.53" stroke="#000" stroke-width="1.6" />
<line x1="1551.99" y1="2349.53" x2="1566.99" y2="2349.53" stroke="#000" stroke-width="1.6" />
<line x1="1551.99" y1="2397.91" x2="1566.99" y2="2397.91" stroke="#000" stroke-width="1.6" />
<line x1="1617.92" y1="2305.75" x2="1617.92" y2="2264.28" stroke="#000" stroke-width="1.6" />
<line x1="1610.42" y1="2264.28" x2="1625.42" y2="2264.28" stroke="#000" stroke-width="1.6" />
<line x1="1610.42" y1="2305.75" x2="1625.42" y2="2305.75" stroke="#000" stroke-width="1.6" />
<line x1="1676.35" y1="2199.77" x2="1676.35" y2="2176.73" stroke="#000" stroke-width="1.6" />
<line x1="1668.85" y1="2176.73" x2="1683.85" y2="2176.73" stroke="#000" stroke-width="1.6" />
<line x1="1668.85" y1="2199.77" x2="1683.85" y2="2199.77" stroke="#000" stroke-width="1.6" />
<circle cx="1311.00" cy="2391.00" r="7.6" fill="#ffffff" stroke="#000" stroke-width="1.5" />
<circle cx="1384.20" cy="2388.24" r="7.6" fill="#ffffff" stroke="#000" stroke-width="1.5" />
<circle cx="1442.63" cy="2386.39" r="7.6" fill="#ffffff" stroke="#000" stroke-width="1.5" />
<circle cx="1501.06" cy="2396.30" r="7.6" fill="#ffffff" stroke="#000" stroke-width="1.5" />
<circle cx="1559.49" cy="2373.72" r="7.6" fill="#ffffff" stroke="#000" stroke-width="1.5" />
<circle cx="1617.92" cy="2285.02" r="7.6" fill="#ffffff" stroke="#000" stroke-width="1.5" />
<circle cx="1676.35" cy="2188.25" r="7.6" fill="#ffffff" stroke="#000" stroke-width="1.5" />
<circle cx="1734.78" cy="2160.60" r="7.6" fill="#ffffff" stroke="#000" stroke-width="1.5" />
<line x1="1336.60" y1="2120.20" x2="1371.60" y2="2120.20" stroke="#000" stroke-width="1.6" />
<circle cx="1354.10" cy="2120.20" r="7.6" fill="#ffffff" stroke="#000" stroke-width="1.5" />
<text x="1391.90" y="2129.20" font-size="26" fill="#000" font-weight="bold" textLength="156.0" lengthAdjust="spacingAndGlyphs" >5-HT<tspan font-size="17.5" dy="7">1A</tspan><tspan dy="-7">R-WT</tspan></text>
<line x1="1336.60" y1="2179.10" x2="1371.60" y2="2179.10" stroke="#000" stroke-width="1.6" />
<circle cx="1354.10" cy="2179.10" r="7.6" fill="#8dbdf3" stroke="#000" stroke-width="1.5" />
<text x="1391.90" y="2192.60" font-size="26" fill="#000" font-weight="bold" textLength="131.0" lengthAdjust="spacingAndGlyphs" >K191<tspan font-size="17.5" dy="-13">ECL2</tspan><tspan dy="13">A</tspan></text>
<line x1="73.10" y1="1641.80" x2="73.10" y2="1868.20" stroke="#000" stroke-width="1.6" />
<line x1="65.10" y1="1843.40" x2="73.10" y2="1843.40" stroke="#000" stroke-width="1.6" />
<text x="62.60" y="1849.52" font-size="17" fill="#000" text-anchor="end" >0</text>
<line x1="65.10" y1="1801.40" x2="73.10" y2="1801.40" stroke="#000" stroke-width="1.6" />
<text x="62.60" y="1807.52" font-size="17" fill="#000" text-anchor="end" >25</text>
<line x1="65.10" y1="1759.40" x2="73.10" y2="1759.40" stroke="#000" stroke-width="1.6" />
<text x="62.60" y="1765.52" font-size="17" fill="#000" text-anchor="end" >50</text>
<line x1="65.10" y1="1717.40" x2="73.10" y2="1717.40" stroke="#000" stroke-width="1.6" />
<text x="62.60" y="1723.52" font-size="17" fill="#000" text-anchor="end" >75</text>
<line x1="65.10" y1="1675.40" x2="73.10" y2="1675.40" stroke="#000" stroke-width="1.6" />
<text x="62.60" y="1681.52" font-size="17" fill="#000" text-anchor="end" >100</text>
<line x1="72.30" y1="1860.20" x2="91.60" y2="1860.20" stroke="#000" stroke-width="1.6" />
<line x1="91.60" y1="1853.20" x2="91.60" y2="1867.20" stroke="#000" stroke-width="1.6" />
<line x1="107.41" y1="1860.20" x2="397.08" y2="1860.20" stroke="#000" stroke-width="1.6" />
<line x1="107.41" y1="1853.20" x2="107.41" y2="1867.20" stroke="#000" stroke-width="1.6" />
<text x="73.10" y="1888.70" font-size="17" fill="#000" text-anchor="middle" >-12</text>
<line x1="128.50" y1="1860.20" x2="128.50" y2="1868.20" stroke="#000" stroke-width="1.6" />
<text x="128.50" y="1888.70" font-size="17" fill="#000" text-anchor="middle" >-11</text>
<line x1="170.67" y1="1860.20" x2="170.67" y2="1868.20" stroke="#000" stroke-width="1.6" />
<text x="170.67" y="1888.70" font-size="17" fill="#000" text-anchor="middle" >-10</text>
<line x1="212.84" y1="1860.20" x2="212.84" y2="1868.20" stroke="#000" stroke-width="1.6" />
<text x="212.84" y="1888.70" font-size="17" fill="#000" text-anchor="middle" >-9</text>
<line x1="255.01" y1="1860.20" x2="255.01" y2="1868.20" stroke="#000" stroke-width="1.6" />
<text x="255.01" y="1888.70" font-size="17" fill="#000" text-anchor="middle" >-8</text>
<line x1="297.18" y1="1860.20" x2="297.18" y2="1868.20" stroke="#000" stroke-width="1.6" />
<text x="297.18" y="1888.70" font-size="17" fill="#000" text-anchor="middle" >-7</text>
<line x1="339.35" y1="1860.20" x2="339.35" y2="1868.20" stroke="#000" stroke-width="1.6" />
<text x="339.35" y="1888.70" font-size="17" fill="#000" text-anchor="middle" >-6</text>
<line x1="381.52" y1="1860.20" x2="381.52" y2="1868.20" stroke="#000" stroke-width="1.6" />
<text x="381.52" y="1888.70" font-size="17" fill="#000" text-anchor="middle" >-5</text>
<text x="238.00" y="1913.00" font-size="19.5" fill="#000" font-weight="bold" text-anchor="middle" textLength="173.6" lengthAdjust="spacingAndGlyphs" >Log[SEP-363856](M)</text>
<text transform="translate(25.00,1752.50) rotate(-90)" x="0" y="0" font-size="19.5" font-weight="bold" text-anchor="middle" textLength="203" lengthAdjust="spacingAndGlyphs">%[<tspan font-size="12" dy="-7">3</tspan><tspan dy="7">H]-Tyramine binding</tspan></text>
<line x1="73.10" y1="1676.58" x2="91.60" y2="1676.58" stroke="#f58a8a" stroke-width="1.8" />
<polyline points="107.41,1676.58 109.70,1676.58 111.98,1676.58 114.27,1676.58 116.55,1676.58 118.84,1676.58 121.12,1676.58 123.40,1676.58 125.69,1676.58 127.97,1676.58 130.26,1676.58 132.54,1676.58 134.83,1676.58 137.11,1676.58 139.39,1676.58 141.68,1676.58 143.96,1676.58 146.25,1676.58 148.53,1676.58 150.81,1676.58 153.10,1676.58 155.38,1676.58 157.67,1676.58 159.95,1676.58 162.24,1676.58 164.52,1676.58 166.80,1676.58 169.09,1676.58 171.37,1676.58 173.66,1676.58 175.94,1676.58 178.23,1676.58 180.51,1676.58 182.79,1676.58 185.08,1676.58 187.36,1676.58 189.65,1676.58 191.93,1676.58 194.21,1676.58 196.50,1676.58 198.78,1676.58 201.07,1676.58 203.35,1676.58 205.64,1676.58 207.92,1676.58 210.20,1676.58 212.49,1676.58 214.77,1676.58 217.06,1676.58 219.34,1676.58 221.63,1676.58 223.91,1676.58 226.19,1676.58 228.48,1676.58 230.76,1676.58 233.05,1676.58 235.33,1676.58 237.61,1676.58 239.90,1676.58 242.18,1676.58 244.47,1676.58 246.75,1676.58 249.04,1676.58 251.32,1676.58 253.60,1676.58 255.89,1676.58 258.17,1676.58 260.46,1676.58 262.74,1676.58 265.03,1676.58 267.31,1676.58 269.59,1676.58 271.88,1676.58 274.16,1676.58 276.45,1676.58 278.73,1676.58 281.01,1676.58 283.30,1676.58 285.58,1676.58 287.87,1676.58 290.15,1676.58 292.44,1676.58 294.72,1676.58 297.00,1676.58 299.29,1676.58 301.57,1676.58 303.86,1676.58 306.14,1676.58 308.43,1676.58 310.71,1676.58 312.99,1676.58 315.28,1676.58 317.56,1676.58 319.85,1676.58 322.13,1676.58 324.41,1676.58 326.70,1676.58 328.98,1676.58 331.27,1676.58 333.55,1676.58 335.84,1676.58 338.12,1676.58 340.40,1676.58 342.69,1676.58 344.97,1676.58 347.26,1676.58 349.54,1676.58 351.83,1676.58 354.11,1676.58 356.39,1676.58 358.68,1676.58 360.96,1676.58 363.25,1676.58 365.53,1676.58 367.81,1676.58 370.10,1676.58 372.38,1676.58 374.67,1676.58 376.95,1676.58 379.24,1676.58 381.52,1676.58" fill="none" stroke="#f58a8a" stroke-width="1.8"/>
<line x1="73.10" y1="1681.28" x2="91.60" y2="1681.28" stroke="#cccccc" stroke-width="1.8" />
<polyline points="107.41,1681.31 109.70,1681.31 111.98,1681.31 114.27,1681.32 116.55,1681.32 118.84,1681.33 121.12,1681.33 123.40,1681.34 125.69,1681.34 127.97,1681.35 130.26,1681.35 132.54,1681.36 134.83,1681.37 137.11,1681.38 139.39,1681.39 141.68,1681.40 143.96,1681.41 146.25,1681.42 148.53,1681.44 150.81,1681.45 153.10,1681.47 155.38,1681.49 157.67,1681.51 159.95,1681.53 162.24,1681.55 164.52,1681.58 166.80,1681.61 169.09,1681.64 171.37,1681.67 173.66,1681.71 175.94,1681.76 178.23,1681.80 180.51,1681.85 182.79,1681.91 185.08,1681.97 187.36,1682.04 189.65,1682.11 191.93,1682.19 194.21,1682.28 196.50,1682.38 198.78,1682.49 201.07,1682.60 203.35,1682.73 205.64,1682.87 207.92,1683.03 210.20,1683.20 212.49,1683.38 214.77,1683.59 217.06,1683.81 219.34,1684.05 221.63,1684.32 223.91,1684.61 226.19,1684.93 228.48,1685.28 230.76,1685.66 233.05,1686.08 235.33,1686.53 237.61,1687.03 239.90,1687.57 242.18,1688.16 244.47,1688.81 246.75,1689.51 249.04,1690.27 251.32,1691.10 253.60,1692.00 255.89,1692.97 258.17,1694.03 260.46,1695.17 262.74,1696.41 265.03,1697.74 267.31,1699.18 269.59,1700.72 271.88,1702.38 274.16,1704.16 276.45,1706.06 278.73,1708.09 281.01,1710.24 283.30,1712.54 285.58,1714.96 287.87,1717.53 290.15,1720.23 292.44,1723.06 294.72,1726.03 297.00,1729.12 299.29,1732.34 301.57,1735.67 303.86,1739.10 306.14,1742.62 308.43,1746.23 310.71,1749.90 312.99,1753.62 315.28,1757.39 317.56,1761.17 319.85,1764.96 322.13,1768.74 324.41,1772.49 326.70,1776.20 328.98,1779.85 331.27,1783.43 333.55,1786.92 335.84,1790.31 338.12,1793.59 340.40,1796.76 342.69,1799.81 344.97,1802.72 347.26,1805.50 349.54,1808.15 351.83,1810.67 354.11,1813.04 356.39,1815.28 358.68,1817.39 360.96,1819.37 363.25,1821.22 365.53,1822.95 367.81,1824.57 370.10,1826.07 372.38,1827.46 374.67,1828.76 376.95,1829.96 379.24,1831.07 381.52,1832.09" fill="none" stroke="#cccccc" stroke-width="1.8"/>
<line x1="73.10" y1="1681.28" x2="91.60" y2="1681.28" stroke="#9a6a2c" stroke-width="1.8" />
<polyline points="107.41,1681.32 109.70,1681.33 111.98,1681.33 114.27,1681.34 116.55,1681.34 118.84,1681.35 121.12,1681.36 123.40,1681.36 125.69,1681.37 127.97,1681.38 130.26,1681.39 132.54,1681.40 134.83,1681.41 137.11,1681.42 139.39,1681.44 141.68,1681.45 143.96,1681.47 146.25,1681.48 148.53,1681.50 150.81,1681.52 153.10,1681.55 155.38,1681.57 157.67,1681.60 159.95,1681.63 162.24,1681.66 164.52,1681.70 166.80,1681.74 169.09,1681.78 171.37,1681.82 173.66,1681.88 175.94,1681.93 178.23,1681.99 180.51,1682.06 182.79,1682.13 185.08,1682.21 187.36,1682.30 189.65,1682.39 191.93,1682.50 194.21,1682.61 196.50,1682.74 198.78,1682.87 201.07,1683.02 203.35,1683.18 205.64,1683.36 207.92,1683.55 210.20,1683.76 212.49,1683.99 214.77,1684.24 217.06,1684.51 219.34,1684.81 221.63,1685.13 223.91,1685.48 226.19,1685.87 228.48,1686.28 230.76,1686.74 233.05,1687.23 235.33,1687.77 237.61,1688.35 239.90,1688.98 242.18,1689.67 244.47,1690.41 246.75,1691.22 249.04,1692.09 251.32,1693.03 253.60,1694.05 255.89,1695.15 258.17,1696.33 260.46,1697.60 262.74,1698.97 265.03,1700.43 267.31,1702.00 269.59,1703.68 271.88,1705.47 274.16,1707.38 276.45,1709.40 278.73,1711.55 281.01,1713.83 283.30,1716.23 285.58,1718.75 287.87,1721.40 290.15,1724.17 292.44,1727.06 294.72,1730.07 297.00,1733.19 299.29,1736.41 301.57,1739.72 303.86,1743.12 306.14,1746.58 308.43,1750.12 310.71,1753.69 312.99,1757.31 315.28,1760.94 317.56,1764.58 319.85,1768.21 322.13,1771.82 324.41,1775.38 326.70,1778.90 328.98,1782.36 331.27,1785.73 333.55,1789.03 335.84,1792.22 338.12,1795.31 340.40,1798.29 342.69,1801.16 344.97,1803.90 347.26,1806.52 349.54,1809.02 351.83,1811.39 354.11,1813.63 356.39,1815.75 358.68,1817.75 360.96,1819.63 363.25,1821.40 365.53,1823.05 367.81,1824.59 370.10,1826.04 372.38,1827.38 374.67,1828.63 376.95,1829.79 379.24,1830.87 381.52,1831.87" fill="none" stroke="#9a6a2c" stroke-width="1.8"/>
<line x1="73.10" y1="1681.28" x2="91.60" y2="1681.28" stroke="#5aa5f2" stroke-width="1.8" />
<polyline points="107.41,1681.29 109.70,1681.29 111.98,1681.29 114.27,1681.29 116.55,1681.29 118.84,1681.29 121.12,1681.30 123.40,1681.30 125.69,1681.30 127.97,1681.30 130.26,1681.30 132.54,1681.31 134.83,1681.31 137.11,1681.31 139.39,1681.32 141.68,1681.32 143.96,1681.33 146.25,1681.33 148.53,1681.34 150.81,1681.34 153.10,1681.35 155.38,1681.36 157.67,1681.37 159.95,1681.37 162.24,1681.39 164.52,1681.40 166.80,1681.41 169.09,1681.42 171.37,1681.44 173.66,1681.46 175.94,1681.48 178.23,1681.50 180.51,1681.53 182.79,1681.55 185.08,1681.58 187.36,1681.62 189.65,1681.65 191.93,1681.70 194.21,1681.74 196.50,1681.79 198.78,1681.85 201.07,1681.92 203.35,1681.99 205.64,1682.07 207.92,1682.15 210.20,1682.25 212.49,1682.36 214.77,1682.48 217.06,1682.61 219.34,1682.76 221.63,1682.92 223.91,1683.10 226.19,1683.30 228.48,1683.53 230.76,1683.77 233.05,1684.05 235.33,1684.35 237.61,1684.69 239.90,1685.06 242.18,1685.47 244.47,1685.93 246.75,1686.43 249.04,1686.99 251.32,1687.60 253.60,1688.28 255.89,1689.02 258.17,1689.84 260.46,1690.74 262.74,1691.73 265.03,1692.82 267.31,1694.01 269.59,1695.31 271.88,1696.73 274.16,1698.27 276.45,1699.96 278.73,1701.78 281.01,1703.75 283.30,1705.89 285.58,1708.18 287.87,1710.65 290.15,1713.28 292.44,1716.09 294.72,1719.08 297.00,1722.24 299.29,1725.57 301.57,1729.06 303.86,1732.71 306.14,1736.50 308.43,1740.42 310.71,1744.46 312.99,1748.59 315.28,1752.80 317.56,1757.06 319.85,1761.35 322.13,1765.64 324.41,1769.92 326.70,1774.15 328.98,1778.32 331.27,1782.41 333.55,1786.38 335.84,1790.24 338.12,1793.96 340.40,1797.52 342.69,1800.93 344.97,1804.17 347.26,1807.23 349.54,1810.12 351.83,1812.84 354.11,1815.38 356.39,1817.75 358.68,1819.96 360.96,1822.01 363.25,1823.90 365.53,1825.65 367.81,1827.26 370.10,1828.73 372.38,1830.09 374.67,1831.33 376.95,1832.46 379.24,1833.49 381.52,1834.43" fill="none" stroke="#5aa5f2" stroke-width="1.8"/>
<line x1="73.10" y1="1681.28" x2="91.60" y2="1681.28" stroke="#b8b820" stroke-width="1.8" />
<polyline points="107.41,1681.29 109.70,1681.30 111.98,1681.30 114.27,1681.30 116.55,1681.30 118.84,1681.30 121.12,1681.31 123.40,1681.31 125.69,1681.31 127.97,1681.32 130.26,1681.32 132.54,1681.32 134.83,1681.33 137.11,1681.33 139.39,1681.34 141.68,1681.35 143.96,1681.35 146.25,1681.36 148.53,1681.37 150.81,1681.38 153.10,1681.39 155.38,1681.40 157.67,1681.41 159.95,1681.43 162.24,1681.44 164.52,1681.46 166.80,1681.48 169.09,1681.50 171.37,1681.52 173.66,1681.55 175.94,1681.57 178.23,1681.61 180.51,1681.64 182.79,1681.68 185.08,1681.72 187.36,1681.76 189.65,1681.82 191.93,1681.87 194.21,1681.93 196.50,1682.00 198.78,1682.08 201.07,1682.16 203.35,1682.25 205.64,1682.35 207.92,1682.46 210.20,1682.59 212.49,1682.72 214.77,1682.87 217.06,1683.04 219.34,1683.22 221.63,1683.42 223.91,1683.64 226.19,1683.89 228.48,1684.16 230.76,1684.45 233.05,1684.78 235.33,1685.14 237.61,1685.53 239.90,1685.96 242.18,1686.44 244.47,1686.96 246.75,1687.53 249.04,1688.16 251.32,1688.85 253.60,1689.60 255.89,1690.43 258.17,1691.33 260.46,1692.31 262.74,1693.38 265.03,1694.55 267.31,1695.81 269.59,1697.19 271.88,1698.68 274.16,1700.29 276.45,1702.03 278.73,1703.90 281.01,1705.92 283.30,1708.07 285.58,1710.38 287.87,1712.84 290.15,1715.45 292.44,1718.22 294.72,1721.15 297.00,1724.22 299.29,1727.44 301.57,1730.81 303.86,1734.30 306.14,1737.92 308.43,1741.65 310.71,1745.48 312.99,1749.39 315.28,1753.36 317.56,1757.37 319.85,1761.41 322.13,1765.45 324.41,1769.48 326.70,1773.47 328.98,1777.41 331.27,1781.27 333.55,1785.05 335.84,1788.72 338.12,1792.27 340.40,1795.70 342.69,1798.99 344.97,1802.13 347.26,1805.13 349.54,1807.97 351.83,1810.65 354.11,1813.18 356.39,1815.56 358.68,1817.79 360.96,1819.86 363.25,1821.80 365.53,1823.60 367.81,1825.27 370.10,1826.82 372.38,1828.25 374.67,1829.56 376.95,1830.77 379.24,1831.89 381.52,1832.91" fill="none" stroke="#b8b820" stroke-width="1.8"/>
<line x1="73.10" y1="1681.28" x2="91.60" y2="1681.28" stroke="#2fbf8a" stroke-width="1.8" />
<polyline points="107.41,1681.29 109.70,1681.29 111.98,1681.29 114.27,1681.29 116.55,1681.30 118.84,1681.30 121.12,1681.30 123.40,1681.30 125.69,1681.30 127.97,1681.31 130.26,1681.31 132.54,1681.31 134.83,1681.32 137.11,1681.32 139.39,1681.32 141.68,1681.33 143.96,1681.33 146.25,1681.34 148.53,1681.35 150.81,1681.35 153.10,1681.36 155.38,1681.37 157.67,1681.38 159.95,1681.39 162.24,1681.40 164.52,1681.42 166.80,1681.43 169.09,1681.45 171.37,1681.47 173.66,1681.49 175.94,1681.51 178.23,1681.53 180.51,1681.56 182.79,1681.59 185.08,1681.62 187.36,1681.66 189.65,1681.70 191.93,1681.75 194.21,1681.80 196.50,1681.85 198.78,1681.92 201.07,1681.98 203.35,1682.06 205.64,1682.14 207.92,1682.23 210.20,1682.34 212.49,1682.45 214.77,1682.57 217.06,1682.71 219.34,1682.86 221.63,1683.03 223.91,1683.22 226.19,1683.43 228.48,1683.65 230.76,1683.91 233.05,1684.18 235.33,1684.49 237.61,1684.83 239.90,1685.20 242.18,1685.61 244.47,1686.06 246.75,1686.56 249.04,1687.11 251.32,1687.71 253.60,1688.38 255.89,1689.10 258.17,1689.90 260.46,1690.78 262.74,1691.73 265.03,1692.78 267.31,1693.92 269.59,1695.16 271.88,1696.52 274.16,1697.99 276.45,1699.59 278.73,1701.32 281.01,1703.18 283.30,1705.19 285.58,1707.35 287.87,1709.67 290.15,1712.14 292.44,1714.78 294.72,1717.58 297.00,1720.54 299.29,1723.67 301.57,1726.94 303.86,1730.37 306.14,1733.94 308.43,1737.64 310.71,1741.46 312.99,1745.38 315.28,1749.38 317.56,1753.45 319.85,1757.56 322.13,1761.70 324.41,1765.85 326.70,1769.97 328.98,1774.06 331.27,1778.08 333.55,1782.03 335.84,1785.88 338.12,1789.61 340.40,1793.22 342.69,1796.70 344.97,1800.02 347.26,1803.19 349.54,1806.21 351.83,1809.06 354.11,1811.74 356.39,1814.27 358.68,1816.63 360.96,1818.84 363.25,1820.90 365.53,1822.81 367.81,1824.58 370.10,1826.21 372.38,1827.72 374.67,1829.11 376.95,1830.39 379.24,1831.56 381.52,1832.64" fill="none" stroke="#2fbf8a" stroke-width="1.8"/>
<line x1="73.10" y1="1681.28" x2="91.60" y2="1681.28" stroke="#b25ae4" stroke-width="1.8" />
<polyline points="107.41,1681.29 109.70,1681.29 111.98,1681.29 114.27,1681.29 116.55,1681.29 118.84,1681.29 121.12,1681.29 123.40,1681.29 125.69,1681.29 127.97,1681.30 130.26,1681.30 132.54,1681.30 134.83,1681.30 137.11,1681.30 139.39,1681.31 141.68,1681.31 143.96,1681.31 146.25,1681.32 148.53,1681.32 150.81,1681.33 153.10,1681.33 155.38,1681.34 157.67,1681.34 159.95,1681.35 162.24,1681.36 164.52,1681.37 166.80,1681.38 169.09,1681.39 171.37,1681.40 173.66,1681.41 175.94,1681.43 178.23,1681.44 180.51,1681.46 182.79,1681.48 185.08,1681.51 187.36,1681.53 189.65,1681.56 191.93,1681.59 194.21,1681.63 196.50,1681.66 198.78,1681.71 201.07,1681.75 203.35,1681.81 205.64,1681.87 207.92,1681.93 210.20,1682.00 212.49,1682.08 214.77,1682.17 217.06,1682.27 219.34,1682.38 221.63,1682.51 223.91,1682.64 226.19,1682.79 228.48,1682.96 230.76,1683.15 233.05,1683.35 235.33,1683.58 237.61,1683.83 239.90,1684.12 242.18,1684.43 244.47,1684.77 246.75,1685.15 249.04,1685.57 251.32,1686.04 253.60,1686.55 255.89,1687.12 258.17,1687.75 260.46,1688.44 262.74,1689.20 265.03,1690.04 267.31,1690.96 269.59,1691.97 271.88,1693.08 274.16,1694.30 276.45,1695.62 278.73,1697.07 281.01,1698.65 283.30,1700.36 285.58,1702.22 287.87,1704.23 290.15,1706.40 292.44,1708.74 294.72,1711.24 297.00,1713.91 299.29,1716.77 301.57,1719.79 303.86,1722.99 306.14,1726.36 308.43,1729.89 310.71,1733.57 312.99,1737.39 315.28,1741.35 317.56,1745.41 319.85,1749.56 322.13,1753.78 324.41,1758.05 326.70,1762.34 328.98,1766.63 331.27,1770.90 333.55,1775.12 335.84,1779.27 338.12,1783.33 340.40,1787.29 342.69,1791.11 344.97,1794.79 347.26,1798.32 349.54,1801.69 351.83,1804.89 354.11,1807.91 356.39,1810.77 358.68,1813.44 360.96,1815.94 363.25,1818.28 365.53,1820.45 367.81,1822.46 370.10,1824.32 372.38,1826.03 374.67,1827.61 376.95,1829.06 379.24,1830.38 381.52,1831.60" fill="none" stroke="#b25ae4" stroke-width="1.8"/>
<line x1="73.10" y1="1681.28" x2="91.60" y2="1681.28" stroke="#f4b07c" stroke-width="1.8" />
<polyline points="107.41,1681.28 109.70,1681.28 111.98,1681.28 114.27,1681.28 116.55,1681.28 118.84,1681.29 121.12,1681.29 123.40,1681.29 125.69,1681.29 127.97,1681.29 130.26,1681.29 132.54,1681.29 134.83,1681.29 137.11,1681.29 139.39,1681.29 141.68,1681.30 143.96,1681.30 146.25,1681.30 148.53,1681.30 150.81,1681.30 153.10,1681.31 155.38,1681.31 157.67,1681.31 159.95,1681.32 162.24,1681.32 164.52,1681.33 166.80,1681.33 169.09,1681.34 171.37,1681.35 173.66,1681.35 175.94,1681.36 178.23,1681.37 180.51,1681.38 182.79,1681.40 185.08,1681.41 187.36,1681.43 189.65,1681.44 191.93,1681.46 194.21,1681.48 196.50,1681.51 198.78,1681.54 201.07,1681.57 203.35,1681.60 205.64,1681.64 207.92,1681.68 210.20,1681.73 212.49,1681.78 214.77,1681.84 217.06,1681.91 219.34,1681.98 221.63,1682.06 223.91,1682.15 226.19,1682.26 228.48,1682.37 230.76,1682.50 233.05,1682.65 235.33,1682.81 237.61,1682.99 239.90,1683.19 242.18,1683.41 244.47,1683.66 246.75,1683.94 249.04,1684.25 251.32,1684.59 253.60,1684.98 255.89,1685.40 258.17,1685.88 260.46,1686.41 262.74,1687.00 265.03,1687.65 267.31,1688.37 269.59,1689.18 271.88,1690.06 274.16,1691.04 276.45,1692.13 278.73,1693.32 281.01,1694.63 283.30,1696.07 285.58,1697.65 287.87,1699.38 290.15,1701.26 292.44,1703.32 294.72,1705.54 297.00,1707.95 299.29,1710.55 301.57,1713.34 303.86,1716.32 306.14,1719.50 308.43,1722.88 310.71,1726.44 312.99,1730.19 315.28,1734.11 317.56,1738.18 319.85,1742.39 322.13,1746.72 324.41,1751.14 326.70,1755.64 328.98,1760.17 331.27,1764.72 333.55,1769.25 335.84,1773.74 338.12,1778.16 340.40,1782.49 342.69,1786.69 344.97,1790.76 347.26,1794.67 349.54,1798.41 351.83,1801.96 354.11,1805.33 356.39,1808.50 358.68,1811.48 360.96,1814.26 363.25,1816.84 365.53,1819.24 367.81,1821.46 370.10,1823.51 372.38,1825.38 374.67,1827.10 376.95,1828.68 379.24,1830.11 381.52,1831.42" fill="none" stroke="#f4b07c" stroke-width="1.8"/>
<line x1="73.10" y1="1680.44" x2="91.60" y2="1680.44" stroke="#000" stroke-width="1.8" />
<polyline points="107.41,1680.47 109.70,1680.47 111.98,1680.47 114.27,1680.48 116.55,1680.48 118.84,1680.49 121.12,1680.49 123.40,1680.50 125.69,1680.50 127.97,1680.51 130.26,1680.52 132.54,1680.53 134.83,1680.54 137.11,1680.55 139.39,1680.57 141.68,1680.58 143.96,1680.60 146.25,1680.62 148.53,1680.64 150.81,1680.66 153.10,1680.69 155.38,1680.71 157.67,1680.75 159.95,1680.78 162.24,1680.82 164.52,1680.87 166.80,1680.92 169.09,1680.98 171.37,1681.04 173.66,1681.11 175.94,1681.19 178.23,1681.28 180.51,1681.38 182.79,1681.49 185.08,1681.62 187.36,1681.75 189.65,1681.91 191.93,1682.08 194.21,1682.27 196.50,1682.49 198.78,1682.73 201.07,1683.00 203.35,1683.30 205.64,1683.63 207.92,1684.00 210.20,1684.41 212.49,1684.87 214.77,1685.38 217.06,1685.94 219.34,1686.57 221.63,1687.27 223.91,1688.04 226.19,1688.89 228.48,1689.84 230.76,1690.88 233.05,1692.03 235.33,1693.29 237.61,1694.68 239.90,1696.20 242.18,1697.87 244.47,1699.69 246.75,1701.66 249.04,1703.81 251.32,1706.13 253.60,1708.64 255.89,1711.33 258.17,1714.21 260.46,1717.28 262.74,1720.54 265.03,1723.98 267.31,1727.60 269.59,1731.39 271.88,1735.32 274.16,1739.40 276.45,1743.58 278.73,1747.87 281.01,1752.22 283.30,1756.61 285.58,1761.01 287.87,1765.41 290.15,1769.76 292.44,1774.05 294.72,1778.25 297.00,1782.33 299.29,1786.28 301.57,1790.07 303.86,1793.71 306.14,1797.16 308.43,1800.44 310.71,1803.52 312.99,1806.42 315.28,1809.12 317.56,1811.64 319.85,1813.98 322.13,1816.14 324.41,1818.13 326.70,1819.96 328.98,1821.63 331.27,1823.17 333.55,1824.56 335.84,1825.84 338.12,1826.99 340.40,1828.04 342.69,1829.00 344.97,1829.86 347.26,1830.63 349.54,1831.34 351.83,1831.97 354.11,1832.54 356.39,1833.05 358.68,1833.52 360.96,1833.93 363.25,1834.31 365.53,1834.64 367.81,1834.94 370.10,1835.21 372.38,1835.45 374.67,1835.67 376.95,1835.86 379.24,1836.04 381.52,1836.19" fill="none" stroke="#000" stroke-width="1.8"/>
<line x1="128.50" y1="1680.44" x2="128.50" y2="1663.64" stroke="#f58a8a" stroke-width="1.6" />
<line x1="123.50" y1="1663.64" x2="133.50" y2="1663.64" stroke="#f58a8a" stroke-width="1.6" />
<line x1="123.50" y1="1680.44" x2="133.50" y2="1680.44" stroke="#f58a8a" stroke-width="1.6" />
<line x1="255.01" y1="1684.64" x2="255.01" y2="1671.20" stroke="#f58a8a" stroke-width="1.6" />
<line x1="250.01" y1="1671.20" x2="260.01" y2="1671.20" stroke="#f58a8a" stroke-width="1.6" />
<line x1="250.01" y1="1684.64" x2="260.01" y2="1684.64" stroke="#f58a8a" stroke-width="1.6" />
<circle cx="73.10" cy="1675.40" r="5.5" fill="#f58a8a" stroke="none" stroke-width="0" />
<circle cx="128.50" cy="1672.04" r="5.5" fill="#f58a8a" stroke="none" stroke-width="0" />
<circle cx="170.67" cy="1673.72" r="5.5" fill="#f58a8a" stroke="none" stroke-width="0" />
<circle cx="212.84" cy="1676.24" r="5.5" fill="#f58a8a" stroke="none" stroke-width="0" />
<circle cx="255.01" cy="1677.92" r="5.5" fill="#f58a8a" stroke="none" stroke-width="0" />
<circle cx="297.18" cy="1677.08" r="5.5" fill="#f58a8a" stroke="none" stroke-width="0" />
<circle cx="339.35" cy="1675.40" r="5.5" fill="#f58a8a" stroke="none" stroke-width="0" />
<circle cx="381.52" cy="1676.58" r="5.5" fill="#f58a8a" stroke="none" stroke-width="0" />
<circle cx="128.50" cy="1681.35" r="5.5" fill="#cccccc" stroke="none" stroke-width="0" />
<circle cx="170.67" cy="1681.66" r="5.5" fill="#cccccc" stroke="none" stroke-width="0" />
<circle cx="212.84" cy="1683.41" r="5.5" fill="#cccccc" stroke="none" stroke-width="0" />
<circle cx="255.01" cy="1692.59" r="5.5" fill="#cccccc" stroke="none" stroke-width="0" />
<circle cx="297.18" cy="1729.37" r="5.5" fill="#cccccc" stroke="none" stroke-width="0" />
<circle cx="339.35" cy="1795.31" r="5.5" fill="#cccccc" stroke="none" stroke-width="0" />
<circle cx="381.52" cy="1832.09" r="5.5" fill="#cccccc" stroke="none" stroke-width="0" />
<circle cx="73.10" cy="1680.44" r="5.5" fill="#cccccc" stroke="none" stroke-width="0" />
<circle cx="128.50" cy="1681.38" r="5.5" fill="#9a6a2c" stroke="none" stroke-width="0" />
<circle cx="170.67" cy="1681.81" r="5.5" fill="#9a6a2c" stroke="none" stroke-width="0" />
<circle cx="212.84" cy="1684.02" r="5.5" fill="#9a6a2c" stroke="none" stroke-width="0" />
<circle cx="255.01" cy="1694.72" r="5.5" fill="#9a6a2c" stroke="none" stroke-width="0" />
<circle cx="297.18" cy="1733.43" r="5.5" fill="#9a6a2c" stroke="none" stroke-width="0" />
<circle cx="339.35" cy="1796.93" r="5.5" fill="#9a6a2c" stroke="none" stroke-width="0" />
<circle cx="381.52" cy="1831.87" r="5.5" fill="#9a6a2c" stroke="none" stroke-width="0" />
<circle cx="73.10" cy="1680.44" r="5.5" fill="#9a6a2c" stroke="none" stroke-width="0" />
<circle cx="128.50" cy="1681.30" r="5.5" fill="#5aa5f2" stroke="none" stroke-width="0" />
<circle cx="170.67" cy="1681.44" r="5.5" fill="#5aa5f2" stroke="none" stroke-width="0" />
<circle cx="212.84" cy="1682.37" r="5.5" fill="#5aa5f2" stroke="none" stroke-width="0" />
<circle cx="255.01" cy="1688.73" r="5.5" fill="#5aa5f2" stroke="none" stroke-width="0" />
<circle cx="297.18" cy="1722.49" r="5.5" fill="#5aa5f2" stroke="none" stroke-width="0" />
<circle cx="339.35" cy="1795.89" r="5.5" fill="#5aa5f2" stroke="none" stroke-width="0" />
<circle cx="381.52" cy="1834.43" r="5.5" fill="#5aa5f2" stroke="none" stroke-width="0" />
<circle cx="73.10" cy="1680.44" r="5.5" fill="#5aa5f2" stroke="none" stroke-width="0" />
<circle cx="128.50" cy="1681.32" r="5.5" fill="#b8b820" stroke="none" stroke-width="0" />
<circle cx="170.67" cy="1681.51" r="5.5" fill="#b8b820" stroke="none" stroke-width="0" />
<circle cx="212.84" cy="1682.75" r="5.5" fill="#b8b820" stroke="none" stroke-width="0" />
<circle cx="255.01" cy="1690.10" r="5.5" fill="#b8b820" stroke="none" stroke-width="0" />
<circle cx="297.18" cy="1724.46" r="5.5" fill="#b8b820" stroke="none" stroke-width="0" />
<circle cx="339.35" cy="1794.14" r="5.5" fill="#b8b820" stroke="none" stroke-width="0" />
<circle cx="381.52" cy="1832.91" r="5.5" fill="#b8b820" stroke="none" stroke-width="0" />
<circle cx="73.10" cy="1680.44" r="5.5" fill="#b8b820" stroke="none" stroke-width="0" />
<circle cx="128.50" cy="1681.31" r="5.5" fill="#2fbf8a" stroke="none" stroke-width="0" />
<circle cx="170.67" cy="1681.46" r="5.5" fill="#2fbf8a" stroke="none" stroke-width="0" />
<circle cx="212.84" cy="1682.47" r="5.5" fill="#2fbf8a" stroke="none" stroke-width="0" />
<circle cx="255.01" cy="1688.82" r="5.5" fill="#2fbf8a" stroke="none" stroke-width="0" />
<circle cx="297.18" cy="1720.78" r="5.5" fill="#2fbf8a" stroke="none" stroke-width="0" />
<circle cx="339.35" cy="1791.57" r="5.5" fill="#2fbf8a" stroke="none" stroke-width="0" />
<circle cx="381.52" cy="1832.64" r="5.5" fill="#2fbf8a" stroke="none" stroke-width="0" />
<circle cx="73.10" cy="1680.44" r="5.5" fill="#2fbf8a" stroke="none" stroke-width="0" />
<circle cx="128.50" cy="1681.30" r="5.5" fill="#b25ae4" stroke="none" stroke-width="0" />
<circle cx="170.67" cy="1681.40" r="5.5" fill="#b25ae4" stroke="none" stroke-width="0" />
<circle cx="212.84" cy="1682.10" r="5.5" fill="#b25ae4" stroke="none" stroke-width="0" />
<circle cx="255.01" cy="1686.90" r="5.5" fill="#b25ae4" stroke="none" stroke-width="0" />
<circle cx="297.18" cy="1714.13" r="5.5" fill="#b25ae4" stroke="none" stroke-width="0" />
<circle cx="339.35" cy="1785.48" r="5.5" fill="#b25ae4" stroke="none" stroke-width="0" />
<circle cx="381.52" cy="1831.60" r="5.5" fill="#b25ae4" stroke="none" stroke-width="0" />
<circle cx="73.10" cy="1680.44" r="5.5" fill="#b25ae4" stroke="none" stroke-width="0" />
<circle cx="128.50" cy="1681.29" r="5.5" fill="#f4b07c" stroke="none" stroke-width="0" />
<circle cx="170.67" cy="1681.34" r="5.5" fill="#f4b07c" stroke="none" stroke-width="0" />
<circle cx="212.84" cy="1681.79" r="5.5" fill="#f4b07c" stroke="none" stroke-width="0" />
<circle cx="255.01" cy="1685.23" r="5.5" fill="#f4b07c" stroke="none" stroke-width="0" />
<circle cx="297.18" cy="1708.14" r="5.5" fill="#f4b07c" stroke="none" stroke-width="0" />
<circle cx="339.35" cy="1780.50" r="5.5" fill="#f4b07c" stroke="none" stroke-width="0" />
<circle cx="381.52" cy="1831.42" r="5.5" fill="#f4b07c" stroke="none" stroke-width="0" />
<circle cx="73.10" cy="1680.44" r="5.5" fill="#f4b07c" stroke="none" stroke-width="0" />
<line x1="73.10" y1="1680.44" x2="73.10" y2="1670.36" stroke="#000" stroke-width="1.6" />
<line x1="68.10" y1="1670.36" x2="78.10" y2="1670.36" stroke="#000" stroke-width="1.6" />
<line x1="68.10" y1="1680.44" x2="78.10" y2="1680.44" stroke="#000" stroke-width="1.6" />
<line x1="128.50" y1="1682.12" x2="128.50" y2="1672.04" stroke="#000" stroke-width="1.6" />
<line x1="123.50" y1="1672.04" x2="133.50" y2="1672.04" stroke="#000" stroke-width="1.6" />
<line x1="123.50" y1="1682.12" x2="133.50" y2="1682.12" stroke="#000" stroke-width="1.6" />
<line x1="170.67" y1="1683.80" x2="170.67" y2="1670.36" stroke="#000" stroke-width="1.6" />
<line x1="165.67" y1="1670.36" x2="175.67" y2="1670.36" stroke="#000" stroke-width="1.6" />
<line x1="165.67" y1="1683.80" x2="175.67" y2="1683.80" stroke="#000" stroke-width="1.6" />
<line x1="212.84" y1="1701.44" x2="212.84" y2="1679.60" stroke="#000" stroke-width="1.6" />
<line x1="207.84" y1="1679.60" x2="217.84" y2="1679.60" stroke="#000" stroke-width="1.6" />
<line x1="207.84" y1="1701.44" x2="217.84" y2="1701.44" stroke="#000" stroke-width="1.6" />
<line x1="255.01" y1="1719.92" x2="255.01" y2="1708.16" stroke="#000" stroke-width="1.6" />
<line x1="250.01" y1="1708.16" x2="260.01" y2="1708.16" stroke="#000" stroke-width="1.6" />
<line x1="250.01" y1="1719.92" x2="260.01" y2="1719.92" stroke="#000" stroke-width="1.6" />
<line x1="297.18" y1="1791.32" x2="297.18" y2="1772.84" stroke="#000" stroke-width="1.6" />
<line x1="292.18" y1="1772.84" x2="302.18" y2="1772.84" stroke="#000" stroke-width="1.6" />
<line x1="292.18" y1="1791.32" x2="302.18" y2="1791.32" stroke="#000" stroke-width="1.6" />
<line x1="339.35" y1="1834.16" x2="339.35" y2="1815.68" stroke="#000" stroke-width="1.6" />
<line x1="334.35" y1="1815.68" x2="344.35" y2="1815.68" stroke="#000" stroke-width="1.6" />
<line x1="334.35" y1="1834.16" x2="344.35" y2="1834.16" stroke="#000" stroke-width="1.6" />
<line x1="381.52" y1="1845.92" x2="381.52" y2="1839.20" stroke="#000" stroke-width="1.6" />
<line x1="376.52" y1="1839.20" x2="386.52" y2="1839.20" stroke="#000" stroke-width="1.6" />
<line x1="376.52" y1="1845.92" x2="386.52" y2="1845.92" stroke="#000" stroke-width="1.6" />
<circle cx="73.10" cy="1675.40" r="5.8" fill="#000" stroke="none" stroke-width="0" />
<circle cx="128.50" cy="1677.08" r="5.8" fill="#000" stroke="none" stroke-width="0" />
<circle cx="170.67" cy="1677.08" r="5.8" fill="#000" stroke="none" stroke-width="0" />
<circle cx="212.84" cy="1690.52" r="5.8" fill="#000" stroke="none" stroke-width="0" />
<circle cx="255.01" cy="1714.04" r="5.8" fill="#000" stroke="none" stroke-width="0" />
<circle cx="297.18" cy="1782.08" r="5.8" fill="#000" stroke="none" stroke-width="0" />
<circle cx="339.35" cy="1824.92" r="5.8" fill="#000" stroke="none" stroke-width="0" />
<circle cx="381.52" cy="1842.56" r="5.8" fill="#000" stroke="none" stroke-width="0" />
<line x1="454.00" y1="1660.60" x2="477.00" y2="1660.60" stroke="#000000" stroke-width="1.6" />
<circle cx="465.50" cy="1660.60" r="5.5" fill="#000000" stroke="none" stroke-width="0" />
<text x="489.30" y="1666.80" font-size="17" fill="#000" textLength="97.9" lengthAdjust="spacingAndGlyphs" >hTAAR1-WT</text>
<line x1="454.00" y1="1702.00" x2="477.00" y2="1702.00" stroke="#f58a8a" stroke-width="1.6" />
<circle cx="465.50" cy="1702.00" r="5.5" fill="#f58a8a" stroke="none" stroke-width="0" />
<text x="489.30" y="1708.20" font-size="17" fill="#000" textLength="81.0" lengthAdjust="spacingAndGlyphs" >D103<tspan font-size="12" dy="-8">3.32</tspan><tspan dy="8">A</tspan></text>
<line x1="454.00" y1="1734.50" x2="477.00" y2="1734.50" stroke="#9a6a2c" stroke-width="1.6" />
<circle cx="465.50" cy="1734.50" r="5.5" fill="#9a6a2c" stroke="none" stroke-width="0" />
<text x="489.30" y="1740.70" font-size="17" fill="#000" textLength="74.0" lengthAdjust="spacingAndGlyphs" >I104<tspan font-size="12" dy="-8">3.33</tspan><tspan dy="8">A</tspan></text>
<line x1="454.00" y1="1768.80" x2="477.00" y2="1768.80" stroke="#2fbf8a" stroke-width="1.6" />
<circle cx="465.50" cy="1768.80" r="5.5" fill="#2fbf8a" stroke="none" stroke-width="0" />
<text x="489.30" y="1775.00" font-size="17" fill="#000" textLength="81.0" lengthAdjust="spacingAndGlyphs" >S107<tspan font-size="12" dy="-8">3.36</tspan><tspan dy="8">A</tspan></text>
<line x1="454.00" y1="1802.80" x2="477.00" y2="1802.80" stroke="#5aa5f2" stroke-width="1.6" />
<circle cx="465.50" cy="1802.80" r="5.5" fill="#5aa5f2" stroke="none" stroke-width="0" />
<text x="489.30" y="1809.00" font-size="17" fill="#000" textLength="87.0" lengthAdjust="spacingAndGlyphs" >W264<tspan font-size="12" dy="-8">6.48</tspan><tspan dy="8">A</tspan></text>
<line x1="454.00" y1="1836.00" x2="477.00" y2="1836.00" stroke="#cccccc" stroke-width="1.6" />
<circle cx="465.50" cy="1836.00" r="5.5" fill="#cccccc" stroke="none" stroke-width="0" />
<text x="489.30" y="1842.20" font-size="17" fill="#000" textLength="79.0" lengthAdjust="spacingAndGlyphs" >F267<tspan font-size="12" dy="-8">6.51</tspan><tspan dy="8">A</tspan></text>
<line x1="454.00" y1="1867.40" x2="477.00" y2="1867.40" stroke="#b25ae4" stroke-width="1.6" />
<circle cx="465.50" cy="1867.40" r="5.5" fill="#b25ae4" stroke="none" stroke-width="0" />
<text x="489.30" y="1873.60" font-size="17" fill="#000" textLength="79.0" lengthAdjust="spacingAndGlyphs" >F268<tspan font-size="12" dy="-8">6.52</tspan><tspan dy="8">A</tspan></text>
<line x1="454.00" y1="1901.40" x2="477.00" y2="1901.40" stroke="#b8b820" stroke-width="1.6" />
<circle cx="465.50" cy="1901.40" r="5.5" fill="#b8b820" stroke="none" stroke-width="0" />
<text x="489.30" y="1907.60" font-size="17" fill="#000" textLength="75.0" lengthAdjust="spacingAndGlyphs" >I290<tspan font-size="12" dy="-8">7.39</tspan><tspan dy="8">A</tspan></text>
<line x1="454.00" y1="1935.70" x2="477.00" y2="1935.70" stroke="#f4b07c" stroke-width="1.6" />
<circle cx="465.50" cy="1935.70" r="5.5" fill="#f4b07c" stroke="none" stroke-width="0" />
<text x="489.30" y="1941.90" font-size="17" fill="#000" textLength="82.0" lengthAdjust="spacingAndGlyphs" >Y294<tspan font-size="12" dy="-8">7.43</tspan><tspan dy="8">A</tspan></text>
<text transform="translate(102.9,2174) rotate(-71)" font-size="23" font-style="italic" stroke="#000" stroke-width="0.55" x="0" y="0">hTAAR1</text>
<text transform="translate(147.9,2174) rotate(-71)" font-size="23" font-style="italic" stroke="#000" stroke-width="0.55" x="0" y="0">mTAAR1</text>
<text transform="translate(192.8,2174) rotate(-71)" font-size="23" font-style="italic" stroke="#000" stroke-width="0.55" x="0" y="0">DRD1</text>
<text transform="translate(239.7,2174) rotate(-71)" font-size="23" font-style="italic" stroke="#000" stroke-width="0.55" x="0" y="0">DRD2</text>
<text transform="translate(284.4,2174) rotate(-71)" font-size="23" font-style="italic" stroke="#000" stroke-width="0.55" x="0" y="0">DRD3</text>
<text transform="translate(329.5,2174) rotate(-71)" font-size="23" font-style="italic" stroke="#000" stroke-width="0.55" x="0" y="0">DRD4</text>
<text transform="translate(375.1,2174) rotate(-71)" font-size="23" font-style="italic" stroke="#000" stroke-width="0.55" x="0" y="0">DRD5</text>
<text transform="translate(419.0,2174) rotate(-71)" font-size="23" font-style="italic" stroke="#000" stroke-width="0.55" x="0" y="0">5-HT<tspan font-size="13" dy="5">1A</tspan><tspan dy="-5">R</tspan></text>
<text transform="translate(468.3,2174) rotate(-71)" font-size="23" font-style="italic" stroke="#000" stroke-width="0.55" x="0" y="0">5-HT<tspan font-size="13" dy="5">2A</tspan><tspan dy="-5">R</tspan></text>
<text transform="translate(513.0,2174) rotate(-71)" font-size="23" font-style="italic" stroke="#000" stroke-width="0.55" x="0" y="0">&#946;<tspan font-size="13" dy="5">1</tspan><tspan dy="-5">AR</tspan></text>
<text transform="translate(557.6,2174) rotate(-71)" font-size="23" font-style="italic" stroke="#000" stroke-width="0.55" x="0" y="0">&#946;<tspan font-size="13" dy="5">2</tspan><tspan dy="-5">AR</tspan></text>
<circle cx="98.40" cy="2205.80" r="18.3" fill="#efefef" stroke="none" stroke-width="0" />
<text x="98.40" y="2214.00" font-size="23.5" fill="#737373" text-anchor="middle" style="stroke:#737373;stroke-width:0.9" >C</text>
<circle cx="143.40" cy="2205.80" r="18.3" fill="#efefef" stroke="none" stroke-width="0" />
<text x="143.40" y="2214.00" font-size="23.5" fill="#737373" text-anchor="middle" style="stroke:#737373;stroke-width:0.9" >C</text>
<circle cx="188.30" cy="2205.80" r="18.3" fill="#efefef" stroke="none" stroke-width="0" />
<text x="188.30" y="2214.00" font-size="23.5" fill="#737373" text-anchor="middle" style="stroke:#737373;stroke-width:0.9" >C</text>
<circle cx="235.20" cy="2205.80" r="18.3" fill="#efefef" stroke="none" stroke-width="0" />
<text x="235.20" y="2214.00" font-size="23.5" fill="#737373" text-anchor="middle" style="stroke:#737373;stroke-width:0.9" >C</text>
<circle cx="279.90" cy="2205.80" r="18.3" fill="#efefef" stroke="none" stroke-width="0" />
<text x="279.90" y="2214.00" font-size="23.5" fill="#737373" text-anchor="middle" style="stroke:#737373;stroke-width:0.9" >C</text>
<circle cx="325.00" cy="2205.80" r="18.3" fill="#efefef" stroke="none" stroke-width="0" />
<text x="325.00" y="2214.00" font-size="23.5" fill="#737373" text-anchor="middle" style="stroke:#737373;stroke-width:0.9" >C</text>
<circle cx="370.60" cy="2205.80" r="18.3" fill="#efefef" stroke="none" stroke-width="0" />
<text x="370.60" y="2214.00" font-size="23.5" fill="#737373" text-anchor="middle" style="stroke:#737373;stroke-width:0.9" >C</text>
<circle cx="414.50" cy="2205.80" r="18.3" fill="#efefef" stroke="none" stroke-width="0" />
<text x="414.50" y="2214.00" font-size="23.5" fill="#737373" text-anchor="middle" style="stroke:#737373;stroke-width:0.9" >C</text>
<circle cx="463.80" cy="2205.80" r="18.3" fill="#efefef" stroke="none" stroke-width="0" />
<text x="463.80" y="2214.00" font-size="23.5" fill="#737373" text-anchor="middle" style="stroke:#737373;stroke-width:0.9" >C</text>
<circle cx="508.50" cy="2205.80" r="18.3" fill="#efefef" stroke="none" stroke-width="0" />
<text x="508.50" y="2214.00" font-size="23.5" fill="#737373" text-anchor="middle" style="stroke:#737373;stroke-width:0.9" >C</text>
<circle cx="553.10" cy="2205.80" r="18.3" fill="#efefef" stroke="none" stroke-width="0" />
<text x="553.10" y="2214.00" font-size="23.5" fill="#737373" text-anchor="middle" style="stroke:#737373;stroke-width:0.9" >C</text>
<circle cx="98.40" cy="2261.40" r="18.3" fill="#efefef" stroke="none" stroke-width="0" />
<text x="98.40" y="2269.60" font-size="23.5" fill="#737373" text-anchor="middle" style="stroke:#737373;stroke-width:0.9" >S</text>
<circle cx="143.40" cy="2261.40" r="18.3" fill="#efefef" stroke="none" stroke-width="0" />
<text x="143.40" y="2269.60" font-size="23.5" fill="#737373" text-anchor="middle" style="stroke:#737373;stroke-width:0.9" >S</text>
<circle cx="188.30" cy="2261.40" r="18.3" fill="#efefef" stroke="none" stroke-width="0" />
<text x="188.30" y="2269.60" font-size="23.5" fill="#737373" text-anchor="middle" style="stroke:#737373;stroke-width:0.9" >D</text>
<circle cx="235.20" cy="2261.40" r="18.3" fill="#efefef" stroke="none" stroke-width="0" />
<text x="235.20" y="2269.60" font-size="23.5" fill="#737373" text-anchor="middle" style="stroke:#737373;stroke-width:0.9" >I</text>
<circle cx="279.90" cy="2261.40" r="18.3" fill="#efefef" stroke="none" stroke-width="0" />
<text x="279.90" y="2269.60" font-size="23.5" fill="#737373" text-anchor="middle" style="stroke:#737373;stroke-width:0.9" >S</text>
<circle cx="325.00" cy="2261.40" r="18.3" fill="#efefef" stroke="none" stroke-width="0" />
<text x="325.00" y="2269.60" font-size="23.5" fill="#737373" text-anchor="middle" style="stroke:#737373;stroke-width:0.9" >R</text>
<circle cx="370.60" cy="2261.40" r="18.3" fill="#efefef" stroke="none" stroke-width="0" />
<text x="370.60" y="2269.60" font-size="23.5" fill="#737373" text-anchor="middle" style="stroke:#737373;stroke-width:0.9" >D</text>
<circle cx="414.50" cy="2261.40" r="18.3" fill="#efefef" stroke="none" stroke-width="0" />
<text x="414.50" y="2269.60" font-size="23.5" fill="#737373" text-anchor="middle" style="stroke:#737373;stroke-width:0.9" >T</text>
<circle cx="463.80" cy="2261.40" r="18.3" fill="#efefef" stroke="none" stroke-width="0" />
<text x="463.80" y="2269.60" font-size="23.5" fill="#737373" text-anchor="middle" style="stroke:#737373;stroke-width:0.9" >L</text>
<circle cx="508.50" cy="2261.40" r="18.3" fill="#efefef" stroke="none" stroke-width="0" />
<text x="508.50" y="2269.60" font-size="23.5" fill="#737373" text-anchor="middle" style="stroke:#737373;stroke-width:0.9" >D</text>
<circle cx="553.10" cy="2261.40" r="18.3" fill="#efefef" stroke="none" stroke-width="0" />
<text x="553.10" y="2269.60" font-size="23.5" fill="#737373" text-anchor="middle" style="stroke:#737373;stroke-width:0.9" >F</text>
<circle cx="98.40" cy="2319.20" r="18.3" fill="#efefef" stroke="none" stroke-width="0" />
<text x="98.40" y="2327.40" font-size="23.5" fill="#737373" text-anchor="middle" style="stroke:#737373;stroke-width:0.9" >V</text>
<circle cx="143.40" cy="2319.20" r="18.3" fill="#efefef" stroke="none" stroke-width="0" />
<text x="143.40" y="2327.40" font-size="23.5" fill="#737373" text-anchor="middle" style="stroke:#737373;stroke-width:0.9" >P</text>
<circle cx="188.30" cy="2319.20" r="18.3" fill="#efefef" stroke="none" stroke-width="0" />
<text x="188.30" y="2327.40" font-size="23.5" fill="#737373" text-anchor="middle" style="stroke:#737373;stroke-width:0.9" >S</text>
<circle cx="235.20" cy="2319.20" r="18.3" fill="#efefef" stroke="none" stroke-width="0" />
<text x="235.20" y="2327.40" font-size="23.5" fill="#737373" text-anchor="middle" style="stroke:#737373;stroke-width:0.9" >I</text>
<circle cx="279.90" cy="2319.20" r="18.3" fill="#efefef" stroke="none" stroke-width="0" />
<text x="279.90" y="2327.40" font-size="23.5" fill="#737373" text-anchor="middle" style="stroke:#737373;stroke-width:0.9" >I</text>
<circle cx="325.00" cy="2319.20" r="18.3" fill="#efefef" stroke="none" stroke-width="0" />
<text x="325.00" y="2327.40" font-size="23.5" fill="#737373" text-anchor="middle" style="stroke:#737373;stroke-width:0.9" >L</text>
<circle cx="370.60" cy="2319.20" r="18.3" fill="#efefef" stroke="none" stroke-width="0" />
<text x="370.60" y="2327.40" font-size="23.5" fill="#737373" text-anchor="middle" style="stroke:#737373;stroke-width:0.9" >S</text>
<circle cx="414.50" cy="2319.20" r="18.3" fill="#efefef" stroke="none" stroke-width="0" />
<text x="414.50" y="2327.40" font-size="23.5" fill="#737373" text-anchor="middle" style="stroke:#737373;stroke-width:0.9" >I</text>
<circle cx="463.80" cy="2319.20" r="18.3" fill="#efefef" stroke="none" stroke-width="0" />
<text x="463.80" y="2327.40" font-size="23.5" fill="#737373" text-anchor="middle" style="stroke:#737373;stroke-width:0.9" >L</text>
<circle cx="508.50" cy="2319.20" r="18.3" fill="#efefef" stroke="none" stroke-width="0" />
<text x="508.50" y="2327.40" font-size="23.5" fill="#737373" text-anchor="middle" style="stroke:#737373;stroke-width:0.9" >F</text>
<circle cx="553.10" cy="2319.20" r="18.3" fill="#efefef" stroke="none" stroke-width="0" />
<text x="553.10" y="2327.40" font-size="23.5" fill="#737373" text-anchor="middle" style="stroke:#737373;stroke-width:0.9" >F</text>
<circle cx="98.40" cy="2375.20" r="18.3" fill="#efefef" stroke="none" stroke-width="0" />
<text x="98.40" y="2383.40" font-size="23.5" fill="#737373" text-anchor="middle" style="stroke:#737373;stroke-width:0.9" >F</text>
<circle cx="143.40" cy="2375.20" r="18.3" fill="#efefef" stroke="none" stroke-width="0" />
<text x="143.40" y="2383.40" font-size="23.5" fill="#737373" text-anchor="middle" style="stroke:#737373;stroke-width:0.9" >F</text>
<circle cx="188.30" cy="2375.20" r="18.3" fill="#efefef" stroke="none" stroke-width="0" />
<text x="188.30" y="2383.40" font-size="23.5" fill="#737373" text-anchor="middle" style="stroke:#737373;stroke-width:0.9" >S</text>
<circle cx="235.20" cy="2375.20" r="18.3" fill="#efefef" stroke="none" stroke-width="0" />
<rect x="226.20" y="2373.40" width="18.00" height="4.00" rx="0" fill="#737373" />
<circle cx="279.90" cy="2375.20" r="18.3" fill="#efefef" stroke="none" stroke-width="0" />
<rect x="270.90" y="2373.40" width="18.00" height="4.00" rx="0" fill="#737373" />
<circle cx="325.00" cy="2375.20" r="18.3" fill="#efefef" stroke="none" stroke-width="0" />
<rect x="316.00" y="2373.40" width="18.00" height="4.00" rx="0" fill="#737373" />
<circle cx="370.60" cy="2375.20" r="18.3" fill="#efefef" stroke="none" stroke-width="0" />
<text x="370.60" y="2383.40" font-size="23.5" fill="#737373" text-anchor="middle" style="stroke:#737373;stroke-width:0.9" >S</text>
<circle cx="414.50" cy="2375.20" r="18.3" fill="#efefef" stroke="none" stroke-width="0" />
<text x="414.50" y="2383.40" font-size="23.5" fill="#737373" text-anchor="middle" style="stroke:#737373;stroke-width:0.9" >S</text>
<circle cx="463.80" cy="2375.20" r="18.3" fill="#efefef" stroke="none" stroke-width="0" />
<rect x="454.80" y="2373.40" width="18.00" height="4.00" rx="0" fill="#737373" />
<circle cx="508.50" cy="2375.20" r="18.3" fill="#efefef" stroke="none" stroke-width="0" />
<text x="508.50" y="2383.40" font-size="23.5" fill="#737373" text-anchor="middle" style="stroke:#737373;stroke-width:0.9" >V</text>
<circle cx="553.10" cy="2375.20" r="18.3" fill="#efefef" stroke="none" stroke-width="0" />
<rect x="544.10" y="2373.40" width="18.00" height="4.00" rx="0" fill="#737373" />
<circle cx="98.40" cy="2481.30" r="18.3" fill="#efefef" stroke="none" stroke-width="0" />
<text x="98.40" y="2489.50" font-size="23.5" fill="#737373" text-anchor="middle" style="stroke:#737373;stroke-width:0.9" >S</text>
<circle cx="143.40" cy="2481.30" r="18.3" fill="#efefef" stroke="none" stroke-width="0" />
<text x="143.40" y="2489.50" font-size="23.5" fill="#737373" text-anchor="middle" style="stroke:#737373;stroke-width:0.9" >S</text>
<circle cx="188.30" cy="2481.30" r="18.3" fill="#efefef" stroke="none" stroke-width="0" />
<text x="188.30" y="2489.50" font-size="23.5" fill="#737373" text-anchor="middle" style="stroke:#737373;stroke-width:0.9" >S</text>
<circle cx="235.20" cy="2481.30" r="18.3" fill="#efefef" stroke="none" stroke-width="0" />
<text x="235.20" y="2489.50" font-size="23.5" fill="#737373" text-anchor="middle" style="stroke:#737373;stroke-width:0.9" >N</text>
<circle cx="279.90" cy="2481.30" r="18.3" fill="#efefef" stroke="none" stroke-width="0" />
<text x="279.90" y="2489.50" font-size="23.5" fill="#737373" text-anchor="middle" style="stroke:#737373;stroke-width:0.9" >N</text>
<circle cx="325.00" cy="2481.30" r="18.3" fill="#efefef" stroke="none" stroke-width="0" />
<text x="325.00" y="2489.50" font-size="23.5" fill="#737373" text-anchor="middle" style="stroke:#737373;stroke-width:0.9" >D</text>
<circle cx="370.60" cy="2481.30" r="18.3" fill="#efefef" stroke="none" stroke-width="0" />
<text x="370.60" y="2489.50" font-size="23.5" fill="#737373" text-anchor="middle" style="stroke:#737373;stroke-width:0.9" >N</text>
<circle cx="414.50" cy="2481.30" r="18.3" fill="#efefef" stroke="none" stroke-width="0" />
<text x="414.50" y="2489.50" font-size="23.5" fill="#737373" text-anchor="middle" style="stroke:#737373;stroke-width:0.9" >D</text>
<circle cx="463.80" cy="2481.30" r="18.3" fill="#efefef" stroke="none" stroke-width="0" />
<text x="463.80" y="2489.50" font-size="23.5" fill="#737373" text-anchor="middle" style="stroke:#737373;stroke-width:0.9" >D</text>
<circle cx="508.50" cy="2481.30" r="18.3" fill="#efefef" stroke="none" stroke-width="0" />
<text x="508.50" y="2489.50" font-size="23.5" fill="#737373" text-anchor="middle" style="stroke:#737373;stroke-width:0.9" >N</text>
<circle cx="553.10" cy="2481.30" r="18.3" fill="#efefef" stroke="none" stroke-width="0" />
<text x="553.10" y="2489.50" font-size="23.5" fill="#737373" text-anchor="middle" style="stroke:#737373;stroke-width:0.9" >N</text>
<circle cx="98.40" cy="2425.30" r="18.3" fill="#a8e27e" stroke="none" stroke-width="0" />
<text x="98.40" y="2433.50" font-size="23.5" fill="#000" font-weight="bold" text-anchor="middle" >F</text>
<circle cx="143.40" cy="2425.30" r="18.3" fill="#a8e27e" stroke="none" stroke-width="0" />
<text x="143.40" y="2433.50" font-size="23.5" fill="#000" font-weight="bold" text-anchor="middle" >F</text>
<circle cx="188.30" cy="2425.30" r="18.3" fill="#fde39c" stroke="none" stroke-width="0" />
<text x="188.30" y="2433.50" font-size="23.5" fill="#000" font-weight="bold" text-anchor="middle" >L</text>
<circle cx="235.20" cy="2425.30" r="18.3" fill="#fde39c" stroke="none" stroke-width="0" />
<text x="235.20" y="2433.50" font-size="23.5" fill="#000" font-weight="bold" text-anchor="middle" >A</text>
<circle cx="279.90" cy="2425.30" r="18.3" fill="#c862f5" stroke="none" stroke-width="0" />
<text x="279.90" y="2433.50" font-size="23.5" fill="#f7da3a" font-weight="bold" text-anchor="middle" >S</text>
<circle cx="325.00" cy="2425.30" r="18.3" fill="#f28a86" stroke="none" stroke-width="0" />
<text x="325.00" y="2433.50" font-size="23.5" fill="#f7e42a" font-weight="bold" text-anchor="middle" >E</text>
<circle cx="370.60" cy="2425.30" r="18.3" fill="#fde39c" stroke="none" stroke-width="0" />
<text x="370.60" y="2433.50" font-size="23.5" fill="#000" font-weight="bold" text-anchor="middle" >L</text>
<circle cx="414.50" cy="2425.30" r="18.3" fill="#0b66b8" stroke="none" stroke-width="0" />
<text x="414.50" y="2433.50" font-size="23.5" fill="#e6f030" font-weight="bold" text-anchor="middle" >K</text>
<circle cx="463.80" cy="2425.30" r="18.3" fill="#fde39c" stroke="none" stroke-width="0" />
<text x="463.80" y="2433.50" font-size="23.5" fill="#000" font-weight="bold" text-anchor="middle" >A</text>
<circle cx="508.50" cy="2425.30" r="18.3" fill="#c862f5" stroke="none" stroke-width="0" />
<text x="508.50" y="2433.50" font-size="23.5" fill="#f8cf3a" font-weight="bold" text-anchor="middle" >T</text>
<circle cx="553.10" cy="2425.30" r="18.3" fill="#c862f5" stroke="none" stroke-width="0" />
<text x="553.10" y="2433.50" font-size="23.5" fill="#f8cf3a" font-weight="bold" text-anchor="middle" >T</text>
<text x="73.80" y="2218.40" font-size="23" fill="#000" font-weight="bold" text-anchor="end" >45.50</text>
<text x="69.50" y="2433.80" font-size="23" fill="#000" font-weight="bold" text-anchor="end" >186*</text>
<text x="69.00" y="2489.80" font-size="23" fill="#000" font-weight="bold" text-anchor="end" >5.36</text>
<line x1="11.40" y1="2208.80" x2="11.40" y2="2428.70" stroke="#000" stroke-width="3.4" />
</svg>
</body></html>
